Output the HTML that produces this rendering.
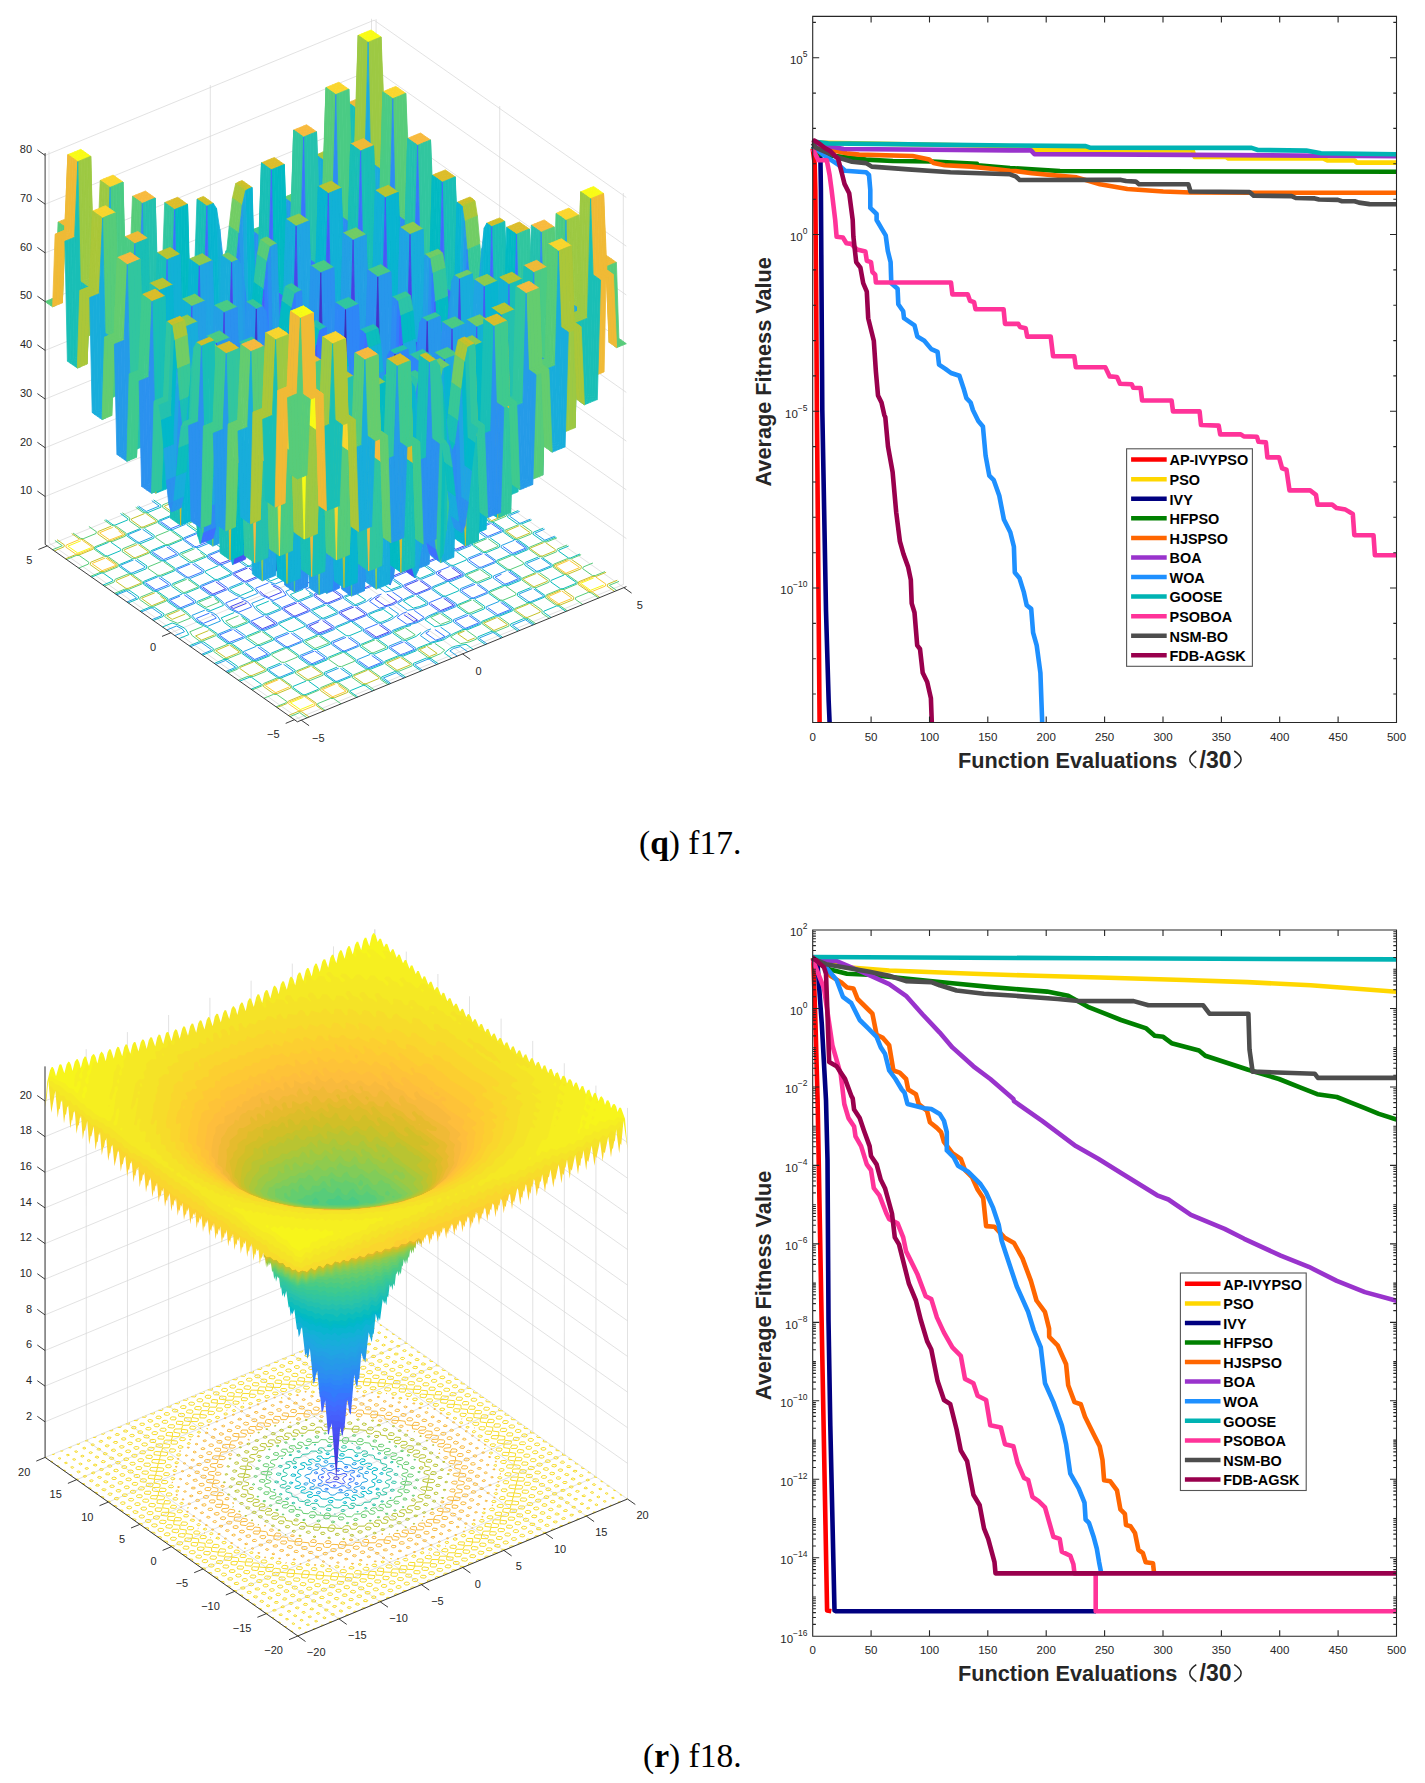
<!DOCTYPE html><html><head><meta charset="utf-8"><style>body{margin:0;background:#fff;width:1425px;height:1783px;overflow:hidden}svg{position:absolute;left:0;top:0}text{font-family:"Liberation Sans",sans-serif;fill:#262626;font-size:11px}.g{fill:none;stroke:#d6d6d6;stroke-width:.7}.ax{fill:none;stroke:#262626;stroke-width:.9}.sf path{stroke-width:8;stroke-linejoin:round}.tk{font-size:11.5px}.sp{font-size:8.5px}.al{font-size:21.7px;font-weight:bold}.lg{font-size:14.45px;font-weight:bold;fill:#000}.cap{font-family:"Liberation Serif",serif;font-size:33.5px;fill:#000}.c0{fill:#3e26a8;stroke:#3e26a8}.c1{fill:#402ab4;stroke:#402ab4}.c2{fill:#422ec0;stroke:#422ec0}.c3{fill:#4332cb;stroke:#4332cb}.c4{fill:#4537d5;stroke:#4537d5}.c5{fill:#463cde;stroke:#463cde}.c6{fill:#4741e5;stroke:#4741e5}.c7{fill:#4747eb;stroke:#4747eb}.c8{fill:#484df0;stroke:#484df0}.c9{fill:#4852f4;stroke:#4852f4}.c10{fill:#4758f8;stroke:#4758f8}.c11{fill:#465efb;stroke:#465efb}.c12{fill:#4563fd;stroke:#4563fd}.c13{fill:#4269fe;stroke:#4269fe}.c14{fill:#3e6fff;stroke:#3e6fff}.c15{fill:#3875fe;stroke:#3875fe}.c16{fill:#327cfc;stroke:#327cfc}.c17{fill:#2f81fa;stroke:#2f81fa}.c18{fill:#2e87f7;stroke:#2e87f7}.c19{fill:#2d8cf3;stroke:#2d8cf3}.c20{fill:#2b91ef;stroke:#2b91ef}.c21{fill:#2797eb;stroke:#2797eb}.c22{fill:#259be8;stroke:#259be8}.c23{fill:#23a0e5;stroke:#23a0e5}.c24{fill:#20a5e3;stroke:#20a5e3}.c25{fill:#1ca9df;stroke:#1ca9df}.c26{fill:#18addb;stroke:#18addb}.c27{fill:#12b1d6;stroke:#12b1d6}.c28{fill:#08b5d0;stroke:#08b5d0}.c29{fill:#01b8ca;stroke:#01b8ca}.c30{fill:#02bac3;stroke:#02bac3}.c31{fill:#0bbdbd;stroke:#0bbdbd}.c32{fill:#19bfb6;stroke:#19bfb6}.c33{fill:#24c1ae;stroke:#24c1ae}.c34{fill:#2cc4a7;stroke:#2cc4a7}.c35{fill:#31c69f;stroke:#31c69f}.c36{fill:#37c897;stroke:#37c897}.c37{fill:#3fca8e;stroke:#3fca8e}.c38{fill:#4acb84;stroke:#4acb84}.c39{fill:#57cc7a;stroke:#57cc7a}.c40{fill:#64cd6f;stroke:#64cd6f}.c41{fill:#72cd64;stroke:#72cd64}.c42{fill:#81cc59;stroke:#81cc59}.c43{fill:#8fcb4e;stroke:#8fcb4e}.c44{fill:#9dc943;stroke:#9dc943}.c45{fill:#abc739;stroke:#abc739}.c46{fill:#b9c431;stroke:#b9c431}.c47{fill:#c5c22a;stroke:#c5c22a}.c48{fill:#d1bf27;stroke:#d1bf27}.c49{fill:#dcbd29;stroke:#dcbd29}.c50{fill:#e6bb2d;stroke:#e6bb2d}.c51{fill:#f0ba36;stroke:#f0ba36}.c52{fill:#f8ba3d;stroke:#f8ba3d}.c53{fill:#febe3c;stroke:#febe3c}.c54{fill:#fec338;stroke:#fec338}.c55{fill:#fec934;stroke:#fec934}.c56{fill:#fccf30;stroke:#fccf30}.c57{fill:#fad62d;stroke:#fad62d}.c58{fill:#f7dc2a;stroke:#f7dc2a}.c59{fill:#f5e327;stroke:#f5e327}.c60{fill:#f5e924;stroke:#f5e924}.c61{fill:#f6ef20;stroke:#f6ef20}.c62{fill:#f7f51b;stroke:#f7f51b}.c63{fill:#f9fb15;stroke:#f9fb15}</style></head><body><svg width="1425" height="1783" viewBox="0 0 1425 1783"><path class="g" d="M49.1 542.9L49.0 151.4M210.4 476.6L210.3 85.1M371.6 410.3L371.5 18.8M45.2 496.5L374.2 361.3M45.2 447.8L374.2 312.5M45.2 399.1L374.2 263.8M45.2 350.4L374.2 215.1M45.2 301.6L374.1 166.4M45.2 252.9L374.1 117.6M45.2 204.2L374.1 68.9M45.1 155.4L374.1 20.2M623.4 584.5L623.3 193.0M499.8 497.6L499.7 106.0M376.2 410.6L376.1 19.1M626.4 538.6L374.2 361.3M626.4 489.9L374.2 312.5M626.4 441.2L374.2 263.8M626.3 392.4L374.2 215.1M626.3 343.7L374.1 166.4M626.3 295.0L374.1 117.6M626.3 246.2L374.1 68.9M626.3 197.5L374.1 20.2M301.3 720.2L49.1 542.9M462.5 653.9L210.4 476.6M623.8 587.6L371.6 410.3M294.4 719.7L623.4 584.5M170.8 632.8L499.8 497.6M47.2 545.9L376.2 410.6"/><g transform="scale(.1)" fill="none" stroke-width="10"><path stroke="#4747eb" d="M3792 6248l99 70l-129 53l-99-70M4076 6132l99 69l-37 15l-99-69M4437 5983l99 70l-129 53l-99-70M3226 6206l99 69l-66 30l-69 26l-99-70l97-43M3553 6071l99 69l-2 8l-129 53l-14-1l-99-69l1-8l129-53M3869 5941l99 70l-59 31l-59 17l-99-69l44-27M4198 5806l99 70l-2 7l-129 53l-14-1l-99-69l1-9l129-53M4516 5675l98 73l-135 53l-99-70l33-17M2653 6166l99 69l-129 53l-99-69M2984 6029l99 70l-3 8l-129 53l-13-1l-99-70l1-7l129-53M3311 5895l99 70l-4 12l-129 53l-21-2l-99-69l2-13l129-53M3637 5761l99 70l-40 26l-31 14l-79 21l-99-69l57-37M3955 5630l99 70l-3 11l-129 53l-23-1l-99-69l4-13l129-53M4273 5500l99 69l-2 7l-129 53l-15 0l-98-70l2-8l129-53M4588 5370l99 70l-129 53l-99-70M3056 5724l59 31l38 44l-129 53l-67-32l-22-18l-26-31l129-53M3362 5599l51 6l31 15l11 23l-13 35l-28 17l-43 5l-47-3l-40-11l-18-20l4-36l22-21l37-10M3701 5459l58 32l39 42l-129 53l-68-31l-23-18l-24-32l129-53M2728 5859l60 31l29 32l-129 53l-48-24l-42-39M4018 5329l58 31l31 31l-129 53l-50-23l-23-18l-17-22M2457 6026l7 7l-129 53l-29-20l129-53M4391 5230l8 7l-129 53l-28-20l129-53M2158 5818l99 70l-129 53l-99-70M2490 5682l99 69l-3 8l-129 54l-14-2l-98-70l1-7l129-53M2817 5547l99 70l-4 13l-129 53l-22-3l-99-69l3-12l129-53M3143 5413l99 70l-40 27l-30 14l-81 21l-98-70l58-36M3461 5283l98 69l-1 12l-129 53l-24-1l-99-70l4-12l129-53M3778 5152l99 70l-1 7l-129 53l-15-1l-99-69l3-8l129-53M4093 5022l99 70l-129 53l-99-70M2237 5510l99 70l-65 30l-70 25l-99-69M2564 5375l99 70l-1 8l-129 53l-15-1l-99-70l3-7l129-53M2880 5246l99 69l-27 19l-31 14l-60 16l-99-70l46-26M3209 5111l99 69l-1 8l-129 53l-15-1l-99-70l3-7l129-53M3527 4980l98 69l0 4l-129 53l-105-70M2309 5205l99 70l-129 53l-99-70M2592 5089l99 69l-36 15l-99-69M2954 4940l99 69l-129 53l-99-69"/><path stroke="#3875fe" d="M3717 6555l99 69l-129 53l-99-69M4045 6420l98 70l-1 4l-97 40l-40 13l-99-70l0-5l129-53M4349 6295l99 69l-48 24l-43 14l-99-70l34-20M4689 6155l99 70l-1 4l-129 53l-9 0l-98-70l0-5l129-53M5007 6024l99 70l-129 53l-99-70M3151 6512l99 69l-131 57l-104-70l0-4l129-53M3482 6376l99 69l-5 11l-129 53l-17-1l-99-70l0-11l129-53M3809 6241l99 70l-6 14l-129 53l-26-1l-99-69l1-17l129-53M4142 6104l99 70l-49 32l-31 14l-91 24l-99-69l35-28l29-16l34-12M4453 5977l98 69l-4 14l-129 53l-28-1l-98-69l2-17l129-53M4770 5846l99 70l-3 9l-129 53l-20 0l-99-69l3-13l129-53M5085 5717l99 69l-97 43l-38 13l-99-70l65-30M2578 6472l98 70l-129 53l-98-70M2913 6334l99 70l-5 11l-129 53l-18-2l-99-69l1-11l129-53M3244 6198l99 70l-8 18l-129 53l-31-2l-99-70l1-18l129-53M3570 6064l99 70l-8 22l-129 53l-40-3l-99-69l3-24l129-53M3924 5919l99 69l-72 48l-31 14l-126 32l-99-69l58-44l29-16l33-12M4213 5800l99 69l-6 21l-129 53l-42-1l-99-69l5-25l129-53M4530 5669l99 70l-4 16l-129 53l-35 0l-99-70l5-20l129-53M4845 5540l99 69l-2 10l-129 53l-21 0l-99-70l4-12l129-53M5158 5411l99 70l-129 53l-99-70M2336 6296l99 69l-2 5l-137 53l-99-70l0-4l129-53M2671 6158l99 70l-7 15l-129 53l-25-2l-99-70l1-14l129-53M3002 6022l99 70l-9 23l-129 53l-40-3l-98-70l2-22l129-53M3328 5888l99 70l-9 27l-129 53l-49-4l-99-69l5-28l129-53M3703 5734l99 69l-94 62l-31 14l-153 39l-99-70l107-71l33-12M3970 5624l99 70l-6 26l-129 53l-51-3l-99-69l7-29l129-53M4287 5494l99 69l-4 21l-129 54l-44-2l-99-69l7-25l129-53M4602 5364l99 70l-3 14l-129 53l-30-1l-99-69l6-17l129-53M4914 5236l99 69l0 4l-129 53l-10 0l-99-69l3-5l129-53M3004 5691l101 41l27 16l68 84l-129 53l-129-59l-23-18l-61-73l129-53M3301 5569l154 11l23-2l39 12l-29 121l-13 27l-30-8l-29 2l-151-11l-27-6l-33 3l1-28l31-120l42-6M3649 5426l67 27l58 31l71 83l-129 53l-132-58l-40-38l-41-54l129-53M2710 5839l69 27l27 16l20 20l35 50l-129 53l-107-48l-23-19l-46-56l129-53M3999 5309l65 28l27 17l21 19l39 49l-129 53l-82-31l-30-16l-22-18l-42-58l129-53M2415 5988l60 30l20 20l21 31l-129 53l-76-36l-23-18l-32-38l129-53M4348 5193l57 32l46 49l-129 53l-52-19l-29-16l-23-18l-27-39l129-53M2113 6140l27 16l23 25l-129 53l-36-20l-34-30l129-53M4692 5079l26 17l25 24l-129 53l-38-18l-32-32l129-53M1842 5948l99 70l-2 5l-129 53l-8-1l-99-70l0-4l97-40M2177 5810l99 70l-6 17l-129 53l-27-4l-99-69l3-14l129-53M2507 5675l99 69l-7 24l-129 54l-41-5l-99-70l4-21l129-53M2833 5540l99 70l-7 29l-129 53l-50-5l-99-70l6-26l129-53M3209 5386l99 70l-93 63l-30 14l-155 37l-99-70l108-69l71-22M3476 5276l99 70l-5 27l-129 53l-53-3l-99-70l9-27l129-53M3793 5146l99 70l-3 22l-129 53l-46-3l-99-69l9-23l129-53M4107 5017l99 69l-1 15l-129 53l-31-1l-99-70l7-16l129-53M4420 4888l99 70l0 4l-129 53l-10 0l-99-70l2-5l129-53M1589 5777l98 69l-129 53l-98-69M1924 5639l99 69l-4 12l-129 53l-19-2l-99-70l2-9l129-53M2255 5503l99 69l-5 21l-129 53l-34-5l-99-69l4-17l129-53M2581 5369l99 69l-5 25l-129 53l-43-5l-99-70l6-21l129-53M2935 5223l99 70l-43 33l-56 32l-130 29l-99-70l90-57M3224 5104l99 70l-3 24l-129 53l-45-4l-99-70l8-22l129-53M3541 4974l99 70l-1 18l-129 53l-38-3l-99-69l8-18l129-53M3856 4845l99 69l0 11l-129 53l-23-2l-99-69l5-11l129-53M4169 4716l99 69l-129 53l-99-69M1668 5469l98 69l0 4l-129 53l-105-71M1999 5333l99 69l-3 12l-129 53l-20-3l-99-69l3-9l129-54M2326 5198l98 70l-2 17l-129 53l-29-4l-99-70l4-13l129-53M2659 5061l99 70l-46 34l-31 15l-94 21l-99-69l67-41l34-13M2969 4934l99 69l-1 16l-129 54l-31-4l-99-69l6-15l129-53M3287 4803l98 70l0 11l-129 53l-22-2l-99-70l5-10l129-53M3602 4674l99 72l-129 53l-7 0l-99-70M1739 5164l99 69l-129 53l-99-69M2067 5029l99 70l-1 5l-129 53l-9-1l-99-70l98-44M2371 4904l99 69l-46 26l-45 12l-99-69l36-20M2711 4764l99 70l0 5l-129 53l-10-1l-98-70l66-31M3029 4633l99 70l-129 53l-99-70"/><path stroke="#23a0e5" d="M3908 6834l-74-54l129-53l77 53M4226 6704l-74-53l-1-7l129-53l14 2l74 52M4573 6561l-74-52l38-25l67-18l74 52M4870 6439l-74-52l0-8l129-53l13 2l74 52M5198 6304l-74-52l129-55l77 53M3404 6683l99 70l-4 7l-129 53l-13 0l-98-70l-1-8l129-53M3735 6547l99 70l-8 14l-129 53l-25-1l-98-69l-1-17l129-53M4061 6413l99 70l-8 18l-129 53l-33-1l-99-70l0-22l129-53M4406 6271l99 70l-94 55l-109 29l-99-70l45-38l28-16l34-12M4704 6149l99 69l-6 18l-129 53l-35-1l-99-69l2-23l129-53M5022 6018l99 70l-5 13l-129 53l-28 0l-99-69l3-18l129-53M5337 5889l98 69l-1 7l-129 53l-15 0l-99-69l2-10l129-53M2835 6642l99 70l-5 7l-129 53l-12-1l-99-69l0-8l129-53M3170 6504l99 70l-10 18l-129 53l-29-2l-99-70l-1-19l129-53M3500 6368l99 70l-12 25l-129 53l-43-2l-99-70l0-27l129-53M2984 4927l99 70l-1 28l99 70l48 3l129-54l12-27l129-53l57 4l98 70l-1 28l99 69l48 4l129-53l12-27l129-53l51 5l99 69l-2 29l50 35l125 58l26 17l73 80l72 53l52 7l99 69l-5 28l-129 53l-52-1l-129 53l-6 26l99 70l52 6l98 70l-7 30l-129 53l-53-1l-129 53l-7 26l99 70l51 7l99 69l-9 27l-129 54l-53-2l-94 42l-52 36l-59 30l-149 39l-98 39l-12 28l-129 53l-51-3l-99-69l1-28l-98-70l-49-3l-129 53l-12 28l-129 53l-56-4l-99-70l1-28l-99-70l-48-4l-129 53l-12 28l-129 53l-51-5l-99-70l2-28l-76-52l-125-58l-42-38l-33-42l-70-54l-52-6l-98-70l4-27l129-53l52 1l129-54l6-26l-99-69l-51-7l-99-69l7-31l129-53l53 1l129-53l7-26l-99-69l-51-7l-99-69l10-28l129-53l52 1l96-40l109-68l147-40l100-37l12-28l129-53M4785 5840l98 70l-6 23l-129 53l-48-1l-99-69l5-30l130-53M5099 5711l99 69l-4 16l-129 53l-35 1l-99-70l5-21l129-53M5412 5582l98 70l-1 6l-129 53l-15 1l-99-70l3-9l129-53M3857 6078l-76 18l-98 39l-10 24l99 70l51 5l95-41l69-52l-99-70M4134 5949l-93 42l-64 44l99 69l98-19l101-36l4-28l-99-70M2157 6644l100-40l99 69l-98 42M2597 6464l99 70l-8 16l-129 53l-25-3l-99-69l0-15l129-53M2932 6327l99 69l-13 26l-129 53l-43-3l-99-70l1-26l129-53M4859 5534l99 70l-5 23l-129 53l-51 0l-99-70l9-29l129-53M5171 5406l99 69l-2 14l-129 53l-31 0l-99-69l6-18l129-53M5548 5362l-100 40l-99-69l98-42M3243 6042l-129 53l-8 22l98 70l46 3l129-53l2-23l-99-69M3614 5908l-77 17l-98 39l-6 19l99 69l38 4l95-41l51-39M3891 5778l-94 42l-43 31l99 69l67-13l101-37l4-21l-99-69M4211 5644l-129 53l-5 21l99 70l41 4l129-53l6-24l-99-70M1906 6467l97-40l13 0l99 70l-4 7l-96 40M2356 6288l99 69l-11 22l-129 53l-32-4l-99-70l1-18l129-53M4928 5230l99 70l-3 18l-129 53l-40 0l-99-70l9-22l129-53M5304 5191l-97 40l-13 0l-99-70l4-7l97-40M2646 5981l-129 53l41 61l71 53l53 2l129-53l2-25l-49-35l-58-31M2986 5861l-129 53l32 44l72 54l38 2l129-53l3-19l-76-52M3290 5751l-102 36l28 37l72 53l31 2l95-41l44-31l-49-35l-32-14l-35-6M3640 5602l-65 27l-21 20l-5 38l18 20l49 35l90-22l64-26l4-17l-49-35M3954 5463l-129 53l34 43l72 53l35 4l129-53l6-20l-76-52M4258 5318l-129 53l48 58l72 53l45 5l129-53l10-28l-77-51M2062 6105l71 26l27 17l20 19l25 43l-129 53l-91-43l-23-18l-42-48l129-53M4641 5045l64 29l26 17l54 59l-129 53l-100-40l-22-19l-34-51l129-53M1668 6300l97-40l55 28l25 29l-97 39M5038 5004l-97 39l-45-20l-23-18l-12-18l97-40M2422 5824l-129 53l-10 27l80 50l86 32l129-53l-41-50l-70-54M4035 5161l-129 53l-3 24l49 35l109 50l129-53l-34-53l-69-54M2750 5695l-129 53l-6 20l24 18l55 32l58 22l129-53l-26-35l-70-54M3082 5569l-38 9l-98 39l-4 17l49 34l76 34l64-26l27-17l14-37l-11-23l-49-35M3397 5431l-64 27l-63 41l50 34l40 12l50 3l44-5l64-26l-40-49l-50-34M3717 5297l-129 53l-3 19l50 35l85 39l129-53l-24-37l-20-19l-50-35M1412 6120l97-40l13 0l99 69l-4 7l-96 40M1862 5940l98 70l-9 22l-129 53l-34-5l-99-69l3-18l129-53M4433 4883l99 69l0 19l-129 53l-43-1l-99-70l11-21l129-53M4810 4844l-97 39l-13 0l-99-69l4-7l97-40M2499 5518l-129 53l-6 25l99 69l42 2l129-53l5-21l-99-70M2873 5386l-79 16l-99 39l-4 20l99 70l35 1l96-40l54-37M3147 5255l-65 27l-69 47l98 70l66-15l100-37l6-19l-99-70M3466 5121l-129 53l-2 22l99 70l39 3l129-53l9-23l-99-69M1168 5948l97-39l53 34l48 37l-96 40M1608 5769l99 69l-6 18l-129 53l-27-4l-99-70l2-13l129-53M1943 5631l99 70l-9 29l-129 53l-47-7l-99-69l5-23l129-53M3870 4839l99 69l-1 26l-129 53l-55-3l-99-69l13-27l129-53M4182 4710l99 70l0 15l-129 53l-33-1l-99-70l9-16l129-53M4559 4667l-100 40l-98-71l97-40M2620 5208l-80 16l-99 38l-4 28l99 70l46 1l64-26l58-31l47-33l-99-69M2893 5076l-93 43l-59 46l98 70l95-22l99-37l10-25l-99-69M1351 5599l99 69l-3 9l-129 54l-13-3l-99-69l1-7l129-53M1686 5461l99 70l-5 21l-129 53l-34-5l-99-70l4-16l129-53M2016 5325l99 70l-5 29l-129 53l-49-7l-99-69l6-23l129-53M3301 4797l99 70l0 27l-129 53l-55-5l-99-69l12-25l129-53M3616 4668l98 69l1 19l-129 53l-40-3l-99-69l10-18l129-53M3928 4539l99 70l0 8l-129 53l-17-1l-99-70l5-8l129-53M1426 5293l99 69l-2 9l-129 53l-14-2l-99-70l1-6l129-53M1757 5157l99 69l-3 18l-129 53l-30-5l-98-69l4-13l129-53M2083 5022l99 70l-2 23l-129 53l-39-6l-99-70l6-17l129-53M2428 4880l99 70l-57 45l-30 15l-116 24l-99-70l80-49M2726 4758l99 69l0 22l-129 54l-41-5l-99-70l8-18l129-53M3044 4627l99 70l0 17l-129 53l-33-4l-99-69l8-15l129-53M3359 4498l98 69l1 9l-129 53l-17-2l-99-69l5-8l129-53M1518 5007l74 54l-129 53l-77-53M1846 4872l74 52l0 7l-129 54l-13-3l-74-52M2156 4744l74 53l-20 15l-31 14l-53 14l-75-53M2490 4607l74 52l1 7l-129 53l-13-2l-75-52M2808 4476l74 52l-64 29l-68 26l-74-52"/><path stroke="#0bbdbd" d="M3579 6970l-75-52l-1-11l129-53l21 3l74 52M3894 6840l-75-52l-2-19l129-53l38 5l74 52M4211 6710l-74-52l-2-25l129-53l46 6l74 52M4518 6584l-74-53l49-42l28-16l34-12l105-18l74 52M4854 6446l-75-53l1-25l129-53l44 7l74 52M5180 6311l-74-52l2-20l129-53l33 6l74 52M5511 6175l-74-52l1-11l129-53l18 3l74 52M3088 6813l99 70l-8 12l-129 53l-19-1l-99-70l-1-13l129-53M3423 6676l98 69l-12 23l-129 53l-36-3l-99-69l-2-25l129-53M3058 4621l99 70l1 27l99 70l47 2l129-53l14-26l129-53l53 4l99 70l1 27l99 69l46 4l129-53l14-26l129-53l49 5l99 69l1 28l99 69l53 6l98 70l0 28l77 50l122 60l22 19l52 61l73 53l50 7l99 69l-4 29l99 70l49 7l99 70l-4 26l-129 54l-51 0l-129 53l-5 25l99 70l49 7l99 70l-7 29l-129 53l-51 0l-129 53l-7 25l99 70l48 7l99 70l-9 26l-129 53l-50 0l-129 53l-11 29l-129 53l-52-1l-94 42l-80 52l-31 14l-148 39l-98 39l-13 27l-129 53l-54-2l-129 53l-14 27l-129 53l-49-3l-99-69l-1-27l-99-70l-47-3l-129 53l-13 26l-129 53l-54-3l-99-70l-1-27l-99-70l-46-4l-129 53l-14 26l-129 53l-49-4l-99-70l-1-27l-98-70l-53-5l-99-70l1-28l-76-51l-96-44l-52-34l-73-80l-50-34l-50-7l-99-70l4-29l-99-69l-49-8l-99-69l4-27l129-53l51 0l129-53l5-25l-99-70l-49-8l-99-69l7-29l129-53l51-1l129-53l7-24l-99-70l-48-8l-99-69l9-26l129-53l51-1l129-53l10-28l129-53l52 0l65-26l140-81l182-52l65-26l12-27l129-53l54 1l129-53l14-26l129-53M5350 5883l99 70l-5 19l-129 53l-44 1l-98-70l5-27l129-53M5663 5755l99 69l-3 10l-129 53l-24 1l-99-69l4-15l129-54M3739 6391l-129 53l-10 21l99 70l48 5l129-53l0-25l-99-70M4109 6255l-76 19l-98 39l-8 17l99 70l40 5l95-41l50-40M4386 6127l-64 26l-73 45l99 70l105-22l65-27l2-22l-99-69M4707 5993l-129 53l-7 20l99 69l44 7l129-53l4-26l-99-70M2397 6812l97-39l21 0l99 70l-6 10l-97 39M2855 6634l98 69l-13 24l-129 53l-36-3l-99-70l-2-23l129-53M5425 5577l99 70l-4 19l-129 53l-46 1l-99-70l8-27l129-53M5800 5540l-96 40l-19 0l-99-69l4-11l97-40M3171 6350l-129 53l-9 20l98 69l42 3l129-53l0-20l-99-69M3498 6221l-129 53l-6 13l99 69l28 3l129-53l0-14l-99-70M3829 6095l-71 21l-64 27l-4 10l99 69l20 2l65-26l58-35l-99-69M4145 5957l-64 27l-47 27l99 70l63-16l65-27l1-11l-99-69M4466 5823l-129 53l-4 12l99 70l25 3l129-53l3-15l-99-69M4784 5687l-129 53l-5 18l99 69l36 5l129-53l6-22l-99-69M2143 6634l97-40l38 1l99 70l-11 18l-97 40M5559 5370l-97 40l-35 1l-99-70l8-20l97-40M2598 6307l-129 53l-12 24l99 69l49 2l129-53l0-22l-99-69M2928 6179l-129 53l-6 14l99 69l27 2l129-53l1-13l-99-70M3255 6050l-129 53l-3 7l99 70l14 1l129-53l1-8l-99-69M3549 5933l-98 39l-1 4l98 69l8 1l64-26l38-20l-99-69M3902 5786l-90 41l99 69l97-36l0-4l-74-52M4223 5652l-130 53l-1 7l99 69l13 2l129-53l2-8l-99-69M4540 5516l-129 53l-2 12l99 70l24 3l129-53l4-15l-99-69M4856 5379l-129 53l-3 20l99 70l39 5l129-53l9-26l-98-69M1893 6458l97-40l47 1l99 69l-13 24l-97 40M5316 5199l-97 40l-46 1l-99-70l12-25l97-40M2341 6126l-129 53l29 46l72 53l41 1l129-53l1-18l-76-52M2688 6011l-129 53l17 23l72 53l21 1l129-53l1-10l-76-51M3031 5893l-129 53l27 24l49 34l8 1l129-53l1-4l-25-18M3311 5802l-65 26l59 42l77-32l-49-34M3698 5643l-63 28l3 7l50 35l70-28M3999 5495l-129 53l77 58l7 1l129-53l1-4M4301 5348l-129 53l19 22l72 53l18 2l129-53l4-11l-49-35M4599 5198l-129 53l36 43l72 53l33 4l129-53l9-22l-49-35l-28-16M1625 6270l97-40l58 19l62 30l19 20l27 47l-97 40M5081 5034l-97 39l-79-26l-30-15l-23-19l-34-56l97-40M2105 5960l-129 53l-9 21l80 50l60 22l129-53l-28-35l-70-54M4362 5032l-129 53l-1 18l78 51l55 23l129-53l-22-37l-69-54M2435 5833l-129 53l-4 11l50 34l53 25l129-54l-32-32l-49-35M4047 5170l-129 53l-1 10l50 34l51 25l129-53l-30-34l-49-34M2762 5704l-129 53l-1 4l76 48l129-53l-68-52M3023 5599l-65 28l54 37l71-33l-47-36M3410 5440l-69 29l51 35l72-26M3730 5306l-129 53l-1 4l76 48l129-53l-67-52M1400 6112l97-40l46-1l99 70l-12 24l-97 40M4823 4853l-97 39l-47 0l-99-70l13-23l97-40M1854 5784l-129 53l-9 25l99 70l45 0l129-53l3-20l-98-70M2184 5657l-129 53l-4 14l99 70l26 0l129-53l2-12l-99-69M2512 5528l-129 53l-2 7l99 70l14 0l129-53l1-6l-99-70M2807 5412l-98 38l-1 4l99 70l71-26l38-19l-99-70M3160 5265l-90 40l99 70l96-36l2-4l-99-70M3480 5130l-129 53l-1 7l99 70l12 1l129-53l3-7l-99-70M3797 4994l-129 53l-1 13l99 69l22 2l129-53l6-13l-99-70M4111 4855l-129 53l0 22l99 70l37 4l129-53l12-24l-99-70M1157 5941l97-40l35-1l99 69l-8 20l-97 40M4573 4677l-97 39l-38-1l-99-69l11-18l97-40M1931 5478l-129 53l-6 23l99 69l37 0l129-53l5-17l-99-70M2259 5350l-129 53l-3 15l99 69l25 1l129-53l3-12l-99-70M2593 5225l-39 9l-99 38l-1 11l99 70l18 0l64-26l61-33l-99-70M2907 5087l-64 26l-45 29l99 69l61-17l64-26l4-10l-99-69M3227 4952l-129 53l-1 14l99 69l22 2l129-53l6-13l-99-70M3543 4815l-129 53l0 20l99 70l32 2l129-53l10-19l-99-70M916 5771l96-40l19-1l99 70l-4 11l-96 40M1371 5591l99 69l-8 28l-129 53l-42-7l-99-70l4-19l129-53M3941 4534l99 69l2 24l-129 53l-51-3l-99-70l13-23l129-53M4319 4498l-97 40l-21-1l-99-69l7-10l96-40M2002 5169l-129 53l-4 26l99 70l41 0l129-53l7-20l-99-70M2378 5038l-81 15l-99 39l-1 22l98 69l35 1l95-41l55-36M2650 4906l-64 26l-29 17l-39 32l99 70l100-26l64-27l8-18l-99-69M2969 4771l-129 53l0 25l99 69l38 2l129-53l10-21l-99-70M1110 5423l99 69l-4 15l-129 53l-23-4l-99-70l3-10l129-53M1445 5285l98 69l-5 28l-129 53l-43-7l-99-70l5-19l129-53M3372 4492l99 70l2 24l-129 53l-50-4l-99-70l12-22l129-53M3685 4364l99 69l1 13l-129 53l-28-2l-99-69l8-13l129-53M1205 5135l74 53l-1 11l-129 53l-18-3l-74-53M1536 4999l74 53l-1 20l-129 53l-34-6l-74-52M1863 4865l74 52l-1 26l-129 53l-44-7l-74-52M2212 4722l74 52l-60 49l-31 15l-36 10l-89 14l-74-52M2505 4601l75 52l1 25l-129 53l-46-7l-74-52M2823 4470l74 53l2 19l-129 53l-38-5l-74-52M3137 4341l75 52l1 10l-129 53l-21-2l-74-52"/><path stroke="#57cc7a" d="M2900 7166l97-40l74 53M3252 7104l-74-52l-2-15l129-53l32 2l74 53M3565 6975l-74-52l-4-26l-99-69l-54-4l-129 53l-16 25l-129 53l-42-3l-99-69l-3-26l-99-70l-54-5l-129 54l-16 24l-97 40M3879 6846l-74-52l-3-26l-99-70l-40-2l-129 53l-14 25l98 69l54 6l74 52M5492 6183l-74-52l4-29l-99-70l-48 1l-129 53l-7 22l99 69l47 9l74 52M5811 5547l-97 40l-48 2l-129 53l-6 29l99 70l46 8l99 70l-6 22l-129 54l-48 1l-129 53l-9 29l99 70l46 8l74 53M5827 6045l-74-52l3-17l129-53l26 5l75 52M6167 5905l-74-52l97-39M3989 6566l-129 53l-9 18l99 70l42 5l129-53l-1-22l-99-69M4320 6439l-37 10l-98 39l-7 15l99 70l34 4l95-41l41-34l-99-69M4636 6303l-64 26l-66 39l99 69l93-19l65-26l0-20l-98-69M4957 6169l-129 53l-6 16l98 70l40 6l129-53l1-23l-98-70M2639 6983l97-40l33 2l98 69l-9 15l-97 39M6050 5716l-96 39l-28 2l-99-70l5-17l97-40M3094 6656l-129 53l-13 23l99 69l51 4l129-53l-2-24l-99-70M3423 6528l-129 53l-7 13l99 69l29 3l129-53l-1-14l-99-70M3750 6398l-129 53l-3 7l99 69l14 2l129-53l0-8l-98-69M4044 6281l-100 43l99 69l8 1l64-26l37-20l-99-69M4397 6134l-90 40l99 70l96-36l1-4l-99-69M4717 6000l-129 53l-2 6l99 70l14 2l129-53l1-8l-99-70M5036 5865l-129 53l-4 11l99 70l26 4l129-53l3-16l-99-70M5352 5728l-129 53l-5 19l99 69l42 8l129-54l7-27l-99-69M2383 6802l96-39l54 2l129-53l-1-26l-99-70l-40-3l-129 53l-16 25l-97 40M2853 6486l-129 53l-7 14l98 69l29 2l129-53l0-13l-99-70M3182 6358l-131 57l99 70l137-53l0-4l-98-69M4795 5695l-129 53l-1 4l99 69l7 1l129-53l1-4l-99-70M5111 5558l-129 53l-3 11l99 70l24 4l129-53l5-16l-99-69M5570 5378l-97 40l-49 1l-129 53l-3 22l98 70l46 7l129-53l10-29l97-39M2278 6441l-129 53l-12 21l99 70l43 1l129-53l0-19l-99-69M2610 6315l-129 53l-4 8l99 69l15 1l129-53l0-7l-99-70M4868 5387l-129 53l-1 6l98 70l13 2l129-53l3-8l-99-70M5181 5248l-129 53l-2 17l99 70l33 5l129-53l10-23l-99-70M2027 6265l-129 53l24 38l71 53l36 1l129-53l0-15l-76-52M2386 6158l-129 53l26 24l50 35l40-13l97-40l0-4l-49-35M4644 5230l-129 53l77 58l7 1l129-53l1-5l-24-17M4930 5071l-129 53l31 36l72 53l27 3l129-53l9-18l-49-35l-28-16M1785 6094l-129 53l-9 19l50 35l80 32l129-53l-23-28l-71-54M4687 4901l-129 53l0 15l49 35l73 35l129-53l-18-30l-19-20l-49-35M2117 5969l-129 53l-1 4l49 35l27 13l129-53l-43-34M4375 5041l-129 56l75 49l129-53l-67-52M1534 5918l-129 53l-10 23l99 69l41 0l129-53l2-17l-98-70M1867 5793l-129 53l-3 8l99 70l15 0l129-53l1-7l-99-69M4125 4865l-129 53l0 7l99 69l11 1l129-53l4-7l-99-70M4437 4725l-129 53l0 18l99 70l31 3l129-53l12-21l-99-69M1146 5933l97-40l49-1l129-53l3-22l-98-70l-46-7l-129 53l-10 28l-97 40M1614 5615l-129 53l-5 16l99 69l26 0l130-53l2-12l-99-69M1945 5488l-129 53l-1 5l99 69l136-53l-48-38M3558 4825l-129 53l0 4l99 70l135-53l2-4l-99-69M3872 4687l-129 53l0 13l99 70l21 1l129-53l8-13l-99-70M4334 4508l-97 40l-54-2l-129 53l1 26l99 69l41 4l129-53l15-25l97-40M905 5763l97-39l48-2l129-53l6-29l-99-70l-46-9l-99-69l6-23l129-53l48-1l130-53l8-29l-99-70l-46-9l-74-52M1357 5434l-129 53l-7 28l99 69l44-1l129-53l5-19l-99-70M1688 5308l-129 53l-2 16l98 69l25 0l129-53l4-11l-99-70M2017 5180l-129 53l-1 8l99 69l13 0l129-53l2-6l-99-69M2312 5064l-98 38l-1 5l99 69l72-26l37-19l-98-69M2665 4917l-89 40l99 70l96-36l1-4l-99-69M2985 4782l-129 53l0 7l99 70l11 1l129-53l3-7l-99-70M3301 4645l-129 53l1 14l99 70l21 1l129-53l7-13l-99-70M3614 4506l-129 53l2 24l99 69l36 3l129-53l13-23l-99-69M3151 4335l75 52l3 26l99 70l54 3l129-53l16-25l129-53l42 3l99 70l3 26l99 70l54 4l129-53l16-24l97-40M666 5595l96-40l29-1l98 69l-5 18l-97 40M4077 4328l-97 40l-32-2l-99-70l10-14l96-40M1224 5128l74 52l-4 29l99 69l48 0l129-53l7-22l-99-70l-47-8l-74-52M1756 4996l-129 53l-1 24l99 69l34 0l129-53l7-17l-99-69M2092 4873l-40 8l-99 38l0 19l99 70l28 0l64-26l78-44l-99-70M2405 4733l-65 27l-59 43l99 70l87-24l64-27l7-14l-99-70M2724 4599l-129 53l1 22l99 69l32 1l129-53l9-18l-99-69M2837 4464l74 53l3 26l99 70l40 2l129-53l15-25l-99-70l-54-5l-74-52M549 5405l74 52l-97 40M889 5265l75 52l-4 18l-129 53l-26-5l-74-52M3464 4207l74 52l2 15l-129 53l-32-3l-74-52M3816 4145l-97 39l-74-52"/><path stroke="#c5c22a" d="M2884 7155l97-40l37 3l74 52M3239 7109l-74-52l-4-26l-99-69l-49-4l-129 53l-16 25l-97 39M6061 5723l-97 40l-48 2l-129 53l-6 26l99 69l45 9l74 53M6146 5914l-74-52l5-20l96-40M3344 6832l-129 53l-12 19l99 69l45 4l129-53l-3-21l-99-70M3673 6703l-129 53l-6 10l99 70l23 2l129-53l-1-11l-99-70M3999 6574l-130 56l98 70l9 1l129-53l0-5l-99-69M4259 6469l-64 27l99 70l77-32l-99-70M4646 6310l-68 29l99 69l70-28M4967 6176l-130 56l99 70l7 1l129-53l1-5l-99-69M5285 6040l-129 53l-2 9l98 69l20 4l129-53l2-13l-99-69M5602 5903l-129 53l-5 16l99 70l38 7l129-53l4-24l-99-70M2774 6790l-129 53l-13 20l99 70l45 2l129-53l-2-20l-99-70M3105 6663l-129 53l-4 7l99 70l15 1l129-53l0-7l-99-70M5362 5735l-129 53l-1 6l99 70l13 2l129-53l2-9l-99-69M5676 5596l-129 53l-3 17l99 69l36 7l129-53l7-25l-99-69M2533 6620l-129 53l-7 11l99 70l23 1l129-53l-1-11l-98-69M5435 5427l-129 53l-1 9l99 69l18 3l129-53l4-12l-99-70M2290 6450l-132 57l99 69l9 1l97-40l32-17l-99-70M5192 5256l-129 56l99 70l7 1l129-53l1-5l-98-69M2085 6306l-129 53l60 42l129-53M4988 5112l-129 53l58 42l131-53M1797 6103l-129 54l54 37l129-53M4700 4910l-129 54l54 37l129-53M1548 5928l-130 53l-1 4l98 70l9 0l129-53l0-4l-49-35M4450 4734l-129 53l0 4l105 70l129-53l3-4l-99-70M1294 5750l-129 53l-4 12l99 69l21 0l129-53l1-9l-99-69M4197 4556l-129 53l1 10l99 70l15 1l129-53l7-10l-99-70M1037 5569l-129 53l-7 24l99 70l40-2l129-53l3-16l-99-70M1372 5445l-129 53l-2 8l99 70l14 0l129-53l1-6l-99-70M3630 4517l-129 53l0 7l99 70l11 0l129-53l4-7l-99-69M3940 4375l-129 53l2 21l99 69l30 3l129-53l13-21l-99-69M655 5588l97-40l48-2l129-53l6-26l-99-70l-45-9l-74-52M1111 5262l-129 53l-4 24l99 70l37-2l129-53l5-16l-99-69M1444 5136l-129 53l-2 12l99 70l19-1l129-53l3-8l-99-70M1773 5008l-129 53l-1 4l99 70l136-53l-23-21M2034 4904l-65 27l99 70l78-32l-99-70M2421 4745l-69 29l99 69l70-28M2740 4610l-129 53l0 4l99 70l138-56l-99-70M3056 4473l-129 53l1 11l99 70l16 0l129-53l6-9l-99-70M3369 4333l-129 53l3 22l99 69l30 2l129-53l12-19l-99-70M3477 4201l74 52l5 26l98 70l49 3l129-53l16-24l97-40M570 5397l74 52l-5 20l-96 40M3832 4156l-96 40l-38-3l-74-52"/><path stroke="#fec934" d="M3024 6966l-129 53l-12 16l99 70l39 3l129-53l-3-18l-99-70M3354 6839l-131 57l99 69l9 1l129-53l-75-57M5612 5910l-130 57l106 71l129-53l1-5l-99-70M5926 5772l-129 53l-3 13l99 70l31 6l129-53l5-21l-99-69M2784 6797l-129 53l-2 5l99 69l9 1l129-54M5687 5604l-130 56l99 70l7 1l129-53l2-5l-99-69M1053 5580l-129 53l-2 5l99 69l137-53l1-4l-99-69M3955 4386l-129 53l1 4l99 70l135-53l2-4l-99-69M792 5396l-129 54l-5 21l99 69l33-1l129-53l3-14l-99-69M1128 5273l-129 53l-1 5l99 69l136-53l-48-38M3385 4345l-129 53l1 4l99 70l135-53l2-4l-99-69M3695 4203l-129 53l3 18l99 69l24 2l129-53l12-17l-99-69"/><path stroke="#f9fb15" d="M3034 6973l-130 54l99 69l131-54M5937 5779l-130 54l99 70l131-53M808 5408l-129 54l99 69l131-53M3711 4214l-129 54l99 70l130-53"/></g><g class="sf" transform="scale(.1)"><path class="c51" d="M3548 1000l32-13l25 17l-32 13zM3516 1013l32-13l25 17l-33 14zM3540 1031l33-14l24 18l-32 13zM3483 1027l33-14l24 18l-32 13z"/><path class="c63" d="M3679 313l32-13l25 17l-32 14z"/><path class="c51" d="M3508 1044l32-13l25 17l-32 13z"/><path class="c32" d="M3451 2221l32-1194l25 17l-32 1195z"/><path class="c63" d="M3704 331l32-14l24 18l-32 13zM3647 326l32-13l25 18l-33 13z"/><path class="c51" d="M3533 1061l32-13l25 17l-33 14z"/><path class="c32" d="M3476 2239l32-1195l25 17l-32 1195z"/><path class="c63" d="M3728 348l32-13l25 17l-32 13zM3671 344l33-13l24 17l-32 13zM3614 340l33-14l24 18l-32 13z"/><path class="c32" d="M3501 2256l32-1195l24 18l-32 1195z"/><path class="c44" d="M3810 369l32 730l25 1199l-32-729z"/><path class="c63" d="M3753 365l32-13l25 17l-32 14zM3696 361l32-13l25 17l-32 14zM3639 357l32-13l25 17l-32 13zM3582 353l32-13l25 17l-32 13z"/><path class="c44" d="M3525 2274l32-1195l25-726l-32 1195zM3778 383l32-14l25 1200l-32 13z"/><path class="c63" d="M3721 379l32-14l25 18l-33 13zM3664 374l32-13l25 18l-33 13zM3607 370l32-13l25 17l-33 14z"/><path class="c44" d="M3550 1548l32-1195l25 17l-32 1195zM3745 396l33-13l25 1199l-33 13z"/><path class="c63" d="M3688 392l33-13l24 17l-32 13zM3631 388l33-14l24 18l-32 13z"/><path class="c44" d="M3575 1565l32-1195l24 18l-32 1195zM3770 1595l33-13l24 17l-32 13zM3713 409l32-13l25 1199l-32 13z"/><path class="c63" d="M3656 405l32-13l25 17l-32 13z"/><path class="c44" d="M3599 1583l32-1195l25 17l-32 1195zM3795 1612l32-13l25 18l-32 13zM3738 1608l32-13l25 17l-32 14zM3681 422l32-13l25 1199l-32 14zM3624 1600l32-1195l25 17l-32 1195z"/><path class="c45" d="M3225 1522l33-13l24 18l-32 13z"/><path class="c44" d="M3763 1626l32-14l25 18l-32 13zM3706 1622l32-14l25 18l-32 13z"/><path class="c25" d="M3649 1617l32-1195l25 1200l-32 1195z"/><path class="c45" d="M3193 1536l32-14l25 18l-32 13z"/><path class="c44" d="M3788 1643l32-13l25 17l-33 13zM3731 1639l32-13l25 17l-33 13z"/><path class="c45" d="M3218 1553l32-13l25 17l-32 13zM3161 1549l32-13l25 17l-32 13z"/><path class="c57" d="M3926 877l32-13l25 17l-32 13z"/><path class="c44" d="M3755 1656l33-13l24 17l-32 14z"/><path class="c25" d="M3699 2834l32-1195l24 17l-32 1195z"/><path class="c57" d="M3356 836l33-14l24 18l-32 13z"/><path class="c45" d="M3186 1566l32-13l25 17l-33 14z"/><path class="c26" d="M3129 2695l32-1146l25 17l-32 1147z"/><path class="c57" d="M3951 894l32-13l25 17l-32 14zM3894 890l32-13l25 17l-32 14z"/><path class="c44" d="M3780 1674l32-14l25 18l-32 13z"/><path class="c25" d="M3723 2851l32-1195l25 18l-32 1195z"/><path class="c57" d="M3381 853l32-13l25 17l-32 13zM3324 849l32-13l25 17l-32 13z"/><path class="c45" d="M3210 1584l33-14l24 18l-32 13z"/><path class="c26" d="M3154 2713l32-1147l24 18l-32 1146z"/><path class="c57" d="M3976 912l32-14l25 18l-33 13zM3919 908l32-14l25 18l-33 13zM3862 903l32-13l25 18l-33 13z"/><path class="c25" d="M3748 2869l32-1195l25 17l-32 1195z"/><path class="c57" d="M3406 870l32-13l25 18l-32 13zM3349 866l32-13l25 17l-32 14zM3292 862l32-13l25 17l-32 14z"/><path class="c26" d="M3178 2730l32-1146l25 17l-32 1146z"/><path class="c39" d="M4057 933l33 730l25 1150l-33-730z"/><path class="c57" d="M4000 929l33-13l24 17l-32 13zM3943 925l33-13l24 17l-32 13zM3886 921l33-13l24 17l-32 13zM3829 917l33-14l24 18l-32 13z"/><path class="c38" d="M3773 2886l32-1195l24-774l-32 1195zM3488 892l32 778l25 1200l-33-779z"/><path class="c57" d="M3431 888l32-13l25 17l-33 13zM3374 884l32-14l25 18l-33 13zM3317 880l32-14l25 18l-33 13zM3260 875l32-13l25 18l-33 13z"/><path class="c39" d="M3203 2747l32-1146l25-726l-32 1147zM4025 946l32-13l25 1150l-32 14z"/><path class="c57" d="M3968 942l32-13l25 17l-32 14zM3911 938l32-13l25 17l-32 14zM3854 934l32-13l25 17l-32 13z"/><path class="c38" d="M3797 2112l32-1195l25 17l-32 1195zM3455 905l33-13l24 1199l-32 13z"/><path class="c57" d="M3398 901l33-13l24 17l-32 13zM3341 897l33-13l24 17l-32 13zM3284 893l33-13l24 17l-32 13z"/><path class="c39" d="M3228 2022l32-1147l24 18l-32 1146zM3993 960l32-14l25 1151l-32 13z"/><path class="c57" d="M3936 956l32-14l25 18l-32 13zM3879 951l32-13l25 18l-32 13z"/><path class="c38" d="M3822 2129l32-1195l25 17l-32 1195zM3423 918l32-13l25 1199l-32 14z"/><path class="c57" d="M3366 914l32-13l25 17l-32 14zM3309 910l32-13l25 17l-32 14z"/><path class="c39" d="M3252 2039l32-1146l25 17l-32 1146zM4018 2110l32-13l25 17l-33 13zM3961 973l32-13l25 1150l-33 13z"/><path class="c57" d="M3904 969l32-13l25 17l-33 13z"/><path class="c38" d="M3847 2146l32-1195l25 18l-32 1195zM3448 2118l32-14l25 18l-32 13zM3391 932l32-14l25 1200l-32 13z"/><path class="c57" d="M3334 928l32-14l25 18l-33 13z"/><path class="c39" d="M3277 2056l32-1146l25 18l-32 1146zM4042 2127l33-13l24 18l-32 13zM3985 2123l33-13l24 17l-32 14zM3928 986l33-13l24 1150l-32 14z"/><path class="c38" d="M3872 2164l32-1195l24 17l-32 1195zM3473 2135l32-13l25 17l-33 13zM3416 2131l32-13l25 17l-33 13zM3358 945l33-13l25 1199l-33 13z"/><path class="c39" d="M3302 2074l32-1146l24 17l-32 1146z"/><path class="c40" d="M2903 1947l32-13l25 18l-32 13z"/><path class="c39" d="M4010 2141l32-14l25 18l-32 13zM3953 2137l32-14l25 18l-32 13z"/><path class="c19" d="M3896 2181l32-1195l25 1151l-32 1195z"/><path class="c38" d="M3440 2148l33-13l24 17l-32 14zM3383 2144l33-13l24 17l-32 13z"/><path class="c19" d="M3326 2091l32-1146l25 1199l-32 1146z"/><path class="c40" d="M2871 1961l32-14l25 18l-33 13z"/><path class="c39" d="M4035 2158l32-13l25 17l-32 13zM3978 2154l32-13l25 17l-32 13z"/><path class="c38" d="M3465 2166l32-14l25 18l-32 13zM3408 2161l32-13l25 18l-32 13z"/><path class="c40" d="M2895 1978l33-13l24 17l-32 13zM2838 1974l33-13l24 17l-32 13z"/><path class="c52" d="M4173 1343l33-13l24 17l-32 13z"/><path class="c39" d="M4003 2171l32-13l25 17l-33 14z"/><path class="c19" d="M3946 3349l32-1195l25 17l-32 1195z"/><path class="c51" d="M3604 1399l32-13l25 17l-33 14z"/><path class="c38" d="M3433 2179l32-13l25 17l-32 13z"/><path class="c19" d="M3376 3308l32-1147l25 18l-32 1146z"/><path class="c52" d="M3034 1261l32-14l25 18l-32 13z"/><path class="c40" d="M2863 1991l32-13l25 17l-32 14z"/><path class="c22" d="M2806 3071l32-1097l25 17l-32 1098z"/><path class="c52" d="M4198 1360l32-13l25 18l-32 13zM4141 1356l32-13l25 17l-32 14z"/><path class="c39" d="M4027 2189l33-14l24 18l-32 13z"/><path class="c19" d="M3971 3366l32-1195l24 18l-32 1195z"/><path class="c51" d="M3628 1417l33-14l24 18l-32 13zM3571 1413l33-14l24 18l-32 13z"/><path class="c38" d="M3458 2196l32-13l25 17l-33 14z"/><path class="c19" d="M3401 3325l32-1146l25 17l-32 1146z"/><path class="c52" d="M3059 1278l32-13l25 17l-33 13zM3002 1274l32-13l25 17l-33 13z"/><path class="c40" d="M2888 2009l32-14l25 18l-32 13z"/><path class="c22" d="M2831 3089l32-1098l25 18l-32 1097z"/><path class="c52" d="M4223 1378l32-13l25 17l-32 13zM4166 1374l32-14l25 18l-32 13zM4109 1370l32-14l25 18l-32 13z"/><path class="c19" d="M3995 3384l32-1195l25 17l-32 1195z"/><path class="c51" d="M3653 1434l32-13l25 17l-32 13zM3596 1430l32-13l25 17l-32 13zM3539 1426l32-13l25 17l-32 13z"/><path class="c19" d="M3426 3342l32-1146l24 18l-32 1146z"/><path class="c52" d="M3083 1295l33-13l24 17l-32 14zM3026 1291l33-13l24 17l-32 14zM2969 1287l33-13l24 17l-32 14z"/><path class="c22" d="M2856 3106l32-1097l25 17l-32 1098z"/><path class="c35" d="M4305 1399l32 730l25 1102l-32-730z"/><path class="c52" d="M4248 1395l32-13l25 17l-33 14zM4191 1391l32-13l25 17l-33 14zM4134 1387l32-13l25 17l-33 13zM4077 1383l32-13l25 17l-33 13z"/><path class="c33" d="M4020 3401l32-1195l25-823l-32 1195z"/><path class="c32" d="M3735 1456l32 778l25 1151l-32-779z"/><path class="c51" d="M3678 1451l32-13l25 18l-32 13zM3621 1447l32-13l25 17l-32 14zM3564 1443l32-13l25 17l-32 14zM3507 1439l32-13l25 17l-32 13z"/><path class="c32" d="M3450 3360l32-1146l25-775l-32 1146z"/><path class="c33" d="M3165 1317l32 827l25 1199l-32-827z"/><path class="c52" d="M3108 1313l32-14l25 18l-32 13zM3051 1309l32-14l25 18l-32 13zM2994 1305l32-14l25 18l-32 13zM2937 1300l32-13l25 18l-32 13z"/><path class="c35" d="M2881 3124l32-1098l24-726l-32 1098zM4272 1413l33-14l25 1102l-33 13z"/><path class="c52" d="M4215 1409l33-14l24 18l-32 13zM4158 1404l33-13l24 18l-32 13zM4101 1400l33-13l24 17l-32 14z"/><path class="c33" d="M4045 2578l32-1195l24 17l-32 1195z"/><path class="c32" d="M3703 1469l32-13l25 1150l-32 13z"/><path class="c51" d="M3646 1465l32-14l25 18l-33 13zM3589 1461l32-14l25 18l-33 13zM3532 1456l32-13l25 18l-33 13z"/><path class="c32" d="M3475 2585l32-1146l25 17l-32 1147z"/><path class="c33" d="M3133 1330l32-13l25 1199l-32 13z"/><path class="c52" d="M3076 1326l32-13l25 17l-32 13zM3019 1322l32-13l25 17l-32 13zM2962 1318l32-13l25 17l-32 13z"/><path class="c35" d="M2905 2398l32-1098l25 18l-32 1097zM4240 1426l32-13l25 1101l-32 14z"/><path class="c52" d="M4183 1422l32-13l25 17l-32 13zM4126 1418l32-14l25 18l-32 13z"/><path class="c33" d="M4069 2595l32-1195l25 18l-32 1195z"/><path class="c32" d="M3670 1482l33-13l25 1150l-33 13z"/><path class="c51" d="M3613 1478l33-13l24 17l-32 13zM3556 1474l33-13l24 17l-32 13z"/><path class="c32" d="M3500 2603l32-1147l24 18l-32 1146z"/><path class="c33" d="M3101 1343l32-13l25 1199l-33 13z"/><path class="c52" d="M3044 1339l32-13l25 17l-33 14zM2987 1335l32-13l25 17l-33 14z"/><path class="c35" d="M2930 2415l32-1097l25 17l-32 1098zM4265 2528l32-14l25 18l-32 13zM4208 1439l32-13l25 1102l-32 13z"/><path class="c52" d="M4151 1435l32-13l25 17l-32 13z"/><path class="c33" d="M4094 2613l32-1195l25 17l-32 1195z"/><path class="c32" d="M3695 2632l33-13l24 18l-32 13zM3638 1495l32-13l25 1150l-32 14z"/><path class="c51" d="M3581 1491l32-13l25 17l-32 14z"/><path class="c32" d="M3524 2620l32-1146l25 17l-32 1146z"/><path class="c33" d="M3125 2542l33-13l24 18l-32 13zM3068 1357l33-14l24 1199l-32 14z"/><path class="c52" d="M3011 1353l33-14l24 18l-32 13z"/><path class="c35" d="M2955 2433l32-1098l24 18l-32 1097zM4233 2541l32-13l25 17l-33 13zM4176 1452l32-13l25 1102l-32 13z"/><path class="c33" d="M4119 2630l32-1195l25 17l-32 1195z"/><path class="c32" d="M3720 2650l32-13l25 17l-32 13zM3663 2646l32-14l25 18l-32 13zM3606 1509l32-14l25 1151l-32 13zM3549 2637l32-1146l25 18l-32 1146z"/><path class="c33" d="M3150 2560l32-13l25 17l-32 13zM3093 2556l32-14l25 18l-32 13zM3036 1370l32-13l25 1199l-32 13z"/><path class="c35" d="M2979 2450l32-1097l25 17l-32 1097z"/><path class="c37" d="M2580 2275l33-13l24 17l-32 13z"/><path class="c35" d="M4201 2554l32-13l24 17l-32 13z"/><path class="c15" d="M4144 2647l32-1195l25 1102l-33 1195z"/><path class="c32" d="M3688 2663l32-13l25 17l-33 14zM3631 2659l32-13l25 17l-33 13z"/><path class="c14" d="M3574 2655l32-1146l25 1150l-32 1146z"/><path class="c33" d="M3118 2573l32-13l25 17l-32 14zM3061 2569l32-13l25 17l-32 13z"/><path class="c15" d="M3004 2467l32-1097l25 1199l-32 1098z"/><path class="c37" d="M2548 2288l32-13l25 17l-32 14z"/><path class="c35" d="M4225 2571l32-13l25 18l-32 13z"/><path class="c32" d="M3712 2681l33-14l24 18l-32 13zM3655 2676l33-13l24 18l-32 13z"/><path class="c33" d="M3143 2591l32-14l25 18l-33 13zM3086 2586l32-13l25 18l-33 13z"/><path class="c37" d="M2573 2306l32-14l25 18l-32 13zM2516 2302l32-14l25 18l-32 13z"/><path class="c49" d="M4421 1712l32-13l25 17l-33 13z"/><path class="c15" d="M4193 3766l32-1195l25 18l-32 1195z"/><path class="c46" d="M3851 1866l32-14l25 18l-32 13z"/><path class="c32" d="M3680 2694l32-13l25 17l-32 13z"/><path class="c14" d="M3623 3823l32-1147l25 18l-32 1146z"/><path class="c46" d="M3281 1824l32-13l25 17l-32 14z"/><path class="c33" d="M3110 2604l33-13l24 17l-32 13z"/><path class="c49" d="M2711 1588l33-13l24 17l-32 14z"/><path class="c37" d="M2541 2319l32-13l25 17l-33 13z"/><path class="c49" d="M4445 1729l33-13l24 17l-32 14zM4388 1725l33-13l24 17l-32 14z"/><path class="c46" d="M3876 1883l32-13l25 17l-33 13zM3819 1879l32-13l25 17l-33 13z"/><path class="c14" d="M3648 3840l32-1146l25 17l-32 1146z"/><path class="c46" d="M3306 1842l32-14l25 18l-32 13zM3249 1838l32-14l25 18l-32 13z"/><path class="c33" d="M3135 2621l32-13l25 17l-32 14z"/><path class="c15" d="M3078 3701l32-1097l25 17l-32 1098z"/><path class="c49" d="M2736 1606l32-14l25 18l-32 13zM2679 1601l32-13l25 18l-32 13z"/><path class="c37" d="M2565 2336l33-13l24 17l-32 14z"/><path class="c20" d="M2509 3368l32-1049l24 17l-32 1049z"/><path class="c49" d="M4470 1747l32-14l25 18l-32 13zM4413 1743l32-14l25 18l-32 13zM4356 1738l32-13l25 18l-32 13z"/><path class="c46" d="M3900 1900l33-13l24 17l-32 14zM3843 1896l33-13l24 17l-32 14zM3786 1892l33-13l24 17l-32 13zM3331 1859l32-13l25 17l-33 13zM3274 1855l32-13l25 17l-33 13zM3217 1851l32-13l25 17l-33 13z"/><path class="c15" d="M3103 3719l32-1098l25 18l-32 1097z"/><path class="c49" d="M2761 1623l32-13l25 17l-32 13zM2704 1619l32-13l25 17l-32 13zM2647 1615l32-14l25 18l-32 13z"/><path class="c20" d="M2533 3385l32-1049l25 18l-32 1048z"/><path class="c32" d="M4552 1768l32 730l25 1053l-32-730z"/><path class="c49" d="M4495 1764l32-13l25 17l-32 13zM4438 1760l32-13l25 17l-32 13zM4381 1756l32-13l25 17l-32 13zM4324 1752l32-14l25 18l-32 13z"/><path class="c30" d="M4267 3819l32-1195l25-872l-32 1195z"/><path class="c28" d="M3982 1922l33 778l24 1102l-32-779z"/><path class="c46" d="M3925 1918l32-14l25 18l-32 13zM3868 1914l32-14l25 18l-32 13zM3811 1909l32-13l25 18l-32 13zM3754 1905l32-13l25 17l-32 14z"/><path class="c27" d="M3698 3875l32-1146l24-824l-32 1147zM3412 1881l33 827l25 1150l-33-827z"/><path class="c46" d="M3355 1876l33-13l24 18l-32 13zM3298 1872l33-13l24 17l-32 14zM3241 1868l33-13l24 17l-32 14zM3184 1864l33-13l24 17l-32 13z"/><path class="c28" d="M3128 3736l32-1097l24-775l-32 1098z"/><path class="c30" d="M2843 1644l32 876l25 1200l-32-876z"/><path class="c49" d="M2786 1640l32-13l25 17l-33 14zM2729 1636l32-13l25 17l-33 14zM2672 1632l32-13l25 17l-33 13zM2615 1628l32-13l25 17l-33 13z"/><path class="c32" d="M2558 3402l32-1048l25-726l-32 1049zM4520 1781l32-13l25 1053l-32 13z"/><path class="c49" d="M4463 1777l32-13l25 17l-33 14zM4406 1773l32-13l25 17l-33 14zM4349 1769l32-13l25 17l-33 13z"/><path class="c30" d="M4292 2947l32-1195l25 17l-32 1195z"/><path class="c28" d="M3950 1935l32-13l25 1101l-32 14z"/><path class="c46" d="M3893 1931l32-13l25 17l-32 13zM3836 1927l32-13l25 17l-32 13zM3779 1923l32-14l25 18l-32 13z"/><path class="c27" d="M3722 3052l32-1147l25 18l-32 1146zM3380 1894l32-13l25 1150l-32 13z"/><path class="c46" d="M3323 1890l32-14l25 18l-32 13zM3266 1886l32-14l25 18l-32 13zM3209 1881l32-13l25 18l-32 13z"/><path class="c28" d="M3152 2962l32-1098l25 17l-32 1098z"/><path class="c30" d="M2810 1658l33-14l25 1200l-33 13z"/><path class="c49" d="M2753 1654l33-14l24 18l-32 13zM2696 1649l33-13l24 18l-32 13zM2639 1645l33-13l24 17l-32 14z"/><path class="c32" d="M2583 2677l32-1049l24 17l-32 1049zM4487 1795l33-14l25 1053l-33 14z"/><path class="c49" d="M4430 1791l33-14l24 18l-32 13zM4373 1786l33-13l24 18l-32 13z"/><path class="c30" d="M4317 2964l32-1195l24 17l-32 1195z"/><path class="c28" d="M3918 1948l32-13l25 1102l-32 13z"/><path class="c46" d="M3861 1944l32-13l25 17l-33 14zM3804 1940l32-13l25 17l-33 13z"/><path class="c27" d="M3747 3069l32-1146l25 17l-32 1146zM3348 1907l32-13l25 1150l-32 13z"/><path class="c46" d="M3291 1903l32-13l25 17l-32 13zM3234 1899l32-13l25 17l-32 13z"/><path class="c28" d="M3177 2979l32-1098l25 18l-32 1097z"/><path class="c30" d="M2778 1671l32-13l25 1199l-32 13z"/><path class="c49" d="M2721 1667l32-13l25 17l-32 13zM2664 1663l32-14l25 18l-32 13z"/><path class="c32" d="M2607 2694l32-1049l25 18l-32 1048zM4455 1808l32-13l25 1053l-32 13z"/><path class="c49" d="M4398 1804l32-13l25 17l-32 13z"/><path class="c30" d="M4341 2981l32-1195l25 18l-32 1195z"/><path class="c28" d="M3885 1962l33-14l25 1102l-33 13z"/><path class="c46" d="M3828 1957l33-13l24 18l-32 13z"/><path class="c27" d="M3772 3086l32-1146l24 17l-32 1147zM3316 1920l32-13l25 1150l-32 14z"/><path class="c46" d="M3259 1916l32-13l25 17l-33 14z"/><path class="c28" d="M3202 2996l32-1097l25 17l-32 1098z"/><path class="c30" d="M2803 2870l32-13l25 17l-32 13zM2746 1684l32-13l25 1199l-32 13z"/><path class="c49" d="M2689 1680l32-13l25 17l-32 13z"/><path class="c32" d="M2632 2711l32-1048l25 17l-32 1049zM2518 2703l32-13l25 17l-32 14zM4480 2861l32-13l25 17l-32 13zM4423 1821l32-13l25 1053l-32 13z"/><path class="c30" d="M4366 2999l32-1195l25 17l-32 1195z"/><path class="c28" d="M3853 1975l32-13l25 1101l-32 13z"/><path class="c27" d="M3796 3104l32-1147l25 18l-32 1146zM3341 3071l32-14l25 18l-33 13zM3283 1934l33-14l25 1151l-33 13z"/><path class="c28" d="M3227 3014l32-1098l24 18l-32 1097z"/><path class="c30" d="M2828 2887l32-13l25 18l-33 13zM2771 2883l32-13l25 17l-33 14zM2714 1697l32-13l25 1199l-32 14z"/><path class="c32" d="M2657 2729l32-1049l25 17l-32 1049z"/><path class="c35" d="M2258 2510l32-18l25 17l-32 18z"/><path class="c32" d="M4505 2878l32-13l25 17l-33 14zM4448 2874l32-13l25 17l-32 13z"/><path class="c13" d="M4391 3016l32-1195l25 1053l-32 1195z"/><path class="c10" d="M3821 3121l32-1146l25 1101l-32 1147zM3251 3031l32-1097l25 1150l-32 1097z"/><path class="c30" d="M2795 2901l33-14l24 18l-32 13zM2739 2897l32-14l24 18l-32 13z"/><path class="c13" d="M2682 2746l32-1049l25 1200l-33 1048z"/><path class="c33" d="M2226 2656l32-146l25 17l-33 146z"/><path class="c32" d="M4473 2891l32-13l24 18l-32 13z"/><path class="c30" d="M2820 2918l32-13l25 17l-32 13zM2763 2914l32-13l25 17l-32 13z"/><path class="c48" d="M4668 1983l32-13l25 17l-32 14z"/><path class="c32" d="M4497 2909l32-13l25 17l-32 13z"/><path class="c13" d="M4440 4086l33-1195l24 18l-32 1195z"/><path class="c43" d="M4098 2234l33-13l24 17l-32 14z"/><path class="c41" d="M3529 2291l32-14l24 18l-32 13z"/><path class="c43" d="M2959 2152l32-13l25 17l-33 13z"/><path class="c30" d="M2788 2931l32-13l25 17l-32 14z"/><path class="c48" d="M2389 1818l32-13l25 17l-32 14z"/><path class="c47" d="M4693 2001l32-14l25 22l-33 14z"/><path class="c48" d="M4636 1996l32-13l25 18l-33 13z"/><path class="c13" d="M4465 4104l32-1195l25 17l-32 1195z"/><path class="c43" d="M4123 2252l32-14l25 18l-32 13zM4066 2248l32-14l25 18l-32 13z"/><path class="c41" d="M3553 2308l32-13l25 17l-32 13zM3496 2304l33-13l24 17l-32 13z"/><path class="c43" d="M2983 2169l33-13l24 17l-32 14zM2926 2165l33-13l24 17l-32 13z"/><path class="c30" d="M2813 2949l32-14l25 18l-33 13z"/><path class="c13" d="M2756 3980l32-1049l25 18l-32 1048z"/><path class="c48" d="M2414 1836l32-14l25 18l-33 13z"/><path class="c47" d="M2357 1836l32-18l25 18l-33 18z"/><path class="c45" d="M4717 2023l33-14l24 150l-32 14z"/><path class="c47" d="M4660 2014l33-13l24 22l-32 13z"/><path class="c48" d="M4603 2010l33-14l24 18l-32 13z"/><path class="c43" d="M4148 2269l32-13l25 17l-33 13zM4091 2265l32-13l25 17l-33 13zM4034 2261l32-13l25 17l-33 13z"/><path class="c41" d="M3578 2325l32-13l25 17l-32 14zM3521 2321l32-13l25 17l-32 14zM3464 2317l32-13l25 17l-32 13z"/><path class="c43" d="M3008 2187l32-14l25 18l-32 13zM2951 2182l32-13l25 18l-32 13zM2894 2178l32-13l25 17l-32 14z"/><path class="c13" d="M2781 3997l32-1048l24 17l-32 1049z"/><path class="c48" d="M2438 1853l33-13l24 17l-32 13z"/><path class="c47" d="M2381 1854l33-18l24 17l-32 18z"/><path class="c45" d="M2324 1982l33-146l24 18l-32 145z"/><path class="c41" d="M4742 2173l32-14l25 285l-32 13z"/><path class="c45" d="M4685 2036l32-13l25 150l-32 13z"/><path class="c47" d="M4628 2027l32-13l25 22l-32 13z"/><path class="c48" d="M4571 2023l32-13l25 17l-32 13z"/><path class="c28" d="M4539 3218l32-1195l-24 921l-32 1195z"/><path class="c26" d="M4229 2291l33 778l25 1053l-33-779z"/><path class="c43" d="M4172 2286l33-13l24 18l-32 13zM4115 2282l33-13l24 17l-32 14zM4058 2278l33-13l24 17l-32 14zM4002 2274l32-13l24 17l-32 13z"/><path class="c24" d="M3945 4292l32-1146l25-872l-33 1146z"/><path class="c23" d="M3660 2347l32 827l25 1102l-32-828z"/><path class="c41" d="M3603 2343l32-14l25 18l-33 13zM3546 2339l32-14l25 18l-33 13zM3489 2334l32-13l25 18l-33 13zM3432 2330l32-13l25 17l-33 14z"/><path class="c23" d="M3375 4251l32-1097l25-824l-32 1098z"/><path class="c24" d="M3090 2208l32 876l25 1151l-32-877z"/><path class="c43" d="M3033 2204l32-13l25 17l-32 13zM2976 2200l32-13l25 17l-32 13zM2919 2196l32-14l25 18l-32 13zM2862 2192l32-14l25 18l-32 13z"/><path class="c26" d="M2805 4015l32-1049l25-774l-32 1048z"/><path class="c28" d="M2520 1874l32 925l25 1199l-32-924z"/><path class="c48" d="M2463 1870l32-13l25 17l-32 14z"/><path class="c47" d="M2406 1871l32-18l25 17l-32 18z"/><path class="c45" d="M2349 1999l32-145l25 17l-32 146z"/><path class="c41" d="M2292 2262l32-280l25 17l-32 281z"/><path class="c36" d="M4767 2457l32-13l25 318l-32 13z"/><path class="c41" d="M4710 2186l32-13l25 284l-32 13z"/><path class="c45" d="M4653 2049l32-13l25 150l-32 13z"/><path class="c47" d="M4596 2040l32-13l25 22l-32 14z"/><path class="c28" d="M4539 3218l32-1195l25 17l-32 1195z"/><path class="c26" d="M4197 2304l32-13l25 1052l-32 14z"/><path class="c43" d="M4140 2300l32-14l25 18l-32 13zM4083 2296l32-14l25 18l-32 13zM4026 2291l32-13l25 18l-32 13z"/><path class="c24" d="M3969 3420l33-1146l24 17l-32 1147z"/><path class="c23" d="M3627 2360l33-13l25 1101l-33 14z"/><path class="c41" d="M3570 2356l33-13l24 17l-32 13zM3513 2352l33-13l24 17l-32 13zM3456 2348l33-14l24 18l-32 13z"/><path class="c23" d="M3400 3428l32-1098l24 18l-32 1097z"/><path class="c24" d="M3058 2221l32-13l25 1150l-32 14z"/><path class="c43" d="M3001 2217l32-13l25 17l-33 14zM2944 2213l32-13l25 17l-33 14zM2887 2209l32-13l25 17l-33 13z"/><path class="c26" d="M2830 3240l32-1048l25 17l-32 1049z"/><path class="c28" d="M2488 1888l32-14l25 1200l-32 13z"/><path class="c47" d="M2431 1888l32-18l25 18l-32 18z"/><path class="c45" d="M2374 2017l32-146l25 17l-32 146z"/><path class="c41" d="M2317 2280l32-281l25 18l-32 280z"/><path class="c36" d="M2260 2577l32-315l25 18l-32 314zM4735 2470l32-13l25 318l-33 14z"/><path class="c41" d="M4678 2199l32-13l25 284l-33 14z"/><path class="c45" d="M4621 2063l32-14l25 150l-33 13z"/><path class="c28" d="M4564 3235l32-1195l25 23l-32 1195z"/><path class="c26" d="M4165 2317l32-13l25 1053l-32 13z"/><path class="c43" d="M4108 2313l32-13l25 17l-32 13zM4051 2309l32-13l25 17l-32 13z"/><path class="c24" d="M3994 3438l32-1147l25 18l-32 1146z"/><path class="c23" d="M3595 2373l32-13l25 1102l-32 13z"/><path class="c41" d="M3538 2369l32-13l25 17l-32 14zM3481 2365l32-13l25 17l-32 13z"/><path class="c23" d="M3424 3445l32-1097l25 17l-32 1098z"/><path class="c24" d="M3025 2235l33-14l25 1151l-33 13z"/><path class="c43" d="M2968 2231l33-14l24 18l-32 13zM2911 2226l33-13l24 18l-32 13z"/><path class="c26" d="M2855 3258l32-1049l24 17l-32 1049z"/><path class="c28" d="M2456 1906l32-18l25 1199l-32 18z"/><path class="c45" d="M2399 2034l32-146l25 18l-33 145z"/><path class="c41" d="M2342 2297l32-280l25 17l-33 280z"/><path class="c36" d="M2285 2594l32-314l25 17l-33 314zM4702 2484l33-14l24 319l-32 13z"/><path class="c41" d="M4645 2212l33-13l24 285l-32 13z"/><path class="c26" d="M4589 3258l32-1195l24 149l-32 1195zM4133 2330l32-13l25 1053l-32 13z"/><path class="c43" d="M4076 2326l32-13l25 17l-33 14z"/><path class="c24" d="M4019 3455l32-1146l25 17l-32 1146z"/><path class="c23" d="M3563 2387l32-14l25 1102l-32 13z"/><path class="c41" d="M3506 2382l32-13l25 18l-32 13z"/><path class="c23" d="M3449 3463l32-1098l25 17l-32 1098z"/><path class="c24" d="M2993 2248l32-13l25 1150l-32 13z"/><path class="c43" d="M2936 2244l32-13l25 17l-32 13z"/><path class="c26" d="M2879 3275l32-1049l25 18l-32 1049zM2423 2051l33-145l25 1199l-33 146z"/><path class="c41" d="M2366 2314l33-280l24 17l-32 281z"/><path class="c36" d="M2309 2611l33-314l24 17l-32 315z"/><path class="c32" d="M4727 2802l32-13l25 238l-32 13z"/><path class="c36" d="M4670 2497l32-13l25 318l-32 13z"/><path class="c22" d="M4613 3407l32-1195l25 285l-32 1195z"/><path class="c26" d="M4158 3383l32-13l25 17l-33 14zM4100 2344l33-14l25 1053l-33 14z"/><path class="c24" d="M4044 3472l32-1146l24 18l-32 1146z"/><path class="c23" d="M3531 2400l32-13l25 1101l-32 13zM3474 3480l32-1098l25 18l-32 1097z"/><path class="c24" d="M2961 2261l32-13l25 1150l-32 14z"/><path class="c26" d="M2904 3293l32-1049l25 17l-32 1049z"/><path class="c22" d="M2391 2332l32-281l25 1200l-32 280z"/><path class="c36" d="M2334 2629l32-315l25 18l-32 314z"/><path class="c32" d="M4695 2815l32-13l25 238l-32 13z"/><path class="c17" d="M4638 3692l32-1195l25 318l-32 1195z"/><path class="c26" d="M4125 3397l33-14l24 18l-32 13z"/><path class="c7" d="M4068 3490l32-1146l25 1053l-32 1146z"/><path class="c6" d="M3499 3497l32-1097l25 1101l-32 1098z"/><path class="c7" d="M2929 3310l32-1049l25 1151l-32 1048z"/><path class="c17" d="M2359 2646l32-314l25 1199l-32 314z"/><path class="c26" d="M4150 3414l32-13l25 17l-32 13z"/><path class="c41" d="M4346 2506l32-14l25 18l-33 13z"/><path class="c7" d="M4118 4560l32-1146l25 17l-32 1147z"/><path class="c38" d="M3776 2659l32-13l25 17l-32 14zM3206 2618l32-13l25 17l-32 13z"/><path class="c41" d="M2636 2382l32-13l25 17l-32 13zM4370 2523l33-13l24 22l-32 13zM4313 2519l33-13l24 17l-32 13z"/><path class="c38" d="M3801 2677l32-14l25 18l-33 13zM3744 2673l32-14l25 18l-33 13zM3231 2635l32-13l25 18l-33 13zM3174 2631l32-13l25 17l-32 14z"/><path class="c41" d="M2661 2399l32-13l25 17l-32 14zM2604 2400l32-18l25 17l-32 18z"/><path class="c48" d="M4965 2192l32-13l25 17l-33 13z"/><path class="c39" d="M4395 2545l32-13l25 150l-32 13z"/><path class="c41" d="M4338 2536l32-13l25 22l-32 13zM4281 2532l32-13l25 17l-32 14z"/><path class="c38" d="M3825 2694l33-13l24 17l-32 13zM3768 2690l33-13l24 17l-32 13zM3711 2686l33-13l24 17l-32 13zM3255 2653l33-13l24 17l-32 13zM3199 2649l32-14l24 18l-32 13zM3142 2645l32-14l25 18l-33 13z"/><path class="c41" d="M2686 2417l32-14l25 18l-33 13zM2629 2417l32-18l25 18l-33 18z"/><path class="c39" d="M2572 2546l32-146l25 17l-33 146z"/><path class="c48" d="M2002 1977l32-13l25 17l-32 14z"/><path class="c32" d="M5046 2213l33 730l25 956l-33-730z"/><path class="c48" d="M4989 2209l33-13l24 17l-32 14zM4932 2205l33-13l24 17l-32 13z"/><path class="c24" d="M4762 3963l32-1195l25-284l-32 1195z"/><path class="c35" d="M4420 2695l32-13l25 284l-32 14z"/><path class="c39" d="M4363 2558l32-13l25 150l-33 13z"/><path class="c41" d="M4306 2550l32-14l25 22l-33 14zM4249 2545l32-13l25 18l-32 13z"/><path class="c21" d="M3907 2716l32 827l25 1053l-32-828z"/><path class="c38" d="M3850 2711l32-13l25 18l-32 13zM3793 2707l32-13l25 17l-32 14zM3736 2703l32-13l25 17l-32 14zM3679 2699l32-13l25 17l-32 13z"/><path class="c20" d="M3647 3797l32-1098l-25 872l-32 1098zM3337 2674l33 876l25 1102l-33-876z"/><path class="c38" d="M3280 2670l32-13l25 17l-32 14zM3223 2666l32-13l25 17l-32 13zM3166 2662l33-13l24 17l-32 13zM3109 2658l33-13l24 17l-32 13z"/><path class="c21" d="M3077 3707l32-1049l-24 823l-32 1049z"/><path class="c23" d="M2767 2438l33 925l25 1150l-33-924z"/><path class="c41" d="M2710 2434l33-13l24 17l-32 13zM2653 2435l33-18l24 17l-32 18z"/><path class="c39" d="M2596 2563l33-146l24 18l-32 145z"/><path class="c35" d="M2540 2826l32-280l24 17l-32 280z"/><path class="c24" d="M2198 2294l32 288l25 1199l-32-288z"/><path class="c48" d="M2027 1995l32-14l25 18l-33 13zM1970 1991l32-14l25 18l-33 13z"/><path class="c32" d="M5014 2227l32-14l25 956l-32 13z"/><path class="c48" d="M4957 2222l32-13l25 18l-32 13zM4900 2218l32-13l25 17l-32 14z"/><path class="c27" d="M4787 3679l32-1195l24-206l-32 1195z"/><path class="c30" d="M4445 2980l32-14l25 319l-33 13z"/><path class="c35" d="M4387 2708l33-13l25 285l-33 13z"/><path class="c39" d="M4330 2572l33-14l24 150l-32 14z"/><path class="c41" d="M4274 2563l32-13l24 22l-32 13z"/><path class="c23" d="M4217 3692l32-1147l25 18l-33 1146z"/><path class="c21" d="M3875 2729l32-13l25 1052l-32 14z"/><path class="c38" d="M3818 2725l32-14l25 18l-33 13zM3761 2721l32-14l25 18l-33 13zM3704 2716l32-13l25 18l-33 13z"/><path class="c20" d="M3647 3797l32-1098l25 17l-32 1098zM3305 2688l32-14l25 1102l-32 13z"/><path class="c38" d="M3248 2683l32-13l25 18l-32 13zM3191 2679l32-13l25 17l-32 14zM3134 2675l32-13l25 17l-32 14z"/><path class="c21" d="M3077 3707l32-1049l25 17l-32 1049z"/><path class="c23" d="M2735 2451l32-13l25 1151l-32 13z"/><path class="c41" d="M2678 2452l32-18l25 17l-32 18z"/><path class="c39" d="M2621 2580l32-145l25 17l-32 146z"/><path class="c35" d="M2564 2843l32-280l25 17l-32 281z"/><path class="c30" d="M2507 3140l33-314l24 17l-32 315z"/><path class="c27" d="M2165 2084l33 210l25 1199l-33-210z"/><path class="c48" d="M2051 2012l33-13l24 17l-32 13zM1994 2008l33-13l24 17l-32 13z"/><path class="c32" d="M1938 2942l32-951l24 17l-32 951zM4982 2240l32-13l25 955l-32 13z"/><path class="c48" d="M4925 2236l32-14l25 18l-32 13zM4868 2232l32-14l25 18l-32 13z"/><path class="c28" d="M4811 3473l32-1195l25-46l-32 1195z"/><path class="c30" d="M4412 2993l33-13l24 318l-32 13z"/><path class="c35" d="M4355 2722l32-14l25 285l-32 13z"/><path class="c39" d="M4298 2585l32-13l25 150l-32 13z"/><path class="c23" d="M4241 3709l33-1146l24 22l-32 1146z"/><path class="c21" d="M3842 2742l33-13l25 1053l-33 13z"/><path class="c38" d="M3785 2738l33-13l24 17l-32 13zM3728 2734l33-13l24 17l-32 13z"/><path class="c20" d="M3672 3814l32-1098l24 18l-32 1097zM3273 2701l32-13l25 1101l-32 13z"/><path class="c38" d="M3216 2697l32-14l25 18l-33 13zM3159 2693l32-14l25 18l-33 13z"/><path class="c21" d="M3102 3724l32-1049l25 18l-32 1048z"/><path class="c23" d="M2703 2469l32-18l25 1151l-32 18z"/><path class="c39" d="M2646 2598l32-146l25 17l-32 146z"/><path class="c35" d="M2589 2861l32-281l25 18l-32 280z"/><path class="c30" d="M2532 3158l32-315l25 18l-32 314z"/><path class="c28" d="M2133 2034l32 50l25 1199l-32-50z"/><path class="c48" d="M2076 2029l32-13l25 18l-32 13zM2019 2025l32-13l25 17l-32 14z"/><path class="c32" d="M1962 2959l32-951l25 17l-32 952zM4950 2253l32-13l25 955l-32 14z"/><path class="c48" d="M4893 2249l32-13l25 17l-33 13z"/><path class="c28" d="M4836 3427l32-1195l25 17l-32 1195z"/><path class="c30" d="M4380 3006l32-13l25 318l-32 13z"/><path class="c35" d="M4323 2735l32-13l25 284l-32 13z"/><path class="c20" d="M4266 3731l32-1146l25 150l-32 1146z"/><path class="c21" d="M3810 2755l32-13l25 1053l-32 13z"/><path class="c38" d="M3753 2751l32-13l25 17l-32 14z"/><path class="c20" d="M3696 3831l32-1097l25 17l-32 1098zM3240 2714l33-13l25 1101l-33 14z"/><path class="c38" d="M3183 2710l33-13l24 17l-32 13z"/><path class="c21" d="M3127 3741l32-1048l24 17l-32 1049z"/><path class="c20" d="M2671 2615l32-146l25 1151l-32 146z"/><path class="c35" d="M2614 2878l32-280l25 17l-33 281z"/><path class="c30" d="M2557 3175l32-314l25 17l-32 314z"/><path class="c28" d="M2101 2047l32-13l25 1199l-32 13z"/><path class="c48" d="M2044 2043l32-14l25 18l-32 13z"/><path class="c32" d="M1987 2977l32-952l25 18l-32 951zM4917 2266l33-13l25 956l-33 13z"/><path class="c28" d="M4861 3444l32-1195l24 17l-32 1195z"/><path class="c26" d="M4405 3324l32-13l25 238l-32 14z"/><path class="c30" d="M4348 3019l32-13l25 318l-32 14z"/><path class="c16" d="M4291 3881l32-1146l25 284l-32 1147z"/><path class="c21" d="M3778 2769l32-14l25 1053l-32 14z"/><path class="c20" d="M3721 3849l32-1098l25 18l-32 1097zM3208 2727l32-13l25 1102l-32 13z"/><path class="c21" d="M3151 3759l32-1049l25 17l-32 1049z"/><path class="c16" d="M2638 2896l33-281l25 1151l-33 280z"/><path class="c30" d="M2582 3192l32-314l24 18l-32 314z"/><path class="c28" d="M2069 2060l32-13l25 1199l-33 13z"/><path class="c32" d="M2012 2994l32-951l25 17l-33 951z"/><path class="c13" d="M4885 3461l32-1195l25 956l-32 1195z"/><path class="c11" d="M4316 4166l32-1147l25 319l-32 1146z"/><path class="c3" d="M3746 3866l32-1097l25 1053l-32 1097zM3176 3776l32-1049l25 1102l-32 1049z"/><path class="c11" d="M2606 3210l32-314l25 1150l-32 314z"/><path class="c13" d="M2036 3011l33-951l24 1199l-32 952z"/><path class="c49" d="M5162 2233l33-13l24 18l-32 13z"/><path class="c36" d="M4023 2931l32-14l25 18l-32 13z"/><path class="c35" d="M3453 2987l33-13l24 17l-32 13z"/><path class="c36" d="M2884 2848l32-13l25 17l-33 14z"/><path class="c49" d="M1744 1986l32-13l25 17l-32 13zM5187 2251l32-13l25 17l-32 13zM5130 2247l32-14l25 18l-32 13z"/><path class="c36" d="M4048 2948l32-13l25 22l-32 13zM3991 2944l32-13l25 17l-32 13z"/><path class="c35" d="M3478 3004l32-13l25 17l-32 14zM3421 3000l32-13l25 17l-32 13z"/><path class="c36" d="M2908 2866l33-14l24 18l-32 13zM2851 2866l33-18l24 18l-32 18z"/><path class="c49" d="M1769 2003l32-13l25 17l-33 14zM1712 1999l32-13l25 17l-33 14zM5212 2268l32-13l25 17l-32 14zM5155 2264l32-13l25 17l-32 13zM5098 2260l32-13l25 17l-32 13z"/><path class="c41" d="M4642 2714l32-13l25 17l-32 14z"/><path class="c34" d="M4073 2970l32-13l25 150l-33 13z"/><path class="c36" d="M4016 2961l32-13l25 22l-33 13zM3959 2957l32-13l25 17l-33 14z"/><path class="c35" d="M3503 3022l32-14l25 18l-33 13zM3446 3017l32-13l25 18l-32 13zM3389 3013l32-13l25 17l-32 14z"/><path class="c36" d="M2933 2883l32-13l25 17l-32 13zM2876 2884l32-18l25 17l-32 18z"/><path class="c34" d="M2819 3012l32-146l25 18l-32 145z"/><path class="c41" d="M2249 2541l32-13l25 17l-32 13z"/><path class="c49" d="M1793 2021l33-14l24 18l-32 13zM1736 2017l33-14l24 18l-32 13zM1679 2012l33-13l24 18l-32 13z"/><path class="c35" d="M5294 2290l32 730l25 906l-32-730z"/><path class="c49" d="M5237 2286l32-14l25 18l-33 13zM5180 2281l32-13l25 18l-33 13zM5123 2277l32-13l25 17l-33 14zM5066 2273l32-13l25 17l-33 14z"/><path class="c26" d="M4724 2736l32 778l25 956l-32-779z"/><path class="c41" d="M4667 2732l32-14l25 18l-32 13zM4610 2728l32-14l25 18l-32 13z"/><path class="c18" d="M4439 4437l32-1147l25-284l-32 1147z"/><path class="c30" d="M4097 3120l33-13l24 284l-32 14z"/><path class="c34" d="M4040 2983l33-13l24 150l-32 13z"/><path class="c36" d="M3983 2975l33-14l24 22l-32 14zM3926 2970l33-13l24 18l-32 13z"/><path class="c18" d="M3584 3043l33 876l25 1053l-33-876z"/><path class="c35" d="M3527 3039l33-13l24 17l-32 13zM3471 3035l32-13l24 17l-32 13zM3414 3031l32-14l25 18l-33 13zM3357 3027l32-14l25 18l-33 13z"/><path class="c19" d="M3015 2904l32 925l25 1102l-32-925z"/><path class="c36" d="M2958 2900l32-13l25 17l-33 14zM2901 2901l32-18l25 17l-33 18z"/><path class="c34" d="M2844 3029l32-145l25 17l-32 146z"/><path class="c30" d="M2787 3292l32-280l25 17l-32 281z"/><path class="c18" d="M2445 2858l32 288l25 1150l-32-288z"/><path class="c41" d="M2274 2558l32-13l25 18l-32 13zM2217 2554l32-13l25 17l-32 14z"/><path class="c30" d="M1875 2042l32 1022l25 1200l-32-1023z"/><path class="c49" d="M1818 2038l32-13l25 17l-32 14zM1761 2034l32-13l25 17l-32 13zM1704 2030l32-13l25 17l-32 13zM1647 2026l32-14l25 18l-32 13z"/><path class="c35" d="M5261 2303l33-13l25 906l-33 14z"/><path class="c49" d="M5204 2299l33-13l24 17l-32 13zM5147 2295l33-14l24 18l-32 13zM5090 2291l33-14l24 18l-32 13z"/><path class="c30" d="M5034 3468l32-1195l24 18l-32 1195z"/><path class="c26" d="M4692 2749l32-13l25 955l-32 13z"/><path class="c41" d="M4635 2745l32-13l25 17l-33 13zM4578 2741l32-13l25 17l-33 13z"/><path class="c22" d="M4464 4153l32-1147l25-205l-32 1146z"/><path class="c25" d="M4122 3405l32-14l25 319l-32 13z"/><path class="c30" d="M4065 3133l32-13l25 285l-32 13z"/><path class="c34" d="M4008 2997l32-14l25 150l-32 14z"/><path class="c36" d="M3951 2988l32-13l25 22l-32 13z"/><path class="c19" d="M3894 4068l32-1098l25 18l-32 1097z"/><path class="c18" d="M3552 3056l32-13l25 1053l-32 13z"/><path class="c35" d="M3495 3052l32-13l25 17l-32 14zM3438 3048l33-13l24 17l-32 14zM3381 3044l33-13l24 17l-32 13z"/><path class="c18" d="M3325 4075l32-1048l24 17l-32 1049z"/><path class="c19" d="M2982 2918l33-14l25 1102l-33 13z"/><path class="c36" d="M2925 2918l33-18l24 18l-32 18z"/><path class="c34" d="M2869 3047l32-146l24 17l-32 146z"/><path class="c30" d="M2812 3310l32-281l25 18l-33 280z"/><path class="c22" d="M2413 2648l32 210l25 1150l-32-210z"/><path class="c41" d="M2299 2576l32-13l25 17l-33 13zM2242 2572l32-14l25 18l-33 13z"/><path class="c26" d="M2185 3506l32-952l25 18l-32 951z"/><path class="c30" d="M1843 2056l32-14l25 1199l-32 14z"/><path class="c49" d="M1786 2051l32-13l25 18l-32 13zM1729 2047l32-13l25 17l-32 14zM1672 2043l32-13l25 17l-32 14z"/><path class="c35" d="M1615 2928l32-902l25 17l-32 903zM5229 2316l32-13l25 907l-32 13z"/><path class="c49" d="M5172 2312l32-13l25 17l-32 13zM5115 2308l32-13l25 17l-32 13z"/><path class="c30" d="M5058 3486l32-1195l25 17l-32 1195z"/><path class="c26" d="M4659 2762l33-13l25 955l-33 14z"/><path class="c41" d="M4602 2758l33-13l24 17l-32 14zM4545 2754l33-13l24 17l-32 13z"/><path class="c23" d="M4489 3947l32-1146l24-47l-32 1146z"/><path class="c25" d="M4090 3418l32-13l25 318l-32 13z"/><path class="c30" d="M4033 3147l32-14l25 285l-32 13z"/><path class="c34" d="M3976 3010l32-13l25 150l-32 13z"/><path class="c19" d="M3919 4085l32-1097l25 22l-32 1097z"/><path class="c18" d="M3520 3070l32-14l25 1053l-32 14z"/><path class="c35" d="M3463 3066l32-14l25 18l-32 13zM3406 3061l32-13l25 18l-32 13z"/><path class="c18" d="M3349 4093l32-1049l25 17l-32 1049z"/><path class="c19" d="M2950 2936l32-18l25 1101l-32 18z"/><path class="c34" d="M2893 3064l32-146l25 18l-32 145z"/><path class="c30" d="M2836 3327l33-280l24 17l-32 280z"/><path class="c23" d="M2380 2597l33 51l25 1150l-33-50z"/><path class="c41" d="M2323 2593l33-13l24 17l-32 14zM2266 2589l33-13l24 17l-32 13z"/><path class="c26" d="M2210 3523l32-951l24 17l-32 951z"/><path class="c30" d="M1811 2069l32-13l25 1199l-33 13z"/><path class="c49" d="M1754 2065l32-14l25 18l-33 13zM1697 2061l32-14l25 18l-33 13z"/><path class="c35" d="M1640 2946l32-903l25 18l-33 902zM5197 2329l32-13l25 907l-32 13z"/><path class="c49" d="M5140 2325l32-13l25 17l-32 14z"/><path class="c30" d="M5083 3503l32-1195l25 17l-32 1195z"/><path class="c26" d="M4627 2776l32-14l25 956l-32 13z"/><path class="c41" d="M4570 2771l32-13l25 18l-32 13z"/><path class="c23" d="M4513 3900l32-1146l25 17l-32 1147z"/><path class="c25" d="M4058 3431l32-13l25 318l-33 13z"/><path class="c30" d="M4001 3160l32-13l25 284l-33 13z"/><path class="c16" d="M3944 4107l32-1097l25 150l-33 1097z"/><path class="c18" d="M3488 3083l32-13l25 1053l-32 13z"/><path class="c35" d="M3431 3079l32-13l25 17l-33 13z"/><path class="c18" d="M3374 4110l32-1049l25 18l-32 1049z"/><path class="c16" d="M2918 3081l32-145l25 1101l-32 146z"/><path class="c30" d="M2861 3344l32-280l25 17l-32 281z"/><path class="c23" d="M2348 2611l32-14l25 1151l-32 13z"/><path class="c41" d="M2291 2606l32-13l25 18l-32 13z"/><path class="c26" d="M2234 3540l32-951l25 17l-32 952z"/><path class="c30" d="M1778 2082l33-13l24 1199l-32 13z"/><path class="c49" d="M1721 2078l33-13l24 17l-32 13z"/><path class="c35" d="M1664 2963l33-902l24 17l-32 902zM5165 2343l32-14l25 907l-33 13z"/><path class="c30" d="M5108 3520l32-1195l25 18l-32 1195z"/><path class="c26" d="M4595 2789l32-13l25 955l-32 13z"/><path class="c23" d="M4538 3918l32-1147l25 18l-32 1146z"/><path class="c25" d="M4025 3444l33-13l24 318l-32 14z"/><path class="c12" d="M3968 4257l33-1097l24 284l-32 1098z"/><path class="c18" d="M3455 3096l33-13l25 1053l-33 13zM3399 4128l32-1049l24 17l-32 1049z"/><path class="c12" d="M2886 3362l32-281l25 1102l-32 280z"/><path class="c23" d="M2316 2624l32-13l25 1150l-32 13z"/><path class="c26" d="M2259 3558l32-952l25 18l-32 951z"/><path class="c30" d="M1746 2095l32-13l25 1199l-32 13z"/><path class="c35" d="M1689 2980l32-902l25 17l-32 903z"/><path class="c15" d="M5133 3538l32-1195l24 906l-32 1195z"/><path class="c7" d="M4563 3935l32-1146l25 955l-32 1146zM3993 4542l32-1098l25 319l-32 1097z"/><path class="c1" d="M3423 4145l32-1049l25 1053l-32 1049z"/><path class="c7" d="M2284 3575l32-951l25 1150l-32 952z"/><path class="c15" d="M1714 2998l32-903l25 1199l-32 903z"/><path class="c52" d="M5410 2212l32-13l25 17l-33 14z"/><path class="c43" d="M4840 2756l32-13l25 17l-32 13z"/><path class="c33" d="M3701 3258l32-13l25 17l-33 14zM3131 3217l32-13l25 17l-32 13z"/><path class="c43" d="M1991 2550l32-14l25 18l-32 13z"/><path class="c52" d="M1421 1924l33-14l24 18l-32 13zM5434 2230l33-14l24 18l-32 13zM5377 2226l33-14l24 18l-32 13z"/><path class="c43" d="M4865 2773l32-13l25 17l-33 14zM4808 2769l32-13l25 17l-33 14z"/><path class="c33" d="M3725 3276l33-14l24 22l-32 14zM3668 3271l33-13l24 18l-32 13zM3156 3234l32-13l25 17l-33 14zM3099 3235l32-18l25 17l-33 18z"/><path class="c43" d="M2016 2567l32-13l25 17l-32 13zM1959 2563l32-13l25 17l-32 13z"/><path class="c52" d="M1446 1941l32-13l25 17l-32 13zM1389 1937l32-13l25 17l-32 13zM5459 2247l32-13l25 17l-32 14zM5402 2243l32-13l25 17l-32 13zM5345 2239l32-13l25 17l-32 13z"/><path class="c43" d="M4889 2791l33-14l24 18l-32 13zM4832 2787l33-14l24 18l-32 13zM4776 2782l32-13l24 18l-32 13z"/><path class="c36" d="M4320 3139l32-13l25 17l-33 14z"/><path class="c31" d="M3750 3298l32-14l25 150l-32 14z"/><path class="c33" d="M3693 3289l32-13l25 22l-32 13zM3636 3285l32-14l25 18l-32 13zM3180 3252l33-14l24 18l-32 13zM3123 3252l33-18l24 18l-32 18z"/><path class="c36" d="M2497 3007l32-13l24 17l-32 14z"/><path class="c43" d="M2041 2584l32-13l25 18l-33 13zM1984 2580l32-13l25 17l-33 14zM1927 2576l32-13l25 17l-33 14z"/><path class="c52" d="M1471 1958l32-13l25 18l-33 13zM1414 1954l32-13l25 17l-33 14zM1357 1950l32-13l25 17l-32 14z"/><path class="c39" d="M5541 2269l32 730l25 858l-32-730z"/><path class="c52" d="M5484 2265l32-14l25 18l-32 13zM5427 2260l32-13l25 18l-32 13zM5370 2256l32-13l25 17l-32 14zM5313 2252l32-13l25 17l-32 14z"/><path class="c28" d="M4971 2812l33 779l24 906l-32-778z"/><path class="c43" d="M4914 2808l32-13l25 17l-32 13zM4857 2804l32-13l25 17l-32 13zM4800 2800l32-13l25 17l-32 13zM4743 2796l33-14l24 18l-32 13z"/><path class="c21" d="M4401 3161l33 827l25 956l-33-828z"/><path class="c36" d="M4344 3157l33-14l24 18l-32 13zM4288 3153l32-14l24 18l-32 13z"/><path class="c14" d="M4117 4813l32-1098l25-284l-32 1098z"/><path class="c27" d="M3775 3448l32-14l25 285l-32 13z"/><path class="c31" d="M3718 3311l32-13l25 150l-32 13z"/><path class="c33" d="M3661 3302l32-13l25 22l-32 13zM3604 3298l32-13l25 17l-32 13z"/><path class="c16" d="M3262 3273l32 925l25 1053l-32-925z"/><path class="c33" d="M3205 3269l32-13l25 17l-32 13zM3148 3270l32-18l25 17l-32 18z"/><path class="c31" d="M3091 3398l32-146l25 18l-32 145z"/><path class="c36" d="M2521 3025l32-14l25 18l-32 13zM2464 3021l33-14l24 18l-32 13z"/><path class="c24" d="M2122 2606l33 1022l25 1151l-33-1023z"/><path class="c43" d="M2065 2602l33-13l24 17l-32 13zM2008 2598l33-14l24 18l-32 13zM1951 2594l33-14l24 18l-32 13zM1894 2589l33-13l24 18l-32 13z"/><path class="c33" d="M1552 1980l33 1071l25 1199l-33-1071z"/><path class="c52" d="M1495 1976l33-13l24 17l-32 13zM1438 1972l33-14l24 18l-32 13zM1382 1968l32-14l24 18l-32 13zM1325 1963l32-13l25 18l-33 13z"/><path class="c39" d="M5509 2282l32-13l25 858l-33 13z"/><path class="c52" d="M5452 2278l32-13l25 17l-33 13zM5395 2274l32-14l25 18l-33 13zM5338 2270l32-14l25 18l-33 13z"/><path class="c33" d="M5281 3447l32-1195l25 18l-32 1195z"/><path class="c28" d="M4939 2825l32-13l25 907l-32 13z"/><path class="c43" d="M4882 2821l32-13l25 17l-32 14zM4825 2817l32-13l25 17l-32 14zM4768 2813l32-13l25 17l-32 13z"/><path class="c24" d="M4711 3942l32-1146l25 17l-32 1146z"/><path class="c21" d="M4369 3174l32-13l25 955l-32 13z"/><path class="c36" d="M4312 3170l32-13l25 17l-32 13zM4255 3166l33-13l24 17l-32 13z"/><path class="c18" d="M4142 4529l32-1098l24-205l-32 1097z"/><path class="c22" d="M3800 3732l32-13l25 318l-33 13z"/><path class="c27" d="M3743 3461l32-13l25 284l-33 13z"/><path class="c31" d="M3686 3324l32-13l25 150l-33 13z"/><path class="c33" d="M3629 3315l32-13l25 22l-33 14z"/><path class="c16" d="M3572 4347l32-1049l25 17l-32 1049zM3230 3286l32-13l25 1053l-32 13z"/><path class="c33" d="M3173 3287l32-18l25 17l-33 19z"/><path class="c31" d="M3116 3415l32-145l25 17l-32 146z"/><path class="c18" d="M2660 3114l32 210l25 1102l-32-210z"/><path class="c36" d="M2546 3042l32-13l25 17l-32 13zM2489 3038l32-13l25 17l-32 13z"/><path class="c21" d="M2432 3972l32-951l25 17l-32 951z"/><path class="c24" d="M2090 2619l32-13l25 1150l-32 14z"/><path class="c43" d="M2033 2615l32-13l25 17l-32 13zM1976 2611l32-13l25 17l-32 13zM1919 2607l32-13l25 17l-32 13z"/><path class="c28" d="M1862 3492l32-903l25 18l-32 902z"/><path class="c33" d="M1520 1993l32-13l25 1199l-32 13z"/><path class="c52" d="M1463 1989l32-13l25 17l-32 13zM1406 1985l32-13l25 17l-32 13zM1349 1981l33-13l24 17l-32 13z"/><path class="c39" d="M1292 2817l33-854l24 18l-32 854z"/><path class="c45" d="M5786 2784l32-13l-24 1115l-32 14z"/><path class="c39" d="M5476 2295l33-13l24 858l-32 13z"/><path class="c52" d="M5419 2291l33-13l24 17l-32 13zM5362 2287l33-13l24 17l-32 13z"/><path class="c33" d="M5306 3465l32-1195l24 17l-32 1195z"/><path class="c28" d="M4907 2839l32-14l25 907l-32 13z"/><path class="c43" d="M4850 2835l32-14l25 18l-33 13zM4793 2830l32-13l25 18l-33 13z"/><path class="c24" d="M4736 3959l32-1146l25 17l-32 1147z"/><path class="c21" d="M4337 3187l32-13l25 955l-32 14z"/><path class="c36" d="M4280 3183l32-13l25 17l-32 14zM4223 3179l32-13l25 17l-32 13z"/><path class="c19" d="M4166 4323l32-1097l25-47l-32 1098z"/><path class="c22" d="M3767 3745l33-13l24 318l-32 14z"/><path class="c27" d="M3710 3474l33-13l24 284l-32 14z"/><path class="c31" d="M3653 3338l33-14l24 150l-32 13z"/><path class="c16" d="M3597 4364l32-1049l24 23l-32 1048zM3197 3305l33-19l25 1053l-33 18z"/><path class="c31" d="M3141 3433l32-146l24 18l-32 145z"/><path class="c19" d="M2628 3064l32 50l25 1102l-32-51z"/><path class="c36" d="M2571 3059l32-13l25 18l-33 13zM2514 3055l32-13l25 17l-33 14z"/><path class="c21" d="M2457 3989l32-951l25 17l-32 952z"/><path class="c24" d="M2058 2632l32-13l25 1151l-32 13z"/><path class="c43" d="M2001 2628l32-13l25 17l-32 14zM1944 2624l32-13l25 17l-32 14z"/><path class="c28" d="M1887 3509l32-902l25 17l-32 903z"/><path class="c33" d="M1488 2006l32-13l25 1199l-32 14z"/><path class="c52" d="M1431 2002l32-13l25 17l-32 14zM1374 1998l32-13l25 17l-32 14z"/><path class="c39" d="M1317 2835l32-854l25 17l-32 854zM5444 2308l32-13l25 858l-32 13z"/><path class="c52" d="M5387 2304l32-13l25 17l-32 14z"/><path class="c33" d="M5330 3482l32-1195l25 17l-32 1195z"/><path class="c28" d="M4874 2852l33-13l25 906l-33 14z"/><path class="c43" d="M4817 2848l33-13l24 17l-32 13z"/><path class="c24" d="M4761 3977l32-1147l24 18l-32 1146z"/><path class="c21" d="M4305 3201l32-14l25 956l-32 13z"/><path class="c36" d="M4248 3196l32-13l25 18l-33 13z"/><path class="c19" d="M4191 4277l32-1098l25 17l-32 1098z"/><path class="c27" d="M3678 3487l32-13l25 285l-32 13z"/><path class="c14" d="M3621 4386l32-1048l25 149l-32 1049zM3165 3450l32-145l25 1052l-32 146z"/><path class="c27" d="M3108 3713l33-280l24 17l-32 281z"/><path class="c19" d="M2595 3077l33-13l25 1101l-33 13z"/><path class="c36" d="M2538 3073l33-14l24 18l-32 13z"/><path class="c21" d="M2482 4007l32-952l24 18l-32 951z"/><path class="c24" d="M2026 2646l32-14l25 1151l-32 13z"/><path class="c43" d="M1969 2642l32-14l25 18l-33 13z"/><path class="c28" d="M1912 3527l32-903l25 18l-32 902z"/><path class="c33" d="M1456 2020l32-14l25 1200l-32 13z"/><path class="c52" d="M1399 2016l32-14l25 18l-33 13z"/><path class="c39" d="M1342 2852l32-854l25 18l-32 853zM5412 2322l32-14l25 858l-32 14z"/><path class="c33" d="M5355 3499l32-1195l25 18l-32 1195z"/><path class="c28" d="M4842 2865l32-13l25 907l-32 13z"/><path class="c24" d="M4785 3994l32-1146l25 17l-32 1146z"/><path class="c21" d="M4272 3214l33-13l25 955l-33 13z"/><path class="c19" d="M4216 4294l32-1098l24 18l-32 1097z"/><path class="c10" d="M3133 3731l32-281l25 1053l-32 280z"/><path class="c19" d="M2563 3090l32-13l25 1101l-32 14z"/><path class="c21" d="M2506 4024l32-951l25 17l-32 951z"/><path class="c24" d="M1993 2659l33-13l25 1150l-33 13z"/><path class="c28" d="M1937 3544l32-902l24 17l-32 903z"/><path class="c33" d="M1423 2033l33-13l25 1199l-33 13z"/><path class="c39" d="M1367 2869l32-853l24 17l-32 854z"/><path class="c19" d="M5380 3517l32-1195l25 858l-32 1195z"/><path class="c10" d="M4810 4011l32-1146l25 907l-32 1146z"/><path class="c3" d="M4240 4311l32-1097l25 955l-32 1098zM2531 4041l32-951l25 1102l-32 951z"/><path class="c10" d="M1961 3562l32-903l25 1150l-32 903z"/><path class="c19" d="M1391 2887l32-854l25 1199l-32 854z"/><path class="c57" d="M5657 2094l32-13l25 17l-32 13z"/><path class="c46" d="M5087 2735l32-13l25 17l-32 13z"/><path class="c38" d="M4518 3181l32-13l25 17l-33 13zM2238 3016l33-13l24 17l-32 13z"/><path class="c46" d="M1669 2487l32-13l25 17l-33 14z"/><path class="c57" d="M1099 1764l32-13l25 17l-33 13zM5682 2111l32-13l25 17l-33 14zM5625 2107l32-13l25 17l-33 13z"/><path class="c46" d="M5112 2752l32-13l25 17l-32 14zM5055 2748l32-13l25 17l-32 13z"/><path class="c38" d="M4542 3198l33-13l24 17l-32 14zM4485 3194l33-13l24 17l-32 14zM2263 3033l32-13l25 17l-32 14zM2206 3029l32-13l25 17l-32 14z"/><path class="c46" d="M1693 2505l33-14l24 18l-32 13zM1636 2501l33-14l24 18l-32 13z"/><path class="c57" d="M1123 1781l33-13l24 17l-32 14zM1066 1777l33-13l24 17l-32 14zM5706 2129l33-14l24 18l-32 13zM5649 2124l33-13l24 18l-32 13zM5592 2120l33-13l24 17l-32 14z"/><path class="c46" d="M5137 2770l32-14l25 18l-33 13zM5080 2765l32-13l25 18l-33 13zM5023 2761l32-13l25 17l-33 14z"/><path class="c38" d="M4567 3216l32-14l25 18l-32 13zM4510 3212l32-14l25 18l-32 13zM4453 3207l32-13l25 18l-32 13z"/><path class="c33" d="M3997 3467l33-13l24 17l-32 13z"/><path class="c29" d="M3428 3528l32-13l25 149l-33 14z"/><path class="c38" d="M2288 3051l32-14l25 18l-32 13zM2231 3047l32-14l25 18l-32 13zM2174 3042l32-13l25 18l-32 13z"/><path class="c46" d="M1718 2522l32-13l25 17l-32 14zM1661 2518l32-13l25 17l-32 13zM1604 2514l32-13l25 17l-32 13z"/><path class="c57" d="M1148 1799l32-14l25 18l-32 13zM1091 1795l32-14l25 18l-32 13zM1034 1790l32-13l25 18l-32 13z"/><path class="c44" d="M5788 2150l32 730l25 809l-32-730z"/><path class="c57" d="M5731 2146l32-13l25 17l-32 13zM5674 2142l32-13l25 17l-32 13zM5617 2138l32-14l25 18l-32 13zM5560 2134l32-14l25 18l-32 13z"/><path class="c46" d="M5161 2787l33-13l24 17l-32 13zM5104 2783l33-13l24 17l-32 13zM5047 2779l33-14l24 18l-32 13zM4990 2775l33-14l24 18l-32 13z"/><path class="c23" d="M4649 3237l32 827l25 907l-32-827z"/><path class="c38" d="M4592 3233l32-13l25 17l-33 13zM4535 3229l32-13l25 17l-33 13zM4478 3225l32-13l25 17l-33 13zM4421 3221l32-14l25 18l-32 13z"/><path class="c18" d="M4079 3488l32 876l25 956l-32-876z"/><path class="c33" d="M4022 3484l32-13l25 17l-32 14zM3965 3480l32-13l25 17l-32 13z"/><path class="c25" d="M3452 3678l33-14l24 285l-32 13z"/><path class="c20" d="M2370 3072l32 1022l25 1102l-32-1022z"/><path class="c38" d="M2313 3068l32-13l25 17l-33 13zM2256 3064l32-13l25 17l-33 13zM2199 3060l32-13l25 17l-33 13zM2142 3056l32-14l25 18l-33 13z"/><path class="c27" d="M1800 2544l32 1071l25 1150l-32-1071z"/><path class="c46" d="M1743 2540l32-14l25 18l-32 13zM1686 2535l32-13l25 18l-32 13zM1629 2531l32-13l25 17l-32 14zM1572 2527l32-13l25 17l-32 14z"/><path class="c38" d="M1230 1820l32 1120l25 1199l-32-1120z"/><path class="c57" d="M1173 1816l32-13l25 17l-32 13zM1116 1812l32-13l25 17l-32 13zM1059 1808l32-13l25 17l-32 13zM1002 1804l32-14l25 18l-32 13z"/><path class="c44" d="M5756 2163l32-13l25 809l-32 14z"/><path class="c57" d="M5699 2159l32-13l25 17l-32 14zM5642 2155l32-13l25 17l-32 14zM5585 2151l32-13l25 17l-32 13z"/><path class="c38" d="M5528 3329l32-1195l25 17l-32 1195z"/><path class="c32" d="M5186 2804l32-13l25 858l-32 13z"/><path class="c46" d="M5129 2800l32-13l25 17l-32 14zM5072 2796l32-13l25 17l-32 13zM5015 2792l32-13l25 17l-32 13z"/><path class="c27" d="M4958 3921l32-1146l25 17l-32 1146z"/><path class="c23" d="M4616 3250l33-13l25 907l-33 13z"/><path class="c38" d="M4559 3246l33-13l24 17l-32 14zM4502 3242l33-13l24 17l-32 14zM4446 3238l32-13l24 17l-32 13z"/><path class="c20" d="M4389 4318l32-1097l25 17l-33 1098z"/><path class="c18" d="M4047 3502l32-14l25 956l-32 13z"/><path class="c33" d="M3990 3497l32-13l25 18l-33 13zM3933 3493l32-13l25 17l-32 14z"/><path class="c15" d="M3819 4808l32-1049l25-206l-32 1049z"/><path class="c20" d="M2337 3085l33-13l25 1102l-33 13z"/><path class="c38" d="M2280 3081l33-13l24 17l-32 14zM2223 3077l33-13l24 17l-32 14zM2166 3073l33-13l24 17l-32 13z"/><path class="c23" d="M2110 3958l32-902l24 17l-32 903z"/><path class="c27" d="M1768 2557l32-13l25 1150l-33 13z"/><path class="c46" d="M1711 2553l32-13l25 17l-33 13zM1654 2549l32-14l25 18l-33 13zM1597 2545l32-14l25 18l-33 13z"/><path class="c32" d="M1540 3381l32-854l25 18l-32 853z"/><path class="c38" d="M1198 1833l32-13l25 1199l-32 14z"/><path class="c57" d="M1141 1829l32-13l25 17l-33 14zM1084 1825l32-13l25 17l-33 14zM1027 1821l32-13l25 17l-33 13z"/><path class="c44" d="M970 2609l32-805l25 17l-32 805z"/><path class="c51" d="M6033 2568l32-13l-24 1164l-32 13z"/><path class="c44" d="M5724 2177l32-14l25 810l-33 13z"/><path class="c57" d="M5667 2173l32-14l25 18l-33 13zM5610 2168l32-13l25 18l-33 13z"/><path class="c38" d="M5553 3346l32-1195l25 17l-32 1195zM5464 3355l32-13l-25 1115l-32 14z"/><path class="c32" d="M5154 2818l32-14l25 858l-32 14z"/><path class="c46" d="M5097 2813l32-13l25 18l-32 13zM5040 2809l32-13l25 17l-32 14z"/><path class="c27" d="M4983 3938l32-1146l25 17l-32 1147z"/><path class="c23" d="M4584 3264l32-14l25 907l-32 13z"/><path class="c38" d="M4527 3260l32-14l25 18l-32 13zM4470 3255l32-13l25 18l-32 13z"/><path class="c20" d="M4413 4336l33-1098l24 17l-32 1098z"/><path class="c18" d="M4014 3515l33-13l25 955l-33 13z"/><path class="c33" d="M3958 3511l32-14l24 18l-32 13zM3901 3507l32-14l25 18l-33 13z"/><path class="c16" d="M3844 4602l32-1049l25-46l-33 1048z"/><path class="c20" d="M2305 3099l32-14l25 1102l-32 13z"/><path class="c38" d="M2248 3095l32-14l25 18l-32 13zM2191 3090l32-13l25 18l-32 13z"/><path class="c23" d="M2134 3976l32-903l25 17l-32 903z"/><path class="c27" d="M1735 2570l33-13l24 1150l-32 14z"/><path class="c46" d="M1678 2566l33-13l24 17l-32 13zM1621 2562l33-13l24 17l-32 13z"/><path class="c32" d="M1565 3398l32-853l24 17l-32 854z"/><path class="c38" d="M1165 1847l33-14l25 1200l-33 13z"/><path class="c57" d="M1108 1843l33-14l24 18l-32 13zM1051 1838l33-13l24 18l-32 13z"/><path class="c44" d="M995 2626l32-805l24 17l-32 806zM905 2635l33-13l-25 726l-32 13z"/><path class="c51" d="M6033 2568l32-13l25 17l-32 13zM6001 2581l32-13l-24 1164l-33 14z"/><path class="c44" d="M5748 2986l33-13l24 17l-32 13zM5691 2190l33-13l24 809l-32 13z"/><path class="c57" d="M5634 2186l33-13l24 17l-32 13z"/><path class="c38" d="M5578 3363l32-1195l24 18l-32 1195zM5431 3368l33-13l-25 1116l-32 13z"/><path class="c32" d="M5122 2831l32-13l25 858l-32 13z"/><path class="c46" d="M5065 2827l32-14l25 18l-33 13z"/><path class="c27" d="M5008 3956l32-1147l25 18l-32 1146z"/><path class="c23" d="M4552 3277l32-13l25 906l-32 14z"/><path class="c38" d="M4495 3273l32-13l25 17l-32 13z"/><path class="c20" d="M4438 4353l32-1098l25 18l-32 1097z"/><path class="c18" d="M3982 3528l32-13l25 955l-32 14z"/><path class="c33" d="M3925 3524l33-13l24 17l-32 13z"/><path class="c16" d="M3868 4555l33-1048l24 17l-32 1049z"/><path class="c20" d="M2273 3112l32-13l25 1101l-32 14z"/><path class="c38" d="M2216 3108l32-13l25 17l-32 13z"/><path class="c23" d="M2159 3993l32-903l25 18l-32 902z"/><path class="c27" d="M1703 2583l32-13l25 1151l-32 13z"/><path class="c46" d="M1646 2579l32-13l25 17l-32 14z"/><path class="c32" d="M1589 3416l32-854l25 17l-32 854z"/><path class="c38" d="M1133 1860l32-13l25 1199l-32 13z"/><path class="c57" d="M1076 1856l32-13l25 17l-32 13z"/><path class="c44" d="M1019 2644l32-806l25 18l-32 805z"/><path class="c51" d="M6058 2585l32-13l25 17l-32 14z"/><path class="c44" d="M5716 2999l32-13l25 17l-32 14zM5659 2203l32-13l25 809l-32 13z"/><path class="c38" d="M5602 3381l32-1195l25 17l-32 1195z"/><path class="c32" d="M5089 2844l33-13l25 858l-33 13z"/><path class="c27" d="M5033 3973l32-1146l24 17l-32 1146z"/><path class="c23" d="M4520 3290l32-13l25 907l-32 13z"/><path class="c20" d="M4463 4370l32-1097l25 17l-32 1098z"/><path class="c18" d="M3950 3541l32-13l25 956l-32 13z"/><path class="c16" d="M3893 4573l32-1049l25 17l-32 1049z"/><path class="c20" d="M2241 3125l32-13l25 1102l-32 13z"/><path class="c23" d="M2184 4010l32-902l25 17l-32 903z"/><path class="c27" d="M1671 2597l32-14l25 1151l-32 13z"/><path class="c32" d="M1614 3433l32-854l25 18l-32 854z"/><path class="c38" d="M1101 1873l32-13l25 1199l-32 13z"/><path class="c44" d="M1044 2661l32-805l25 17l-32 805z"/><path class="c51" d="M6083 2603l32-14l25 18l-33 13zM6026 2599l32-14l25 18l-33 13z"/><path class="c44" d="M5741 3017l32-14l25 18l-32 13z"/><path class="c25" d="M5627 3398l32-1195l25 809l-32 1195z"/><path class="c14" d="M5057 3990l32-1146l25 858l-32 1146z"/><path class="c6" d="M4488 4388l32-1098l25 907l-32 1097z"/><path class="c1" d="M3918 4590l32-1049l25 956l-32 1049z"/><path class="c6" d="M2209 4028l32-903l25 1102l-33 902z"/><path class="c14" d="M1639 3451l32-854l25 1150l-32 854z"/><path class="c25" d="M1069 2678l32-805l25 1199l-32 805z"/><path class="c51" d="M613 2207l32-13l25 17l-32 13zM6107 2620l33-13l24 17l-32 13zM6050 2616l33-13l24 17l-32 13z"/><path class="c44" d="M5766 3034l32-13l25 17l-33 13zM5709 3030l32-13l25 17l-33 13z"/><path class="c51" d="M638 2224l32-13l25 17l-33 14zM581 2220l32-13l25 17l-33 13z"/><path class="c39" d="M6132 2637l32-13l25 761l-32 13z"/><path class="c51" d="M6075 2633l32-13l25 17l-32 14zM6018 2629l32-13l25 17l-32 14z"/><path class="c63" d="M5904 1878l32-13l25 17l-32 13z"/><path class="c44" d="M5733 3047l33-13l24 17l-32 14z"/><path class="c51" d="M5334 2616l33-13l24 17l-32 14z"/><path class="c41" d="M4765 3160l32-13l25 17l-33 13z"/><path class="c35" d="M4195 3508l32-13l25 18l-32 13zM2486 3385l32-14l25 18l-33 13z"/><path class="c41" d="M1916 2954l32-14l25 18l-32 13z"/><path class="c51" d="M1346 2328l32-14l25 18l-32 13z"/><path class="c63" d="M776 1507l32-14l25 18l-32 13z"/><path class="c51" d="M605 2237l33-13l24 18l-32 13z"/><path class="c39" d="M549 2976l32-756l24 17l-32 757zM6157 3398l32-13l25 17l-32 13zM6100 2651l32-14l25 761l-32 13z"/><path class="c51" d="M6043 2647l32-14l25 18l-32 13z"/><path class="c63" d="M5929 1895l32-13l25 17l-33 14zM5872 1891l32-13l25 17l-33 14z"/><path class="c44" d="M5758 3065l32-14l25 18l-32 13z"/><path class="c25" d="M5701 4242l32-1195l25 18l-32 1195z"/><path class="c51" d="M5359 2634l32-14l25 18l-32 13zM5302 2630l32-14l25 18l-32 13z"/><path class="c41" d="M4789 3177l33-13l24 17l-32 14zM4733 3173l32-13l24 17l-32 13z"/><path class="c35" d="M4220 3526l32-13l25 17l-32 13zM4163 3522l32-14l25 18l-32 13zM2510 3402l33-13l24 17l-32 13zM2454 3398l32-13l24 17l-32 13z"/><path class="c41" d="M1941 2971l32-13l25 17l-33 13zM1884 2967l32-13l25 17l-33 13z"/><path class="c51" d="M1371 2345l32-13l25 17l-33 13zM1314 2341l32-13l25 17l-32 13z"/><path class="c63" d="M801 1524l32-13l25 17l-32 13zM744 1520l32-13l25 17l-32 13z"/><path class="c51" d="M630 2255l32-13l25 17l-32 13z"/><path class="c39" d="M573 2994l32-757l25 18l-32 756zM516 2990l33-14l24 18l-32 13zM6182 3415l32-13l25 18l-33 13zM6125 3411l32-13l25 17l-33 14zM6068 2664l32-13l25 760l-33 14z"/><path class="c63" d="M5953 1913l33-14l24 18l-32 13zM5896 1909l33-14l24 18l-32 13zM5840 1904l32-13l24 18l-32 13z"/><path class="c25" d="M5726 4260l32-1195l25 17l-32 1195z"/><path class="c51" d="M5384 2651l32-13l25 17l-32 13zM5327 2647l32-13l25 17l-32 13zM5270 2643l32-13l25 17l-32 13z"/><path class="c41" d="M4814 3195l32-14l25 18l-32 13zM4757 3190l32-13l25 18l-32 13zM4700 3186l33-13l24 17l-32 14z"/><path class="c35" d="M4245 3543l32-13l24 17l-32 14zM4188 3539l32-13l25 17l-33 13zM4131 3535l32-13l25 17l-33 13zM2535 3419l32-13l25 18l-32 13zM2478 3415l32-13l25 17l-32 14zM2421 3411l33-13l24 17l-32 14z"/><path class="c41" d="M1965 2988l33-13l24 17l-32 14zM1908 2984l33-13l24 17l-32 14zM1851 2980l33-13l24 17l-32 13z"/><path class="c51" d="M1395 2362l33-13l24 17l-32 14zM1339 2358l32-13l24 17l-32 14zM1282 2354l32-13l25 17l-33 13z"/><path class="c63" d="M826 1541l32-13l25 18l-33 13zM769 1537l32-13l25 17l-33 14zM712 1533l32-13l25 17l-33 14z"/><path class="c39" d="M598 3011l32-756l25 17l-32 757zM484 3003l32-13l25 17l-32 13zM6206 3433l33-13l24 17l-32 13zM6149 3429l33-14l24 18l-32 13z"/><path class="c51" d="M6035 1934l33 730l24 761l-32-730z"/><path class="c63" d="M5978 1930l32-13l25 17l-32 13zM5921 1926l32-13l25 17l-32 13zM5864 1922l32-13l25 17l-32 13zM5807 1918l33-14l24 18l-32 13z"/><path class="c44" d="M5775 3113l32-1195l-24 1164l-32 1195z"/><path class="c38" d="M5466 2673l32 778l25 809l-33-778z"/><path class="c51" d="M5409 2668l32-13l25 18l-33 13zM5352 2664l32-13l25 17l-33 14zM5295 2660l32-13l25 17l-33 14zM5238 2656l32-13l25 17l-33 13z"/><path class="c41" d="M4782 3208l32-13l25 17l-32 13zM4725 3204l32-14l25 18l-32 13zM4668 3200l32-14l25 18l-32 13z"/><path class="c35" d="M4269 3561l32-14l25 18l-32 13zM4155 3552l33-13l24 17l-32 14zM4098 3548l33-13l24 17l-32 14zM2560 3437l32-13l25 17l-32 13zM2446 3429l32-14l25 18l-32 13zM2389 3424l32-13l25 18l-32 13z"/><path class="c23" d="M2047 3010l33 1071l24 1101l-32-1071z"/><path class="c41" d="M1990 3006l32-14l25 18l-32 13zM1933 3002l32-14l25 18l-32 13zM1876 2997l32-13l25 18l-32 13zM1819 2993l32-13l25 17l-32 14z"/><path class="c32" d="M1477 2384l33 1120l25 1150l-33-1120z"/><path class="c51" d="M1420 2380l32-14l25 18l-32 13zM1363 2376l32-14l25 18l-32 13zM1306 2371l33-13l24 18l-32 13zM1249 2367l33-13l24 17l-32 14z"/><path class="c44" d="M907 1563l33 1168l25 1199l-33-1168z"/><path class="c63" d="M850 1559l33-13l24 17l-32 13zM793 1555l33-14l24 18l-32 13zM736 1551l33-14l24 18l-32 13zM679 1546l33-13l24 18l-32 13z"/><path class="c51" d="M647 2303l32-757l-24 726l-32 757z"/><path class="c39" d="M509 3020l32-13l25 17l-33 14zM452 3016l32-13l25 17l-33 14zM6174 3446l32-13l25 17l-32 13z"/><path class="c51" d="M6085 2712l32 730l-25-17l-32-730zM6003 1947l32-13l25 761l-32 13z"/><path class="c63" d="M5946 1943l32-13l25 17l-32 14zM5889 1939l32-13l25 17l-32 14zM5832 1935l32-13l25 17l-32 13z"/><path class="c44" d="M5775 3113l32-1195l25 17l-32 1195zM5743 3126l32-13l-24 1164l-32 13z"/><path class="c38" d="M5433 2686l33-13l24 809l-32 13z"/><path class="c51" d="M5376 2682l33-14l24 18l-32 13zM5319 2678l33-14l24 18l-32 13zM5262 2673l33-13l24 18l-32 13z"/><path class="c32" d="M5206 3802l32-1146l24 17l-32 1147zM5173 3816l33-14l-25 1116l-32 13z"/><path class="c41" d="M4807 3225l32-13l25 17l-33 14zM4750 3221l32-13l25 17l-33 13zM4693 3217l32-13l25 17l-33 13z"/><path class="c23" d="M4636 4297l32-1097l25 17l-32 1097z"/><path class="c20" d="M4294 3578l32-13l25 906l-32 14z"/><path class="c35" d="M4180 3570l32-14l25 18l-32 13zM4123 3566l32-14l25 18l-32 13z"/><path class="c18" d="M4066 4597l32-1049l25 18l-32 1048zM2585 3454l32-13l25 1053l-32 13z"/><path class="c35" d="M2414 3442l32-13l25 17l-33 13z"/><path class="c20" d="M2357 4327l32-903l25 18l-32 902z"/><path class="c23" d="M2015 3023l32-13l25 1101l-32 14z"/><path class="c41" d="M1958 3019l32-13l25 17l-32 13zM1901 3015l32-13l25 17l-32 13zM1844 3011l32-14l25 18l-32 13z"/><path class="c27" d="M1787 3847l32-854l25 18l-32 854z"/><path class="c32" d="M1445 2397l32-13l25 1150l-32 13z"/><path class="c51" d="M1388 2393l32-13l25 17l-32 13zM1331 2389l32-13l25 17l-32 13zM1274 2385l32-14l25 18l-32 13z"/><path class="c38" d="M1217 3172l32-805l25 18l-32 805z"/><path class="c44" d="M875 1576l32-13l25 1199l-32 13z"/><path class="c63" d="M818 1572l32-13l25 17l-32 13zM761 1568l32-13l25 17l-32 13zM704 1564l32-13l25 17l-32 13z"/><path class="c51" d="M647 2303l32-757l25 18l-32 756zM615 2316l32-13l-24 726l-33 13z"/><path class="c39" d="M476 3034l33-14l24 18l-32 13zM6142 3459l32-13l25 17l-32 14z"/><path class="c51" d="M6109 2729l33 730l-25-17l-32-730zM6028 2708l32-13l25 17l-32 13zM5971 1961l32-14l25 761l-32 13z"/><path class="c63" d="M5914 1957l32-14l25 18l-33 13zM5857 1952l32-13l25 18l-33 13z"/><path class="c44" d="M5800 3130l32-1195l25 17l-32 1195zM5743 3126l32-13l25 17l-32 13zM5711 3139l32-13l-24 1164l-33 13z"/><path class="c38" d="M5401 2699l32-13l25 809l-32 13z"/><path class="c51" d="M5344 2695l32-13l25 17l-32 13zM5287 2691l32-13l25 17l-32 13z"/><path class="c32" d="M5230 3820l32-1147l25 18l-32 1146zM5141 3829l32-13l-24 1115l-32 13z"/><path class="c27" d="M4831 3243l33-14l25 858l-33 14z"/><path class="c41" d="M4774 3238l33-13l24 18l-32 13zM4717 3234l33-13l24 17l-32 14z"/><path class="c23" d="M4661 4314l32-1097l24 17l-32 1098zM4571 4324l33-14l-25 1067l-32 13z"/><path class="c35" d="M4148 3583l32-13l25 17l-33 13z"/><path class="c18" d="M4091 4614l32-1048l25 17l-32 1049z"/><path class="c23" d="M1983 3036l32-13l25 1102l-32 13z"/><path class="c41" d="M1926 3032l32-13l25 17l-33 14zM1869 3028l32-13l25 17l-33 14z"/><path class="c27" d="M1812 3865l32-854l25 17l-32 854z"/><path class="c32" d="M1413 2410l32-13l25 1150l-32 14z"/><path class="c51" d="M1356 2406l32-13l25 17l-33 14zM1299 2402l32-13l25 17l-33 14z"/><path class="c38" d="M1242 3190l32-805l25 17l-32 805zM1153 3199l32-13l-25 774l-32 13z"/><path class="c44" d="M843 1589l32-13l25 1199l-32 14z"/><path class="c63" d="M786 1585l32-13l25 17l-32 14zM729 1581l32-13l25 17l-32 14z"/><path class="c51" d="M672 2320l32-756l25 17l-32 757zM615 2316l32-13l25 17l-32 13zM583 2329l32-13l-25 726l-32 13z"/><path class="c39" d="M501 3051l32-13l25 17l-32 13z"/><path class="c51" d="M6134 2747l33 730l-25-18l-33-730zM6053 2725l32-13l24 17l-32 14zM5996 2721l32-13l25 17l-33 14zM5938 1974l33-13l25 760l-33 13z"/><path class="c63" d="M5881 1970l33-13l24 17l-32 13z"/><path class="c44" d="M5825 3147l32-1195l24 18l-32 1195zM5768 3143l32-13l25 17l-33 14zM5711 3139l32-13l25 17l-33 14zM5678 3152l33-13l-25 1164l-32 14z"/><path class="c38" d="M5426 3508l32-13l25 17l-32 14zM5369 2712l32-13l25 809l-32 14z"/><path class="c51" d="M5312 2708l32-13l25 17l-32 14z"/><path class="c32" d="M5255 3837l32-1146l25 17l-32 1146zM5109 3842l32-13l-24 1115l-33 14z"/><path class="c27" d="M4799 3256l32-13l25 858l-32 13z"/><path class="c41" d="M4742 3252l32-14l25 18l-32 13z"/><path class="c23" d="M4685 4332l32-1098l25 18l-32 1097zM4539 4337l32-13l-24 1066l-32 14z"/><path class="c35" d="M4172 3600l33-13l24 17l-32 14z"/><path class="c18" d="M4116 4632l32-1049l24 17l-32 1049z"/><path class="c23" d="M1950 3050l33-14l25 1102l-33 13z"/><path class="c41" d="M1893 3046l33-14l24 18l-32 13z"/><path class="c27" d="M1837 3882l32-854l24 18l-32 853z"/><path class="c32" d="M1380 2424l33-14l25 1151l-33 13z"/><path class="c51" d="M1323 2420l33-14l24 18l-32 13z"/><path class="c38" d="M1267 3207l32-805l24 18l-32 805zM1120 3212l33-13l-25 774l-32 14z"/><path class="c44" d="M868 2789l32-14l25 18l-33 13zM811 1603l32-14l25 1200l-33 13z"/><path class="c63" d="M754 1599l32-14l25 18l-33 13z"/><path class="c51" d="M697 2338l32-757l25 18l-33 756zM640 2333l32-13l25 18l-33 13zM583 2329l32-13l25 17l-33 14zM551 2343l32-14l-25 726l-32 13zM6077 2743l32-14l25 18l-32 13zM6020 2739l33-14l24 18l-32 13zM5963 2734l33-13l24 18l-32 13zM5906 1987l32-13l25 760l-32 14z"/><path class="c44" d="M5849 3165l32-1195l25 17l-32 1195zM5792 3161l33-14l24 18l-32 13zM5735 3157l33-14l24 18l-32 13z"/><path class="c38" d="M5394 3522l32-14l25 18l-33 13zM5337 2726l32-14l25 810l-33 13z"/><path class="c32" d="M5280 3854l32-1146l25 18l-32 1146z"/><path class="c27" d="M4767 3269l32-13l25 858l-32 13z"/><path class="c23" d="M4710 4349l32-1097l25 17l-32 1098z"/><path class="c18" d="M4140 4649l32-1049l25 18l-32 1049z"/><path class="c23" d="M1918 3063l32-13l25 1101l-32 14z"/><path class="c27" d="M1861 3899l32-853l25 17l-32 854z"/><path class="c32" d="M1348 2437l32-13l25 1150l-32 13z"/><path class="c38" d="M1291 3225l32-805l25 17l-32 805z"/><path class="c44" d="M835 2802l33-13l24 17l-32 13zM778 1616l33-13l24 1199l-32 13z"/><path class="c51" d="M721 2355l33-756l24 17l-32 756zM664 2351l33-13l24 17l-32 13zM607 2347l33-14l24 18l-32 13zM551 2343l32-14l24 18l-32 13zM6045 2756l32-13l25 17l-32 13zM5988 2752l32-13l25 17l-32 13zM5931 2748l32-14l25 18l-32 13z"/><path class="c32" d="M5874 3182l32-1195l25 761l-32 1195z"/><path class="c44" d="M5817 3178l32-13l25 17l-32 13zM5760 3174l32-13l25 17l-32 13zM5703 3170l32-13l25 17l-32 13z"/><path class="c38" d="M5418 3539l33-13l24 17l-32 13z"/><path class="c19" d="M5305 3872l32-1146l24 809l-32 1146z"/><path class="c10" d="M4735 4367l32-1098l25 858l-32 1098zM1886 3917l32-854l25 1102l-32 853z"/><path class="c19" d="M1316 3242l32-805l25 1150l-32 805z"/><path class="c44" d="M860 2819l32-13l25 17l-32 14zM803 2815l32-13l25 17l-32 13z"/><path class="c32" d="M746 2372l32-756l25 1199l-32 756z"/><path class="c51" d="M689 2368l32-13l25 17l-32 14zM632 2364l32-13l25 17l-32 14zM575 2360l32-13l25 17l-32 13zM6013 2769l32-13l25 17l-33 14zM5956 2765l32-13l25 17l-33 13z"/><path class="c32" d="M5899 3943l32-1195l25 17l-32 1195zM5842 3195l32-13l25 761l-32 13z"/><path class="c44" d="M5785 3191l32-13l25 17l-32 14zM5728 3187l32-13l25 17l-32 14z"/><path class="c38" d="M5443 3556l32-13l25 18l-32 13zM5386 3552l32-13l25 17l-32 14z"/><path class="c44" d="M828 2832l32-13l25 18l-32 13z"/><path class="c32" d="M771 3571l32-756l25 17l-32 757zM714 2386l32-14l25 1199l-32 14z"/><path class="c51" d="M657 2382l32-14l25 18l-32 13zM600 2377l32-13l25 18l-32 13zM5980 2782l33-13l24 18l-32 13z"/><path class="c32" d="M5924 3960l32-1195l24 17l-32 1195zM5867 3956l32-13l25 17l-33 13zM5810 3209l32-14l25 761l-32 13z"/><path class="c44" d="M5753 3205l32-14l25 18l-33 13z"/><path class="c57" d="M5582 2400l32-13l25 17l-33 14z"/><path class="c38" d="M5411 3570l32-14l25 18l-32 13z"/><path class="c46" d="M5012 3041l32-13l25 17l-32 14z"/><path class="c38" d="M4442 3487l33-13l24 17l-32 14zM2163 3322l32-13l25 17l-32 14z"/><path class="c46" d="M1593 2794l33-13l24 17l-32 13z"/><path class="c57" d="M1023 2070l33-13l24 17l-32 14z"/><path class="c44" d="M853 2850l32-13l25 17l-33 13z"/><path class="c32" d="M796 3589l32-757l25 18l-32 756zM739 3585l32-14l25 18l-32 13zM682 2399l32-13l25 1199l-32 13z"/><path class="c51" d="M625 2395l32-13l25 17l-33 13z"/><path class="c32" d="M5948 3977l32-1195l25 18l-32 1195zM5891 3973l33-13l24 17l-32 14zM5835 3969l32-13l24 17l-32 14zM5777 3222l33-13l25 760l-33 13z"/><path class="c44" d="M5720 3218l33-13l24 17l-32 13z"/><path class="c57" d="M5606 2418l33-14l24 18l-32 13zM5549 2414l33-14l24 18l-32 13z"/><path class="c38" d="M5436 3587l32-13l25 17l-33 13z"/><path class="c19" d="M5379 4716l32-1146l25 17l-32 1146z"/><path class="c46" d="M5037 3059l32-14l25 18l-33 13zM4980 3055l32-14l25 18l-33 13z"/><path class="c38" d="M4467 3505l32-14l25 18l-32 13zM4410 3501l32-14l25 18l-32 13z"/><path class="c33" d="M3840 3757l33-19l24 18l-32 18z"/><path class="c38" d="M2188 3340l32-14l25 18l-32 13zM2131 3336l32-14l25 18l-32 13z"/><path class="c46" d="M1618 2811l32-13l25 17l-32 14zM1561 2807l32-13l25 17l-32 13z"/><path class="c57" d="M1048 2088l32-14l25 18l-32 13zM991 2084l32-14l25 18l-32 13z"/><path class="c44" d="M877 2867l33-13l24 17l-32 14z"/><path class="c32" d="M821 3606l32-756l24 17l-32 757zM764 3602l32-13l25 17l-33 13zM707 3598l32-13l25 17l-33 13zM649 2412l33-13l25 1199l-33 13zM5916 3991l32-14l25 18l-32 13zM5859 3987l32-14l25 18l-32 13zM5802 3982l33-13l24 18l-32 13zM5745 3235l32-13l25 760l-32 14z"/><path class="c57" d="M5631 2435l32-13l25 17l-32 13zM5574 2431l32-13l25 17l-32 13zM5517 2427l32-13l25 17l-32 13z"/><path class="c19" d="M5404 4733l32-1146l24 17l-32 1147z"/><path class="c46" d="M5061 3076l33-13l24 17l-32 13zM5004 3072l33-13l24 17l-32 13zM4947 3068l33-13l24 17l-32 13z"/><path class="c38" d="M4492 3522l32-13l25 17l-33 13zM4435 3518l32-13l25 17l-33 13zM4378 3514l32-13l25 17l-33 13z"/><path class="c31" d="M3808 3902l32-145l25 17l-32 146z"/><path class="c38" d="M2213 3357l32-13l25 17l-33 14zM2156 3353l32-13l25 17l-33 13zM2099 3349l32-13l25 17l-33 13z"/><path class="c46" d="M1643 2829l32-14l25 18l-32 13zM1586 2824l32-13l25 18l-32 13zM1529 2820l32-13l25 17l-32 14z"/><path class="c57" d="M1073 2105l32-13l25 17l-32 14zM1016 2101l32-13l25 17l-32 13zM959 2097l32-13l25 17l-32 13z"/><path class="c32" d="M845 3624l32-757l25 18l-32 756zM731 3615l33-13l24 17l-32 14zM674 3611l33-13l24 17l-32 14zM5884 4004l32-13l25 17l-32 13zM5827 4000l32-13l25 17l-32 13z"/><path class="c45" d="M5713 2457l32 778l25 761l-32-779z"/><path class="c57" d="M5656 2452l32-13l25 18l-33 13zM5599 2448l32-13l25 17l-32 14zM5542 2444l32-13l25 17l-32 14zM5485 2440l32-13l25 17l-32 13z"/><path class="c39" d="M5453 3586l32-1146l-25 1164l-32 1147z"/><path class="c33" d="M5143 3098l33 827l24 809l-32-827z"/><path class="c46" d="M5086 3093l32-13l25 18l-32 13zM5029 3089l32-13l25 17l-32 14zM4972 3085l32-13l25 17l-32 14zM4915 3081l32-13l25 17l-32 13z"/><path class="c28" d="M4883 4179l32-1098l-24 1116l-32 1097z"/><path class="c38" d="M4516 3539l33-13l24 18l-32 13zM4459 3535l33-13l24 17l-32 14zM4402 3531l33-13l24 17l-32 14zM4346 3527l32-13l24 17l-32 14z"/><path class="c21" d="M4313 4576l33-1049l-25 1067l-32 1049z"/><path class="c31" d="M3833 3920l32-146l25 17l-32 146z"/><path class="c38" d="M2237 3375l33-14l24 18l-32 13zM2180 3370l33-13l24 18l-32 13zM2123 3366l33-13l24 17l-32 14zM2066 3362l33-13l24 17l-32 14z"/><path class="c28" d="M1725 2850l32 1120l25 1101l-33-1119z"/><path class="c46" d="M1668 2846l32-13l25 17l-33 13zM1611 2842l32-13l25 17l-33 13zM1554 2838l32-14l25 18l-33 13zM1497 2834l32-14l25 18l-33 13z"/><path class="c39" d="M1155 2127l32 1168l25 1150l-32-1168z"/><path class="c57" d="M1098 2123l32-14l25 18l-33 13zM1041 2118l32-13l25 18l-33 13zM984 2114l32-13l25 17l-33 14zM927 2110l32-13l25 17l-33 14z"/><path class="c45" d="M895 2867l32-757l-25 775l-32 756z"/><path class="c32" d="M756 3633l32-14l25 18l-32 13zM699 3629l32-14l25 18l-32 13zM5852 4017l32-13l25 17l-33 14zM5795 4013l32-13l25 17l-33 13z"/><path class="c45" d="M5762 3234l33 779l-25-17l-32-779zM5680 2470l33-13l25 760l-33 13z"/><path class="c57" d="M5624 2466l32-14l24 18l-32 13zM5567 2462l32-14l25 18l-33 13zM5510 2457l32-13l25 18l-33 13z"/><path class="c39" d="M5453 3586l32-1146l25 17l-32 1147zM5421 3600l32-14l-25 1165l-32 13z"/><path class="c33" d="M5111 3111l32-13l25 809l-32 13z"/><path class="c46" d="M5054 3107l32-14l25 18l-32 13zM4997 3103l32-14l25 18l-32 13zM4940 3098l32-13l25 18l-32 13z"/><path class="c28" d="M4883 4179l32-1098l25 17l-32 1098zM4851 4192l32-13l-24 1115l-33 13z"/><path class="c24" d="M4541 3557l32-13l25 858l-32 13z"/><path class="c38" d="M4484 3553l32-14l25 18l-32 13zM4427 3549l32-14l25 18l-32 13zM4370 3545l32-14l25 18l-32 13z"/><path class="c21" d="M4313 4576l33-1049l24 18l-32 1048zM4281 4589l32-13l-24 1067l-32 13zM2262 3392l32-13l25 1053l-32 13z"/><path class="c38" d="M2205 3388l32-13l25 17l-32 13zM2148 3384l32-14l25 18l-32 13zM2091 3380l32-14l25 18l-32 13z"/><path class="c24" d="M2034 4216l32-854l25 18l-32 853z"/><path class="c28" d="M1692 2863l33-13l24 1102l-32 13z"/><path class="c46" d="M1635 2859l33-13l24 17l-32 14zM1578 2855l33-13l24 17l-32 13zM1521 2851l33-13l24 17l-32 13z"/><path class="c33" d="M1465 3639l32-805l24 17l-32 805z"/><path class="c39" d="M1122 2140l33-13l25 1150l-33 13z"/><path class="c57" d="M1065 2136l33-13l24 17l-32 13zM1008 2132l33-14l24 18l-32 13zM951 2128l33-14l24 18l-32 13z"/><path class="c45" d="M895 2867l32-757l24 18l-32 756zM862 2880l33-13l-25 774l-32 13z"/><path class="c32" d="M724 3646l32-13l25 17l-32 13zM5819 4030l33-13l24 18l-32 13z"/><path class="c45" d="M5787 3252l32 778l-24-17l-33-779zM5705 3230l33-13l24 17l-32 14zM5648 2483l32-13l25 760l-32 14z"/><path class="c57" d="M5591 2479l33-13l24 17l-32 13zM5534 2475l33-13l24 17l-32 13z"/><path class="c39" d="M5478 3604l32-1147l24 18l-32 1146zM5421 3600l32-14l25 18l-33 13zM5388 3613l33-13l-25 1164l-32 13z"/><path class="c33" d="M5079 3124l32-13l25 809l-33 13z"/><path class="c46" d="M5022 3120l32-13l25 17l-33 13zM4965 3116l32-13l25 17l-33 13z"/><path class="c28" d="M4908 4196l32-1098l25 18l-32 1097zM4819 4205l32-13l-25 1115l-32 14z"/><path class="c24" d="M4509 3570l32-13l25 858l-32 13z"/><path class="c38" d="M4452 3566l32-13l25 17l-32 13zM4395 3562l32-13l25 17l-32 13z"/><path class="c21" d="M4338 4593l32-1048l25 17l-32 1049zM4249 4602l32-13l-24 1067l-33 13z"/><path class="c17" d="M3679 4801l32-70l-24 1018l-32 70z"/><path class="c21" d="M2230 3405l32-13l25 1053l-32 13z"/><path class="c38" d="M2173 3401l32-13l25 17l-32 13zM2116 3397l32-13l25 17l-32 13z"/><path class="c28" d="M1660 2877l32-14l25 1102l-32 13z"/><path class="c46" d="M1603 2872l32-13l25 18l-32 13zM1546 2868l32-13l25 17l-32 14z"/><path class="c33" d="M1489 3656l32-805l25 17l-32 805zM1400 3665l32-13l-24 823l-33 13z"/><path class="c39" d="M1090 2153l32-13l25 1150l-32 14z"/><path class="c57" d="M1033 2149l32-13l25 17l-32 13zM976 2145l32-13l25 17l-32 13z"/><path class="c45" d="M919 2884l32-756l25 17l-32 756zM862 2880l33-13l24 17l-32 13zM830 2893l32-13l-24 774l-32 14z"/><path class="c32" d="M749 3663l32-13l25 18l-33 13z"/><path class="c45" d="M5812 3269l32 779l-25-18l-32-778zM5730 3248l32-14l25 18l-32 13zM5673 3244l32-14l25 18l-32 13zM5616 2496l32-13l25 761l-32 13z"/><path class="c57" d="M5559 2492l32-13l25 17l-32 14z"/><path class="c39" d="M5502 3621l32-1146l25 17l-32 1146zM5445 3617l33-13l24 17l-32 13zM5388 3613l33-13l24 17l-32 13zM5356 3626l32-13l-24 1164l-32 13z"/><path class="c33" d="M5103 3933l33-13l24 17l-32 14zM5046 3137l33-13l24 809l-32 14z"/><path class="c46" d="M4989 3133l33-13l24 17l-32 14z"/><path class="c28" d="M4933 4213l32-1097l24 17l-32 1098zM4786 4218l33-13l-25 1116l-32 13z"/><path class="c24" d="M4477 3583l32-13l25 858l-32 13z"/><path class="c38" d="M4420 3579l32-13l25 17l-33 14z"/><path class="c21" d="M4363 4611l32-1049l25 17l-32 1049zM4217 4616l32-14l-25 1067l-32 14z"/><path class="c19" d="M3647 4685l32 116l-24 1018l-33-116z"/><path class="c21" d="M2198 3418l32-13l25 1053l-32 13z"/><path class="c38" d="M2141 3414l32-13l25 17l-33 14z"/><path class="c28" d="M1628 2890l32-13l25 1101l-32 14z"/><path class="c46" d="M1571 2886l32-14l25 18l-33 13z"/><path class="c33" d="M1514 3673l32-805l25 18l-32 805zM1368 3679l32-14l-25 823l-32 14z"/><path class="c39" d="M1115 3304l32-14l25 18l-32 13zM1058 2166l32-13l25 1151l-32 13z"/><path class="c57" d="M1001 2162l32-13l25 17l-32 14z"/><path class="c45" d="M944 2901l32-756l25 17l-32 757zM887 2897l32-13l25 17l-32 14zM830 2893l32-13l25 17l-32 13zM798 2906l32-13l-24 775l-33 13zM5755 3265l32-13l25 17l-32 14zM5698 3261l32-13l25 17l-32 13zM5641 3257l32-13l25 17l-32 13zM5584 2510l32-14l25 761l-32 13z"/><path class="c39" d="M5527 3638l32-1146l25 18l-32 1146zM5470 3634l32-13l25 17l-32 14zM5413 3630l32-13l25 17l-32 14z"/><path class="c33" d="M5071 3947l32-14l25 18l-32 13zM5014 3151l32-14l25 810l-32 13z"/><path class="c28" d="M4957 4231l32-1098l25 18l-32 1097z"/><path class="c24" d="M4444 3597l33-14l25 858l-33 14z"/><path class="c21" d="M4388 4628l32-1049l24 18l-32 1048zM4184 4629l33-13l-25 1067l-32 13zM2165 3432l33-14l25 1053l-33 14z"/><path class="c24" d="M2109 4268l32-854l24 18l-32 854z"/><path class="c28" d="M1595 2903l33-13l25 1102l-33 13z"/><path class="c33" d="M1539 3691l32-805l24 17l-32 805z"/><path class="c39" d="M1083 3317l32-13l25 17l-32 13zM1026 2180l32-14l25 1151l-32 13z"/><path class="c45" d="M969 2919l32-757l25 18l-33 756zM912 2915l32-14l25 18l-32 13zM855 2910l32-13l25 18l-32 13zM798 2906l32-13l25 17l-32 14zM5723 3278l32-13l25 18l-33 13zM5666 3274l32-13l25 17l-33 14zM5609 3270l32-13l25 17l-33 14z"/><path class="c26" d="M5552 3656l32-1146l25 760l-32 1146z"/><path class="c39" d="M5495 3652l32-14l25 18l-33 13zM5438 3648l32-14l25 18l-33 13zM5381 3643l32-13l25 18l-33 13z"/><path class="c33" d="M5096 3964l32-13l25 17l-32 13z"/><path class="c15" d="M4982 4248l32-1097l25 809l-32 1097z"/><path class="c7" d="M4412 4645l32-1048l25 858l-32 1048zM2133 4286l32-854l25 1053l-32 853z"/><path class="c15" d="M1563 3708l32-805l25 1102l-32 805z"/><path class="c39" d="M1108 3334l32-13l24 17l-32 14zM1051 3330l32-13l25 17l-33 13z"/><path class="c26" d="M993 2936l33-756l25 1150l-33 756z"/><path class="c45" d="M937 2932l32-13l24 17l-32 13zM880 2928l32-13l25 17l-33 13zM823 2924l32-14l25 18l-33 13zM5690 3292l33-14l24 18l-32 13zM5633 3288l33-14l24 18l-32 13z"/><path class="c26" d="M5577 4416l32-1146l24 18l-32 1146zM5519 3669l33-13l25 760l-33 14z"/><path class="c39" d="M5462 3665l33-13l24 17l-32 13zM5405 3661l33-13l24 17l-32 13z"/><path class="c33" d="M5064 3977l32-13l25 17l-33 14z"/><path class="c39" d="M1075 3347l33-13l24 18l-32 13z"/><path class="c26" d="M1018 4086l33-756l24 17l-32 757zM961 2949l32-13l25 1150l-32 14z"/><path class="c45" d="M904 2945l33-13l24 17l-32 14zM847 2941l33-13l24 17l-32 13zM5658 3305l32-13l25 17l-32 13z"/><path class="c26" d="M5601 4434l32-1146l25 17l-32 1146zM5544 4430l33-14l24 18l-32 13zM5487 3682l32-13l25 761l-32 13z"/><path class="c39" d="M5430 3678l32-13l25 17l-32 14z"/><path class="c52" d="M5259 2825l32-13l25 17l-32 14z"/><path class="c43" d="M4689 3369l33-13l24 17l-32 13z"/><path class="c36" d="M4120 3717l32-13l25 18l-32 13z"/><path class="c43" d="M1841 3163l32-14l25 18l-33 13z"/><path class="c52" d="M1271 2537l32-14l25 18l-33 13z"/><path class="c26" d="M1043 4104l32-757l25 18l-32 756zM986 4100l32-14l25 18l-32 13zM929 2963l32-14l25 1151l-32 13z"/><path class="c45" d="M872 2958l32-13l25 18l-32 13z"/><path class="c26" d="M5626 4451l32-1146l25 17l-32 1147zM5569 4447l32-13l25 17l-32 13zM5512 4443l32-13l25 17l-32 13zM5455 3696l32-14l25 761l-32 13z"/><path class="c52" d="M5284 2843l32-14l25 18l-32 13zM5227 2839l32-14l25 18l-32 13z"/><path class="c43" d="M4714 3386l32-13l25 17l-32 14zM4657 3382l32-13l25 17l-32 13z"/><path class="c36" d="M4145 3735l32-13l24 17l-32 13zM4088 3735l32-18l25 18l-33 18zM2378 3607l32-13l25 17l-32 13z"/><path class="c43" d="M1865 3180l33-13l24 17l-32 13zM1808 3176l33-13l24 17l-32 13z"/><path class="c52" d="M1295 2554l33-13l24 17l-32 13zM1239 2550l32-13l24 17l-32 13z"/><path class="c26" d="M1011 4117l32-13l25 17l-32 13zM954 4113l32-13l25 17l-32 13zM897 2976l32-13l25 1150l-32 13zM5594 4464l32-13l25 18l-33 13zM5537 4460l32-13l25 17l-32 14zM5480 4456l32-13l25 17l-32 14z"/><path class="c52" d="M5309 2860l32-13l25 17l-33 13zM5252 2856l32-13l25 17l-33 13zM5195 2852l32-13l25 17l-33 13z"/><path class="c43" d="M4739 3404l32-14l25 18l-32 13zM4682 3399l32-13l25 18l-32 13z"/><path class="c36" d="M4169 3752l32-13l25 17l-32 14zM4112 3753l33-18l24 17l-32 18z"/><path class="c34" d="M4055 3881l33-146l24 18l-32 146z"/><path class="c5" d="M2770 5605l32-14l-25 112l-32 13z"/><path class="c36" d="M2346 3620l32-13l25 17l-32 14z"/><path class="c43" d="M1890 3197l32-13l25 17l-32 14zM1833 3193l32-13l25 17l-32 14z"/><path class="c52" d="M1320 2571l32-13l25 17l-32 14zM1263 2567l32-13l25 17l-32 14zM1206 2563l33-13l24 17l-32 13z"/><path class="c26" d="M979 4130l32-13l25 17l-33 14zM922 4126l32-13l25 17l-33 14zM5562 4478l32-14l24 18l-32 13zM5505 4474l32-14l25 18l-33 13z"/><path class="c40" d="M5390 2882l33 827l25 760l-33-827z"/><path class="c52" d="M5333 2877l33-13l24 18l-32 13zM5276 2873l33-13l24 17l-32 14zM5219 2869l33-13l24 17l-32 14zM5162 2865l33-13l24 17l-32 13z"/><path class="c35" d="M5130 3963l32-1098l-24 1164l-32 1098z"/><path class="c30" d="M4821 3425l32 876l25 809l-33-876z"/><path class="c43" d="M4764 3421l32-13l25 17l-33 13zM4707 3417l32-13l25 17l-33 13z"/><path class="c26" d="M4561 4457l32-1048l-25 1115l-32 1049z"/><path class="c36" d="M4137 3770l32-18l25 18l-32 18z"/><path class="c34" d="M4080 3899l32-146l25 17l-32 146z"/><path class="c5" d="M2738 5618l32-13l-25 111l-32 13z"/><path class="c36" d="M2371 3638l32-14l25 23l-33 13z"/><path class="c26" d="M1972 3219l32 1120l25 1052l-32-1119z"/><path class="c43" d="M1915 3215l32-14l25 18l-32 13zM1858 3211l32-14l25 18l-32 13zM1801 3206l32-13l25 18l-32 13z"/><path class="c35" d="M1402 2593l32 1168l25 1102l-32-1169z"/><path class="c52" d="M1345 2589l32-14l25 18l-32 13zM1288 2585l32-14l25 18l-32 13zM1231 2580l32-13l25 18l-32 13zM1174 2576l32-13l25 17l-32 14z"/><path class="c40" d="M1142 3333l32-757l-25 824l-32 756z"/><path class="c26" d="M1003 4148l33-14l24 18l-32 13zM946 4144l33-14l24 18l-32 13zM5529 4491l33-13l24 17l-32 13z"/><path class="c40" d="M5440 3659l32 828l-24-18l-33-827zM5358 2895l32-13l25 760l-32 13z"/><path class="c52" d="M5301 2891l32-14l25 18l-32 13zM5244 2887l32-14l25 18l-32 13zM5187 2882l32-13l25 18l-32 13z"/><path class="c35" d="M5130 3963l32-1098l25 17l-32 1098zM5098 3976l32-13l-24 1164l-32 13z"/><path class="c30" d="M4788 3438l33-13l24 809l-32 14z"/><path class="c43" d="M4731 3434l33-13l24 17l-32 14z"/><path class="c26" d="M4528 4471l33-14l-25 1116l-32 13z"/><path class="c23" d="M4301 4649l32 925l-25-18l-32-924z"/><path class="c36" d="M4162 3788l32-18l25 17l-33 18z"/><path class="c34" d="M4105 3916l32-146l25 18l-33 145z"/><path class="c21" d="M3959 4710l32-234l-25 1067l-32 234z"/><path class="c18" d="M3389 4875l32-13l-24 1018l-33 14z"/><path class="c9" d="M2762 5370l33-13l-25 248l-32 13z"/><path class="c26" d="M1940 3232l32-13l25 1053l-33 13z"/><path class="c43" d="M1883 3228l32-13l25 17l-33 13zM1826 3224l32-13l25 17l-33 13z"/><path class="c30" d="M1680 4021l32-14l-25 872l-32 14z"/><path class="c35" d="M1370 2606l32-13l25 1101l-32 14z"/><path class="c52" d="M1313 2602l32-13l25 17l-33 13zM1256 2598l32-13l25 17l-33 13zM1199 2594l32-14l25 18l-33 13z"/><path class="c40" d="M1142 3333l32-757l25 18l-32 756zM1110 3346l32-13l-25 823l-32 13z"/><path class="c26" d="M971 4161l32-13l25 17l-32 13zM5497 4504l32-13l25 17l-32 14z"/><path class="c40" d="M5465 3677l32 827l-25-17l-32-828zM5383 3655l32-13l25 17l-32 14zM5326 2908l32-13l25 760l-32 14z"/><path class="c52" d="M5269 2904l32-13l25 17l-32 13zM5212 2900l32-13l25 17l-32 13z"/><path class="c35" d="M5155 3980l32-1098l25 18l-32 1097zM5098 3976l32-13l25 17l-32 13zM5066 3989l32-13l-24 1164l-33 13z"/><path class="c30" d="M4756 3452l32-14l25 810l-32 13z"/><path class="c43" d="M4699 3447l32-13l25 18l-32 13z"/><path class="c26" d="M4496 4484l32-13l-24 1115l-32 13z"/><path class="c23" d="M4325 4666l33 925l-25-17l-32-925z"/><path class="c34" d="M4129 3933l33-145l24 17l-32 146z"/><path class="c20" d="M3926 4780l33-70l-25 1067l-32 70z"/><path class="c5" d="M3870 5731l32 116l-25-18l-32-115z"/><path class="c18" d="M3357 4889l32-14l-25 1019l-32 13z"/><path class="c26" d="M2046 4307l33 1119l-25-17l-33-1120zM1907 3245l33-13l24 1053l-32 13z"/><path class="c43" d="M1850 3241l33-13l24 17l-32 14z"/><path class="c30" d="M1647 4034l33-13l-25 872l-32 13z"/><path class="c35" d="M1337 2619l33-13l25 1102l-33 13z"/><path class="c52" d="M1280 2615l33-13l24 17l-32 14zM1223 2611l33-13l24 17l-32 14z"/><path class="c40" d="M1167 3350l32-756l24 17l-32 757zM1110 3346l32-13l25 17l-33 13zM1077 3359l33-13l-25 823l-32 13z"/><path class="c26" d="M996 4178l32-13l25 17l-32 14z"/><path class="c40" d="M5489 3694l33 828l-25-18l-32-827zM5408 3673l32-14l25 18l-33 13zM5351 3669l32-14l25 18l-33 13zM5294 2921l32-13l25 761l-33 13z"/><path class="c52" d="M5237 2917l32-13l25 17l-33 14z"/><path class="c35" d="M5180 3997l32-1097l25 17l-33 1098zM5123 3993l32-13l25 17l-32 14zM5034 4002l32-13l-25 1164l-32 14z"/><path class="c30" d="M4920 4287l32 876l-25-18l-32-876zM4724 3465l32-13l25 809l-32 13z"/><path class="c26" d="M4464 4497l32-13l-24 1115l-33 14z"/><path class="c23" d="M4350 4684l32 925l-24-18l-33-925z"/><path class="c20" d="M4154 3951l32-146l25 858l-32 146z"/><path class="c22" d="M3894 4664l32 116l-24 1067l-32-116z"/><path class="c18" d="M3324 4902l33-13l-25 1018l-32 13z"/><path class="c23" d="M2185 4527l32-13l-24 921l-33 13z"/><path class="c26" d="M2071 4324l32 1120l-24-18l-33-1119zM1875 3259l32-14l25 1053l-32 14z"/><path class="c43" d="M1818 3255l32-14l25 18l-32 13z"/><path class="c30" d="M1615 4047l32-13l-24 872l-33 13z"/><path class="c35" d="M1305 2633l32-14l25 1102l-32 13z"/><path class="c52" d="M1248 2629l32-14l25 18l-32 13z"/><path class="c40" d="M1191 3368l32-757l25 18l-32 756zM1134 3363l33-13l24 18l-32 13zM1077 3359l33-13l24 17l-32 14zM1045 3373l32-14l-24 823l-32 14zM5432 3690l33-13l24 17l-32 14zM5375 3686l33-13l24 17l-32 13zM5318 3682l33-13l24 17l-32 13zM5261 2935l33-14l24 761l-32 13z"/><path class="c35" d="M5204 4015l33-1098l24 18l-32 1097zM5148 4011l32-14l24 18l-32 13zM5001 4016l33-14l-25 1165l-32 13z"/><path class="c30" d="M4944 4304l33 876l-25-17l-32-876z"/><path class="c26" d="M4432 4510l32-13l-25 1116l-32 13z"/><path class="c23" d="M4375 4701l32 925l-25-17l-32-925z"/><path class="c18" d="M3292 4915l32-13l-24 1018l-32 13zM3235 4911l33 1022l-25-17l-32-1022z"/><path class="c23" d="M2153 4540l32-13l-25 921l-32 13z"/><path class="c26" d="M2096 4341l32 1120l-25-17l-32-1120zM1843 3272l32-13l25 1053l-32 13z"/><path class="c30" d="M1583 4061l32-14l-25 872l-32 13z"/><path class="c35" d="M1526 3764l32 1168l-24-17l-33-1168zM1273 2646l32-13l25 1101l-32 14z"/><path class="c40" d="M1216 3385l32-756l25 17l-32 756zM1159 3381l32-13l25 17l-32 13zM1102 3377l32-14l25 18l-32 13zM1045 3373l32-14l25 18l-32 13zM5400 3703l32-13l25 18l-32 13zM5343 3699l32-13l25 17l-32 14zM5286 3695l32-13l25 17l-32 14z"/><path class="c22" d="M5229 4032l32-1097l25 760l-32 1098z"/><path class="c35" d="M5172 4028l32-13l25 17l-32 13z"/><path class="c49" d="M4969 3140l32 876l-24 1164l-33-876z"/><path class="c41" d="M4399 3586l33 924l-25 1116l-32-925z"/><path class="c35" d="M3260 3893l32 1022l-24 1018l-33-1022z"/><path class="c41" d="M2120 3421l33 1119l-25 921l-32-1120z"/><path class="c49" d="M1550 2892l33 1169l-25 871l-32-1168z"/><path class="c22" d="M1241 3402l32-756l25 1102l-32 756z"/><path class="c40" d="M1184 3398l32-13l25 17l-32 14zM1127 3394l32-13l25 17l-32 13zM1070 3390l32-13l25 17l-32 13zM5368 3717l32-14l25 18l-32 13zM5311 3713l32-14l25 18l-32 13z"/><path class="c22" d="M5254 4793l32-1098l25 18l-32 1097zM5197 4045l32-13l25 761l-32 13z"/><path class="c35" d="M5140 4041l32-13l25 17l-32 14z"/><path class="c22" d="M1266 4504l32-756l25 17l-33 756zM1209 3416l32-14l25 1102l-33 13z"/><path class="c40" d="M1152 3411l32-13l25 18l-33 13zM1095 3407l32-13l25 17l-33 14zM5336 3730l32-13l25 17l-33 13z"/><path class="c22" d="M5279 4810l32-1097l25 17l-32 1097zM5222 4806l32-13l25 17l-32 13zM5165 4059l32-14l25 761l-32 13z"/><path class="c49" d="M4937 3153l32-13l25 17l-33 13z"/><path class="c41" d="M4367 3599l32-13l25 17l-32 13z"/><path class="c49" d="M1518 2905l32-13l25 17l-32 14z"/><path class="c22" d="M1233 4517l33-13l24 17l-32 14zM1176 3429l33-13l24 1101l-32 13z"/><path class="c40" d="M1119 3425l33-14l24 18l-32 13z"/><path class="c22" d="M5304 4827l32-1097l24 17l-32 1098zM5247 4823l32-13l25 17l-33 14zM5190 4819l32-13l25 17l-33 14z"/><path class="c49" d="M4961 3170l33-13l24 17l-32 14zM4904 3166l33-13l24 17l-32 13z"/><path class="c41" d="M4392 3616l32-13l25 17l-33 14zM4335 3617l32-18l25 17l-33 18zM2113 3451l32-13l25 22l-33 13z"/><path class="c49" d="M1543 2923l32-14l25 18l-33 13zM1486 2919l32-14l25 18l-32 13z"/><path class="c22" d="M1258 4535l32-14l25 18l-32 13zM1201 4530l32-13l25 18l-32 13zM1144 3442l32-13l25 1101l-32 14zM5271 4841l33-14l24 18l-32 13zM5214 4837l33-14l24 18l-32 13zM5157 4832l33-13l24 18l-32 13z"/><path class="c49" d="M5068 3209l32 876l-25-17l-32-876zM4986 3188l32-14l25 18l-32 13zM4929 3183l32-13l25 18l-32 13zM4872 3179l32-13l25 17l-32 14z"/><path class="c41" d="M4416 3634l33-14l24 18l-32 13zM4359 3634l33-18l24 18l-32 18z"/><path class="c9" d="M4043 5609l32 116l-25-18l-32-115zM2447 5494l33-14l-25 112l-32 13z"/><path class="c39" d="M2137 3473l33-13l24 150l-32 13z"/><path class="c49" d="M1567 2940l33-13l24 17l-32 14zM1511 2936l32-13l24 17l-32 13zM1454 2932l32-13l25 17l-33 13z"/><path class="c22" d="M1226 4548l32-13l25 17l-32 13zM1169 4544l32-14l25 18l-32 13zM5239 4854l32-13l25 17l-32 13zM5182 4850l32-13l25 17l-32 13z"/><path class="c37" d="M5068 3209l32 876l25 761l-32-876z"/><path class="c49" d="M5011 3205l32-13l25 17l-32 13zM4954 3201l32-13l25 17l-32 13zM4897 3197l32-14l25 18l-32 13zM4840 3193l32-14l25 18l-32 13z"/><path class="c32" d="M4808 4241l32-1048l-25 1164l-32 1049z"/><path class="c28" d="M4498 3655l33 925l24 809l-32-925z"/><path class="c41" d="M4441 3651l32-13l25 17l-32 13zM4384 3652l32-18l25 17l-32 18z"/><path class="c30" d="M4238 4357l32-314l-24 1116l-32 314z"/><path class="c9" d="M4067 5627l33 115l-25-17l-32-116z"/><path class="c21" d="M3668 4841l33-951l-25 1067l-32 951z"/><path class="c20" d="M3099 4849l32-903l-25 1018l-32 903z"/><path class="c9" d="M2415 5507l32-13l-24 111l-33 13z"/><path class="c39" d="M2105 3487l32-14l25 150l-32 14z"/><path class="c32" d="M1649 2962l33 1168l25 1053l-33-1168z"/><path class="c49" d="M1592 2958l32-14l25 18l-32 13zM1535 2953l32-13l25 18l-32 13zM1478 2949l33-13l24 17l-32 14zM1421 2945l33-13l24 17l-32 14z"/><path class="c37" d="M1389 3702l32-757l-24 872l-32 756z"/><path class="c22" d="M1251 4565l32-13l25 17l-33 14zM1194 4561l32-13l25 17l-33 13zM5207 4867l32-13l25 17l-32 14z"/><path class="c37" d="M5117 3987l33 876l-25-17l-32-876zM5036 3222l32-13l25 761l-33 13z"/><path class="c49" d="M4979 3218l32-13l25 17l-33 14zM4922 3214l32-13l25 17l-33 14zM4865 3210l32-13l25 17l-33 13z"/><path class="c32" d="M4808 4241l32-1048l25 17l-32 1049zM4776 4255l32-14l-25 1165l-32 13z"/><path class="c28" d="M4548 4482l32 925l-25-18l-32-925zM4466 3668l32-13l25 809l-32 14z"/><path class="c41" d="M4409 3669l32-18l25 17l-32 18z"/><path class="c39" d="M4352 3797l32-145l25 17l-32 146z"/><path class="c26" d="M4206 4591l32-234l-24 1116l-33 234z"/><path class="c9" d="M4092 5644l32 116l-24-18l-33-115z"/><path class="c21" d="M3636 4854l32-13l-24 1067l-32 13z"/><path class="c20" d="M3408 4887l33 1022l-25-18l-32-1022zM3066 4862l33-13l-25 1018l-32 13z"/><path class="c21" d="M2839 4797l32 1071l-25-18l-32-1071z"/><path class="c13" d="M2440 5259l32-14l-25 249l-32 13z"/><path class="c9" d="M2383 5520l32-13l-25 111l-32 14z"/><path class="c35" d="M2130 3637l32-14l25 285l-32 13z"/><path class="c28" d="M1927 4292l32-13l-24 920l-33 14z"/><path class="c32" d="M1699 4032l32 1168l-24-17l-33-1168zM1617 2975l32-13l25 1053l-32 13z"/><path class="c49" d="M1560 2971l32-13l25 17l-32 13zM1503 2967l32-14l25 18l-32 13zM1446 2963l32-14l25 18l-32 13z"/><path class="c37" d="M1389 3702l32-757l25 18l-32 756zM1357 3715l32-13l-24 871l-33 14z"/><path class="c22" d="M1218 4578l33-13l24 18l-32 13zM5175 4880l32-13l25 18l-33 13z"/><path class="c37" d="M5142 4004l33 876l-25-17l-33-876zM5060 3983l33-13l24 17l-32 13zM5003 3236l33-14l24 761l-32 13z"/><path class="c49" d="M4946 3232l33-14l24 18l-32 13zM4889 3227l33-13l24 18l-32 13z"/><path class="c32" d="M4833 4259l32-1049l24 17l-32 1049zM4743 4268l33-13l-25 1164l-32 13z"/><path class="c28" d="M4572 4499l33 925l-25-17l-32-925zM4434 3686l32-18l25 810l-33 18z"/><path class="c39" d="M4377 3815l32-146l25 17l-33 146z"/><path class="c25" d="M4174 4661l32-70l-25 1116l-32 70z"/><path class="c9" d="M4117 5661l32 116l-25-17l-32-116z"/><path class="c21" d="M3604 4868l32-14l-24 1067l-33 14z"/><path class="c20" d="M3433 4904l32 1022l-24-17l-33-1022zM3034 4875l32-13l-24 1018l-32 13z"/><path class="c21" d="M2863 4814l33 1071l-25-17l-32-1071z"/><path class="c9" d="M2351 5533l32-13l-25 112l-32 13z"/><path class="c25" d="M2293 4525l33 1120l-25-74l-32-1120z"/><path class="c28" d="M1895 4305l32-13l-25 921l-32 13z"/><path class="c32" d="M1724 4049l32 1169l-25-18l-32-1168zM1585 2988l32-13l25 1053l-32 13z"/><path class="c49" d="M1528 2984l32-13l25 17l-33 13zM1471 2980l32-13l25 17l-33 13z"/><path class="c37" d="M1414 3719l32-756l25 17l-32 756zM1357 3715l32-13l25 17l-32 13zM1325 3728l32-13l-25 872l-32 13z"/><path class="c22" d="M1243 4596l32-13l25 17l-32 13z"/><path class="c37" d="M5167 4022l32 876l-24-18l-33-876zM5085 4000l32-13l25 17l-32 14zM5028 3996l32-13l25 17l-32 14zM4971 3249l32-13l25 760l-32 13z"/><path class="c49" d="M4914 3245l32-13l25 17l-32 13z"/><path class="c32" d="M4857 4276l32-1049l25 18l-32 1049zM4800 4272l33-13l24 17l-32 13zM4711 4281l32-13l-24 1164l-32 13z"/><path class="c28" d="M4597 4517l33 924l-25-17l-33-925z"/><path class="c26" d="M4401 3832l33-146l24 810l-32 145z"/><path class="c27" d="M4141 4546l33 115l-25 1116l-32-116z"/><path class="c21" d="M3572 4881l32-13l-25 1067l-32 13z"/><path class="c20" d="M3458 4921l32 1023l-25-18l-32-1022zM3002 4888l32-13l-24 1018l-33 14z"/><path class="c21" d="M2888 4831l32 1071l-24-17l-33-1071z"/><path class="c27" d="M2318 4414l33 1119l-25 112l-33-1120z"/><path class="c28" d="M1862 4319l33-14l-25 921l-32 13z"/><path class="c32" d="M1748 4067l33 1168l-25-17l-32-1169zM1552 3001l33-13l25 1053l-33 13z"/><path class="c49" d="M1495 2997l33-13l24 17l-32 14z"/><path class="c37" d="M1439 3736l32-756l24 17l-32 757zM1382 3732l32-13l25 17l-33 14zM1325 3728l32-13l25 17l-33 13zM1292 3741l33-13l-25 872l-32 13zM5110 4018l32-14l25 18l-32 13zM5053 4014l32-14l25 18l-32 13zM4996 4009l32-13l25 18l-32 13zM4939 3262l32-13l25 760l-32 14z"/><path class="c32" d="M4882 4294l32-1049l25 17l-32 1049zM4825 4289l32-13l25 18l-32 13zM4679 4294l32-13l-24 1164l-33 14z"/><path class="c28" d="M4622 4534l32 925l-24-18l-33-924z"/><path class="c21" d="M3539 4894l33-13l-25 1067l-32 13z"/><path class="c20" d="M3482 4939l33 1022l-25-17l-32-1023zM2970 4902l32-14l-25 1019l-32 13z"/><path class="c21" d="M2913 4849l32 1071l-25-18l-32-1071z"/><path class="c28" d="M1830 4332l32-13l-24 920l-32 14z"/><path class="c32" d="M1773 4084l33 1169l-25-18l-33-1168zM1520 3015l32-14l25 1053l-32 14z"/><path class="c37" d="M1463 3754l32-757l25 18l-32 756zM1406 3750l33-14l24 18l-32 13zM1349 3745l33-13l24 18l-32 13zM1292 3741l33-13l24 17l-32 14zM5078 4031l32-13l25 17l-33 13zM5021 4027l32-13l25 17l-33 13zM4964 4023l32-14l25 18l-33 13z"/><path class="c20" d="M4907 4311l32-1049l25 761l-32 1048z"/><path class="c32" d="M4850 4307l32-13l25 17l-33 13z"/><path class="c48" d="M4646 3370l33 924l-25 1165l-32-925z"/><path class="c38" d="M3507 3872l32 1022l-24 1067l-33-1022zM2937 3831l33 1071l-25 1018l-32-1071z"/><path class="c48" d="M1798 3163l32 1169l-24 921l-33-1169z"/><path class="c20" d="M1488 3771l32-756l25 1053l-32 756z"/><path class="c37" d="M1431 3767l32-13l25 17l-32 13zM1374 3763l32-13l25 17l-32 13zM1317 3759l32-14l25 18l-32 13zM5045 4044l33-13l24 17l-32 14zM4988 4040l33-13l24 17l-32 13z"/><path class="c20" d="M4932 5071l32-1048l24 17l-32 1049zM4874 4324l33-13l25 760l-33 14z"/><path class="c32" d="M4818 4320l32-13l24 17l-32 13z"/><path class="c20" d="M1513 4824l32-756l25 17l-32 756zM1456 3784l32-13l25 1053l-32 13z"/><path class="c37" d="M1399 3780l32-13l25 17l-32 14zM1342 3776l32-13l25 17l-32 13zM5013 4057l32-13l25 18l-32 13z"/><path class="c20" d="M4956 5089l32-1049l25 17l-32 1049zM4899 5085l33-14l24 18l-32 13zM4842 4337l32-13l25 761l-32 13z"/><path class="c48" d="M4614 3383l32-13l25 17l-32 13zM1765 3177l33-14l24 18l-32 13z"/><path class="c20" d="M1481 4837l32-13l25 17l-33 14zM1424 3798l32-14l25 1053l-32 14z"/><path class="c37" d="M1367 3793l32-13l25 18l-33 13z"/><path class="c20" d="M4981 5106l32-1049l25 18l-32 1049zM4924 5102l32-13l25 17l-32 13zM4867 5098l32-13l25 17l-32 13z"/><path class="c48" d="M4639 3400l32-13l25 17l-32 14z"/><path class="c47" d="M4582 3401l32-18l25 17l-32 18zM1790 3194l32-13l25 22l-32 13z"/><path class="c48" d="M1733 3190l32-13l25 17l-32 13z"/><path class="c20" d="M1505 4855l33-14l24 18l-32 13zM1449 4851l32-14l24 18l-32 13zM1391 3811l33-13l25 1053l-33 13zM4949 5119l32-13l25 18l-32 13zM4892 5115l32-13l25 17l-32 14zM4835 5111l32-13l25 17l-32 14z"/><path class="c48" d="M4745 3439l33 925l-25-17l-32-925zM4664 3418l32-14l25 18l-33 13z"/><path class="c47" d="M4607 3418l32-18l25 18l-33 18z"/><path class="c45" d="M4550 3547l32-146l25 17l-33 146z"/><path class="c14" d="M4290 5442l32 116l-25-18l-32-115z"/><path class="c41" d="M2385 3643l32-14l25 18l-33 13z"/><path class="c14" d="M2125 5285l32-13l-25 111l-32 14z"/><path class="c45" d="M1815 3216l32-13l25 150l-32 13z"/><path class="c47" d="M1758 3207l32-13l25 22l-32 14z"/><path class="c48" d="M1701 3203l32-13l25 17l-32 14z"/><path class="c20" d="M1473 4868l32-13l25 17l-32 13zM1416 4864l33-13l24 17l-32 13zM4917 5133l32-14l25 18l-33 13zM4860 5129l32-14l25 18l-33 13z"/><path class="c35" d="M4745 3439l33 925l25 760l-33-924z"/><path class="c48" d="M4688 3435l33-13l24 17l-32 13z"/><path class="c47" d="M4631 3436l33-18l24 17l-32 18z"/><path class="c45" d="M4574 3564l33-146l24 18l-32 145z"/><path class="c41" d="M4517 3827l33-280l24 17l-32 280z"/><path class="c36" d="M4485 4141l32-314l-24 1164l-32 315z"/><path class="c14" d="M4315 5459l32 116l-25-17l-32-116z"/><path class="c19" d="M4258 5190l32 252l-25-17l-32-253z"/><path class="c26" d="M3916 4723l32-952l-25 1116l-32 951z"/><path class="c23" d="M3346 4828l32-903l-25 1067l-32 902z"/><path class="c24" d="M2776 4738l32-854l-24 1018l-32 854z"/><path class="c41" d="M2352 3656l33-13l24 17l-32 13z"/><path class="c19" d="M2149 5037l33-13l-25 248l-32 13z"/><path class="c14" d="M2093 5298l32-13l-25 112l-32 13z"/><path class="c41" d="M1840 3366l32-13l25 284l-33 14z"/><path class="c45" d="M1783 3230l32-14l25 150l-33 13z"/><path class="c47" d="M1726 3221l32-14l25 23l-33 13z"/><path class="c48" d="M1669 3216l32-13l25 18l-33 13z"/><path class="c35" d="M1636 3973l33-757l-25 921l-32 757z"/><path class="c20" d="M1498 4885l32-13l25 17l-32 14zM1441 4881l32-13l25 17l-32 14zM4884 5146l33-13l24 17l-32 13z"/><path class="c35" d="M4795 4217l32 925l-24-18l-33-924zM4713 3452l32-13l25 761l-32 13z"/><path class="c47" d="M4656 3453l32-18l25 17l-32 19z"/><path class="c45" d="M4599 3581l32-145l25 17l-32 146z"/><path class="c41" d="M4542 3844l32-280l25 17l-32 281z"/><path class="c36" d="M4485 4141l32-314l25 17l-32 315z"/><path class="c32" d="M4453 4375l32-234l-24 1165l-32 234z"/><path class="c14" d="M4339 5477l33 115l-25-17l-32-116z"/><path class="c19" d="M4282 5207l33 252l-25-17l-32-252z"/><path class="c27" d="M4143 3865l33 210l25 809l-33-210z"/><path class="c26" d="M3883 4736l33-13l-25 1115l-32 13z"/><path class="c24" d="M3655 4817l33 1022l-25-17l-32-1023z"/><path class="c23" d="M3314 4841l32-13l-25 1066l-32 14zM3086 4824l32 1071l-25-17l-32-1071z"/><path class="c24" d="M2744 4751l32-13l-24 1018l-33 13z"/><path class="c26" d="M2516 4637l32 1120l-24-18l-33-1120z"/><path class="c19" d="M2117 5050l32-13l-24 248l-32 13z"/><path class="c14" d="M2060 5312l33-14l-25 112l-32 13z"/><path class="c32" d="M1946 4194l33 1168l-25-238l-33-1168z"/><path class="c36" d="M1864 3651l33-14l24 319l-32 13z"/><path class="c41" d="M1807 3379l33-13l24 285l-32 13z"/><path class="c45" d="M1750 3243l33-13l24 149l-32 14z"/><path class="c47" d="M1693 3234l33-13l24 22l-32 13z"/><path class="c35" d="M1636 3973l33-757l24 18l-32 756zM1604 3986l32-13l-24 921l-32 13z"/><path class="c20" d="M1466 4899l32-14l25 18l-33 13zM4852 5159l32-13l25 17l-32 14z"/><path class="c35" d="M4820 4234l32 925l-25-17l-32-925zM4738 4213l32-13l25 17l-32 13zM4681 3471l32-19l25 761l-32 18z"/><path class="c45" d="M4624 3599l32-146l25 18l-32 145z"/><path class="c41" d="M4567 3862l32-281l25 18l-32 280z"/><path class="c36" d="M4510 4159l32-315l25 18l-32 314z"/><path class="c32" d="M4453 4375l32-234l25 18l-32 234z"/><path class="c31" d="M4421 4445l32-70l-24 1165l-33 70z"/><path class="c14" d="M4364 5494l32 116l-24-18l-33-115z"/><path class="c19" d="M4307 5224l32 253l-24-18l-33-252z"/><path class="c28" d="M4111 3814l32 51l25 809l-32-50z"/><path class="c26" d="M3851 4749l32-13l-24 1115l-32 14z"/><path class="c24" d="M3680 4834l33 1022l-25-17l-33-1022z"/><path class="c23" d="M3281 4854l33-13l-25 1067l-32 13zM3110 4842l33 1071l-25-18l-32-1071z"/><path class="c24" d="M2712 4764l32-13l-25 1018l-32 13z"/><path class="c26" d="M2541 4654l32 1120l-25-17l-32-1120z"/><path class="c24" d="M2142 4766l32-13l-25 284l-32 13z"/><path class="c19" d="M2085 5064l32-14l-24 248l-33 14z"/><path class="c14" d="M2028 5325l32-13l-24 111l-33 13z"/><path class="c31" d="M1971 4268l32 1168l-24-74l-33-1168z"/><path class="c36" d="M1832 3664l32-13l25 318l-32 13z"/><path class="c41" d="M1775 3393l32-14l25 285l-32 13z"/><path class="c45" d="M1718 3256l32-13l25 150l-32 13z"/><path class="c35" d="M1661 3990l32-756l25 22l-32 756zM1604 3986l32-13l25 17l-32 13zM1572 3999l32-13l-24 921l-33 13z"/><path class="c20" d="M1490 4916l33-13l24 17l-32 13z"/><path class="c35" d="M4844 4252l33 925l-25-18l-32-925zM4763 4230l32-13l25 17l-33 14zM4706 4231l32-18l25 17l-33 18z"/><path class="c33" d="M4649 3616l32-145l25 760l-33 146z"/><path class="c41" d="M4592 3879l32-280l25 17l-33 281z"/><path class="c36" d="M4535 4176l32-314l25 17l-33 314z"/><path class="c32" d="M4478 4393l32-234l25 17l-32 234z"/><path class="c34" d="M4389 4330l32 115l-25 1165l-32-116z"/><path class="c19" d="M4332 5242l32 252l-25-17l-32-253z"/><path class="c28" d="M4079 3828l32-14l25 810l-32 13z"/><path class="c26" d="M3819 4762l32-13l-24 1116l-33 13z"/><path class="c24" d="M3705 4852l32 1022l-24-18l-33-1022z"/><path class="c23" d="M3249 4867l32-13l-24 1067l-32 13zM3135 4859l33 1071l-25-17l-33-1071z"/><path class="c24" d="M2679 4777l33-13l-25 1018l-32 13z"/><path class="c26" d="M2565 4672l33 1119l-25-17l-32-1120z"/><path class="c24" d="M2110 4779l32-13l-25 284l-32 14z"/><path class="c19" d="M2053 5077l32-13l-25 248l-32 13z"/><path class="c34" d="M1996 4157l32 1168l-25 111l-32-1168z"/><path class="c32" d="M1857 3982l32-13l25 238l-32 13z"/><path class="c36" d="M1800 3677l32-13l25 318l-32 14z"/><path class="c41" d="M1743 3406l32-13l25 284l-32 13z"/><path class="c33" d="M1686 4012l32-756l25 150l-32 756z"/><path class="c35" d="M1629 4003l32-13l25 22l-32 14zM1572 3999l32-13l25 17l-32 14zM1540 4013l32-14l-25 921l-32 13zM4787 4248l33-14l24 18l-32 13zM4730 4248l33-18l24 18l-32 18z"/><path class="c33" d="M4673 4377l33-146l24 17l-32 146z"/><path class="c29" d="M4616 3897l33-281l24 761l-32 280z"/><path class="c36" d="M4559 4193l33-314l24 18l-32 314z"/><path class="c32" d="M4503 4410l32-234l24 17l-32 235z"/><path class="c31" d="M4446 4463l32-70l25 17l-33 70z"/><path class="c34" d="M4413 4347l33 116l-25-18l-32-115z"/><path class="c38" d="M4356 4077l33 253l-25 1164l-32-252z"/><path class="c26" d="M3787 4776l32-14l-25 1116l-32 13z"/><path class="c24" d="M3730 4869l32 1022l-25-17l-32-1022z"/><path class="c23" d="M3217 4881l32-14l-24 1067l-33 13zM3160 4876l32 1071l-24-17l-33-1071z"/><path class="c24" d="M2647 4791l32-14l-24 1018l-32 14z"/><path class="c26" d="M2590 4689l33 1120l-25-18l-33-1119z"/><path class="c27" d="M2134 4574l33-14l-25 206l-32 13z"/><path class="c38" d="M2020 3908l33 1169l-25 248l-32-1168z"/><path class="c32" d="M1825 3996l32-14l25 238l-33 14z"/><path class="c36" d="M1768 3690l32-13l25 319l-33 13z"/><path class="c29" d="M1711 4162l32-756l25 284l-33 757z"/><path class="c33" d="M1654 4026l32-14l25 150l-33 13z"/><path class="c35" d="M1597 4017l32-14l25 23l-33 13zM1540 4013l32-14l25 18l-33 13zM4755 4266l32-18l25 17l-32 18z"/><path class="c33" d="M4698 4394l32-146l25 18l-32 145z"/><path class="c29" d="M4641 4657l32-280l25 17l-32 280z"/><path class="c24" d="M4584 4211l32-314l25 760l-32 314z"/><path class="c32" d="M4527 4428l32-235l25 18l-32 234z"/><path class="c31" d="M4470 4480l33-70l24 18l-32 70z"/><path class="c43" d="M3754 3753l33 1023l-25 1115l-32-1022z"/><path class="c41" d="M3184 3810l33 1071l-25 1066l-32-1071z"/><path class="c43" d="M2615 3671l32 1120l-24 1018l-33-1120z"/><path class="c32" d="M1792 4009l33-13l24 238l-32 13z"/><path class="c24" d="M1735 4447l33-757l24 319l-32 756z"/><path class="c29" d="M1678 4175l33-13l24 285l-32 13z"/><path class="c33" d="M1621 4039l33-13l24 149l-32 14z"/><path class="c35" d="M1564 4030l33-13l24 22l-32 13z"/><path class="c33" d="M4723 4411l32-145l25 17l-32 146z"/><path class="c29" d="M4666 4674l32-280l25 17l-32 281z"/><path class="c24" d="M4609 4971l32-314l25 17l-32 315z"/><path class="c20" d="M4552 4445l32-234l25 760l-32 234z"/><path class="c31" d="M4495 4498l32-70l25 17l-32 70z"/><path class="c20" d="M1760 4765l32-756l25 238l-32 756z"/><path class="c24" d="M1703 4460l32-13l25 318l-32 13z"/><path class="c29" d="M1646 4189l32-14l25 285l-32 13z"/><path class="c33" d="M1589 4052l32-13l25 150l-32 13z"/><path class="c29" d="M4691 4692l32-281l25 18l-33 280z"/><path class="c24" d="M4634 4989l32-315l25 18l-33 314z"/><path class="c20" d="M4577 5205l32-234l25 18l-32 234z"/><path class="c19" d="M4520 4515l32-70l25 760l-32 70zM1785 5003l32-756l25 74l-32 756z"/><path class="c20" d="M1728 4778l32-13l25 238l-32 14z"/><path class="c24" d="M1671 4473l32-13l25 318l-32 14z"/><path class="c29" d="M1614 4202l32-13l25 284l-32 14z"/><path class="c24" d="M4658 5006l33-314l24 17l-32 315z"/><path class="c20" d="M4602 5223l32-234l24 17l-32 234z"/><path class="c19" d="M4545 5275l32-70l25 18l-33 70z"/><path class="c21" d="M4487 4399l33 116l25 760l-33-115z"/><path class="c43" d="M3747 3784l32-13l25 17l-33 13z"/><path class="c20" d="M1696 4792l32-14l25 239l-33 13z"/><path class="c24" d="M1639 4487l32-14l25 319l-33 13z"/><path class="c20" d="M4626 5240l32-234l25 18l-32 234z"/><path class="c19" d="M4569 5293l33-70l24 17l-32 70z"/><path class="c21" d="M4537 5177l32 116l-24-18l-33-115z"/><path class="c26" d="M4455 4147l32 252l25 761l-32-253z"/><path class="c48" d="M4227 3542l32-13l25 17l-32 13z"/><path class="c43" d="M3771 3801l33-13l24 18l-32 13z"/><path class="c48" d="M2062 3385l32-13l25 17l-32 14z"/><path class="c26" d="M1834 4966l33-756l24-249l-32 757z"/><path class="c21" d="M1802 4979l32-13l-24 111l-33 14z"/><path class="c19" d="M1720 5030l33-13l24 74l-32 13z"/><path class="c20" d="M1663 4805l33-13l24 238l-32 13z"/><path class="c19" d="M4594 5310l32-70l25 18l-32 70z"/><path class="c21" d="M4562 5195l32 115l-25-17l-32-116z"/><path class="c26" d="M4505 4925l32 252l-25-17l-32-253z"/><path class="c31" d="M4423 3859l32 288l25 760l-32-288z"/><path class="c48" d="M4252 3559l32-13l25 18l-32 13zM4195 3555l32-13l25 17l-32 14z"/><path class="c32" d="M4163 4507l32-952l-25 1165l-32 951z"/><path class="c30" d="M3853 3823l33 1022l24 809l-32-1022z"/><path class="c43" d="M3796 3819l32-13l25 17l-32 13zM3739 3815l32-14l25 18l-32 13z"/><path class="c28" d="M3593 4709l32-903l-24 1116l-32 903z"/><path class="c27" d="M3023 4717l32-854l-24 1067l-32 853z"/><path class="c30" d="M2454 4529l32-805l-25 1018l-32 805z"/><path class="c48" d="M2087 3403l32-14l25 18l-33 13zM2030 3399l32-14l25 18l-33 13z"/><path class="c31" d="M1859 4718l32-757l25-284l-32 757z"/><path class="c26" d="M1827 4731l32-13l-25 248l-32 13z"/><path class="c21" d="M1770 4992l32-13l-25 112l-32 13z"/><path class="c19" d="M1688 5043l32-13l25 74l-32 13z"/><path class="c21" d="M4586 5212l33 116l-25-18l-32-115z"/><path class="c26" d="M4529 4942l33 253l-25-18l-32-252z"/><path class="c31" d="M4472 4637l33 288l-25-18l-32-288z"/><path class="c34" d="M4391 3649l32 210l25 760l-33-210z"/><path class="c48" d="M4277 3577l32-13l25 17l-33 13zM4220 3573l32-14l25 18l-33 13z"/><path class="c32" d="M4163 4507l32-952l25 18l-32 951zM4131 4520l32-13l-25 1164l-32 13z"/><path class="c30" d="M3903 4650l32 1022l-25-18l-32-1022zM3821 3836l32-13l25 809l-32 13z"/><path class="c43" d="M3764 3832l32-13l25 17l-32 13z"/><path class="c28" d="M3561 4722l32-13l-24 1116l-33 13z"/><path class="c27" d="M3333 4755l32 1070l-24-17l-33-1071zM2991 4730l32-13l-24 1066l-32 14z"/><path class="c28" d="M2763 4665l33 1119l-25-17l-33-1120z"/><path class="c30" d="M2421 4542l33-13l-25 1018l-32 13z"/><path class="c32" d="M2193 4380l33 1168l-25-17l-32-1169zM2111 3420l33-13l25 955l-33 14z"/><path class="c48" d="M2054 3416l33-13l24 17l-32 13zM1998 3412l32-13l24 17l-32 13z"/><path class="c34" d="M1884 4434l32-757l25-205l-33 756z"/><path class="c31" d="M1852 4447l32-13l-25 284l-32 13z"/><path class="c26" d="M1795 4744l32-13l-25 248l-32 13z"/><path class="c21" d="M1738 5006l32-14l-25 112l-32 13z"/><path class="c26" d="M4554 4960l32 252l-24-17l-33-253z"/><path class="c31" d="M4497 4654l32 288l-24-17l-33-288z"/><path class="c34" d="M4440 4427l32 210l-24-18l-33-210z"/><path class="c35" d="M4358 3598l33 51l24 760l-32-50z"/><path class="c48" d="M4301 3594l33-13l24 17l-32 14zM4244 3590l33-13l24 17l-32 13z"/><path class="c32" d="M4188 4524l32-951l24 17l-32 951zM4098 4533l33-13l-25 1164l-32 13z"/><path class="c30" d="M3927 4667l33 1022l-25-17l-32-1022zM3789 3849l32-13l25 809l-33 14z"/><path class="c28" d="M3529 4736l32-14l-25 1116l-32 13z"/><path class="c27" d="M3358 4772l32 1071l-25-18l-32-1070zM2959 4743l32-13l-24 1067l-33 13z"/><path class="c28" d="M2788 4682l32 1120l-24-18l-33-1119z"/><path class="c30" d="M2389 4556l32-14l-24 1018l-32 14z"/><path class="c32" d="M2218 4397l33 1168l-25-17l-33-1168zM2079 3433l32-13l25 956l-32 13z"/><path class="c48" d="M2022 3429l32-13l25 17l-32 14zM1965 3425l33-13l24 17l-32 13z"/><path class="c35" d="M1908 4228l33-756l24-47l-32 756z"/><path class="c34" d="M1876 4241l32-13l-24 206l-32 13z"/><path class="c31" d="M1819 4460l33-13l-25 284l-32 13z"/><path class="c26" d="M1762 4758l33-14l-25 248l-32 14z"/><path class="c31" d="M4522 4671l32 289l-25-18l-32-288z"/><path class="c34" d="M4465 4444l32 210l-25-17l-32-210z"/><path class="c35" d="M4326 3612l32-14l25 761l-32 13z"/><path class="c48" d="M4269 3607l32-13l25 18l-32 13z"/><path class="c32" d="M4212 4541l32-951l25 17l-32 952zM4155 4537l33-13l24 17l-32 14zM4066 4546l32-13l-24 1164l-32 14z"/><path class="c30" d="M3952 4684l33 1023l-25-18l-33-1022zM3756 3863l33-14l24 810l-32 13z"/><path class="c28" d="M3496 4749l33-13l-25 1115l-32 13z"/><path class="c27" d="M3382 4789l33 1071l-25-17l-32-1071zM2927 4756l32-13l-25 1067l-32 13z"/><path class="c28" d="M2813 4699l32 1120l-25-17l-32-1120z"/><path class="c30" d="M2357 4569l32-13l-24 1018l-33 13z"/><path class="c32" d="M2243 4414l32 1169l-24-18l-33-1168zM2047 3447l32-14l25 956l-32 13z"/><path class="c48" d="M1990 3442l32-13l25 18l-32 13z"/><path class="c35" d="M1933 4181l32-756l25 17l-32 757z"/><path class="c34" d="M1844 4254l32-13l-24 206l-33 13z"/><path class="c31" d="M1787 4474l32-14l-24 284l-33 14z"/><path class="c34" d="M4490 4462l32 209l-25-17l-32-210z"/><path class="c35" d="M4433 4394l32 50l-25-17l-32-51zM4351 4372l32-13l25 17l-32 13zM4294 3625l32-13l25 760l-32 13z"/><path class="c32" d="M4237 4559l32-952l25 18l-32 951zM4180 4555l32-14l25 18l-32 13zM4034 4560l32-14l-24 1165l-33 13z"/><path class="c30" d="M3977 4702l32 1022l-24-17l-33-1023z"/><path class="c28" d="M3464 4762l32-13l-24 1115l-32 14z"/><path class="c27" d="M3407 4807l33 1071l-25-18l-33-1071zM2894 4770l33-14l-25 1067l-32 13z"/><path class="c28" d="M2837 4717l33 1119l-25-17l-32-1120z"/><path class="c30" d="M2325 4582l32-13l-25 1018l-32 13z"/><path class="c32" d="M2268 4432l32 1168l-25-17l-32-1169zM2015 3460l32-13l25 955l-32 13z"/><path class="c35" d="M1958 4199l32-757l25 18l-32 756zM1901 4195l32-14l25 18l-32 13zM1869 4208l32-13l-25 46l-32 13z"/><path class="c34" d="M1812 4268l32-14l-25 206l-32 14z"/><path class="c35" d="M4457 4411l33 51l-25-18l-32-50zM4376 4389l32-13l25 18l-33 13zM4319 4385l32-13l25 17l-33 14z"/><path class="c20" d="M4262 4576l32-951l25 760l-32 952z"/><path class="c32" d="M4205 4572l32-13l25 17l-33 13z"/><path class="c49" d="M4001 3537l33 1023l-25 1164l-32-1022z"/><path class="c46" d="M3432 3691l32 1071l-24 1116l-33-1071zM2862 3650l32 1120l-24 1066l-33-1119z"/><path class="c49" d="M2292 3414l33 1168l-25 1018l-32-1168z"/><path class="c20" d="M1983 4216l32-756l25 955l-32 757z"/><path class="c35" d="M1926 4212l32-13l25 17l-33 14zM1869 4208l32-13l25 17l-33 13zM1836 4221l33-13l-25 46l-32 14zM4400 4407l33-13l24 17l-32 13zM4343 4403l33-14l24 18l-32 13z"/><path class="c20" d="M4287 5337l32-952l24 18l-32 951zM4229 4589l33-13l25 761l-33 13z"/><path class="c32" d="M4172 4585l33-13l24 17l-32 14z"/><path class="c20" d="M2008 5172l32-757l24 18l-32 756zM1950 4230l33-14l25 956l-33 13z"/><path class="c35" d="M1893 4225l33-13l24 18l-32 13zM1836 4221l33-13l24 17l-32 14zM4368 4420l32-13l25 17l-32 14z"/><path class="c20" d="M4311 5354l32-951l25 17l-32 951zM4254 5350l33-13l24 17l-32 13zM4197 4603l32-14l25 761l-32 13z"/><path class="c49" d="M4051 3572l32 1022l-24-17l-33-1022zM3969 3551l32-14l25 18l-32 13zM2260 3427l32-13l25 17l-32 13z"/><path class="c20" d="M1975 5185l33-13l24 17l-32 13zM1918 4243l32-13l25 955l-32 13z"/><path class="c35" d="M1861 4239l32-14l25 18l-32 13z"/><path class="c20" d="M4336 5371l32-951l25 18l-32 951zM4279 5367l32-13l25 17l-32 14zM4222 5363l32-13l25 17l-32 14z"/><path class="c49" d="M4076 3590l32 1022l-25-18l-32-1022zM3994 3568l32-13l25 17l-32 13zM3937 3564l32-13l25 17l-32 13z"/><path class="c46" d="M3424 3722l32-14l25 18l-32 13z"/><path class="c49" d="M2366 3466l33 1168l-25-17l-33-1169zM2285 3444l32-13l24 17l-32 14zM2228 3440l32-13l25 17l-33 14z"/><path class="c20" d="M2000 5202l32-13l25 17l-32 14zM1943 5198l32-13l25 17l-32 14zM1886 4256l32-13l25 955l-32 13zM4304 5385l32-14l25 18l-33 13zM4247 5381l32-14l25 18l-32 13zM4190 5376l32-13l25 18l-32 13z"/><path class="c49" d="M4100 3607l33 1022l-25-17l-32-1022zM4019 3585l32-13l25 18l-33 13zM3962 3581l32-13l25 17l-33 14zM3905 3577l32-13l25 17l-33 14z"/><path class="c46" d="M3449 3739l32-13l25 17l-32 13z"/><path class="c49" d="M2309 3462l32-14l25 18l-32 13zM2252 3458l33-14l24 18l-32 13zM2195 3453l33-13l24 18l-32 13z"/><path class="c20" d="M1968 5216l32-14l25 18l-33 13zM1911 5211l32-13l25 18l-33 13zM4272 5398l32-13l24 17l-32 13zM4215 5394l32-13l25 17l-33 13z"/><path class="c37" d="M4125 4367l33 1023l-25-761l-33-1022z"/><path class="c49" d="M4043 3603l33-13l24 17l-32 13zM3986 3599l33-14l24 18l-32 13zM3929 3595l33-14l24 18l-32 13zM3872 3590l33-13l24 18l-32 13z"/><path class="c35" d="M3840 4493l32-903l-24 1165l-32 902z"/><path class="c33" d="M3555 4570l33 1071l-25-809l-32-1071z"/><path class="c46" d="M3474 3756l32-13l25 18l-33 13z"/><path class="c32" d="M3271 4598l32-854l-25 1116l-32 854zM2986 4577l32 1120l-25-858l-32-1120z"/><path class="c33" d="M2701 4508l32-805l-25 1067l-32 805z"/><path class="c35" d="M2391 3483l32 1169l25 906l-32-1168z"/><path class="c49" d="M2334 3479l32-13l25 17l-32 13zM2277 3475l32-13l25 17l-32 13zM2220 3471l32-13l25 17l-32 13zM2163 3467l32-14l25 18l-32 13z"/><path class="c37" d="M2131 4223l32-756l-24 1018l-33 756z"/><path class="c20" d="M1992 5233l33-13l24 17l-32 13zM1935 5229l33-13l24 17l-32 13zM4239 5411l33-13l24 17l-32 14z"/><path class="c37" d="M4150 4385l32 1022l-24-17l-33-1023zM4068 3620l32-13l25 760l-32 14z"/><path class="c49" d="M4011 3616l32-13l25 17l-32 13zM3954 3612l32-13l25 17l-32 13zM3897 3608l32-13l25 17l-32 13z"/><path class="c35" d="M3840 4493l32-903l25 18l-32 902zM3808 4506l32-13l-24 1164l-32 14z"/><path class="c33" d="M3580 4587l33 1071l-25-17l-33-1071zM3498 3774l33-13l24 809l-32 13z"/><path class="c46" d="M3441 3770l33-14l24 18l-32 13z"/><path class="c32" d="M3238 4611l33-13l-25 1116l-32 13zM3010 4595l33 1119l-25-17l-32-1120z"/><path class="c33" d="M2668 4521l33-13l-25 1067l-32 13z"/><path class="c35" d="M2441 4407l32 1169l-25-18l-32-1168zM2359 3496l32-13l25 907l-32 13z"/><path class="c49" d="M2302 3492l32-13l25 17l-33 14zM2245 3488l32-13l25 17l-33 14zM2188 3484l32-13l25 17l-33 13z"/><path class="c37" d="M2131 4223l32-756l25 17l-32 756zM2099 4236l32-13l-25 1018l-32 13z"/><path class="c20" d="M1960 5246l32-13l25 17l-32 14zM4207 5424l32-13l25 18l-32 13z"/><path class="c37" d="M4175 4402l32 1022l-25-17l-32-1022zM4093 4381l32-14l25 18l-32 13zM4036 3633l32-13l25 761l-32 13z"/><path class="c49" d="M3979 3629l32-13l25 17l-33 14zM3922 3625l32-13l25 17l-32 14z"/><path class="c35" d="M3865 4510l32-902l25 17l-32 903zM3776 4520l32-14l-24 1165l-33 13z"/><path class="c33" d="M3605 4605l32 1071l-24-18l-33-1071zM3466 3787l32-13l25 809l-32 13z"/><path class="c32" d="M3206 4624l32-13l-24 1116l-32 13zM3035 4612l33 1120l-25-18l-33-1119z"/><path class="c33" d="M2636 4535l32-14l-24 1067l-32 13z"/><path class="c35" d="M2465 4425l33 1168l-25-17l-32-1169zM2326 3510l33-14l25 907l-33 13z"/><path class="c49" d="M2269 3506l33-14l24 18l-32 13zM2212 3501l33-13l24 18l-32 13z"/><path class="c37" d="M2156 4240l32-756l24 17l-32 757zM2099 4236l32-13l25 17l-33 14zM2066 4250l33-14l-25 1018l-32 14z"/><path class="c20" d="M1985 5264l32-14l25 18l-32 13z"/><path class="c37" d="M4199 4420l33 1022l-25-18l-32-1022zM4118 4398l32-13l25 17l-33 13zM4061 4394l32-13l25 17l-33 13zM4003 3647l33-14l25 761l-33 13z"/><path class="c49" d="M3947 3643l32-14l24 18l-32 13z"/><path class="c35" d="M3890 4528l32-903l25 18l-33 902zM3743 4533l33-13l-25 1164l-32 13z"/><path class="c33" d="M3630 4622l32 1071l-25-17l-32-1071z"/><path class="c32" d="M3174 4638l32-14l-24 1116l-33 13zM3060 4630l32 1119l-24-17l-33-1120z"/><path class="c33" d="M2604 4548l32-13l-24 1066l-33 14z"/><path class="c35" d="M2490 4442l32 1169l-24-18l-33-1168zM2294 3523l32-13l25 906l-32 14z"/><path class="c49" d="M2237 3519l32-13l25 17l-32 13z"/><path class="c37" d="M2180 4258l32-757l25 18l-32 756zM2123 4254l33-14l24 18l-32 13zM2066 4250l33-14l24 18l-32 13zM2034 4263l32-13l-24 1018l-32 13zM4142 4415l33-13l24 18l-32 13zM4085 4411l33-13l24 17l-32 14zM4028 4407l33-13l24 17l-32 14zM3971 3660l32-13l25 760l-32 14z"/><path class="c35" d="M3914 4545l33-902l24 17l-32 903zM3857 4541l33-13l24 17l-32 13zM3711 4546l32-13l-24 1164l-32 13z"/><path class="c33" d="M3654 4639l33 1071l-25-17l-32-1071z"/><path class="c32" d="M3142 4651l32-13l-25 1115l-32 14zM3085 4647l32 1120l-25-18l-32-1119z"/><path class="c33" d="M2572 4561l32-13l-25 1067l-32 13z"/><path class="c35" d="M2515 4459l32 1169l-25-17l-32-1169zM2262 3536l32-13l25 907l-32 13z"/><path class="c37" d="M2205 4275l32-756l25 17l-32 757zM2148 4271l32-13l25 17l-32 14zM2091 4267l32-13l25 17l-32 13zM2034 4263l32-13l25 17l-32 13zM4110 4429l32-14l25 18l-32 13zM4053 4425l32-14l25 18l-32 13zM3996 4421l32-14l25 18l-32 13z"/><path class="c22" d="M3939 4563l32-903l25 761l-32 902z"/><path class="c35" d="M3882 4558l32-13l25 18l-32 13z"/><path class="c52" d="M3679 3475l32 1071l-24 1164l-33-1071z"/><path class="c51" d="M3109 3531l33 1120l-25 1116l-32-1120z"/><path class="c52" d="M2539 3393l33 1168l-25 1067l-32-1169z"/><path class="c22" d="M2230 4293l32-757l25 907l-32 756z"/><path class="c37" d="M2173 4289l32-14l25 18l-32 13zM2116 4284l32-13l25 18l-32 13zM2059 4280l32-13l25 17l-32 14zM4078 4442l32-13l25 17l-32 13zM4021 4438l32-13l25 17l-32 13z"/><path class="c22" d="M3964 5323l32-902l25 17l-32 902zM3907 4576l32-13l25 760l-32 13z"/><path class="c35" d="M3850 4572l32-14l25 18l-32 13z"/><path class="c22" d="M2255 5199l32-756l25 17l-33 757zM2198 4306l32-13l25 906l-33 14z"/><path class="c37" d="M2141 4302l32-13l25 17l-33 13zM2084 4298l32-14l25 18l-33 13zM4046 4455l32-13l25 17l-33 14z"/><path class="c22" d="M3989 5340l32-902l25 17l-33 903zM3932 5336l32-13l25 17l-33 14zM3875 4589l32-13l25 760l-32 14z"/><path class="c52" d="M3728 3510l33 1071l-25-18l-32-1071zM3647 3488l32-13l25 17l-33 14zM2507 3406l32-13l25 17l-32 13z"/><path class="c22" d="M2222 5213l33-14l24 18l-32 13zM2165 4319l33-13l24 907l-32 13z"/><path class="c37" d="M2108 4315l33-13l24 17l-32 13z"/><path class="c22" d="M4013 5358l33-903l24 18l-32 902zM3956 5354l33-14l24 18l-32 13zM3900 5350l32-14l24 18l-32 13z"/><path class="c52" d="M3753 3527l32 1071l-24-17l-33-1071zM3671 3506l33-14l24 18l-32 13zM3614 3502l33-14l24 18l-32 13z"/><path class="c51" d="M3102 3562l32-13l24 17l-32 13z"/><path class="c52" d="M2613 3445l33 1168l-25-17l-32-1169zM2532 3423l32-13l25 17l-33 14zM2475 3419l32-13l25 17l-33 14z"/><path class="c22" d="M2247 5230l32-13l25 17l-32 13zM2190 5226l32-13l25 17l-32 13zM2133 4332l32-13l25 907l-32 13zM3981 5371l32-13l25 17l-32 14zM3924 5367l32-13l25 17l-32 13zM3867 5363l33-13l24 17l-32 13z"/><path class="c52" d="M3778 3545l32 1071l-25-18l-32-1071zM3696 3523l32-13l25 17l-32 14zM3639 3519l32-13l25 17l-32 13zM3582 3515l32-13l25 17l-32 13z"/><path class="c51" d="M3126 3579l32-13l25 17l-32 14z"/><path class="c52" d="M2556 3441l33-14l24 18l-32 13zM2499 3437l33-14l24 18l-32 13zM2442 3432l33-13l24 18l-32 13z"/><path class="c22" d="M2215 5243l32-13l25 17l-32 14zM2158 5239l32-13l25 17l-32 14zM3949 5384l32-13l25 18l-32 13zM3892 5380l32-13l25 17l-32 14z"/><path class="c40" d="M3803 4305l32 1071l-25-760l-32-1071z"/><path class="c52" d="M3721 3541l32-14l25 18l-33 13zM3664 3536l32-13l25 18l-33 13zM3607 3532l32-13l25 17l-33 14zM3550 3528l32-13l25 17l-33 14z"/><path class="c39" d="M3518 4382l32-854l-25 1164l-32 854z"/><path class="c38" d="M3233 4410l32 1120l-25-809l-32-1120z"/><path class="c51" d="M3151 3597l32-14l25 18l-32 13z"/><path class="c38" d="M2948 4389l32-805l-24 1116l-33 805z"/><path class="c39" d="M2663 4320l33 1169l-25-858l-33-1169z"/><path class="c52" d="M2581 3458l32-13l25 17l-32 13zM2524 3454l32-13l25 17l-32 13zM2467 3450l32-13l25 17l-32 13zM2410 3446l32-14l25 18l-32 13z"/><path class="c40" d="M2378 4202l32-756l-24 1067l-32 756z"/><path class="c22" d="M2240 5261l32-14l25 18l-33 13zM2183 5257l32-14l25 18l-33 13zM3917 5398l32-14l25 18l-33 13z"/><path class="c40" d="M3827 4323l33 1071l-25-18l-32-1071zM3745 3558l33-13l25 760l-33 13z"/><path class="c52" d="M3688 3554l33-13l24 17l-32 13zM3631 3550l33-14l24 18l-32 13zM3574 3546l33-14l24 18l-32 13z"/><path class="c39" d="M3518 4382l32-854l24 18l-32 853zM3485 4395l33-13l-25 1164l-32 14z"/><path class="c38" d="M3258 4427l32 1120l-25-17l-32-1120zM3176 3614l32-13l25 809l-32 13z"/><path class="c51" d="M3119 3610l32-13l25 17l-33 13z"/><path class="c38" d="M2916 4403l32-14l-25 1116l-32 13z"/><path class="c39" d="M2688 4338l32 1168l-24-17l-33-1169zM2606 3475l32-13l25 858l-32 13z"/><path class="c52" d="M2549 3471l32-13l25 17l-32 14zM2492 3467l32-13l25 17l-32 14zM2435 3463l32-13l25 17l-32 13z"/><path class="c40" d="M2378 4202l32-756l25 17l-32 756zM2346 4215l32-13l-24 1067l-33 13z"/><path class="c22" d="M2207 5274l33-13l24 17l-32 13zM3884 5411l33-13l24 17l-32 13z"/><path class="c40" d="M3852 4340l32 1071l-24-17l-33-1071zM3770 4318l33-13l24 18l-32 13zM3713 3571l32-13l25 760l-32 14z"/><path class="c52" d="M3656 3567l32-13l25 17l-32 13zM3599 3563l32-13l25 17l-32 13z"/><path class="c39" d="M3542 4399l32-853l25 17l-32 854zM3453 4409l32-14l-24 1165l-32 13z"/><path class="c38" d="M3282 4445l33 1120l-25-18l-32-1120zM3143 3627l33-13l25 809l-33 14zM2883 4416l33-13l-25 1115l-32 14z"/><path class="c39" d="M2712 4355l33 1168l-25-17l-32-1168zM2574 3489l32-14l25 858l-32 14z"/><path class="c52" d="M2517 3485l32-14l25 18l-33 13zM2460 3480l32-13l25 18l-33 13z"/><path class="c40" d="M2403 4219l32-756l25 17l-32 757zM2346 4215l32-13l25 17l-32 14zM2314 4229l32-14l-25 1067l-32 13z"/><path class="c22" d="M2232 5291l32-13l25 17l-32 14z"/><path class="c40" d="M3877 4357l32 1071l-25-17l-32-1071zM3795 4336l32-13l25 17l-32 13zM3738 4332l32-14l25 18l-32 13zM3681 3584l32-13l25 761l-32 13z"/><path class="c52" d="M3624 3580l32-13l25 17l-32 14z"/><path class="c39" d="M3567 4417l32-854l25 17l-32 854zM3421 4422l32-13l-24 1164l-33 13z"/><path class="c38" d="M3307 4462l32 1120l-24-17l-33-1120zM2851 4429l32-13l-24 1116l-32 13z"/><path class="c39" d="M2737 4372l33 1169l-25-18l-33-1168zM2541 3502l33-13l25 858l-33 13z"/><path class="c52" d="M2484 3498l33-13l24 17l-32 13z"/><path class="c40" d="M2428 4237l32-757l24 18l-32 756zM2371 4233l32-14l25 18l-33 13zM2314 4229l32-14l25 18l-33 13zM2281 4242l33-13l-25 1066l-32 14zM3820 4353l32-13l25 17l-33 14zM3763 4349l32-13l25 17l-33 13zM3706 4345l32-13l25 17l-32 13zM3649 3598l32-14l25 761l-32 13z"/><path class="c39" d="M3592 4434l32-854l25 18l-32 854zM3535 4430l32-13l25 17l-32 13zM3389 4435l32-13l-25 1164l-32 13z"/><path class="c38" d="M3332 4480l32 1119l-25-17l-32-1120zM2819 4443l32-14l-24 1116l-33 13z"/><path class="c39" d="M2762 4390l32 1168l-24-17l-33-1169zM2509 3515l32-13l25 858l-32 13z"/><path class="c40" d="M2452 4254l32-756l25 17l-32 757zM2395 4250l33-13l24 17l-32 13zM2338 4246l33-13l24 17l-32 13zM2281 4242l33-13l24 17l-32 13zM3787 4366l33-13l24 18l-32 13zM3731 4362l32-13l24 17l-32 14zM3674 4358l32-13l25 17l-33 14z"/><path class="c26" d="M3617 4452l32-854l25 760l-33 854z"/><path class="c39" d="M3560 4447l32-13l25 18l-33 13z"/><path class="c57" d="M3356 3315l33 1120l-25 1164l-32-1119zM2786 3274l33 1169l-25 1115l-32-1168z"/><path class="c26" d="M2477 4272l32-757l25 858l-32 757z"/><path class="c40" d="M2420 4267l32-13l25 18l-32 13zM2363 4263l32-13l25 17l-32 14zM2306 4259l32-13l25 17l-32 14zM3755 4380l32-14l25 18l-32 13zM3698 4376l33-14l24 18l-32 13z"/><path class="c26" d="M3641 5212l33-854l24 18l-32 853zM3584 4465l33-13l24 760l-32 13z"/><path class="c39" d="M3527 4461l33-14l24 18l-32 13z"/><path class="c26" d="M2502 5130l32-757l25 18l-32 756zM2445 4285l32-13l25 858l-32 13z"/><path class="c40" d="M2388 4281l32-14l25 18l-32 13zM2331 4277l32-14l25 18l-32 13zM3723 4393l32-13l25 17l-32 13z"/><path class="c26" d="M3666 5229l32-853l25 17l-32 854zM3609 5225l32-13l25 17l-32 14zM3552 4478l32-13l25 760l-32 14z"/><path class="c57" d="M3406 3350l32 1120l-25-18l-32-1119zM3324 3329l32-14l25 18l-32 13zM2754 3287l32-13l25 17l-32 14z"/><path class="c26" d="M2470 5143l32-13l25 17l-33 13zM2413 4298l32-13l25 858l-33 13z"/><path class="c40" d="M2356 4294l32-13l25 17l-33 13z"/><path class="c26" d="M3691 5247l32-854l25 17l-32 854zM3634 5243l32-14l25 18l-32 13zM3577 5239l32-14l25 18l-32 13z"/><path class="c57" d="M3430 3367l33 1120l-25-17l-32-1120zM3349 3346l32-13l25 17l-33 13zM3292 3342l32-13l25 17l-33 13zM2861 3326l32 1169l-25-18l-32-1168zM2779 3305l32-14l25 18l-32 13zM2722 3301l32-14l25 18l-32 13z"/><path class="c26" d="M2494 5160l33-13l24 17l-32 14zM2437 5156l33-13l24 17l-32 13zM2380 4311l33-13l24 858l-32 13zM3659 5260l32-13l25 17l-33 13zM3602 5256l32-13l25 17l-33 13zM3545 5252l32-13l25 17l-33 13z"/><path class="c57" d="M3455 3385l33 1120l-25-18l-33-1120zM3373 3363l33-13l24 17l-32 14zM3316 3359l33-13l24 17l-32 14zM3259 3355l33-13l24 17l-32 13zM2804 3322l32-13l25 17l-33 13zM2747 3318l32-13l25 17l-33 13zM2690 3314l32-13l25 17l-33 13z"/><path class="c26" d="M2462 5173l32-13l25 18l-32 13zM2405 5169l32-13l25 17l-32 14zM3626 5273l33-13l24 17l-32 14zM3569 5269l33-13l24 17l-32 14z"/><path class="c45" d="M3480 4145l32 1120l-24-760l-33-1120z"/><path class="c57" d="M3398 3381l32-14l25 18l-32 13zM3341 3377l32-14l25 18l-32 13zM3284 3372l32-13l25 18l-32 13zM3227 3368l32-13l25 17l-32 14z"/><path class="c44" d="M3195 4173l32-805l-24 1165l-32 805zM2910 4153l33 1168l-25-809l-33-1168z"/><path class="c57" d="M2828 3339l33-13l24 18l-32 13zM2771 3335l33-13l24 17l-32 14zM2714 3331l33-13l24 17l-32 14zM2657 3327l33-13l24 17l-32 14z"/><path class="c45" d="M2625 4084l32-757l-24 1116l-32 756z"/><path class="c26" d="M2487 5191l32-13l25 17l-32 13zM2430 5187l32-14l25 18l-32 13zM3594 5287l32-14l25 18l-32 13z"/><path class="c45" d="M3505 4163l32 1119l-25-17l-32-1120zM3423 3398l32-13l25 760l-32 14z"/><path class="c57" d="M3366 3394l32-13l25 17l-32 13zM3309 3390l32-13l25 17l-32 13zM3252 3386l32-14l25 18l-32 13z"/><path class="c44" d="M3195 4173l32-805l25 18l-32 805zM3163 4187l32-14l-24 1165l-33 13zM2935 4170l32 1169l-24-18l-33-1168zM2853 3357l32-13l25 809l-32 13z"/><path class="c57" d="M2796 3353l32-14l25 18l-32 13zM2739 3349l32-14l25 18l-32 13zM2682 3345l32-14l25 18l-32 13z"/><path class="c45" d="M2625 4084l32-757l25 18l-32 756zM2593 4097l32-13l-24 1115l-32 13z"/><path class="c26" d="M2455 5204l32-13l25 17l-33 14zM3562 5300l32-13l25 17l-32 13z"/><path class="c45" d="M3529 4180l33 1120l-25-18l-32-1119zM3448 4159l32-14l25 18l-33 13zM3391 3411l32-13l25 761l-33 13z"/><path class="c57" d="M3334 3407l32-13l25 17l-33 14zM3277 3403l32-13l25 17l-33 14z"/><path class="c44" d="M3220 4191l32-805l25 17l-32 805zM3131 4200l32-13l-25 1164l-32 13zM2960 4188l32 1168l-25-17l-32-1169zM2821 3370l32-13l25 809l-32 13z"/><path class="c57" d="M2764 3366l32-13l25 17l-32 13zM2707 3362l32-13l25 17l-32 13z"/><path class="c45" d="M2650 4101l32-756l25 17l-32 756zM2593 4097l32-13l25 17l-32 13zM2561 4110l32-13l-24 1115l-33 14z"/><path class="c26" d="M2479 5222l33-14l24 18l-32 13z"/><path class="c45" d="M3554 4198l33 1119l-25-17l-33-1120zM3472 4176l33-13l24 17l-32 13zM3415 4172l33-13l24 17l-32 13zM3358 3425l33-14l24 761l-32 13z"/><path class="c57" d="M3301 3421l33-14l24 18l-32 13z"/><path class="c44" d="M3245 4208l32-805l24 18l-32 805zM3098 4213l33-13l-25 1164l-32 14zM2984 4205l33 1168l-25-17l-32-1168zM2789 3383l32-13l25 809l-33 14z"/><path class="c57" d="M2732 3379l32-13l25 17l-33 14z"/><path class="c45" d="M2675 4118l32-756l25 17l-33 757zM2618 4114l32-13l25 17l-32 14zM2561 4110l32-13l25 17l-32 13zM2529 4123l32-13l-25 1116l-32 13zM3497 4193l32-13l25 18l-32 13zM3440 4189l32-13l25 17l-32 14zM3383 4185l32-13l25 17l-32 14zM3326 3438l32-13l25 760l-32 13z"/><path class="c44" d="M3269 4226l32-805l25 17l-32 805zM3212 4222l33-14l24 18l-32 13zM3066 4227l32-14l-24 1165l-32 13zM3009 4222l33 1169l-25-18l-33-1168zM2756 3397l33-14l24 810l-32 13z"/><path class="c45" d="M2699 4136l33-757l24 18l-32 756zM2643 4132l32-14l24 18l-32 13zM2586 4127l32-13l25 18l-33 13zM2529 4123l32-13l25 17l-33 14zM3465 4207l32-14l25 18l-32 13zM3408 4203l32-14l25 18l-32 13zM3351 4198l32-13l25 18l-32 13z"/><path class="c32" d="M3294 4243l32-805l25 760l-32 806z"/><path class="c44" d="M3237 4239l32-13l25 17l-32 13z"/><path class="c63" d="M3034 3058l32 1169l-24 1164l-33-1169z"/><path class="c32" d="M2724 4153l32-756l25 809l-32 756z"/><path class="c45" d="M2667 4149l32-13l25 17l-32 13zM2610 4145l33-13l24 17l-32 13zM2553 4141l33-14l24 18l-32 13zM3433 4220l32-13l25 17l-33 13zM3376 4216l32-13l25 17l-33 13z"/><path class="c32" d="M3319 5004l32-806l25 18l-32 805zM3262 4256l32-13l25 761l-32 13z"/><path class="c44" d="M3205 4252l32-13l25 17l-33 14z"/><path class="c32" d="M2749 4962l32-756l25 17l-32 757zM2692 4166l32-13l25 809l-32 14z"/><path class="c45" d="M2635 4162l32-13l25 17l-32 14zM2578 4158l32-13l25 17l-32 13zM3400 4233l33-13l24 17l-32 14z"/><path class="c32" d="M3344 5021l32-805l24 17l-32 805zM3287 5017l32-13l25 17l-33 13zM3229 4270l33-14l25 761l-33 13z"/><path class="c63" d="M3083 3093l33 1168l-25-17l-33-1169zM3001 3071l33-13l24 17l-32 14z"/><path class="c32" d="M2717 4976l32-14l25 18l-32 13zM2660 4180l32-14l25 810l-32 13z"/><path class="c45" d="M2603 4175l32-13l25 18l-33 13z"/><path class="c32" d="M3368 5038l32-805l25 18l-32 805zM3311 5034l33-13l24 17l-32 14zM3254 5030l33-13l24 17l-32 13z"/><path class="c63" d="M3108 3110l32 1169l-24-18l-33-1168zM3026 3089l32-14l25 18l-32 13zM2969 3085l32-14l25 18l-32 13z"/><path class="c32" d="M2742 4993l32-13l25 17l-33 13zM2685 4989l32-13l25 17l-33 13zM2627 4193l33-13l25 809l-33 13zM3336 5052l32-14l25 18l-32 13zM3279 5047l32-13l25 18l-32 13zM3222 5043l32-13l25 17l-32 14z"/><path class="c63" d="M3133 3128l32 1168l-25-17l-32-1169zM3051 3106l32-13l25 17l-32 14zM2994 3102l32-13l25 17l-32 13zM2937 3098l32-13l25 17l-32 13z"/><path class="c32" d="M2709 5006l33-13l24 17l-32 14zM2652 5002l33-13l24 17l-32 13zM3304 5065l32-13l25 17l-32 13zM3247 5061l32-14l25 18l-32 13z"/><path class="c51" d="M3157 3888l33 1169l-25-761l-32-1168z"/><path class="c63" d="M3076 3124l32-14l25 18l-33 13zM3019 3119l32-13l25 18l-33 13zM2962 3115l32-13l25 17l-33 14zM2905 3111l32-13l25 17l-33 14z"/><path class="c51" d="M2872 3868l33-757l-25 1164l-32 757z"/><path class="c32" d="M2734 5024l32-14l25 18l-32 13zM2677 5019l32-13l25 18l-32 13zM3272 5078l32-13l25 17l-33 13zM3215 5074l32-13l25 17l-33 13z"/><path class="c51" d="M3182 3906l33 1168l-25-17l-33-1169zM3100 3141l33-13l24 760l-32 13z"/><path class="c63" d="M3043 3137l33-13l24 17l-32 13zM2986 3133l33-14l24 18l-32 13zM2929 3129l33-14l24 18l-32 13z"/><path class="c51" d="M2872 3868l33-757l24 18l-32 756zM2840 3881l32-13l-24 1164l-32 13z"/><path class="c32" d="M2702 5037l32-13l25 17l-32 13zM3239 5091l33-13l24 17l-32 14z"/><path class="c51" d="M3207 3923l32 1168l-24-17l-33-1168zM3125 3901l32-13l25 18l-32 13zM3068 3154l32-13l25 760l-32 14z"/><path class="c63" d="M3011 3150l32-13l25 17l-32 13zM2954 3146l32-13l25 17l-32 13z"/><path class="c51" d="M2897 3885l32-756l25 17l-32 756zM2840 3881l32-13l25 17l-32 13zM2808 3894l32-13l-24 1164l-33 13z"/><path class="c32" d="M2727 5054l32-13l24 17l-32 14z"/><path class="c51" d="M3232 3940l32 1169l-25-18l-32-1168zM3150 3919l32-13l25 17l-32 13zM3093 3915l32-14l25 18l-32 13zM3036 3167l32-13l25 761l-32 13z"/><path class="c63" d="M2979 3163l32-13l25 17l-32 14z"/><path class="c51" d="M2922 3902l32-756l25 17l-32 757zM2865 3898l32-13l25 17l-32 14zM2808 3894l32-13l25 17l-32 13zM2776 3907l32-13l-25 1164l-32 14zM3175 3936l32-13l25 17l-33 14zM3118 3932l32-13l25 17l-33 13zM3061 3928l32-13l25 17l-33 13zM3004 3181l32-14l25 761l-33 13zM2947 3920l32-757l25 18l-33 756zM2890 3916l32-14l25 18l-33 13zM2833 3911l32-13l25 18l-33 13zM2776 3907l32-13l25 17l-33 14zM3142 3949l33-13l24 18l-32 13zM3085 3945l33-13l24 17l-32 14zM3028 3941l33-13l24 17l-32 14z"/><path class="c39" d="M2971 3937l33-756l24 760l-32 757z"/><path class="c51" d="M2914 3933l33-13l24 17l-32 13zM2857 3929l33-13l24 17l-32 13zM2800 3925l33-14l24 18l-32 13zM3110 3963l32-14l25 18l-32 13zM3053 3959l32-14l25 18l-32 13z"/><path class="c39" d="M2996 4698l32-757l25 18l-32 756zM2939 3950l32-13l25 761l-32 13z"/><path class="c51" d="M2882 3946l32-13l25 17l-32 14zM2825 3942l32-13l25 17l-32 13zM3078 3976l32-13l25 17l-32 13z"/><path class="c39" d="M3021 4715l32-756l25 17l-32 756zM2964 4711l32-13l25 17l-32 13zM2907 3964l32-14l25 761l-32 13z"/><path class="c51" d="M2850 3959l32-13l25 18l-32 13z"/><path class="c39" d="M3046 4732l32-756l25 17l-33 757zM2989 4728l32-13l25 17l-33 14zM2932 4724l32-13l25 17l-33 13zM2875 3977l32-13l25 760l-32 13zM3013 4746l33-14l24 18l-32 13zM2956 4741l33-13l24 18l-32 13zM2900 4737l32-13l24 17l-32 14zM2981 4759l32-13l25 17l-32 13zM2924 4755l32-14l25 18l-32 13zM2949 4772l32-13l25 17l-32 14z"/></g><path class="ax" d="M45.2 544.5L45.1 153.0M297.4 721.8L45.2 544.5M297.4 721.8L626.4 586.6M45.2 496.5L37.4 491.1M45.2 447.8L37.4 442.3M45.2 399.1L37.4 393.6M45.2 350.4L37.4 344.9M45.2 301.6L37.4 296.2M45.2 252.9L37.4 247.4M45.2 204.2L37.4 198.7M45.1 155.4L37.4 150.0M294.4 719.7L285.7 723.4M170.8 632.8L162.0 636.4M47.2 545.9L38.4 549.5M301.3 720.2L309.1 725.7M462.5 653.9L470.3 659.4M623.8 587.6L631.6 593.1"/><text x="32.2" y="494.2" text-anchor="end">10</text><text x="32.2" y="445.5" text-anchor="end">20</text><text x="32.2" y="396.8" text-anchor="end">30</text><text x="32.2" y="348.1" text-anchor="end">40</text><text x="32.2" y="299.3" text-anchor="end">50</text><text x="32.2" y="250.6" text-anchor="end">60</text><text x="32.2" y="201.9" text-anchor="end">70</text><text x="32.1" y="153.1" text-anchor="end">80</text><text x="32.4" y="564.3" text-anchor="end">5</text><text x="156.0" y="651.2" text-anchor="end">0</text><text x="279.6" y="738.1" text-anchor="end">−5</text><text x="318.3" y="741.5" text-anchor="middle">−5</text><text x="478.5" y="675.2" text-anchor="middle">0</text><text x="639.8" y="608.9" text-anchor="middle">5</text><path class="g" d="M45.1 1457.4L45.0 1066.4M86.3 1440.3L86.2 1049.2M127.5 1423.2L127.4 1032.1M168.7 1406.0L168.6 1015.0M210.0 1388.9L209.9 997.8M251.2 1371.8L251.1 980.7M292.4 1354.6L292.3 963.6M333.6 1337.5L333.5 946.4M374.8 1320.4L374.8 929.3M45.0 1421.8L374.8 1284.7M45.0 1386.1L374.8 1249.1M45.0 1350.5L374.8 1213.5M45.0 1314.9L374.8 1177.8M45.0 1279.2L374.8 1142.2M45.0 1243.6L374.8 1106.5M45.0 1207.9L374.8 1070.9M45.0 1172.3L374.8 1035.3M45.0 1136.7L374.8 999.6M45.0 1101.0L374.8 964.0M627.5 1499.0L627.5 1107.9M596.0 1476.7L595.9 1085.6M564.4 1454.3L564.3 1063.3M532.8 1432.0L532.7 1040.9M501.2 1409.7L501.1 1018.6M469.6 1387.4L469.5 996.3M438.0 1365.0L437.9 974.0M406.4 1342.7L406.3 951.6M374.8 1320.4L374.8 929.3M627.5 1463.3L374.8 1284.7M627.5 1427.7L374.8 1249.1M627.5 1392.1L374.8 1213.5M627.5 1356.4L374.8 1177.8M627.5 1320.8L374.8 1142.2M627.5 1285.1L374.8 1106.5M627.5 1249.5L374.8 1070.9M627.5 1213.9L374.8 1035.3M627.5 1178.2L374.8 999.6M627.5 1142.6L374.8 964.0M297.8 1636.0L45.1 1457.4M339.0 1618.9L86.3 1440.3M380.2 1601.8L127.5 1423.2M421.4 1584.6L168.7 1406.0M462.7 1567.5L210.0 1388.9M503.9 1550.4L251.2 1371.8M545.1 1533.2L292.4 1354.6M586.3 1516.1L333.6 1337.5M627.5 1499.0L374.8 1320.4M297.8 1636.0L627.5 1499.0M266.2 1613.7L596.0 1476.7M234.6 1591.4L564.4 1454.3M203.0 1569.0L532.8 1432.0M171.4 1546.7L501.2 1409.7M139.8 1524.4L469.6 1387.4M108.2 1502.1L438.0 1365.0M76.6 1479.7L406.4 1342.7M45.1 1457.4L374.8 1320.4"/><g transform="scale(.1)" fill="none" stroke-width="10"><path stroke="#463cde" d="M3391 14778l-4 12l-16 7l-23-2l-12-9l3-12l16-7l23 2z"/><path stroke="#465efb" d="M3275 14740l11-12l23-3l54 22l36-1l41-12l23 6l5 13l-4 8l-25 10l-13 19l25 34l-11 12l-23 3l-54-22l-36 1l-28 11l-32-4l-8-7l3-15l32-15l6-14zM3358 14855l-9 10l-17-6l9-9zM3516 14789l-11 10l-17-5l10-9zM3238 14770l-10 9l-18-4l11-10zM3395 14705l-10 9l-17-5l9-10z"/><path stroke="#2f81fa" d="M3389 14902l2-7l10-3l22 7l-1 8l-13 5l-13-2zM3219 14689l16-7l22 2l21 20l30 2l48-22l50 2l18 7l20 20l39 6l29-17l31 5l1 18l-29 7l-12 10l4 15l36 21l-3 27l-12 10l-37 11l-12 14l1 7l30 16l-3 12l-16 7l-22-2l-21-20l-30-2l-48 22l-50-2l-18-7l-20-20l-39-6l-29 17l-31-5l-1-18l29-7l12-10l-4-15l-36-21l3-27l12-10l37-11l12-14l-1-7l-30-16zM3549 14830l21-4l14 10l-14 9l-14-1zM3282 14887l-4 11l-22 3l-9-7l10-11zM3602 14757l-2 7l-16 4l-18-7l13-11l14 0zM3160 14803l-13 11l-14 0l-9-7l2-7l16-4zM3479 14670l-10 11l-25-4l4-11l22-3zM3142 14728l14-9l14 1l7 14l-21 4zM3304 14657l20-5l13 10l-2 7l-14 3l-18-7z"/><path stroke="#23a0e5" d="M3447 14943l14-9l21 4l6 12l-21 9l-18-7zM3048 14763l8-13l49-11l19-34l56-15l8-12l-2-7l-33-14l8-17l33-1l17 22l28 2l25-6l25-20l64-1l25-19l20-5l24 4l21 26l61 10l14 23l22 10l28 1l26-18l32 5l0 18l-39 9l-5 15l12 13l37 14l2 34l35 14l10 11l-8 13l-49 11l-19 34l-56 15l-8 12l2 7l33 14l-8 17l-33 1l-17-22l-24-3l-29 7l-25 20l-64 1l-25 19l-20 5l-24-4l-21-26l-61-10l-14-23l-21-10l-29-1l-26 18l-32-5l0-18l39-9l5-15l-12-13l-37-14l-2-34l-35-14zM3609 14873l7-5l27 3l8 11l-16 9l-25-6zM3162 14929l11-13l31 3l-1 9l-13 9l-14 1zM3644 14729l16-15l18 1l11 9l-13 11l-28-1zM3082 14835l-16 15l-18-1l-11-9l13-11l28 1zM3565 14638l-17 11l-26-4l1-9l13-9l24 2zM3075 14682l22-9l12 2l9 10l-8 11l-27-3zM3238 14614l21-9l18 7l2 9l-14 9l-21-4z"/><path stroke="#01b8ca" d="M2957 14795l8-18l36-10l9-13l-4-8l-30-15l4-25l14-9l41-8l12-17l-3-13l-37-13l1-13l32-8l19 7l8 18l42-3l9-10l-2-8l-31-15l4-17l35-7l19 7l12 16l33 1l15-10l2-11l-30-9l-7-12l11-12l34 1l14 22l18 5l37-2l33-23l57 3l20 20l13 4l25-2l28-16l43 2l19 8l15 22l31 7l24-2l24-20l24 1l13 8l-3 15l-41 8l-5 6l3 12l29 10l39-18l31 2l13 9l0 11l-12 10l-30 6l-6 7l6 12l38 8l16-16l21-4l27 12l-5 13l-42 7l-9 12l4 18l35 14l9 10l-8 25l-36 10l-9 13l4 8l30 15l-4 25l-14 9l-41 8l-12 17l3 13l37 13l-1 13l-32 8l-19-7l-8-18l-40 2l-11 11l2 8l31 15l-4 17l-35 7l-19-7l-12-16l-33-1l-15 10l-2 11l30 9l7 12l-11 12l-34-1l-14-22l-18-5l-37 2l-33 23l-57-3l-20-20l-13-4l-25 2l-28 16l-43-2l-19-8l-8-18l-28-10l-34 1l-24 20l-33-4l-5-12l4-8l41-8l5-6l-3-12l-29-10l-39 18l-39-6l-5-5l5-17l37-10l6-7l-6-12l-16-7l-22-1l-25 19l-35-5l-4-6l5-13l42-7l10-18l-11-17l-36-13zM3432 15025l4-6l24-1l7 11l-19 7l-10-2zM3759 14894l7-12l20 1l8 10l-14 8zM3330 15008l-5 15l-19 6l-17-4l-7-13l13-10zM3818 14813l-6 9l-25 4l-18-7l4-16l21-4l15 3zM3179 15003l-10 12l-12 1l-13-8l12-11zM3833 14735l-13 9l-24-7l11-11l15 0zM2930 14827l-11 11l-15 0l-11-9l13-9zM3582 14556l-12 11l-23-6l10-12l12-1zM2957 14745l-4 16l-36 1l-9-11l15-12zM3444 14552l-13 10l-35-6l5-15l19-6l17 4zM2932 14670l15-7l20 7l-7 12l-20-1zM3259 14534l19-6l10 2l6 9l-4 6l-24 1z"/><path stroke="#2cc4a7" d="M3672 15084l-17 6l-11-8l4-6l16-1zM3724 15046l16-7l15 6l1 6l-16 6l-11-2zM3836 15011l-9 11l-19-6l5-8zM3570 15114l14 2l-12 5zM3899 14978l13 1l-12 5zM2800 14866l2-9l13-9l42-7l5-14l-3-13l-37-13l-10-10l8-23l40-8l13-15l-6-12l-35-14l3-23l15-9l41-7l10-12l-4-19l-38-12l2-16l38-8l20 6l5 19l36-2l4-14l-32-16l7-22l16-7l48-3l23-30l59-5l25-28l52 0l19 21l34-2l8-9l-3-6l-38-12l7-20l18-6l28 4l12 23l20 6l37-1l24-20l19-5l42 4l15 22l19 6l31-3l26-19l42 2l16 8l7 18l26 9l37-1l23-21l27 0l16 9l-2 20l-43 6l-6 6l10 13l26 3l28-18l42 4l13 9l6 26l55 12l8 32l53 14l4 13l-5 15l-38 10l-5 8l9 11l27 3l23-21l30 2l17 11l-2 10l-13 9l-42 7l-5 14l3 13l37 13l10 10l-8 23l-40 8l-13 15l6 12l35 14l-3 23l-15 9l-41 7l-12 19l6 12l38 12l-1 16l-39 8l-20-6l-5-19l-36 2l-4 14l32 15l-3 16l-10 12l-58 5l-23 30l-59 4l-18 25l-17 6l-42-2l-19-21l-34 2l-8 9l3 6l38 12l-7 20l-18 6l-28-4l-12-23l-20-6l-37 1l-24 20l-19 5l-42-4l-15-22l-19-6l-31 3l-26 19l-42-2l-16-8l-7-18l-26-9l-37 1l-23 21l-27 0l-16-9l2-20l43-6l6-6l-10-13l-26-3l-28 18l-42-4l-13-9l-6-26l-55-12l-8-32l-53-14l-4-13l5-15l38-10l5-8l-9-11l-27-3l-23 21l-30-2zM3412 15103l4-6l26-1l9 11l-23 10l-11-3zM3903 14898l20-7l18 5l2 7l-6 7l-17 2l-12-2zM3353 15141l-7-1zM4011 14867l-6 3zM3310 15088l-4 15l-7 4l-35-7l-1-9l14-9zM3965 14823l-16 12l-33-6l0-8l11-10l28 2zM3208 15130l-8 0zM4030 14788l-7 3zM3122 15084l15-10l15 1l10 10l-11 10l-14 1zM3940 14748l3-9l20-5l18 11l-14 10zM3004 15074l-5 6l-10-7zM3988 14664l0 5l-14-1l5-6zM2948 15032l-15 7l-13-5l2-8l10-3l14 3zM3932 14619l-12 11l-14-3l-2-6l16-7zM2888 14987l-10 8l-13 0l-10-9l20-8zM3871 14577l-13 9l-16-2l-3-7l9-8l13 0zM2822 14943l-16 7l-10-3l-2-7l15-6zM3806 14530l-2 8l-10 3l-14-3l-2-6l15-7zM2752 14896l-5 6l-9-2l0-5zM3737 14491l-15-1l5-6zM2786 14816l-3 9l-20 5l-18-11l14-10zM3604 14476l-4 11l-26 2l-10-9l11-11l14-1zM2761 14741l16-12l33 6l0 8l-11 10l-28-2zM3415 14470l12-13l20-1l15 8l1 9l-5 6l-22 3l-20-6zM2703 14773l-7 3zM3526 14434l-8 0zM2823 14659l-8 14l-22-2l-10-10l16-9zM3314 14455l-4 12l-34-3l1-11l21-6zM2721 14694l-6 3zM3380 14424l-7-1zM2970 14513l16-6l11 2l5 9l-23 5zM2827 14586l-13-1l12-5zM2890 14553l9-11l19 6l-5 8zM3054 14480l17-6l11 8l-4 6l-16 1zM3156 14450l-14-2l12-5z"/><path stroke="#64cd6f" d="M3797 15169l-7 10l-19-7l17-7zM3881 15139l-17 7l-11-9l19-6zM3962 15103l-4 7l-12 1l-10-7l17-7zM3696 15211l0-8l16 1l-4 7zM4024 15067l16 1l-2 6l-13 0zM3617 15147l28 0l19 6l2 7l-11 13l-25 2l-16-8zM2609 14734l3-11l15-8l49-2l12-38l45-5l13-9l2-13l-43-18l0-14l10-14l55-8l20-32l46-4l16-8l7-20l-45-16l-2-10l10-12l44 0l9 25l7 4l33 0l16-7l6-14l-5-7l-39-12l0-12l11-12l45 1l11 24l37 4l17-6l8-17l-46-17l4-18l17-7l31 4l17 28l30 2l25-7l20-23l62-2l28-27l53 2l13 23l31 7l19-5l22-22l70 3l17-25l32-5l20 9l-1 22l5 5l70 6l7 21l19 11l33-2l24-20l52 5l14 30l60 10l7 26l14 8l37 4l30-25l32 1l13 9l-5 18l-53 9l0 18l14 9l38 1l22-22l43 6l5 12l-6 12l-51 10l-1 16l12 10l31 4l10-3l20-22l43 6l3 17l-14 8l-44 7l-2 20l11 9l43 11l4 34l49 15l3 15l-7 13l-42 8l-11 9l0 11l48 19l-6 37l46 10l11 9l-3 11l-15 8l-49 2l-12 38l-45 5l-13 9l-2 13l43 18l0 14l-10 14l-55 8l-20 32l-46 4l-19 11l-4 17l45 16l2 10l-10 12l-43 0l-10-25l-7-4l-33 0l-16 7l-6 14l5 7l39 12l-1 15l-10 9l-45-1l-18-28l-37 1l-15 11l-3 11l39 12l8 11l-5 12l-17 7l-31-4l-17-28l-30-2l-25 7l-20 23l-62 2l-28 27l-53-2l-13-23l-31-7l-19 5l-22 22l-70-3l-17 25l-32 5l-20-9l1-22l-5-5l-70-6l-7-21l-19-11l-33 2l-24 20l-52-5l-14-30l-60-10l-7-26l-14-8l-37-4l-30 25l-32-1l-13-9l5-18l53-9l0-18l-14-9l-38-1l-22 22l-43-6l-5-12l6-12l51-10l1-16l-12-10l-31-4l-10 3l-20 22l-43-6l-3-17l14-8l44-7l2-20l-11-9l-43-11l-4-34l-49-15l-3-15l7-13l42-8l11-9l0-11l-48-19l6-38l-46-9zM3940 15023l7-13l37 3l9 11l-9 12l-22 3l-15-3zM3487 15227l-5 10l-16-1l-4-6l15-7zM3537 15192l18-8l21 6l2 6l-9 9l-27-1zM4030 14987l7-6l23 0l10 10l-6 9l-30-1zM4145 14953l-7 10l-18-6l6-6zM3385 15177l4-7l41 1l10 11l-12 16l-27 1l-15-8zM4039 14908l9-12l37 4l10 11l-8 13l-22 3l-20-3zM3347 15221l-19 8l-11-3l-4-8l14-8l19 5zM4169 14879l-15 9l-20-8l8-10l12-1zM3202 15211l-20 8l-14-11l14-8l18 4zM4188 14801l-14 8l-21-8l9-10l11-1zM3240 15152l64 5l-7-21l-18-6l-22 3zM4005 14827l6 12l35 9l11-28l-3-6l-28 2zM3095 15163l5-12l52 2l-4 16l-22 10l-25-5zM4075 14763l7-19l8-4l33 3l11 10l-2 8l-15 8l-24 1zM3051 15195l-5 11l-17-2l-2-6l13-6zM4203 14719l-10 9l-16-8l15-6zM2957 15152l14-9l25 4l2 7l-11 10l-26-2zM4106 14678l10-12l12-1l19 11l-5 9l-10 2l-23-2zM2942 15099l-6 20l-33 3l-14-8l0-10l14-9zM4089 14629l-6 14l-36 3l-13-8l15-19l28 1zM2823 15141l17 2l-5 6l-11-1zM4139 14599l3-6l13 2l-1 6zM2781 15102l-12 5l-13-9l13-5l10 2zM4096 14550l-2 8l-10 2l-11-2l-2-6l13-6zM2719 15057l-15 6l-12-9l15-6l10 2zM4034 14507l-3 7l-12 2l-10-2l-2-8l15-5zM2630 15008l23-2l2 7l-13 5l-11-3zM3945 14462l12-5l13 9l-13 5zM2638 14927l14-9l38 2l2 6l-7 15l-19 5l-25-6zM3837 14450l0 10l-14 9l-39-4l6-20l33-3zM2587 14963l-3 8l-13-2l1-6zM3903 14423l-17-2l5-6l11 1zM2621 14885l-11 13l-12 1l-19-11l5-9l10-2l23 2zM3769 14408l-14 13l-25-4l1-13l19-5zM2594 14803l23-9l34 7l-7 19l-8 4l-40-7zM3574 14403l8-12l18-6l25 5l6 11l-5 12l-22 3l-30-5zM2523 14845l10-9l16 8l-15 6zM3674 14363l20-4l5 7l-14 6l-10-3zM2669 14744l3 6l38-4l11-9l-1-7l-13-9l-27-5zM3422 14407l7 21l18 6l22-3l17-19zM2573 14763l-9 10l-11 1l-15-11l15-8zM3558 14353l-4 9l-28-2l-2-7l19-8zM2633 14645l20-8l24 2l10 6l0 11l-9 12l-30-2l-15-6zM3287 14377l11-11l27-1l15 8l1 14l-13 9l-32-3l-9-5zM2592 14684l-8 10l-25-3l-2-7l15-8zM3413 14343l-4 9l-10 2l-18-5l-2-6l19-8zM2733 14540l9-12l22-3l15 3l7 13l-7 13l-37-3zM3060 14404l19-15l28 3l6 10l-4 15l-40-2zM2696 14570l-7 13l-10 1l-13-1l-10-10l6-9l10-2zM3189 14365l-5 13l-10 2l-16-2l-10-10l20-11zM2581 14610l3-8l11-2l11 7l-6 6zM3238 14333l19-6l7 7l-16 7zM2701 14490l-1 8l-14-2l2-6zM2764 14461l4-7l12-1l10 7l-17 7zM2845 14425l17-7l11 9l-18 6zM2929 14395l7-10l19 7l-16 7zM3030 14353l0 8l-16-1l4-7z"/><path stroke="#b9c431" d="M3897 15340l-8 3zM3969 15310l0-7l13 2zM4051 15276l0-8l14 2l-3 6zM4134 15242l0-8l13 2l-3 6zM4226 15203l-7 3zM3676 15364l-7 7l-16-4l3-7l10-2zM3763 15333l-18 6l-10-2l-4-8l5-6l16-1zM3810 15298l6-11l30 3l2 7l-18 9zM3892 15257l16-7l18 4l6 8l-8 9l-18 2l-15-8zM3973 15223l6-6l25 0l11 10l-8 10l-19 2l-14-6zM4055 15196l7-12l10-2l22 5l2 6l-17 11zM4139 15161l7-11l29 4l2 6l-17 9zM4257 15127l-18 7l-15-8l18-10l13 4zM4335 15089l-6 8l-18-6l5-6zM3587 15398l-8 3zM4410 15056l-7 3zM2379 14758l3-12l15-8l51-1l9-40l-55-12l-3-11l9-12l53-1l-2 36l46-3l14-9l-7-18l-43-10l13-35l46-4l18-16l0-12l-48-16l-1-14l10-13l58-5l18-33l48-4l15-7l8-24l-51-14l-1-12l10-12l47 0l12 31l47-2l11-11l1-12l-48-15l4-22l16-7l42 3l6 5l2 20l7 4l39-1l12-20l-41-11l-8-11l10-19l26-5l30 4l15 29l39-1l12-20l-48-16l6-22l17-7l39 3l15 29l43 0l13-10l3-14l-51-14l5-21l16-6l35 4l12 30l44 2l18-6l18-24l64-1l24-29l27-2l25 4l9 25l17 7l35-1l27-27l66 3l4 19l10 10l34 2l13-7l13-19l-65-9l0-7l16-20l24-2l24 10l2 27l73 5l22-30l43 3l6 12l-3 17l-67-1l2 19l10 11l42-1l19-23l65 6l14 30l33 6l20-5l21-22l28 0l27 10l4 27l62 9l6 26l14 8l44 4l26-27l44 5l5 12l-6 13l-56 7l-3 16l7 9l41 7l29-26l40 2l12 9l0 16l-13 9l-46 5l-3 10l6 12l36 6l29-26l42 3l13 9l-5 23l-54 9l2 20l37 7l9-3l12-19l20-5l29 4l13 9l-7 22l-53 8l-5 11l5 12l45 9l18-24l20-5l26 4l12 9l-7 18l-56 7l-5 15l4 14l52 14l2 35l45 9l12 10l-8 22l-45 5l-13 9l1 19l41 11l11 10l-7 30l-55 7l-3 19l49 13l9-30l7-5l43 5l11 10l-3 12l-15 8l-51 1l-9 40l55 12l3 11l-9 12l-53 1l2-36l-46 3l-12 7l-3 10l8 9l43 11l-5 22l-8 13l-55 7l-10 19l8 11l41 11l1 14l-10 13l-58 5l-18 33l-48 4l-15 7l-8 24l51 14l1 12l-10 12l-47 0l-12-31l-47 2l-11 11l-1 12l48 15l-4 22l-16 7l-42-3l-6-5l-2-20l-7-4l-39 1l-12 20l41 11l8 11l-10 19l-26 5l-30-4l-15-29l-39 1l-12 20l48 16l-6 22l-17 7l-39-3l-15-30l-43 1l-11 8l-5 16l51 14l-5 21l-16 6l-35-4l-12-30l-44-2l-18 6l-18 24l-64 1l-24 29l-27 2l-25-4l-9-25l-17-7l-35 1l-27 27l-66-3l-8-25l-14-7l-26 0l-26 27l65 9l-9 23l-27 6l-28-10l-2-27l-73-5l-22 30l-43-3l-6-12l3-17l67 1l-2-19l-10-11l-42 1l-19 23l-65-6l-14-30l-33-6l-20 4l-21 23l-28 0l-27-10l-4-27l-62-9l-6-26l-14-9l-44-3l-26 27l-44-5l-5-12l6-13l56-7l3-16l-7-9l-41-7l-29 26l-40-2l-12-9l0-16l13-9l46-5l3-10l-6-12l-36-6l-29 26l-42-3l-13-9l5-23l54-9l-2-20l-37-7l-9 3l-12 19l-20 5l-29-4l-12-9l6-22l53-8l5-11l-5-12l-45-9l-18 24l-20 5l-26-4l-12-9l7-18l56-7l5-15l-4-14l-52-14l-2-35l-45-9l-12-10l8-22l45-5l13-9l-1-19l-41-11l-11-10l7-30l55-7l5-6l-2-13l-49-13l-15 35l-44-5zM3579 15314l22-7l21 5l2 7l-11 12l-19 0l-15-8zM3657 15277l5-6l28-1l19 6l2 6l-11 16l-28 1l-15-8zM4148 15078l8-13l38 3l10 12l-9 12l-23 3l-18-4zM4282 15045l-7 11l-10 2l-29-8l2-10l17-7l17 2zM3426 15387l10-5l12 6l-4 6l-14 0zM3537 15355l-18 9l-18-9l6-9l10-2l18 5zM4360 15013l-16 9l-20-8l7-10l12-2zM4414 14976l22 0l-3 7l-12 1zM3433 15294l30-1l20 6l2 7l-12 16l-30 1l-14-8zM4248 14967l10-15l37 3l11 9l-3 11l-15 7l-34-3zM3305 15380l-18 5l-10-7l15-8zM3353 15340l6-6l26-1l10 10l-9 10l-29-1zM4341 14928l16-6l14 1l11 10l-17 12l-21-3zM4456 14895l1 7l-12 5l-15-8l6-6zM3528 15241l5 9l36 2l3-7l-3-10l-16-4zM4113 14998l5 9l28 5l9-13l-17-11l-12 0zM3207 15329l5-6l29-1l10 10l-10 12l-20 1l-11-5zM4357 14856l3-8l18-6l19 4l5 7l-7 11l-33-1zM3160 15369l-19 6l-9-8l17-7zM4477 14820l-15 8l-10-2l-3-7l19-6zM2990 15355l9-4l13 6l-5 6l-16-1zM3062 15325l2-8l14-6l16 1l11 10l-10 11l-11 1zM4378 14778l9-13l31 4l3 6l-7 10l-32-1zM4471 14742l5-6l17 2l-5 9zM2993 15276l15-14l32 2l10 9l-6 14l-18 6l-28-5zM4305 14738l13-22l34 2l11 10l-2 10l-15 8l-37-2zM2955 15313l-8 8l-14 1l-13-11l5-6l19-2zM4437 14697l-15 10l-21-9l8-9l12-2zM2859 15346l-8 3zM4507 14661l-8 4l1-5zM2853 15263l19-8l15 1l12 10l-11 13l-31-3zM4332 14653l10-12l33 4l3 6l-6 11l-10 3l-26-4zM2804 15303l-20 5l-3-8l13-4zM4427 14616l23 0l-8 8l-13-1zM2938 15207l36 3l9-8l-8-11l-19-2l-15 7zM4191 14679l8 11l19 2l14-8l2-9l-17-7l-17 2zM2840 15212l-1 15l-11 9l-26 1l-17-9l1-12l15-8zM4319 14605l-7 15l-9 3l-38-3l-3-6l6-16l8-4l31 1zM2745 15258l-19 9l-13-10l20-8zM4392 14575l-20 7l-13-8l8-8l13-1zM2685 15212l-9 10l-11 1l-18-9l15-11l17 2zM4331 14529l-15 10l-20-3l-3-6l9-10l11-1zM2587 15246l-8 3zM4399 14493l-8 4zM2583 15170l5-10l10-3l23 4l3 6l-8 11l-13 2zM4228 14486l9-11l12-2l20 10l-5 10l-10 3l-23-4zM2528 15200l-4 7l-10-1l0-6zM4338 14448l0 5l-13 0l3-7zM2519 15125l12-12l18 0l13 9l-3 8l-18 5zM4164 14441l3-7l18-5l22 9l-6 11l-34-1zM2465 15155l-3 8l-12-2l0-6zM4276 14403l0 6l-15 0l3-8zM2457 15081l5-10l10-3l23 4l3 6l-9 11l-12 2zM4102 14397l8-11l13-2l20 10l-5 10l-10 3l-23-4zM2401 15111l-3 7l-10-2l0-5zM4212 14358l0 6l-14 0l4-7zM2433 15034l-9 10l-11 1l-18-10l15-10l20 3zM4079 14350l-15 11l-17-2l-6-7l9-10l11-1zM2335 15067l-8 4zM4147 14315l-8 3zM2408 14952l15-11l38 3l3 6l-6 16l-19 5l-28-6zM3941 14336l-1 12l-15 8l-39-4l1-15l11-9l26-1zM2367 14990l-8 8l-13 1l-12-10l20-7zM4013 14306l-15 9l-15-3l-2-6l19-9zM2492 14888l17 8l17-2l9-9l-8-11l-28 1zM3743 14362l8 11l19 2l15-7l3-11l-36-3zM2349 14907l28-8l13 4l4 8l-10 12l-33-4zM3828 14296l16-12l30 9l-1 8l-15 8l-19-1zM2276 14948l3-7l11-2l9 7l-5 6zM3922 14261l20-5l3 8l-13 4zM2364 14829l6-8l20-4l27 3l4 6l-6 17l-12 5l-37-6zM3733 14281l-1 12l-14 9l-41-5l1-14l12-10l29-1zM2325 14866l-8 9l-12 2l-16-10l15-10zM3806 14250l-5 9l-28-2l-2-6l19-9zM2228 14899l-8 4zM3875 14215l-8 3zM2348 14785l-9 14l-22-1l-12-9l7-10l10-2zM3664 14239l-2 8l-14 6l-16-1l-11-10l10-11l11-1zM2233 14826l5-9l17 5l-5 6zM3714 14207l5-6l16 1l1 7l-9 4zM2324 14710l16-12l29 8l-3 10l-18 6l-13-2zM3475 14232l10-12l20-1l14 9l-5 13l-28 1zM2249 14744l15-8l10 2l3 7l-19 6zM3566 14195l19-6l9 8l-17 7zM2571 14565l9 10l28-3l5-10l-33-10zM3154 14319l4 10l15 4l25-10l-5-9l-36-2zM2420 14597l3-8l15-7l34 3l6 12l-3 10l-18 6l-26-4zM3241 14258l5-12l18-6l28 4l6 11l-5 15l-41-1zM2385 14636l-16 6l-14-1l-11-10l17-12l21 3zM3373 14218l-6 12l-25 1l-11-10l2-6l18-6l18 3zM2269 14662l14-5l13 9l-18 6zM3421 14184l18-5l10 7l-15 8zM2524 14478l17-9l31 4l6 13l-8 13l-27-1l-18-6zM3016 14277l10-11l38 2l6 12l-6 13l-13 2l-34-7zM2444 14519l6-10l11-3l29 8l-2 10l-17 7l-17-2zM3102 14245l11-12l19 0l15 8l0 9l-22 7l-21-5zM2290 14588l3-7l19 4l-10 7zM2402 14550l-7 10l-12 2l-17-11l16-9zM3225 14208l-6 10l-10 2l-18-5l-2-6l18-9zM3278 14176l4-6l14 0l4 7l-15 4zM2587 14403l-7 11l-29-4l-2-6l17-9zM2671 14368l-7 12l-10 2l-22-5l-2-6l17-11zM2753 14333l-6 14l-25 0l-11-10l8-10l11-2zM2835 14299l-6 13l-29-2l-6-8l18-11zM2916 14266l-6 11l-30-3l-2-7l18-9zM2391 14475l6-8l18 6l-5 6zM2502 14438l-18 10l-13-4l-2-7l18-7zM2995 14233l-5 8l-16 1l-11-11l18-6zM3050 14200l7-7l16 4l-3 7l-10 2zM2323 14505l-7 3zM3147 14163l-8 3zM2592 14322l0 8l-13-2l3-6zM2675 14288l0 8l-14-2l3-6zM2757 14254l0 7l-13-2zM2507 14358l-7 3zM2837 14221l-8 3z"/><path stroke="#f8ba3d" d="M4294 15530l-5 2zM4377 15495l-6 3zM4459 15461l-5 2zM4054 15551l19 1l-3 7l-14 0zM4134 15518l16-4l7 5l-8 7l-13-2zM4240 15485l-9 7l-16-6l13-7zM4323 15451l-10 7l-16-6l14-8zM4405 15416l-9 8l-16-6l13-8zM4464 15381l16-4l6 5l-3 6l-13 1zM4549 15346l18-1l-2 9l-16-1zM3903 15621l-9 4l0-5zM3974 15592l0-8l15 2l-3 6zM4634 15310l14 2l-2 6l-13 0zM4727 15279l-9 3zM3743 15610l20 1l-5 7l-14-2zM3849 15579l-18 6l-10-8l16-7zM3933 15546l-18 6l-14-8l6-7l15-2zM4017 15510l-17 9l-18-9l17-10zM4101 15475l-8 8l-25-1l-4-10l17-7l17 4zM4145 15442l7-10l11-2l21 11l-18 10zM4227 15408l7-10l29 2l3 6l-7 9l-11 2zM4310 15374l7-10l29 2l2 6l-17 11zM4430 15338l-17 10l-20-9l7-9l11-2zM4511 15306l-20 7l-11-3l-3-9l23-6zM4592 15271l-18 7l-13-10l20-7zM4671 15231l-3 11l-20-1l-3-6l6-6zM4731 15203l4-7l17 3l-5 8zM3677 15644l-2 6l-11-1l1-6zM4830 15165l-1 5l-11 0l1-7zM3833 15494l32-6l11 10l-8 11l-32-2zM3958 15457l0 14l-15 6l-16 0l-14-9l7-15zM4044 15428l-9 14l-37-2l-5-9l2-8l16-7l22 2zM4127 15393l-3 10l-16 7l-19-1l-14-8l2-13l16-7l23 3zM4157 15367l2-13l16-7l24 2l11 10l-3 10l-17 7l-19-1zM4292 15325l-3 10l-17 7l-28-4l-5-11l2-7l17-7l23 2zM4371 15285l0 15l-7 5l-27 1l-14-8l8-17zM4407 15256l8-8l15-2l22 5l-1 15l-15 6l-25-4zM4492 15220l32-6l11 10l-8 11l-32-2zM3515 15633l20 1l-4 7l-13 0zM3622 15603l-15 7l-15-9l18-7zM3707 15568l-21 9l-10-3l-4-9l17-7zM3752 15535l6-11l29 2l5 7l-19 11zM4576 15193l4-9l14-4l19 4l2 6l-17 12zM4695 15157l-6 7l-25-1l-3-9l17-7l15 4zM4775 15123l-16 7l-10-2l-3-7l18-6zM4834 15085l19 1l-2 7l-13 0zM3447 15669l-9 4l0-5zM4931 15052l-10 4l1-5zM2066 14809l8-13l61-3l6-35l-55-12l-3-14l9-15l49-3l15-8l3-26l-54-13l-2-16l9-13l59-4l11-35l-57-12l2-21l16-8l51 1l-5 30l4 6l42 1l15-8l4-11l-10-11l-48-8l13-36l59-5l12-22l-10-11l-45-9l3-23l16-8l53 1l16-35l49-2l16-8l11-29l-60-10l-1-14l10-12l50 1l2 35l61-2l11-14l1-14l-54-13l0-17l10-11l54 1l8 32l50 0l10-11l1-14l-53-14l0-14l11-15l59 0l2 28l6 5l45-1l11-10l0-13l-55-13l8-26l17-7l48 3l3 27l6 5l44 0l10-8l2-16l-55-12l8-26l17-7l45 4l10 31l47 1l12-11l2-15l-55-13l0-14l12-14l52 2l9 31l53 1l20-31l-61-10l0-15l13-12l45 3l6 12l-2 22l65 0l23-30l67 0l19-32l24-2l29 5l5 26l16 8l43-1l24-29l67 2l1 21l7 11l42 2l13-10l4-16l-64-9l11-26l16-7l41 5l6 33l53 4l16-4l19-27l40 0l18 9l4 26l60 4l23-29l44 1l14 8l3 27l64 6l22-31l40 1l14 9l-2 27l-66 0l-1 23l14 8l40-3l16-26l66 7l8 32l42 6l19-5l17-25l31 0l26 10l-1 29l65 9l3 26l14 9l53 6l20-32l47 4l5 14l-7 13l-64 1l4 34l52 6l24-29l52 5l4 15l-7 14l-59 5l-5 15l6 12l46 6l25-29l54 6l4 17l-5 15l-59 4l-6 13l6 12l43 6l23-30l49 4l12 9l-5 27l-59 4l-5 12l5 12l44 7l23-30l48 4l12 9l-7 25l-57 5l-6 14l4 12l48 7l17-25l18-6l32 4l13 9l-7 23l-59 5l-6 14l4 15l58 11l19-34l40 3l12 9l-8 20l-62 2l0 35l55 13l-1 36l48 6l15 10l-8 23l-49 3l-14 8l0 24l55 13l1 14l-6 22l-59 5l-7 13l3 9l49 9l17-34l49 6l11 8l-8 23l-61 3l-6 35l55 12l3 14l-9 15l-59 5l-10 26l11 10l45 9l-1 24l-16 7l-49 2l-11 35l57 12l-2 21l-16 8l-51-1l5-30l-4-6l-42-1l-15 8l-4 11l10 11l48 8l-13 36l-59 5l-12 22l10 11l45 9l-3 23l-16 8l-53-1l-16 35l-49 2l-16 8l-11 28l60 11l1 14l-10 12l-50-1l-2-35l-61 2l-11 14l-1 14l54 13l0 17l-10 11l-54-1l-8-32l-50 0l-10 11l-1 14l53 14l0 14l-11 15l-59 0l-2-28l-6-5l-45 1l-11 10l0 13l55 13l-8 26l-17 7l-48-3l-3-27l-6-5l-44 0l-10 8l-2 15l55 13l-8 26l-17 7l-45-4l-10-31l-47-1l-12 11l-2 15l55 13l0 14l-12 14l-52-2l-9-31l-53-1l-20 31l61 10l0 15l-13 12l-45-3l-6-12l2-22l-65 0l-23 30l-67 0l-19 32l-24 2l-29-5l-5-26l-16-8l-43 1l-24 29l-67-2l-1-21l-7-11l-42-2l-13 10l-4 16l64 9l-11 26l-16 7l-41-5l-6-33l-53-4l-16 4l-19 27l-40 0l-18-9l-4-26l-60-4l-23 29l-44-1l-14-8l-3-27l-64-6l-22 31l-40-1l-14-9l2-27l66 0l1-23l-14-8l-40 3l-16 26l-66-7l-8-32l-42-6l-19 5l-17 25l-31 0l-26-10l1-29l-65-9l-3-26l-14-9l-53-6l-20 32l-47-4l-5-14l7-13l64-1l-4-34l-52-6l-24 29l-52-5l-4-15l7-14l59-5l5-15l-6-12l-46-6l-25 29l-54-6l-4-17l5-15l59-4l6-13l-6-12l-43-6l-23 30l-49-4l-12-9l5-27l59-4l5-12l-5-12l-44-7l-23 30l-47-4l-13-9l7-25l57-5l7-14l-5-12l-48-7l-17 25l-18 6l-32-4l-13-9l7-23l59-5l6-14l-4-15l-58-11l-19 34l-48-6l-4-13l8-13l62-2l3-30l-11-9l-47-9l1-36l-60-10l-3-13l9-16l48-3l14-8l0-24l-55-13l-1-14l6-22l50-2l14-8l2-11l-10-10l-42-5l-16 34l-58-9zM3604 15517l16-7l19 1l11 10l-9 12l-26 1l-12-8zM3682 15493l2-12l16-8l24 3l11 9l-3 11l-17 6l-19-1zM3763 15444l16-7l19 1l23 12l-12 17l-33 1l-14-8zM4419 15180l9-16l40 3l11 9l-4 13l-16 7l-35-4zM4505 15144l9-11l11-2l30 6l3 9l-9 12l-23 2l-16-4zM4591 15113l2-8l17-6l25 5l3 6l-4 9l-12 5l-27-3zM3392 15626l-5 6l-13 0l-7-8l15-5zM3478 15594l-20 6l-13-10l16-8l15 4zM3524 15559l6-11l31 2l3 6l-8 10l-11 2zM4677 15080l1-7l17-6l19 4l3 6l-17 12zM4796 15045l-16 8l-17-9l18-10l13 4zM4875 15008l-10 8l-16-7l6-6zM3304 15657l-3 7l-10-1l0-7zM4952 14973l-2 5l-12 0l2-7zM3378 15542l17-8l23 5l3 6l-9 12l-22 1l-12-6zM3507 15509l-4 11l-17 6l-31-9l1-12l16-7l24 1zM3534 15467l30-7l20 3l10 10l-12 19l-24 2l-25-10zM4522 15055l18-6l38 8l2 13l-18 13l-39-3zM4660 15030l-3 10l-16 7l-20-1l-14-8l3-13l17-7l30 6zM4694 15001l8-13l11-1l14 1l11 10l-7 11l-25 1zM3247 15616l-13 7l-14-9l16-6zM3334 15581l-18 10l-14-4l-4-9l16-7l17 4zM4817 14965l-17 9l-19-8l7-10l11-1zM4895 14930l-13 8l-15-8l16-7zM3159 15647l-3 7l-12-1l1-7zM4971 14894l-1 6l-13 0l2-8zM3625 15410l9 11l52 6l-1-27l-6-5l-39-1zM4375 15090l-3 10l9 11l47 7l4-29l-5-5l-29-2zM3719 15371l6 12l21 3l15-8l-8-14l-24 0zM4299 15130l7 12l28 2l7-10l-7-11l-13-2zM3819 15337l-1 7l12-1zM4232 15165l10 7l5-6zM3231 15531l20-8l22 5l3 7l-9 12l-23 1l-14-8zM3307 15501l2-8l16-7l28 2l11 10l-5 12l-17 7l-30-5zM4624 14952l10-12l35 1l12 10l-3 11l-16 7l-34-4zM4712 14921l9-12l11-2l23 5l3 6l-3 9l-13 5l-26-3zM3102 15606l-18 6l-10-8l16-7zM3189 15570l-18 11l-19-9l6-10l28 2zM4837 14886l-17 10l-17-3l-3-6l7-10l11-1zM4914 14851l-15 8l-12-9l18-6zM3013 15637l-3 6l-11-1l1-6zM4990 14815l-1 6l-12-1l2-6zM3492 15400l19 8l18-7l-2-7l-25-5zM4405 15019l6 8l21 2l9-13l-23-7zM3085 15521l6-6l28-1l12 11l-10 11l-32-2zM3161 15490l7-13l11-2l29 2l11 10l-5 13l-17 7l-31-5zM4642 14874l4-9l18-6l25 3l11 9l-2 12l-16 8l-36-4zM4731 14842l9-12l11-2l27 11l-4 9l-14 6l-25-4zM2955 15595l-18 6l-7-8l15-5zM3043 15560l-8 8l-15 2l-13-12l16-8l17 4zM4855 14807l-16 10l-20-9l19-11l15 4zM4907 14772l13-6l11 3l1 6l-15 4zM2865 15627l-9 4zM5008 14737l-10 4zM3251 15424l9 10l45 1l5-14l-8-11l-25-4l-18 6zM4495 14907l10 10l37 4l10-23l-14-8l-26 1zM2941 15511l16-8l16 1l11 10l-9 12l-31-3zM3017 15479l5-10l12-4l28 2l11 10l-5 13l-17 6l-30-5zM4662 14802l11-20l26 0l20 11l-3 11l-15 7l-25 0zM4754 14756l17-6l22 5l3 6l-7 11l-34-1zM2788 15581l19 2l-6 7l-12-1zM2896 15550l-20 9l-10-3l-3-8l21-7zM4874 14729l-21 8l-13-9l7-8l15-1zM4929 14695l7-7l13 2l-2 9zM3105 15414l0 7l44 6l10-3l4-16l-17-11l-25 0zM4517 14820l-2 8l10 10l35 4l7-5l5-19l-4-5l-29-2zM2926 15467l-4 12l-18 6l-31-10l2-11l15-8l24 2zM4737 14715l-8 14l-32 2l-13-9l3-13l18-6l20 2zM2748 15541l-18 6l-11-8l17-7zM2796 15507l7-11l31 2l1 12l-18 6zM4773 14685l8-11l29 3l3 6l-6 9l-30-1zM4891 14649l-16 8l-13-9l17-7zM2658 15571l-3 6l-10-1l1-5zM4965 14613l-1 5l-11 0l1-7zM2806 15425l7-14l45-1l11 10l-7 16l-18 6l-33-5zM4614 14681l12-24l39 2l12 9l-3 14l-15 7l-31 0zM2731 15455l30-7l13 4l3 8l-10 11l-33-2zM4706 14640l3-8l18-6l16 2l10 9l-2 8l-15 6l-26-3zM2579 15526l20 2l-4 6l-14 0zM2688 15495l-7 8l-11 1l-17-9l16-10zM4830 14607l-21 7l-14-9l19-10l13 4zM4886 14567l17-1l2 8l-14 2zM2906 15355l1 7l25 4l9-3l2-9l-24-7zM4483 14704l24 8l12-13l-26-7zM2718 15412l-5 12l-17 6l-32-10l2-11l15-8l25 1zM4693 14591l-2 10l-16 7l-22 0l-14-9l11-18l31 1zM2539 15486l-14 6l-13-9l15-6zM2588 15451l6-10l31 2l1 12l-18 6zM4730 14562l1-7l18-6l17 4l3 6l-6 10l-10 2zM4846 14525l-4 7l-21-1l-3-7l15-6zM2447 15517l-1 5l-8-1zM4920 14490l-10 4zM2809 15346l-7-12l-38-4l-13 9l-9 20l53 2l9-2zM4489 14619l3 13l44 7l7-4l10-28l-49 0zM2524 15401l15-8l16 1l12 10l-9 12l-31-3zM2598 15371l8-14l41-1l11 9l-6 16l-17 6l-23-2zM4572 14556l12-21l36 1l12 9l-2 13l-15 7l-29 0zM4664 14517l9-12l11-2l21 5l3 6l-14 13l-27-3zM2478 15440l-19 8l-13-9l20-8zM4785 14482l-19 8l-13-9l20-8zM2387 15471l-2 7l-13-1l1-7zM4859 14444l-1 7l-14-1l2-8zM2736 15301l-6-8l-23-3l-15 12l11 9l22 1zM4478 14574l-4-6l-28-1l-11 11l10 9l20 2zM2459 15355l29-7l15 4l3 8l-3 8l-18 6l-23-5zM4598 14474l11-15l25 0l13 9l-7 13l-10 3l-28-4zM2308 15426l18 2l-3 7l-15-1zM2416 15395l-18 10l-13-4l-3-8l22-7zM4723 14438l-22 8l-13-9l19-10l13 4zM4780 14399l17-1l0 8l-17 0zM2656 15253l-13 5l10 3zM4386 14534l15 1l-9-7zM2394 15312l16-10l22 1l13 9l-4 12l-18 6l-25-5zM4585 14423l-1 8l-16 9l-21-1l-13-9l4-12l17-6zM2242 15387l9-8l14 5l-9 7zM2354 15350l-7 9l-11 2l-19-10l16-10l18 3zM4661 14391l-6 9l-10 2l-21-9l8-10l11-1zM4714 14358l9-7l13 4l-8 9zM2383 15267l-5 13l-17 6l-27-5l-3-16l16-8l23 1zM4522 14378l-1 10l-15 8l-24-1l-12-9l4-13l17-6l19 2zM2178 15342l11-8l14 6l-12 7zM2292 15305l-8 10l-11 1l-19-9l6-9l29 1zM4599 14347l-17 11l-17-3l-5-7l8-10l11-1zM4650 14313l11-7l13 5l-11 9zM2110 15374l-5 2zM4747 14278l-4 2zM2320 15222l-11 18l-30 0l-13-9l2-11l15-7l24 1zM4460 14333l-2 11l-15 7l-24-1l-13-9l11-17l30 0zM2115 15293l14-4l11 7l-19 6zM2229 15260l-8 10l-11 2l-20-10l6-9l30 1zM4536 14302l-6 9l-30-1l-3-6l8-10l11-2zM4586 14268l19-6l6 9l-14 4zM2047 15329l-6 2zM4685 14233l-6 2zM2204 15178l17-10l23 1l13 9l-5 13l-17 6l-28-6zM4396 14289l-1 10l-16 8l-23-1l-13-9l5-13l17-6l19 2zM2052 15249l15-5l9 9l-18 4zM2166 15216l-8 10l-11 1l-20-10l17-11l17 3zM4472 14257l-6 9l-29-1l-3-6l8-10l11-1zM4524 14221l11-4l13 5l-3 7l-12 1zM1983 15284l-4 2zM4621 14188l-5 2zM2142 15133l29-9l18 4l3 10l-4 8l-17 6l-26-6zM4281 14252l4-12l18-6l29 10l-1 10l-15 8l-22-1zM1990 15203l14-3l8 6l-9 7l-12-3zM2102 15171l-8 10l-11 1l-18-9l6-9l10-2zM4409 14213l-16 10l-18-3l-3-6l7-9l11-2zM4461 14180l9-7l14 4l-9 8zM2325 15029l9 7l6-6zM4070 14311l13-5l-10-3zM2079 15096l7-13l29-2l13 9l-10 15l-26 0zM4220 14204l3-8l18-6l27 10l-1 9l-16 7l-28-4zM1929 15158l17 0l0 7l-17 1zM2038 15127l-19 10l-13-4l-3-7l22-8zM4344 14169l-15 9l-16-3l-3-6l18-10zM4400 14136l3-7l16 2l-5 9zM2248 14990l4 6l28 1l12-11l-11-9l-20-2zM3990 14263l6 8l23 3l15-12l-11-9l-22-1zM2154 15008l-12 21l-36-1l-12-9l2-13l15-7l29 0zM4127 14188l-1 13l-15 8l-32-1l-11-9l6-16l17-6l23 2zM2019 15044l30-7l13 10l-9 12l-11 2l-21-5zM4159 14160l14-13l24 3l6 6l-2 9l-14 6l-16-1zM1973 15083l-20 8l-12-9l19-8zM4280 14124l-5 7l-15 2l-12-10l19-7zM1882 15114l-2 7l-13-1l1-7zM4354 14087l-1 7l-14-1l2-7zM2173 14957l49 0l14-9l1-10l-11-10l-36-3l-7 4zM3917 14218l7 12l38 4l13-10l9-19l-53-2l-9 2zM1997 15002l-2 7l-18 6l-17-4l-3-6l6-10l10-2zM2034 14965l17-10l22 1l14 9l-4 13l-18 6l-28-5zM4062 14144l-2 11l-15 8l-25-2l-12-9l5-12l17-6zM4138 14113l-6 10l-31-2l-1-12l18-6zM1908 15039l-15 7l-13-7l4-7l10-1zM4214 14079l-15 8l-12-9l14-6zM1816 15070l-10 4zM4288 14043l-9 4l1-5zM2207 14863l17 10l17-5l2-8l-24-8zM3783 14210l24 7l13-9l-1-6l-25-4l-9 3zM2049 14896l3-14l15-7l31 0l14 8l-12 24l-39-2zM3857 14144l16-21l23-1l24 10l-2 15l-15 8l-35-1zM1974 14920l32-7l14 11l-3 8l-19 6l-22-5zM3949 14104l18-13l25 4l3 14l-16 7l-27-4zM1821 14990l14-2l5 9l-17 1zM1931 14959l-19 10l-13-4l-3-8l21-7zM4073 14069l-16 10l-19-10l7-8l11-1zM4127 14036l7-7l14 3l-2 8zM1953 14879l-8 11l-29-3l-3-6l6-9l30 1zM1989 14849l8-14l32-2l13 9l-3 13l-18 6l-20-2zM3800 14097l4-12l18-6l31 10l-1 11l-16 8l-24-2zM3930 14057l-7 11l-31-2l-1-12l18-6zM1864 14916l-17 7l-12-8l16-8zM4007 14025l-17 7l-12-9l18-6zM1774 14946l-2 7l-11-2l1-5zM4081 13987l-1 6l-12 0l3-6zM2154 14746l16 7l34-4l7-13l-16-12l-29-2l-7 5zM3563 14156l17 11l25 0l12-8l4-16l-44-6l-10 3zM2007 14768l3-8l15-7l25 0l14 9l-11 20l-34-2zM3709 14078l-1 13l-16 8l-28-2l-11-10l5-13l17-6l21 1zM1931 14797l30-7l13 10l-2 8l-17 6l-22-5zM3742 14050l9-12l22 0l13 8l-2 8l-15 7l-15-1zM1777 14874l2-9l18 4l-7 7zM1886 14836l-7 8l-15 1l-12-10l21-8zM3863 14014l-16 9l-17-9l18-9zM3919 13981l6-7l14 3l-2 8zM2174 14659l4 13l29 2l16-4l8-13l-10-10l-37-4zM3416 14143l8 11l25 4l18-6l8-13l-9-9l-45-1zM2026 14688l18-15l26 1l14 9l-4 16l-18 6l-25-3zM3564 14067l-1 14l-16 8l-29-2l-11-10l5-13l17-7l22 2zM1948 14725l4-9l14-6l25 4l4 6l-9 14l-26 0zM3595 14039l17-13l29 9l0 8l-16 8l-18-1zM1794 14792l3-6l12-1l10 8l-13 5zM1907 14756l-19 11l-17-10l16-10zM3719 14003l-6 9l-27-2l-3-6l18-10zM3771 13969l18-6l7 8l-15 5zM1728 14823l-10 4zM3870 13933l-9 4zM2285 14548l23 7l13-10l-17-11l-17 6zM3197 14163l2 7l25 5l10-11l-19-8zM2045 14613l3-11l16-7l24 1l14 8l-3 15l-12 6l-30-2zM3363 14060l11-11l16-2l24 5l5 12l-8 12l-25 2l-21-6zM1969 14639l31-7l14 11l-9 12l-12 2l-22-5zM3450 14029l9-12l11-2l26 9l-1 9l-16 8l-26-5zM1812 14710l15-5l12 9l-18 6zM1926 14677l-7 10l-11 1l-19-10l17-10l17 3zM3574 13992l-6 10l-28-2l-3-6l18-11zM3652 13959l-16 8l-12-9l18-6zM1749 14744l-2 6l-11-1l1-6zM3727 13922l-1 6l-13-1l3-6zM2298 14446l-4 29l5 5l29 2l23-8l3-10l-9-11zM3040 14137l1 27l6 5l39 1l15-16l-9-11zM2385 14430l7 11l13 2l22-9l-7-12l-28-2zM2965 14186l1 9l19 7l20-6l3-7l-7-8l-21-3zM2479 14398l15 1l-10-7zM2908 14220l-13 5l11 3zM2207 14490l-3 19l-6 4l-42-2l-11-10l3-13l16-7l39 3zM3193 14080l-6 22l-25 2l-29-7l1-14l10-11l24-2zM1988 14566l7-11l10-2l27 9l-8 14l-25 0zM2066 14534l3-10l16-7l20 1l14 8l-3 13l-17 7l-21-3zM3219 14051l10-11l11-2l31 9l-1 12l-16 7l-24-1zM3305 14019l9-12l22-1l13 9l-6 13l-25 1zM1831 14634l13-8l15 8l-16 7zM1945 14598l-7 10l-11 1l-18-10l17-9zM3428 13982l-6 9l-27-2l-3-6l18-10zM3479 13947l13-6l14 9l-16 6zM1769 14664l-2 8l-12-2l1-6zM3582 13911l-1 7l-14-1l3-7zM2169 14413l8-7l23-2l16 4l5 12l-9 11l-26 1l-15-5zM2251 14375l16-7l35 4l5 12l-9 16l-26 0l-21-7zM2964 14104l-1 16l-16 7l-31-3l-11-10l5-13l17-7l23 2zM2991 14075l10-12l10-1l19 1l14 8l-2 12l-16 8l-32-6zM2049 14484l-1 7l-17 6l-19-4l-3-6l17-12zM2088 14454l4-9l12-5l17 0l14 9l-2 10l-17 6l-25-5zM3076 14043l3-8l14-6l18 1l12 8l-1 9l-16 7l-19-1zM3202 14005l-6 11l-31-2l-3-6l8-10l11-2zM1851 14556l11-8l15 7l-6 6zM1963 14520l-7 8l-15 1l-11-10l16-8zM3281 13972l-5 8l-11 2l-15-4l-2-6l17-8zM3334 13938l5-6l13 0l7 8l-15 5zM1788 14586l-2 7l-12-2l2-5zM3435 13901l0 7l-13-1l3-7zM2516 14202l10-12l29-1l14 8l-2 13l-16 7l-24-2zM2150 14371l-4 9l-14 4l-21-10l7-10l10-2zM2191 14340l8-11l10-2l26 9l-1 9l-17 6l-15-1zM2275 14298l14-6l30 9l-1 10l-17 7l-27-5zM2353 14272l2-8l17-7l31 9l-2 12l-16 7l-21-2zM2434 14237l3-8l17-7l28 4l5 11l-2 7l-17 7l-23-2zM2599 14168l9-12l11-2l32 9l-2 13l-16 7l-31-6zM2682 14134l9-12l37 2l5 9l-2 8l-16 7l-22-2zM2766 14101l2-8l15-6l16 0l14 9l-1 10l-16 7l-19-2zM2850 14066l8-11l11-2l25 9l-1 8l-16 7l-16-1zM2974 14029l-6 11l-29-2l-5-7l19-11zM1873 14478l2-7l18 3l-3 7zM1980 14442l-18 7l-11-9l16-6zM2065 14407l-17 10l-15-4l-2-8l21-7zM3054 13996l-17 10l-18-10l18-9zM3134 13963l-18 7l-11-9l14-7zM3191 13929l4-6l16 2l-2 8zM1805 14508l-1 5l-9-1zM3288 13891l0 5l-9-1zM2416 14190l-7 10l-29-2l-2-6l17-11zM2499 14156l-7 10l-29-2l-3-6l7-9l11-2zM2581 14122l-7 10l-11 2l-21-11l18-10zM1974 14365l5-8l16 4l-4 7zM2054 14326l15-5l12 8l-17 7l-9-3zM2165 14294l-20 9l-11-10l18-7zM2249 14259l-6 9l-17 1l-11-11l20-7zM2333 14225l-7 9l-11 2l-19-10l17-10zM2662 14088l-6 9l-28-2l-2-6l17-10zM2744 14054l-17 10l-18-10l17-9zM2825 14020l-6 7l-15 2l-11-11l18-6zM2877 13985l18-6l10 8l-16 7zM2963 13953l5-7l15 3l-2 8zM1908 14394l-1 6l-11-1l1-5zM3062 13915l-1 6l-12-1l2-6zM2093 14246l-1 8l-14-2l2-6zM2159 14219l3-9l16 3l-3 7zM2240 14182l7-7l15 5l-10 7zM2321 14148l10-8l15 6l-13 8zM2403 14113l10-7l16 6l-14 8zM2486 14079l9-7l16 6l-13 7zM2569 14045l8-7l15 5l-11 7zM2653 14012l3-7l16 1l-2 9zM2752 13972l0 8l-15-2l3-6zM2008 14282l-9 3zM2832 13939l0 5l-9-1zM2272 14101l-5 2zM2355 14066l-5 3zM2437 14032l-5 2z"/><path stroke="#f7dc2a" d="M2970 16355l18 1M3049 16330l3-10l19 1M3131 16296l3-10l20 1M3213 16262l-3-6l6-5l21 1M3295 16228l-3-6l6-6l22 2M3377 16194l-4-5l6-7l24 1M3458 16160l-3-5l6-8l25 2M3540 16126l-3-9l6-5l27 2M3622 16093l-4-6l7-10l28 3M3703 16059l-3-6l6-10l30 2M3785 16025l-4-6l7-11l32 2M3866 15991l-2-13l6-5l33 3M3948 15957l-4-6l8-12l34 2M4030 15923l-3-13l7-6l35 3M4111 15889l-2-13l7-7l36 3M4193 15855l-3-13l8-8l38 3M4275 15821l-3-13l8-8l39 3M4357 15787l-4-9l9-13l39 4M4439 15753l-4-10l9-12l40 3M4521 15719l-4-10l9-12l41 3M4604 15684l-4-12l8-10l41 4M4686 15650l-4-10l9-12l41 3M4769 15616l-4-10l9-12l40 3M4852 15581l-4-12l8-9l40 3M4934 15547l-3-13l8-8l39 3M5017 15513l-4-6l9-15l38 3M5101 15478l-3-13l7-7l37 3M5184 15443l-3-13l7-6l35 3M5267 15409l-4-6l8-13l34 3M5350 15374l-2-12l6-5l33 2M5433 15340l-2-12l6-5l31 2M5517 15305l-4-6l8-10l29 2M5600 15270l-2-10l6-5l27 2M5683 15236l-3-6l7-9l26 3M5767 15201l-4-5l7-8l25 2M5850 15167l-3-8l6-5l23 2M5933 15132l-3-7l6-5l22 2M6016 15098l-3-7l6-5l21 2M6099 15063l3-11l20 2M6182 15029l3-11l19 2M6265 14994l3-10M3553 16043l8-11l10-2l24 10l-8 11l-11 1zM3636 16002l17-7l25 10l-8 12l-32-2zM3716 15975l2-8l16-7l15 1l13 10l-17 14l-25-4zM3799 15932l31-6l15 11l-9 12l-35-2zM3879 15905l8-12l29-1l13 9l-3 10l-17 7l-26-5zM4012 15867l-3 10l-17 7l-19-1l-13-9l3-11l16-7l21 1zM4095 15832l-3 11l-16 7l-21-1l-13-9l2-12l17-7l22 2zM4179 15797l-4 12l-16 7l-22-1l-14-9l3-13l16-7l25 2zM4205 15765l9-12l36 1l12 9l-4 13l-16 6l-33-5zM4287 15731l6-10l13-4l27 2l12 9l-4 14l-17 6l-33-5zM4369 15697l8-13l39 1l12 9l-4 13l-17 7l-32-4zM4451 15662l18-14l29 2l12 9l-4 14l-16 7l-35-5zM4533 15628l9-13l39 1l12 9l-4 14l-17 7l-35-5zM4616 15593l8-12l39 1l12 9l-4 14l-16 7l-35-5zM4698 15560l9-13l38 1l12 9l-4 13l-16 7l-35-4zM4781 15525l9-12l11-2l35 6l3 12l-10 12l-23 2l-21-5zM4864 15492l9-13l36 1l12 9l-3 12l-17 7l-32-4zM5003 15455l-3 12l-17 7l-36-10l3-14l17-6l24 2zM5084 15421l-3 11l-16 7l-21-1l-13-9l2-12l17-7l22 2zM5166 15387l-3 10l-16 7l-20-1l-13-9l3-11l16-7l21 2zM5198 15357l8-13l11-1l18 1l12 9l-2 10l-16 6l-27-4zM5281 15323l8-12l27-1l13 9l-2 9l-17 7l-16-1zM5366 15282l18-7l23 5l3 6l-8 12l-34-2zM5448 15256l2-8l13-6l20 2l8 8l-4 9l-13 4zM5532 15221l7-11l31 2l3 6l-7 10l-11 2zM2906 16310l19 1l-3 10M3011 16282l-17 7l-11-9l16-6zM3094 16248l-17 7l-13-9l18-7zM3177 16213l-18 8l-13-10l19-7zM3261 16179l-7 7l-14 1l-12-11l16-7zM3344 16144l-17 10l-18-10l6-8l26 2zM3428 16109l-7 9l-11 2l-19-9l6-9l11-2zM3511 16075l-7 9l-11 2l-21-9l7-10l29 2zM5654 15184l-7 10l-28-2l-4-6l18-12l18 4zM5736 15150l-17 11l-17-4l-3-6l7-9l27 2zM5817 15119l-22 7l-13-9l7-8l16-2zM5899 15082l-20 9l-10-3l-3-8l20-7zM5980 15049l-18 7l-13-10l17-7zM6062 15015l-17 7l-13-10l18-6zM6143 14980l-16 7l-11-9l16-6zM6220 14951l-18-1l2-11M3976 15789l8-13l39 1l12 9l-4 14l-16 7l-35-5zM4057 15754l8-13l42 1l12 9l-5 15l-16 7l-37-5zM4138 15719l8-13l45 1l11 10l-5 16l-14 6l-41-4zM4222 15676l17-7l44 7l2 13l-10 15l-42 0l-14-9zM4301 15662l8-27l49 3l11 9l-11 23l-43 0zM4382 15628l8-28l51 3l11 10l-12 23l-44 0zM4471 15565l61 8l-3 24l-17 7l-43-5l-4-13zM4554 15532l60 6l3 6l-12 23l-44 1l-14-9zM4630 15517l9-19l48 3l11 9l-4 17l-17 8l-43-5zM4717 15470l16-6l44 7l2 13l-10 14l-42 1l-14-9zM4797 15448l3-11l17-7l33 3l11 10l-4 15l-15 7l-42-4zM4881 15411l9-13l41 2l12 9l-4 15l-17 7l-38-5zM4964 15379l9-14l39 1l12 9l-4 14l-16 7l-36-5zM3407 16033l8-12l10-2l24 10l-5 10l-13 3zM3490 15991l16-7l24 5l3 6l-8 12l-33-2zM3570 15964l2-8l16-7l26 5l1 14l-17 7l-24-4zM3651 15929l2-8l16-7l28 5l4 6l-3 10l-17 6l-26-4zM3784 15890l-3 11l-16 7l-20-1l-13-9l2-12l17-7l21 2zM3868 15855l-3 13l-17 6l-22-1l-13-9l3-13l16-7l24 2zM3894 15824l9-13l10-2l27 2l12 10l-4 13l-17 7l-32-5zM5048 15344l9-12l11-2l25 2l12 9l-3 13l-16 7l-33-4zM5187 15308l-3 11l-17 7l-22-1l-13-9l3-13l16-7l24 2zM5268 15274l-3 10l-16 7l-20-1l-14-9l3-11l17-7l21 2zM5299 15244l9-13l38 3l1 15l-17 7l-27-4zM5383 15210l8-12l27-1l12 9l-2 8l-16 7l-16 0zM5469 15169l16-7l16 2l10 9l-7 12l-34-2zM5550 15142l5-9l14-4l24 10l-8 11l-31-2zM2843 16265l20 1l-3 11M2949 16238l-17 7l-13-10l16-7zM3032 16203l-19 8l-13-9l6-7l13-1zM3115 16168l-20 9l-10-3l-3-8l21-7zM3199 16134l-7 8l-11 1l-18-9l17-10zM3282 16099l-17 11l-17-4l-3-6l6-9l28 2zM3326 16067l7-11l30 2l3 6l-18 12zM5634 15107l18-12l19 4l3 6l-7 10l-30-2zM5755 15071l-6 9l-11 2l-20-9l7-10l27 2zM5837 15037l-17 10l-19-9l18-10zM5918 15004l-6 7l-24-2l-3-8l17-7zM6000 14970l-17 8l-15-9l17-9zM6081 14936l-17 7l-12-10l17-6zM6158 14907l-20-2l-3-6l5-5M1498 14699l11-25l65 0l9-39l-63-9l-2-13l10-18l66 1l-9 39l53 1l16-7l1-24l-61-9l10-39l54 1l17-10l1-22l-61-10l11-37l63-1l10-18l0-15l-60-10l3-27l16-7l55 1l12-37l55 1l15-7l5-26l-61-11l2-20l9-12l65-1l13-36l65-1l13-34l-62-10l0-18l9-13l60 2l-2 36l62 1l9-12l1-18l-61-11l12-33l66 1l-1 36l55 1l10-14l-1-14l-62-9l14-36l66 0l15-36l65 1l16-36l66 1l16-35l67 0l16-34l67 1l17-35l67 2l17-35l68 2l0 35l53 3l10-12l1-17l-64-9l16-35l62 3l2 34l57 3l15-33l-65-8l3-20l9-12l57 3l1 35l65 2l18-34l69 3l17-34l61 3l3 34l48 5l17-7l11-28l71 3l11-29l17-7l49 6l3 34l61 3l19-33l67 4l-2 29l4 6l24 4l38-5l12-29l72 5l1 34l43 6l17-6l11-29l-72-5l10-30l31-6l32 5l0 36l72 5l17-34l57 4l-1 35l-72-5l-3 29l14 9l43 1l18-34l72 6l2 35l55 4l19-33l67 5l2 35l48 6l18-6l14-27l49 1l14 9l-3 30l69 6l-2 30l13 8l48 3l20-33l60 6l0 35l68 7l-2 29l13 9l54 4l11-29l7-4l56 4l4 6l-7 27l-67-1l-5 21l4 12l56 6l19-33l60 6l4 6l-5 30l-66 0l-7 17l4 12l52 5l7-4l11-30l66 8l0 36l65 8l0 35l65 9l-1 36l65 8l-2 36l64 9l-2 36l64 9l-2 37l63 9l-3 37l-65 0l-8 16l3 13l53 6l7-5l10-30l64 9l-4 33l-64 2l-7 13l2 17l60 8l16-35l59 7l2 13l-8 18l-65 0l-4 35l62 10l-5 37l63 10l-5 33l-63 1l-9 26l12 9l53 7l-6 38l53 6l12 9l-9 27l-64 1l-6 14l0 19l61 10l-7 37l-64 1l-9 17l2 13l62 10l-9 39l-64 1l-10 23l12 9l52 6l10-39l55 6l12 9l-11 25l-65 0l-9 39l63 9l2 13l-10 18l-66-1l9-39l-53-1l-16 7l-1 24l61 9l-10 39l-64 1l-11 24l12 10l52 6l-11 37l-53-1l-16 7l-4 28l60 10l-3 27l-16 7l-55-1l-12 37l-55-1l-15 7l-5 26l61 11l-2 20l-9 12l-65 1l-13 36l-65 1l-13 34l62 10l0 18l-9 13l-60-2l2-36l-62-1l-9 12l-1 18l61 11l-12 33l-66-1l1-36l-55-1l-10 14l1 14l63 9l-15 36l-66 0l-15 36l-65-1l-16 36l-66-1l-16 35l-67 0l-16 34l-67-1l-16 35l-68-2l-17 35l-68-2l0-35l-53-3l-10 12l-1 17l64 9l-16 35l-62-3l-2-34l-57-3l-15 33l65 8l-1 15l-11 17l-57-3l-1-35l-65-2l-18 34l-69-3l-17 34l-61-3l-3-34l-48-5l-17 7l-11 28l-71-3l-11 29l-17 7l-49-6l-3-34l-61-3l-19 33l-67-4l2-29l-4-6l-24-4l-38 5l-12 29l-72-5l-1-34l-43-6l-17 6l-11 29l72 5l-10 30l-31 6l-32-5l0-36l-72-5l-17 34l-57-4l1-35l72 5l3-29l-14-9l-43-1l-18 34l-72-6l-2-35l-55-4l-19 33l-66-6l-3-34l-48-6l-18 6l-14 27l-49-1l-14-9l3-30l-69-6l2-30l-13-8l-48-3l-20 33l-60-6l0-35l-68-7l2-29l-13-9l-54-4l-11 29l-7 4l-56-4l-4-6l7-27l67 1l5-21l-4-12l-56-6l-19 33l-60-6l-4-6l5-30l66 0l7-17l-4-12l-52-5l-18 34l-66-8l0-36l-65-8l0-36l-65-8l1-36l-65-8l2-36l-64-9l2-36l-64-9l2-37l-63-9l3-37l65 0l8-14l-3-15l-53-6l-7 5l-10 30l-64-9l4-33l64-2l7-13l-2-17l-60-8l-16 35l-59-7l-1-18l8-13l64 0l4-35l-62-10l5-37l-63-10l5-33l63-1l9-26l-12-9l-53-7l6-38l-53-6l-12-9l9-27l64-1l6-14l0-19l-61-11l7-36l64-1l9-17l-2-13l-62-10l9-39l64-1l10-23l-12-9l-52-6l-10 39l-55-6zM3747 15812l8-13l41 1l12 9l-4 15l-17 7l-36-5zM3830 15769l16-7l44 6l3 6l-12 22l-24 2l-26-5zM3915 15727l51 3l9 3l1 14l-11 16l-39 0l-18-9zM4896 15336l8-20l50 3l11 10l-11 23l-55-3zM4984 15289l17-6l42 6l2 14l-10 13l-41 1l-14-9zM5065 15266l9-15l40 2l12 9l-3 14l-17 7l-38-4zM3261 16022l15-13l25 4l3 6l-5 9l-13 4l-21-4zM3342 15989l2-8l16-7l25 4l3 6l-8 13l-11 2zM3423 15954l8-13l29-1l12 9l-3 9l-16 7l-26-4zM3556 15914l-3 11l-17 7l-32-10l3-11l16-8l21 2zM3640 15879l-3 12l-17 7l-22-1l-13-9l3-13l16-7l24 2zM3666 15847l9-12l10-2l27 2l12 9l-4 14l-17 7l-33-5zM5150 15230l9-12l24-1l21 6l3 11l-9 12l-24 2l-21-5zM5288 15194l-3 12l-16 7l-22-1l-14-9l3-13l17-7l23 2zM5367 15171l-17 7l-29-4l-4-6l3-11l17-7l29 5zM5401 15133l9-15l28 0l12 9l-2 9l-16 7l-27-4zM5485 15098l2-8l17-7l15 1l12 9l-3 9l-14 6l-25-4zM5569 15063l15-13l21 2l7 8l-7 11l-32-2zM2779 16220l21 1l3 6l-6 6M2886 16193l-18 7l-13-10l16-7zM2970 16158l-18 9l-16-9l6-8l11-1zM3053 16123l-7 8l-16 2l-12-12l23-7zM3137 16088l-7 10l-28-2l-3-6l17-11zM3180 16056l7-10l29 1l4 7l-7 10l-11 2zM5653 15029l6-10l12-3l23 10l-18 12zM5775 14992l-17 11l-21-9l7-10l28 2zM5856 14958l-6 8l-26-1l-3-9l23-7zM5938 14925l-7 7l-14 1l-13-9l17-9zM6019 14891l-19 8l-12-11l19-6zM6095 14862l-21-1l-3-6l6-6M4169 15602l0 15l8 4l50 3l6-26l-15-9l-39 1zM4581 15431l1 14l57 8l7-27l-4-6l-51-1zM4252 15568l1 14l36 7l18-1l7-14l-4-16l-24-4l-22 2zM4335 15534l1 13l27 7l26-1l7-13l-4-16l-24-4l-22 3zM4418 15499l1 14l41 7l17-7l2-18l-15-8l-26-1zM4500 15465l1 14l42 7l17-6l2-19l-4-6l-25-4l-24 3zM3519 15836l9-12l10-2l30 2l12 9l-5 15l-16 7l-36-5zM3602 15793l16-7l44 6l2 14l-11 14l-40 0l-14-9zM3684 15749l65 7l-5 26l-17 7l-44-6l-4-12zM5003 15201l62 8l-3 25l-16 7l-47-4zM5083 15183l9-12l25-1l28 6l2 13l-10 14l-52-2zM5167 15153l9-15l40 2l12 9l-4 14l-16 7l-38-5zM3034 16046l6-10l12-3l20 4l3 6l-8 11l-29-2zM3117 16005l16-7l14 1l12 9l-8 12l-32-2zM3198 15970l16-7l17 1l12 10l-9 12l-34-2zM3278 15937l7-7l30-1l12 12l-9 12l-28 1l-13-9zM3411 15903l-3 12l-17 7l-20-2l-13-9l2-11l17-7l22 1zM3441 15864l16-7l26 2l12 9l-3 14l-17 6l-32-5zM5252 15117l9-11l22-2l22 6l3 10l-9 12l-20 3l-23-5zM5389 15082l-3 10l-16 7l-21-1l-13-8l3-13l17-6l21 1zM5420 15052l9-13l10-2l19 2l12 9l-2 9l-17 7l-27-4zM5504 15019l2-8l17-7l15 1l13 9l-2 8l-16 7l-25-4zM5588 14985l2-8l13-6l21 2l8 8l-5 9l-13 4zM5672 14950l6-10l12-3l20 4l3 6l-7 10l-11 2zM2715 16175l23 1l2 7l-6 5M2824 16147l-6 8l-24-2l-3-8l21-7zM2908 16113l-18 10l-18-10l17-10zM2991 16078l-7 9l-11 2l-20-9l7-10l28 2zM5794 14913l-17 11l-21-9l7-10l11-1zM5875 14880l-6 8l-26-2l-3-6l17-10zM5957 14846l-6 7l-15 1l-13-9l18-9zM6032 14818l-22-2l-3-6l6-6M3775 15693l-1 17l62 8l0-34l-41-4zM4851 15241l-2 23l59 8l7-29l-4-5l-44-4zM3858 15668l11 10l33 3l16-7l2-10l-5-12l-34-4l-17 6zM3944 15632l11 10l37 1l8-13l-6-11l-28-4l-17 7zM4688 15321l11 12l35 2l9-13l-5-12l-18-4l-22 3zM4767 15290l8 9l33 5l17-7l3-18l-13-8l-28-1l-16 8zM4030 15596l10 11l21 2l11-2l7-14l-14-10l-29 4zM4116 15561l11 11l15 1l16-7l1-9l-24-7zM4202 15525l8 11l13 2l16-7l-5-12l-12-2zM4286 15490l1 7l17 6l16-7l-5-11l-11-2zM4368 15456l9 11l20 0l6-6l-5-10l-12-2zM4450 15421l8 12l13 2l16-7l-5-12l-16-2zM4530 15389l8 11l16 2l17-7l1-9l-25-8zM4609 15356l10 10l19 3l17-7l2-12l-30-8zM3375 15818l6-6l52 4l2 14l-11 13l-38 0l-13-8zM3452 15801l7-26l51 2l12 10l-13 23l-43 0zM5098 15117l10-27l49 3l11 9l-10 23l-46 1zM5185 15074l10-15l41 1l12 9l-4 15l-14 7l-42-4zM2889 16035l7-10l28 1l5 7l-7 10l-11 2zM2971 15995l17-7l22 4l3 6l-8 12l-22 1l-13-9zM3052 15960l33-6l12 10l-8 12l-34-2zM3131 15935l3-11l16-7l28 5l4 6l-3 10l-17 7zM3266 15893l-3 12l-17 6l-21-1l-13-9l2-12l17-7l23 2zM3293 15861l8-12l10-2l28 2l12 9l-4 13l-17 7l-33-5zM5270 15039l10-13l36 1l12 9l-3 13l-16 7l-31-3zM5409 15003l-3 11l-16 7l-22-1l-13-9l3-13l17-6l22 1zM5439 14973l9-13l11-2l27 5l1 16l-16 7l-28-5zM5525 14933l19-8l14 1l12 9l-8 13l-24 2l-11-4zM5609 14898l30-5l12 9l-8 11l-32-2zM5692 14871l7-11l30 2l3 6l-7 10l-10 2zM2651 16130l24 1l3 8l-6 5M2762 16102l-7 8l-25-1l-3-9l22-7zM2845 16068l-7 9l-27-2l-3-6l17-11l17 4zM5813 14834l-17 11l-17-3l-3-6l17-11zM5894 14803l-22 7l-13-9l18-10l14 4zM5970 14774l-24-2l-3-8l6-5M3543 15728l11 10l53 3l5-27l-28-10l-27 2zM4953 15128l-2 22l58 9l8-29l-4-6l-26-3zM3632 15685l1 13l22 5l28-1l7-13l-5-13l-24-4l-18 2zM4871 15172l2 10l36 8l17-7l3-17l-15-8l-34 2zM3719 15654l10 11l22 2l10-2l7-14l-6-7l-22-3l-16 5zM3844 15617l-17-7l-18 8l9 10l15 1zM4718 15240l16 12l12-1l7-11l-17-8zM4793 15209l10 10l19 2l17-6l3-8l-5-9l-28-3zM3904 15585l12 2zM4648 15276l11 3l-5-6zM3226 15817l3-10l16-7l34 2l12 10l-6 16l-15 7l-40-5zM3310 15762l68 6l-7 28l-17 6l-45-5l-4-5zM5124 15009l62 8l-2 25l-16 7l-52-3zM5203 14996l10-17l43 2l12 9l-4 16l-16 7l-42-4zM2825 15991l14-13l25 4l3 6l-5 9l-13 4l-21-4zM2905 15958l2-9l16-7l15 1l14 10l-9 13l-25 1zM2986 15922l2-8l16-7l20 1l12 10l-3 10l-17 6l-26-4zM3121 15882l-4 12l-17 7l-21-1l-13-9l3-12l16-7l24 1zM3147 15850l8-12l10-2l28 2l12 9l-4 14l-17 7l-33-5zM5289 14959l16-13l31 2l12 9l-3 13l-17 7l-36-4zM5428 14924l-3 11l-16 7l-22-1l-13-9l3-13l17-6l22 1zM5458 14897l3-11l17-7l18 2l13 9l-3 10l-16 7l-19-1zM5543 14861l8-13l11-2l27 10l-2 9l-30 6zM5627 14827l8-12l32 2l3 6l-7 11l-23 2zM2588 16085l25 1l3 6l-7 8M2700 16057l-18 11l-19-9l6-9l11-2zM2744 16025l6-10l29 1l4 7l-7 10l-29-2zM5711 14792l8-11l10-1l22 9l-7 10l-10 2zM5832 14756l-17 10l-17-3l-3-6l7-9l11-2zM5907 14729l-25-1l-3-6l7-8M3400 15717l11 9l45 1l8-15l-8-13l-32-4l-17 6zM4971 15057l2 13l39 7l17-6l4-19l-14-8l-29-1zM3490 15677l2 9l31 5l16-7l1-11l-31-9zM3582 15641l9 11l19-1l4-7l-13-9zM4822 15128l8 9l17 0l7-10l-18-7zM4894 15096l11 10l30 1l7-5l2-13l-15-8l-17 0l-14 6zM3083 15797l16-8l44 6l2 14l-11 14l-40 0l-13-9zM5222 14917l10-17l43 2l12 9l-4 16l-16 7l-42-4zM2679 15981l8-12l10-2l24 10l-7 12l-22 1zM2760 15947l2-8l16-7l15 1l13 9l-3 8l-15 7l-24-4zM2842 15906l7-7l29-1l12 12l-9 12l-27 1l-10-4zM2975 15872l-4 12l-16 7l-21-2l-13-9l2-12l16-7l24 2zM3001 15840l15-14l32 2l12 9l-4 14l-17 7l-34-6zM5308 14881l10-13l37 1l12 9l-3 13l-16 8l-36-5zM5447 14845l-2 11l-17 7l-22-1l-13-9l3-13l17-6l22 2zM5478 14815l3-8l16-6l18 1l13 9l-3 10l-16 7l-18-1zM5564 14775l7-6l26 0l11 9l-8 12l-24 2l-10-4zM5647 14748l1-7l17-7l24 10l-5 10l-13 3zM2524 16040l26 1l4 6l-7 9M2637 16012l-7 10l-11 2l-21-10l7-9l11-2zM5770 14711l-17 11l-22-9l7-10l29 2zM5844 14685l-26-1l-2-10l6-5M3258 15698l1 14l22 5l28-2l7-13l-6-12l-41-3zM4992 14980l11 14l37 2l7-5l4-17l-13-8l-28-1zM3348 15668l10 10l13 1l20-8l-6-12l-27-2zM4918 15015l2 6l21 6l17-6l2-9l-26-8l-10 2zM2935 15796l8-15l11-2l34 2l12 10l-6 17l-16 6l-39-5zM5241 14845l11-23l42 1l12 9l-9 21l-42 1zM2534 15970l7-11l31 2l3 6l-7 11l-11 2zM2615 15937l2-9l15-6l24 4l4 6l-4 9l-12 5zM2695 15903l2-9l17-7l18 1l12 9l-3 9l-16 7l-17-1zM2829 15862l-3 11l-17 7l-20-1l-13-9l2-12l16-7l23 2zM2856 15829l8-11l38-1l12 9l-4 14l-17 7l-33-5zM5328 14802l7-10l13-4l26 2l12 9l-3 13l-16 7l-36-4zM5466 14766l-2 11l-17 7l-21-1l-13-9l3-12l17-7l21 2zM5498 14736l2-7l17-7l26 5l1 14l-16 7l-26-4zM5582 14704l2-8l16-7l24 4l3 6l-3 9l-13 5l-17-1zM5667 14668l7-11l29 2l5 7l-7 10l-31-2zM2460 15994l28 2l2 10l-6 5M5782 14641l-28-2l-2-10l6-5M3111 15695l11 9l30 3l11-3l7-13l-6-11l-29-4l-18 6zM5013 14897l2 14l18 6l26-1l10-13l-4-13l-45-1zM3242 15655l-15-8l-13 1l-9 12l23 8l10-3zM4940 14934l10 11l19 1l9-13l-23-7zM2790 15786l9-15l10-2l33 2l12 10l-6 16l-13 6l-41-5zM2875 15732l68 4l-9 29l-31 6l-30-5l-4-13zM5172 14810l11-37l51 4l12 9l-10 25zM5261 14766l11-23l41 2l12 9l-4 15l-15 7l-31-1zM2471 15919l17-7l22 4l3 6l-4 9l-14 5l-21-5zM2552 15884l33-6l13 10l-9 12l-35-2zM2683 15852l-4 11l-16 6l-19-1l-13-9l2-11l16-7l21 2zM2711 15819l8-11l36-1l13 9l-4 14l-17 6l-32-5zM5348 14723l10-12l34 1l13 9l-3 12l-16 7l-34-4zM5485 14687l-3 11l-16 7l-33-10l3-12l17-6l19 1zM5518 14658l8-13l36 3l1 14l-16 7l-26-4zM5602 14624l15-13l16 0l13 10l-8 11l-32-2zM2396 15949l30 2l2 11l-7 5M5719 14597l-29-2l-2-11l6-5M2966 15677l1 14l22 5l28-2l7-13l-5-12l-41-3zM5089 14816l-14-8l-27-1l-15 8l-2 11l11 10l37 2zM3096 15644l-17-8l-18 6l-2 8l24 7l9-2zM4959 14855l10 11l19 1l9-13l-23-7zM2646 15774l8-12l11-2l29 2l13 9l-5 15l-17 7l-33-5zM2727 15730l30-7l36 5l1 6l-13 25l-53-4zM5194 14723l12-26l42 1l16 10l-9 23l-47 1zM5283 14677l10-12l25-1l21 6l4 13l-9 11l-25 3l-24-5zM2332 15904l32 2l3 6l-8 11M2407 15874l32-6l12 9l-8 13l-26 0l-11-7zM2486 15846l2-7l16-8l20 2l12 9l-3 10l-17 6l-26-4zM2621 15806l-4 13l-16 6l-22-1l-13-9l3-12l16-7l24 1zM5423 14642l-3 12l-16 7l-23-1l-13-9l3-13l17-7l23 2zM5453 14612l9-12l11-2l18 2l12 9l-2 9l-16 7l-28-4zM5538 14580l2-8l16-7l27 9l-2 10l-15 6l-24-4zM5657 14553l-31-2l-2-12l6-5M2817 15675l11 10l35 2l10-2l7-15l-5-12l-34-5l-17 6zM5048 14741l3 13l37 7l18-6l5-19l-14-8l-31-1zM2952 15633l-14-8l-18 1l-10 11l11 10l27-2zM5018 14775l-14-9l-22 3l-6 9l23 12l17-6zM2581 15728l8-13l46 1l12 9l-6 18l-18 6l-39-5zM5216 14643l11-24l43 2l12 9l-9 21l-44 1zM2269 15859l32 2l4 6l-9 12M2343 15829l31-7l15 11l-9 13l-35-3zM2474 15796l-3 12l-17 6l-19-1l-13-9l2-11l16-7l22 1zM2502 15764l8-12l10-2l27 2l13 9l-5 14l-16 7l-33-6zM5303 14607l10-20l36 1l12 9l-3 13l-16 7l-26-1zM5441 14564l-2 10l-16 7l-21-1l-13-9l3-11l17-7l20 2zM5474 14534l8-12l27-1l12 9l-2 9l-16 7l-26-4zM5594 14508l-32-2l-4-5l8-12M2667 15674l63 2l6-24l-13-8l-41-1l-12 15zM5064 14671l12 9l45 3l9-13l3-21l-50-2l-10 2zM2760 15628l12 10l23 1l15-8l0-10l-28-9l-17 6zM4991 14701l11 10l17 2l18-6l4-13l-14-8l-20 0l-14 7zM2437 15719l8-13l11-1l30 1l12 10l-5 15l-16 7l-36-6zM2518 15675l16-8l54 4l-8 29l-18 6l-43-6zM5149 14607l12-35l48 3l12 9l-9 24zM5238 14556l4-9l18-7l27 3l12 9l-3 14l-16 7l-39-4zM2205 15814l34 2l1 14l-6 5M2279 15784l22-8l23 5l3 8l-9 12l-37-2zM2412 15751l-3 13l-17 6l-22-1l-13-9l3-12l16-7l24 1zM5379 14519l-3 11l-16 7l-23-1l-13-9l4-13l16-6l23 1zM5409 14492l3-11l17-6l18 1l12 9l-2 10l-16 7l-19-1zM5532 14464l-34-2l-2-14l7-4M2611 15612l1 14l27 5l23-3l7-12l-5-12l-22-5l-19 2zM5065 14614l-14-9l-28 0l-15 7l-2 12l12 9l35 2zM2706 15580l1 6l18 4l14-9l-11-8zM4938 14652l10 11l13-1l9-9l-15-8zM2372 15676l8-15l11-2l35 2l12 9l-12 23l-50-4zM5177 14501l18-7l40 7l3 13l-9 14l-44 0l-13-9zM2141 15769l36 2l1 15l-7 4M2213 15746l9-13l10-2l21 2l12 9l-3 11l-17 6l-19-1zM2293 15710l8-12l37-1l13 9l-4 14l-17 6l-33-5zM5260 14483l3-14l17-7l25 2l12 9l-3 13l-16 7l-26-1zM5345 14444l3-8l17-6l19 1l13 9l-2 11l-17 7l-29-5zM5469 14420l-35-2l-4-7l9-12M2457 15619l64 2l6-24l-13-8l-41-2l-7 5zM5021 14538l3 15l53 6l9-12l4-22l-51-2l-10 2zM2552 15573l11 9l32-1l5-14l-28-10l-16 6zM4949 14571l3 12l23 6l18-6l3-7l-3-10l-16-4zM2229 15664l8-12l11-2l29 2l12 9l-5 15l-17 6l-34-5zM2310 15620l30-7l37 4l-13 32l-25 1l-28-5zM5106 14476l13-26l45 2l12 9l-9 23l-48 1zM5196 14430l10-11l37 0l12 9l0 7l-9 12l-48-2zM2077 15724l37 2l4 8l-9 12M2203 15697l-3 12l-17 6l-21-2l-13-8l3-12l16-7l23 1zM5335 14395l-3 11l-16 8l-22-2l-13-9l3-12l17-7l21 2zM5407 14376l-37-3l-4-7l9-12M2399 15565l12 10l43-1l8-13l-6-12l-32-6l-16 4zM4961 14501l12 9l37 2l12-23l-13-8l-31-1l-15 8zM2531 15525l-14-9l-22 9l11 10l21-2zM4891 14530l14 10l13-1l9-10l-3-6l-19-2zM2165 15619l8-12l42-1l12 10l-5 16l-14 6l-39-5zM5130 14395l11-22l39 1l13 9l-3 15l-16 7l-31-1zM2014 15679l38 2l2 14l-8 7M2141 15651l-4 13l-17 7l-22-2l-13-9l3-12l16-7l24 1zM5272 14350l-2 12l-16 7l-24-1l-13-9l3-13l17-7l23 2zM5344 14331l-38-2l-2-13l8-7M2341 15511l1 14l23 5l23-3l7-14l-5-8l-22-5l-16 2zM4901 14453l12 11l31 1l12-19l-14-8l-34 2zM2455 15482l-5-4l-7 5zM4853 14484l-12 3zM2101 15574l8-13l10-2l34 2l13 9l-6 18l-18 6l-38-5zM5065 14351l12-23l41 1l12 8l-8 22l-44 1zM1950 15634l39 2l2 14l-8 7M2078 15606l-4 14l-17 7l-23-2l-12-9l2-13l16-7l26 1zM5210 14305l-3 13l-16 7l-25-1l-13-9l4-14l17-7l23 2zM5281 14287l-39-2l-2-14l8-7M2280 15469l2 10l24 5l22-9l-4-13l-22-5zM4842 14401l3 13l33 5l11-11l-3-11l-30-3zM1958 15564l19-13l30 3l9 8l-4 14l-17 6l-33-5zM2037 15529l8-13l10-2l37 2l12 9l-6 19l-18 6l-40-6zM5001 14307l12-24l43 1l12 9l-9 22l-45 1zM5089 14270l4-14l17-7l25 2l12 9l-3 14l-16 7l-30-3zM1887 15589l39 3l3 13l-9 8M5218 14243l-39-3l-4-9l9-12M2124 15467l1 7l49 4l15-8l2-17l-13-8l-40-2zM4851 14326l0 8l13 9l41 2l13-25l-1-7l-48-3l-10 3zM2219 15426l12 11l17 0l14-9l-4-9l-16-5l-20 5zM4781 14363l3 6l24 4l13-5l3-9l-29-9l-11 4zM1894 15527l3-14l16-7l28 2l12 9l-4 14l-17 7l-25-2zM1976 15476l29-7l35 5l2 6l-7 20l-21 6l-38-6zM4937 14263l12-25l44 1l13 9l-9 23l-47 1zM5025 14226l11-20l36 1l12 9l-11 19l-35 0zM1823 15544l41 3l3 10l-9 12M5155 14198l-40-2l-3-10l9-12M2062 15422l13 9l35 1l15-8l1-15l-13-9l-37-1zM4791 14274l2 20l36 7l18-6l6-19l-2-6l-25-4l-29 2zM2196 15380l-16-9l-12 1l-10 11l25 8l9-2zM4720 14318l12 9l16 0l11-11l-12-9l-14 0zM1831 15475l9-12l10-2l29 2l11 8l-4 16l-17 6l-34-5zM1912 15432l16-8l51 4l-6 28l-18 6l-42-6zM4886 14193l41 1l16 9l-9 24l-61-2zM4963 14173l10-11l24-2l20 5l4 13l-8 12l-25 2l-23-5zM1760 15500l41 2l3 10l-9 12M5092 14154l-40-3l-4-10l10-12M2000 15377l12 9l44-1l7-14l-4-12l-35-6l-18 6zM4726 14237l13 16l29 2l15-5l7-18l-13-9l-43 1zM2132 15336l-14-9l-12 1l-10 9l3 6l19 3zM4658 14272l13 10l12-1l10-12l-22-6zM1776 15419l39-1l12 9l-4 15l-17 7l-26-2l-12-9zM1849 15387l16-8l51 4l-6 28l-18 6l-43-6zM4810 14181l3-21l10-12l41 1l16 10l-9 23zM4899 14129l7-10l14-4l26 2l12 9l-8 19l-25 2l-23-4zM1697 15455l41 2l3 11l-10 11M5029 14109l-41-2l-3-11l10-12M1936 15332l13 9l43-1l8-13l-13-16l-29-2l-15 5zM4665 14185l2 19l35 7l18-6l6-18l-2-6l-25-4l-29 2zM2069 15292l-14-10l-20 5l-2 8l22 6zM4594 14227l13 10l13-1l10-9l-12-9l-20 3zM1707 15379l16-7l30 2l11 8l-1 9l-14 12l-32-1l-12-9zM1786 15342l29-7l38 4l-7 27l-17 7l-43-7zM4747 14136l6-28l7-4l44 1l13 9l-9 24zM4836 14093l10-21l36 1l13 9l-3 13l-16 8l-29-2zM1634 15410l40 3l4 10l-10 12M4966 14064l-41-2l-3-10l9-12M1873 15288l12 9l35 1l15-8l2-15l-13-9l-38-1l-7 4zM4601 14140l2 20l22 6l25-1l14-23l-3-6l-45-4zM2006 15246l-12-9l-16 0l-10 11l11 9l14 0zM4530 14182l16 11l12-1l10-11l-25-8zM1642 15341l19-13l27 1l13 9l-5 15l-17 6l-33-5zM1720 15309l9-16l48-1l12 9l-6 21l-18 6l-41-7zM4684 14084l13-25l43 2l13 9l-8 23l-48 0zM4774 14039l10-11l22-2l22 6l4 11l-9 13l-24 2l-23-5zM1571 15366l40 2l3 10l-9 12M4903 14020l-41-3l-3-10l9-12M1808 15244l1 7l48 3l15-8l3-16l-13-9l-41-2zM4537 14094l2 22l37 6l19-6l6-26l-49-4zM1902 15205l29 9l11-4l3-9l-3-6l-24-4l-13 5zM4464 14135l4 10l28 4l11-11l-12-11l-17 0zM1579 15304l3-14l16-7l30 3l9 8l-4 14l-17 7l-25-2zM1658 15261l19-15l35 2l13 9l-6 19l-17 7l-41-6zM4622 14039l13-24l41 1l13 9l-8 23l-47 0zM4710 14002l4-14l17-6l24 2l13 8l-3 14l-16 7l-30-3zM1508 15321l39 3l4 9l-9 12M4839 13975l-39-3l-3-13l9-8M1837 15156l3 11l30 3l14-7l1-8l-8-8l-29-2zM4398 14089l4 13l22 5l18-6l5-10l-3-6l-24-5zM1596 15217l8-13l24-2l30 5l3 6l-6 18l-17 6l-39-6zM4560 13994l12-23l40 1l13 8l-8 23l-44 0zM1445 15277l39 2l2 14l-8 7M1573 15249l-4 14l-17 7l-23-2l-13-9l3-13l16-7l25 1zM4704 13948l-2 13l-16 7l-26-2l-12-8l4-14l17-7l23 2zM4776 13930l-39-2l-2-14l8-7M1770 15118l14 8l25 1l14-8l2-10l-16-10l-27 0zM4386 14043l-10-7l-38 1l-7 14l5 8l27 5l18-6zM1885 15077l-12 3zM4284 14082l-13 0zM1536 15166l29-8l28 5l3 6l-11 22l-27 1l-23-8zM4500 13939l10-12l25-1l22 5l4 14l-8 12l-42 1l-10-4zM1382 15233l38 2l4 5l-9 15M1509 15205l-3 13l-17 7l-23-2l-12-9l2-12l16-7l24 1zM4641 13904l-3 12l-16 7l-24-1l-13-9l4-13l17-7l22 2zM4712 13885l-38-2l-3-9l9-12M1704 15072l3 8l41 4l15-8l2-13l-12-9l-37-2zM4264 14003l6 12l32 6l16-4l9-18l-12-10l-43 1zM1835 15034l-14-10l-13 1l-9 10l3 6l19 2zM4195 14038l14 10l22-9l-11-10l-21 2zM1471 15129l9-12l38-1l13 9l-4 15l-17 7l-27-2l-12-9zM1553 15085l16-7l49 3l2 7l-13 26l-25 1l-29-6zM4362 13915l44 1l13 9l-9 24l-61-2zM4438 13895l10-12l24-1l21 5l4 13l-8 12l-26 2l-23-5zM1319 15188l37 3l4 7l-9 12M1391 15169l3-11l16-8l22 2l13 9l-3 12l-17 7l-21-2zM4577 13859l-3 12l-16 7l-23-2l-12-9l3-12l17-6l21 1zM4649 13840l-37-2l-4-6l9-14M1636 15039l61 0l8-22l-11-9l-45-3zM4200 13949l3 23l39 6l18-6l9-27l-53-4zM1730 14988l3 10l29 4l14-7l2-8l-11-10l-15-2l-19 6zM4126 13989l4 13l21 5l19-6l4-10l-3-6l-17-4l-23 2zM1466 15081l-3 14l-17 7l-25-2l-12-9l3-13l16-7l26 1zM1488 15050l9-14l10-2l34 2l13 8l-5 19l-18 7l-40-7zM4288 13894l12-23l41 1l12 9l-7 22l-46 0zM4433 13848l-3 13l-16 8l-26-2l-13-9l4-14l17-6l24 1zM1257 15144l35 2l4 7l-9 12M1329 15121l2-8l17-7l33 10l-3 12l-17 6l-19-1zM4461 13819l3-8l17-6l19 1l13 9l-3 11l-16 7l-29-5zM4585 13795l-36-2l-1-15l7-4M1661 14950l14 9l28 0l15-7l2-12l-12-9l-35-2zM4057 13948l5 12l30 5l18-6l6-15l-11-9l-31-2l-10 2zM1788 14909l-10-8l-13 1l-9 9l4 6l16 2zM3987 13983l11 8l22-7l-1-6l-18-4zM1505 14972l9-16l63 1l-12 35l-57-6zM4138 13893l8-29l7-4l45 1l13 9l-8 25zM1427 15005l6-10l13-4l29 1l13 9l-4 16l-18 7l-36-6zM4229 13840l10-12l37 0l13 9l0 8l-8 13l-41 0l-10-4zM1194 15100l34 2l2 14l-7 4M1268 15071l21-9l15 1l13 9l-3 11l-21 6l-22-5zM1402 15037l-3 13l-17 6l-23-2l-12-9l3-11l16-7l23 1zM4369 13804l-3 12l-16 7l-24-1l-12-9l3-13l17-6l22 1zM4399 13775l3-8l17-6l17 1l13 9l-2 9l-17 8l-28-5zM4521 13750l-34-2l-1-14l6-5M1593 14915l60 0l9-22l-12-9l-45-3l-9 13zM3990 13912l13 8l41 1l7-4l8-27l-63-3zM1685 14864l4 11l30 3l14-7l2-8l-11-10l-17-2l-12 2zM3916 13933l5 15l22 4l18-6l5-10l-3-6l-19-5zM1423 14957l-4 15l-9 5l-33-1l-12-9l3-13l16-7l26 1zM1444 14927l9-14l44-1l13 9l-11 24l-52-5zM4085 13821l18-6l39 5l3 16l-8 13l-46-1l-12-9zM4224 13793l-2 14l-16 7l-27-2l-13-9l5-14l16-7l24 2zM1132 15056l32 2l4 5l-8 12M1205 15033l2-8l16-7l26 4l1 15l-17 7l-16-1zM1285 14997l8-12l31-1l13 9l-3 11l-17 7l-28-5zM4252 13763l3-7l17-6l19 1l13 9l-2 11l-16 7l-31-5zM4339 13723l17-6l25 4l2 14l-17 7l-26-4zM4457 13705l-32-2l-4-6l9-12M1615 14828l14 8l31 1l15-8l3-13l-12-10l-39-2l-7 5zM3846 13893l5 13l34 5l17-6l7-16l-11-10l-35-2l-10 2zM1708 14787l14 11l22-3l6-9l-23-12l-10 1zM3773 13925l5 11l28 2l11-11l-12-10l-14-1zM1383 14881l19-14l29 2l13 9l-5 16l-14 6l-30-2l-12-9zM1462 14849l9-16l47-1l14 9l-6 21l-17 7l-44-7zM3932 13830l13-25l43 1l13 9l-2 19l-6 5l-60-3zM4020 13786l10-13l11-2l26 2l13 9l-3 15l-16 7l-39-5zM1069 15011l31 2l4 6l-8 11M1144 14981l17-7l23 4l4 6l-8 13l-11 2l-23-5zM1224 14947l7-6l24-2l14 4l4 9l-9 12l-25 1l-12-4zM1358 14913l-3 13l-17 7l-23-2l-12-9l3-12l16-7l23 1zM4160 13749l-3 12l-16 7l-24-1l-12-9l4-13l16-6l22 1zM4190 13720l9-13l11-1l17 1l13 9l-2 9l-16 8l-28-5zM4275 13687l8-13l11-2l26 9l-1 9l-17 7l-24-4zM4394 13660l-31-2l-4-6l8-11M1637 14740l3 13l38 4l15-8l2-11l-11-10l-37-2zM3702 13883l5 11l30 5l18-6l6-14l-13-10l-29-1l-15 6zM1729 14710l23 7l15-9l-10-10l-19-1zM3630 13916l5 9l12 3l21-10l-10-10l-15-1zM1484 14759l16-8l54 3l-11 37l-60-8zM3783 13828l15-34l46 1l13 9l-6 28zM1378 14834l-10 19l-34-1l-13-9l3-12l16-7l25 1zM1402 14802l18-14l31 1l14 9l-5 18l-17 6l-39-6zM3872 13783l6-16l14-6l40 5l4 12l-9 15l-10 2l-33-2zM4015 13738l-2 13l-16 7l-26-1l-13-9l4-14l17-6l23 1zM1007 14967l29 2l2 11l-6 5M1080 14943l5-9l13-4l22 4l4 6l-15 13l-21-2zM1161 14910l2-8l16-7l26 4l3 6l-8 14l-27 0zM1241 14874l9-13l30-1l13 9l-3 12l-17 6l-19-1zM4043 13712l4-11l16-6l19 1l13 9l-2 11l-16 7l-21-2zM4128 13676l9-13l35 3l2 14l-16 7l-26-4zM4213 13642l4-9l14-5l25 10l-7 12l-33-2zM4330 13615l-30-2l-2-11l7-5M1657 14661l4 13l25 4l20-3l8-16l-11-10l-24-3l-18 6zM3556 13872l6 12l29 4l18-6l6-13l-12-10l-40 1zM1748 14631l23 7l15-9l-10-10l-19-1zM3484 13905l15 12l22-9l-9-11l-14-1zM1398 14755l-3 14l-11 6l-32-1l-12-9l3-13l16-7l26 1zM1420 14724l9-13l42-1l14 9l-5 18l-17 7l-40-7zM3726 13773l6-17l16-6l39 5l4 13l-8 15l-11 2l-34-2zM3870 13728l-2 13l-17 8l-27-2l-12-10l4-13l17-7l24 2zM1018 14898l7-10l31 2l3 6l-7 11l-11 1zM1099 14865l3-9l13-5l17 1l12 8l-2 8l-16 7l-24-4zM1181 14824l17-9l27 5l3 8l-9 12l-25 1l-11-4zM1260 14795l2-8l17-7l21 1l13 9l-3 12l-17 7l-29-5zM3897 13702l3-11l17-7l20 1l13 9l-2 12l-16 7l-23-2zM3982 13665l9-12l27-1l13 9l-2 9l-16 7l-28-4zM4066 13632l4-9l12-5l29 9l-2 9l-15 6l-24-4zM4151 13597l7-11l11-2l23 10l-7 11l-31-2zM944 14923l28 2l2 10l-6 5M4266 13570l-28-2l-2-10l6-5M1676 14583l3 12l37 4l15-8l3-11l-11-10l-26-3l-18 6zM3410 13862l6 12l30 4l18-6l5-14l-10-9l-32-2l-10 2zM1767 14545l-1 7l13 8l23-2l6-9l-2-6l-20-6zM3335 13893l6 12l27 2l10-11l-10-10l-13-1zM1418 14676l-10 20l-37-1l-12-9l3-13l16-8l31 3zM1439 14645l9-13l43-1l13 9l-4 19l-17 6l-41-6zM3581 13755l11-14l50 3l4 13l-9 16l-54-4zM3725 13717l-3 14l-12 7l-32-2l-12-9l4-14l17-7l25 2zM1037 14820l7-11l11-2l24 9l-1 7l-17 7zM1118 14786l2-8l15-6l15 0l14 9l-9 14l-26 0zM1198 14751l9-13l28-1l13 9l-3 11l-16 6l-18-1zM1333 14711l-3 13l-17 6l-22-2l-12-9l2-11l17-7l22 1zM3751 13692l4-12l16-7l21 2l13 9l-2 12l-16 7l-24-2zM3836 13654l9-12l27-1l13 9l-2 10l-16 7l-19-1zM3920 13621l18-14l28 9l-2 9l-16 7l-15-1zM4005 13587l7-12l22-1l13 9l-13 13l-17 0zM882 14879l26 1l2 10l-6 5M995 14851l-7 10l-29-2l-3-6l17-11zM4128 13550l-7 9l-11 2l-21-9l7-10l11-2zM4202 13524l-26-1l-4-6l7-9M1693 14512l14 8l29 1l16-8l3-13l-10-10l-42-2zM3263 13851l7 14l32 4l17-6l7-16l-11-9l-45-1zM1782 14468l4 12l11 3l27-3l8-12l-23-12l-18 1zM3186 13884l6 12l23 4l21-13l-2-9l-18-5l-24 2zM1872 14437l18 7l14-8l-8-9l-17 0zM3112 13920l13 9l19-6l-1-7l-17-5zM1542 14522l16-7l52 3l-8 37l-62-8zM3355 13768l17-6l45 5l4 5l-5 30l-68-6zM1437 14597l-10 20l-37-1l-12-9l3-13l17-7l26 1zM1459 14565l9-12l42-1l13 9l-4 19l-17 6l-41-6zM3435 13752l6-16l15-7l40 5l4 13l-8 15l-11 2l-34-2zM3579 13707l-2 14l-16 7l-28-2l-12-9l4-14l17-7l24 2zM1015 14772l-8 11l-10 1l-22-9l7-10l10-2zM1056 14741l7-11l23-2l13 9l-8 12l-32-2zM1139 14699l16-6l15 0l13 9l-2 9l-17 7l-24-5zM1217 14674l3-10l16-7l19 1l13 9l-3 11l-17 7l-18-2zM1298 14637l9-13l32-1l13 9l-3 13l-17 6l-22-1zM3660 13673l-3 12l-16 7l-24-1l-12-9l4-12l17-7l21 1zM3690 13644l3-8l17-6l17 1l13 9l-2 10l-16 7l-20-1zM3774 13611l9-13l25-1l13 9l-2 9l-16 7l-15-1zM3859 13576l5-9l13-4l21 4l3 6l-14 13l-25-4zM3982 13539l-6 10l-29-1l-4-7l7-10l29 2zM819 14835l25 1l3 6l-6 8M931 14807l-7 9l-11 2l-19-10l17-10l17 3zM4063 13505l-6 9l-11 2l-20-9l18-11zM4138 13479l-25-1l-3-6l7-8M1709 14434l15 8l44-1l10-21l-11-10l-50-5zM3114 13850l28 10l27-2l14-22l-11-10l-53-3zM1797 14390l4 13l25 4l20-3l9-17l-10-9l-39-2zM1884 14357l5 9l29 3l15-14l-10-10l-30-1zM2958 13913l6 7l22 3l16-5l5-9l-10-10l-22-2l-10 2zM3036 13875l5 13l31 4l18-7l5-13l-11-9l-41-1zM1973 14324l17 8l18-8l-16-12l-12 1zM2882 13942l16 12l19-8l-1-6l-19-6zM2067 14285l11 3zM2810 13977l12 2zM1562 14444l37-7l25 4l4 6l-5 21l-17 7l-45-8zM3206 13769l5-11l17-6l32 2l14 9l-7 26l-51-2l-9-4zM1456 14518l-10 20l-36-1l-12-9l3-13l16-7l26 1zM1479 14487l9-12l23-3l27 5l3 6l-4 17l-17 7l-39-7zM3291 13734l11-13l10-2l28 2l13 8l-2 17l-16 7l-42-5zM3434 13696l-3 14l-16 7l-28-2l-12-9l4-14l17-6l24 2zM994 14696l7-10l10-2l23 9l-7 11l-11 2zM1075 14662l5-9l25-4l13 9l-1 8l-14 6l-20-2zM1156 14628l8-12l24-2l15 9l-3 9l-16 7l-16-1zM1238 14587l21-9l24 5l4 8l-9 13l-25 1l-13-4zM1317 14561l3-11l16-7l22 1l13 9l-3 13l-16 6l-23-1zM3460 13666l3-7l17-6l21 1l13 9l-2 12l-17 7l-31-5zM3544 13636l3-10l17-7l31 10l-2 10l-17 8l-28-5zM3629 13600l8-12l34 2l3 14l-17 7l-25-4zM3713 13566l8-12l22-1l13 9l-3 9l-12 5l-25-4zM3797 13531l7-10l11-2l22 10l-7 10l-28-1zM756 14790l24 2l3 8l-6 5M867 14763l-18 10l-14-4l-3-8l22-7zM950 14728l-17 11l-20-9l17-11l17 3zM3918 13495l-17 11l-17-4l-3-6l7-9l27 2zM3999 13464l-22 7l-13-9l7-8l25 1zM4075 13434l-24-1l-3-8l6-5M1818 14292l-7 29l4 5l44 4l16-7l2-23zM2890 13846l0 34l41 4l20-13l1-17zM1898 14278l4 12l37 4l16-8l4-12l-8-9l-33-5l-17 7zM1983 14242l5 12l18 4l22-3l10-12l-10-12l-36-2zM2069 14206l5 13l12 3l23-3l8-11l-10-10l-19-3zM2647 13971l14 10l29-4l6-10l-10-10l-21-2l-11 2zM2726 13934l6 11l28 4l17-7l5-10l-11-10l-37-1zM2806 13898l5 14l34 4l17-6l6-15l-11-9l-43-1zM2154 14177l25 9l16-8l1-8l-24-8l-17 7zM2239 14136l5 12l16 2l16-7l-8-12l-13-2zM2323 14103l5 10l12 2l18-7l-9-11l-20 0zM2406 14068l5 11l12 2l17-7l-1-7l-17-6zM2487 14033l5 12l12 2l20-8l0-7l-21-6zM2568 13998l-1 9l17 7l17-2l9-9l-11-11zM1664 14330l16-7l47 4l-4 36l-62-8zM2982 13782l17-7l44 5l4 13l-5 22l-65-7zM1474 14439l-3 14l-17 7l-24-2l-12-9l3-13l16-7l24 2zM1498 14415l4-14l16-7l30 2l11 8l-9 22l-40-2zM1579 14375l10-14l42-1l13 9l-10 24l-52-5zM3062 13758l11-14l11-2l29 2l14 9l-3 18l-16 7l-44-6zM3147 13723l10-12l24-2l22 5l4 14l-9 12l-27 2l-22-5zM3287 13686l-2 14l-16 7l-26-2l-12-9l3-14l17-6l23 1zM1013 14617l7-10l11-2l23 9l-6 10l-12 3l-20-4zM1094 14583l5-9l13-4l26 9l-2 8l-13 6l-21-2zM1175 14550l2-8l16-7l29 9l-2 9l-17 7l-15-1zM1256 14514l2-7l17-7l18 1l13 8l-3 11l-16 7l-27-5zM1337 14479l9-12l31-1l13 8l-3 13l-17 6l-21-1zM3315 13656l10-12l10-2l20 2l13 9l-2 11l-17 7l-31-5zM3399 13623l9-12l28-1l13 9l-2 10l-17 7l-19-1zM3483 13590l3-8l16-6l27 9l-1 9l-16 7l-17-1zM3567 13556l8-12l32 2l3 6l-7 12l-24 1zM3651 13521l8-11l29 2l4 6l-6 10l-12 3l-20-4zM694 14746l22 1l3 7l-6 6M803 14719l-18 9l-16-10l6-7l15-1zM886 14684l-17 10l-15-4l-3-8l22-7zM970 14649l-7 10l-11 1l-20-9l17-11zM3773 13484l-7 10l-28-2l-3-6l7-9l11-2zM3854 13451l-17 10l-19-10l18-10zM3935 13417l-16 9l-17-10l6-7l14-1zM4011 13389l-23-1l-2-7l6-5M2080 14138l4 6l41 3l16-7l5-15l-11-10l-48-4zM2164 14103l4 6l25 4l24-3l10-20l-10-9l-45-2zM2414 13982l2 24l46 2l12-12l-1-14l-43-7zM2493 13966l15 9l29 1l16-7l6-16l-10-10l-50-3zM2247 14069l15 8l36-1l11-21l-10-8l-44-2zM2332 14016l-2 18l12 8l39-1l10-11l-1-13l-42-8zM1765 14219l7-7l55 3l4 6l-9 27l-58-7zM2750 13817l11-16l39 0l18 9l-7 27l-60-6zM1577 14326l-10 20l-36-1l-12-9l3-13l16-7l25 1zM1600 14295l10-12l37-1l14 9l-3 16l-17 7l-38-6zM1681 14261l10-13l41-1l14 9l-4 19l-17 6l-42-6zM2833 13790l12-22l40 0l14 9l-3 18l-16 7l-35-3zM2919 13746l10-11l24-2l22 5l4 14l-8 13l-29 1l-21-5zM3060 13710l-3 14l-16 7l-27-2l-12-9l4-14l17-7l24 2zM1073 14535l-6 10l-12 3l-19-4l-3-6l7-10l10-2zM1115 14498l17-7l16 2l9 8l-8 12l-32-3zM1195 14471l3-9l14-6l25 4l4 6l-2 8l-17 7l-15-1zM1276 14436l2-8l16-7l27 4l4 6l-9 15l-28 0zM1358 14395l23-9l24 4l4 6l-9 16l-17 2l-23-5zM1438 14365l9-12l32-1l14 9l-3 13l-17 7l-32-6zM3141 13676l-3 13l-16 7l-24-2l-12-9l3-12l17-7l22 1zM3170 13647l9-13l11-2l32 10l-2 11l-17 7l-21-1zM3254 13613l9-12l27-1l13 9l-2 9l-17 7l-27-4zM3338 13580l8-13l11-2l27 10l-2 8l-16 7l-25-4zM3422 13545l5-9l13-4l21 4l4 6l-15 13l-25-4zM3546 13508l-7 10l-29-1l-4-7l7-10l11-2zM631 14702l21 1l3 6l-6 6M738 14674l-6 7l-13 1l-12-10l19-7zM822 14640l-17 9l-17-10l7-7l14-1zM906 14605l-18 10l-18-9l17-10zM989 14570l-7 10l-11 1l-20-9l7-9l11-2zM3627 13474l-17 11l-21-9l7-10l28 2zM3708 13440l-6 9l-26-2l-3-6l17-10zM3790 13406l-6 8l-11 1l-17-9l18-9zM3871 13373l-16 8l-15-11l18-6zM3947 13344l-21-1l-3-6l6-6M2033 14036l16-7l43 5l1 26l-17 7l-46-7zM2114 14003l17-8l44 4l-3 33l-60-6zM2197 13967l17-7l44 5l3 13l-6 21l-61-8zM2276 13940l10-12l10-2l34 2l14 8l-8 28l-51-3l-11-10zM2359 13906l10-12l10-2l33 2l13 8l-3 21l-16 7l-46-7zM1678 14213l-3 14l-10 6l-32-1l-12-9l3-13l16-7l25 1zM1702 14189l4-14l16-7l31 3l9 7l-9 21l-39-1zM1784 14147l10-12l24-2l24 5l4 13l-10 15l-24 1l-26-6zM1865 14114l10-14l9-1l31 1l14 9l-3 18l-17 7l-42-7zM1947 14080l10-14l42-1l14 9l-4 20l-16 6l-44-7zM2441 13875l10-15l11-2l31 2l14 9l-3 19l-16 7l-45-7zM2525 13838l10-12l49 3l4 16l-8 13l-32 1l-22-5zM2608 13804l10-11l24-2l23 5l4 14l-8 13l-29 1l-22-5zM2692 13771l9-12l11-2l25 2l13 8l-2 16l-16 6l-38-5zM2832 13734l-3 14l-16 7l-27-2l-12-10l4-13l17-7l23 2zM1092 14457l-18 12l-19-4l-3-6l7-10l30 2zM1133 14425l8-11l31 2l4 6l-5 9l-14 4zM1216 14384l17-7l23 4l1 14l-16 7l-23-5zM1296 14357l8-12l26-2l13 9l-2 9l-17 7l-16-1zM1379 14315l17-7l18 1l13 8l-3 11l-16 7l-28-5zM1458 14287l9-12l30-1l14 9l-3 11l-17 7l-29-5zM1594 14248l-3 13l-16 7l-24-2l-12-10l3-11l17-7l22 1zM2913 13700l-3 13l-16 7l-24-2l-12-9l3-13l17-6l22 1zM2942 13670l9-12l30-1l13 9l-2 12l-16 7l-22-2zM3025 13639l10-15l24-1l16 9l-2 11l-16 7l-28-5zM3111 13596l17-7l25 4l2 15l-17 7l-26-5zM3193 13569l8-12l11-2l25 9l-1 9l-16 7l-24-5zM3278 13528l28-6l13 9l-8 12l-10 2l-21-5zM3400 13497l-7 11l-30-2l-3-6l18-12zM568 14657l20 2l3 6l-5 5M674 14630l-17 7l-12-9l17-7zM758 14595l-17 9l-15-11l17-7zM841 14561l-17 9l-13-4l-3-7l20-7zM925 14526l-18 10l-18-9l17-10zM1008 14491l-7 10l-27-2l-3-6l6-9l11-2zM3481 13464l-6 9l-28-2l-3-6l17-11l17 4zM3563 13430l-17 10l-19-10l7-8l11-1zM3644 13396l-6 7l-15 2l-12-11l20-7zM3726 13362l-6 7l-13 1l-13-10l19-7zM3807 13328l-16 8l-14-10l17-7zM3883 13299l-19-1l-3-6l5-5M1862 14066l-9 19l-36-1l-12-9l3-12l17-7l24 1zM1945 14031l-3 15l-17 7l-26-3l-12-9l3-13l17-7l25 2zM2028 13997l-3 15l-17 7l-27-3l-12-9l4-13l16-7l25 1zM2110 13962l-8 21l-39-1l-12-9l4-14l16-7l26 2zM2193 13928l-9 21l-39-1l-12-9l4-14l17-7l25 2zM2275 13894l-3 15l-15 7l-29-2l-12-10l4-13l16-7l26 1zM2357 13860l-3 15l-16 7l-28-3l-12-9l4-14l17-6l25 1zM2439 13826l-3 14l-16 7l-27-2l-12-9l4-14l17-6l24 1zM2521 13792l-3 14l-9 5l-33-1l-12-9l4-13l16-6l24 1zM1153 14346l7-10l11-2l23 9l-7 11l-31-2zM1236 14306l16-7l26 9l-8 13l-32-3zM1316 14278l3-8l14-6l25 4l2 14l-17 7l-24-5zM1397 14244l9-13l35 2l4 6l-2 9l-17 7l-16-1zM1479 14209l2-8l17-7l30 10l-2 11l-17 6l-18-1zM1560 14174l9-12l30-1l13 9l-3 11l-16 7l-29-5zM1642 14139l9-12l31-1l13 9l-2 12l-17 7l-31-5zM1723 14109l3-12l17-7l36 10l-3 14l-17 6l-24-2zM2603 13758l-3 13l-16 7l-25-2l-12-9l4-12l16-7l22 1zM2631 13728l9-12l31-1l13 9l-2 12l-17 7l-31-5zM2714 13694l9-12l30-1l13 9l-3 11l-16 7l-21-1zM2797 13663l3-10l17-7l30 10l-2 10l-16 7l-19-1zM2883 13619l17-6l25 4l2 15l-17 7l-26-5zM2965 13593l3-8l13-6l29 9l-2 9l-16 7l-15-1zM3048 13559l5-10l13-4l22 4l3 6l-7 12l-11 2zM3132 13524l7-11l30 2l4 6l-8 11l-30-2zM506 14613l18 1l-2 11M610 14585l-16 7l-11-9l16-6zM694 14551l-18 7l-12-9l17-7zM777 14517l-17 8l-14-11l18-6zM860 14484l-20 7l-13-9l6-7l15-2zM944 14447l-7 8l-16 2l-12-12l22-7zM1027 14413l-7 9l-27-2l-3-6l17-11l17 4zM1111 14378l-18 12l-18-4l-3-6l7-10l28 2zM3254 13487l-7 10l-29-2l-3-6l7-9l11-2zM3335 13453l-6 9l-11 2l-20-9l7-9l11-2zM3417 13420l-6 8l-26-2l-3-6l17-10zM3498 13386l-16 9l-17-10l7-7l14-1zM3580 13352l-19 8l-10-3l-2-7l18-7zM3662 13318l-18 7l-12-9l17-7zM3743 13283l-16 7l-12-8l17-7zM3820 13254l-19-1l3-10M1209 14259l3 11l-7 5l-29-2M1293 14224l2 12l-6 5l-31-2M1376 14190l4 5l-8 12l-33-2M1459 14155l4 6l-8 13l-34-3M1542 14121l3 13l-7 6l-35-3M1626 14086l2 13l-7 7l-37-3M1709 14051l4 6l-9 15l-38-3M1792 14017l3 13l-8 8l-39-3M1874 13983l4 12l-8 9l-40-3M1957 13948l4 10l-9 12l-40-3M2040 13914l4 10l-9 12l-41-3M2122 13880l4 12l-8 10l-41-4M2205 13845l4 10l-9 12l-41-3M2287 13811l4 10l-9 12l-40-3M2369 13777l4 9l-9 13l-39-4M2451 13743l3 13l-8 8l-39-3M2533 13709l3 13l-8 7l-38-2M2615 13675l2 13l-7 7l-36-3M2696 13641l3 13l-7 6l-35-3M2778 13607l4 6l-8 12l-34-2M2860 13573l2 13l-6 5l-33-3M2941 13539l4 6l-7 11l-32-2M3023 13505l3 6l-6 10l-30-2M461 14570l-3 10M544 14535l-3 11l-19-2M627 14501l3 5l-6 6l-20-2M710 14466l3 7l-6 5l-21-2M793 14432l3 7l-6 5l-22-2M876 14397l3 8l-6 5l-23-2M959 14363l4 5l-7 8l-25-2M1043 14328l3 6l-7 9l-26-3M1126 14294l2 10l-6 5l-27-2M3104 13471l4 6l-7 9l-28-2M3186 13437l3 10l-6 5l-27-2M3268 13404l3 5l-6 8l-25-2M3349 13370l4 5l-6 7l-24-1M3431 13336l3 6l-6 6l-22-2M3513 13302l3 6l-6 5l-21-1M3595 13268l-3 10l-20-1M3677 13234l-3 10l-19-2M3756 13209l-18-1"/></g><defs><clipPath id="s2"><path transform="scale(.1)" d="M3742 9333l-10 0l-14 24l-25 105l-30-85l-15 0l-15 31l-21 94l-30-84l-15 0l-17 32l-22 95l-30-83l-13-2l-17 32l-21 96l-30-83l-15-2l-17 32l-22 97l-30-84l-13-1l-17 31l-21 99l-29-82l-16-3l-15 26l-24 102l-30-83l-13-2l-17 32l-21 98l-30-83l-15-2l-14 25l-25 105l-28-83l-15-2l-17 30l-21 100l-19-62l-18-25l-8 0l-10 15l-29 115l-28-83l-15-2l-17 30l-21 100l-19-61l-18-25l-8 0l-10 15l-29 113l-26-80l-17-5l-17 30l-21 100l-30-85l-15-2l-15 30l-24 97l-28-83l-15-4l-17 30l-21 100l-30-85l-14-3l-16 28l-24 97l-16-60l-19-27l-8 0l-15 24l-23 103l-30-85l-14-5l-16 30l-24 95l-28-85l-15-3l-17 28l-21 97l-30-87l-14-5l-16 30l-22 95l-30-87l-15-5l-17 29l-21 96l-30-90l-14-3l-16 28l-22 95l-30-90l-15-5l-13 24l-25 100l-27-87l-17-8l-16 30l-22 91l-30-90l-15-3l-10 13l-28 107l-29-90l-15-5l-16 30l-20 90l-32-90l-15-3l-17 31l-21 87l-20-73l-10-19l-14-3l-16 30l-22 90l-30-92l-15-3l-15 28l-22 90l-31-91l-14-4l-16 30l-20 90l-32-91l-15-4l-15 29l-22 90l-30-92l-15-3l-16 30l-20 90l-22-72l-20-25l-18 27l-24 93l-15-60l-13-28l-12-7l-20 25l-23 95l-30-92l-13-3l-17 30l-22 88l-15-58l-15-32l-10-3l-20 27l-23 93l-15-60l-13-28l-12-7l-18 27l-24 91l-28-85l-10-6l-12 6l-33 115l-20-71l-13-22l-10 0l-17 32l-27 113l-23 257l17-89l16-180l30 324l40-220l24 271l13-90l7 7l13-85l5 12l5-25l20 235l13-90l7 6l13-85l5 12l4-23l21 233l14-90l5 12l15-90l5 11l6-23l17 232l15-87l7 7l13-85l5 11l5-30l18 239l15-89l7 7l22-100l20 235l15-87l6 7l24-103l18 238l15-85l7 7l11-82l5 12l7-32l18 233l15-83l7 7l12-80l5 11l6-31l19 231l16-83l4 13l13-83l5 12l5-25l20 220l33-150l5 11l5-23l20 215l12-73l5-4l2 12l16-82l4 14l6-27l19 213l11-73l5-2l2 12l13-75l5-2l2 12l7-32l18 214l12-74l6 12l14-75l6 12l9-30l15 206l13-75l7 15l13-73l7 15l6-32l17 200l13-75l7 19l13-74l7 17l7-38l16 201l14-75l6 22l12-67l7 12l8-40l17 197l11-67l5-5l4 20l11-72l7 20l8-40l17 190l12-66l5-4l3 20l12-68l6 20l9-40l16 183l12-65l5-3l3 22l10-62l5-5l4 20l8-40l17 178l11-66l7 20l12-65l8 21l8-40l17 172l12-65l6 20l12-65l8 25l9-42l16 169l10-64l5-1l4 20l11-65l9 26l11-38l14 162l10-64l5-1l3 21l12-66l8 28l10-43l15 163l10-67l8 24l12-67l8 28l10-43l14 162l11-67l9 23l11-65l9 29l8-50l15 166l12-66l8 23l12-65l6 27l10-49l15 167l12-67l8 22l10-58l5-2l4 22l10-50l15 168l11-67l9 22l10-63l8 23l10-45l15 165l12-67l8 20l10-63l8 22l10-42l15 165l12-67l5-1l3 20l10-67l9 23l8-41l17 168l11-67l7 17l12-67l8 22l8-42l17 174l12-74l6 20l14-68l10 28l8-21l13 150l12-75l7 20l15-62l8 62l8-22l14 112l6-50l10 43l12-47l8 29l10-27l14 100l8-20l12 87l11-32l7 58l15-56l10 20l5-9l15 114l3-14l5 4l10 88l12-38l8 51l20-68l24 168l8-15l12 97l11-38l7 21l18-50l27 207l8-13l10 85l15-39l5-41l12-20l32 283l13-25l7 57l15-34l11-75l37 362l15-32l7-51l16-49l24 259l6 6l14 152l15-23l20-100l28 345l10-9l10-66l7 0l10-39l46 549l39-510l16 75l9 10l10-74l8-5l25-273l7 5l16 112l15 25l34-404l15 94l15 35l10-85l10 5l21-264l22 69l5-10l13 41l34-305l30 100l13-90l7 12l20-207l23 84l8-49l12 32l27-213l16 45l7-29l13 44l10-90l9 10l15-127l10 30l6-25l12 52l8-67l12 27l15-124l5 5l8-33l15 53l9-51l11 33l12-92l7 14l10-75l15 50l8-50l12 43l10-72l8 19l12-90l13 45l10-45l10 41l8-63l12 18l10-78l13 38l10-45l10 42l7-15l8 45l10-77l10 34l10-65l9 28l11-53l9 20l5-25l20 110l10-70l8 26l10-60l5-5l5 27l12-62l6 29l4-24l5 2l16 108l10-76l10 31l10-65l9 27l13-65l7 30l3-23l5 3l17 107l8-77l10 33l12-70l8 29l12-67l6 28l7-23l18 115l10-77l10 30l10-70l9 29l13-70l7 28l6-23l17 120l10-77l10 28l12-71l8 26l12-68l6 25l7-22l18 124l10-79l9 29l11-72l9 23l13-73l7 27l6-15l17 123l10-78l10 26l12-71l8 20l12-74l6 24l2-14l5 7l18 122l10-77l9 23l11-71l9 18l13-75l7 20l5-13l18 136l10-78l5-5l5 27l12-72l6 15l15-78l5 20l5-9l20 140l10-78l9 18l13-78l7 18l15-75l3 15l5-15l20 154l12-89l8 27l33-147l9 17l21 150l10-78l5-5l4 18l13-82l7 17l15-78l6 8l22 157l12-94l8 27l12-80l6 13l15-83l9 17l21 156l12-86l8 13l12-77l8 7l14-78l28 178l12-97l8 27l12-80l5-3l1 11l17-86l28 183l14-92l6 15l34-155l28 189l12-99l10 20l13-81l5 6l15-83l28 193l10-98l10 18l34-160l28 197l12-98l10 16l11-83l7 7l15-85l27 200l11-99l10 17l34-165l28 203l12-98l6 22l37-172l27 205l11-98l10 16l34-166l28 206l12-96l6 18l15-90l5 12l14-125l30 240l11-99l9 20l23-245l40 284l-25-305l-40-110l-17 1l-18 42l-13-53l-15-27l-17 2l-20 40l-10-47l-17-33l-16 3l-17 45l-15-57l-15-26l-8-4l-12 12l-13 38l-30-83l-9-2l-11 12l-14 38l-30-83l-20 10l-13 37l-28-82l-17 3l-18 42l-29-80l-16 3l-19 42l-13-52l-15-26l-17 3l-18 40l-13-52l-15-26l-17 3l-17 42l-30-80l-21 11l-12 34l-30-79l-17 4l-16 40l-30-79l-17 4l-15 40l-32-80l-20 11l-11 32l-32-80l-15 5l-17 37l-31-79l-15 4l-17 36l-30-80l-17 5l-15 35l-31-80l-17 5l-15 34l-32-80l-16 5l-15 31l-32-78l-17 3l-15 30l-31-78l-15 2l-17 30l-32-79l-16 4l-14 30l-33-82l-17 3l-13 29l-33-80l-15 1l-15 29l-19-54l-20-28l-10 3l-15 29l-33-84l-13 2l-17 28l-32-81l-15 0l-16 28l-32-82l-15 0l-17 29l-30-82l-16-2l-15 29l-34-84l-15 0l-16 29l-32-84l-15 0l-17 29l-31-82l-15-2l-15 32l-34-85l-16 0l-14 32l-33-87l-17 0l-13 32l-33-87l-14 0l-18 32l-32-85l-13-2l-18 33l-32-85l-13-1l-19 33l-30-85l-15-2l-18 35l-30-86l-15 0l-18 33l-20-65z"/></clipPath></defs><g clip-path="url(#s2)"><g transform="scale(.1)" opacity=".999"><path fill="#422ec0" fill-rule="evenodd" d="M435 9325l0 5455l10 10l5835 0l10-10l0-5455l-10-10l-5835 0z"/><path fill="#4332cb" fill-rule="evenodd" d="M435 9325l0 5455l10 10l1835 0l5-15l870-80l305 0l770 80l5 15l2045 0l10-10l0-5455l-10-10l-5835 0z"/><path fill="#4537d5" fill-rule="evenodd" d="M435 9325l0 5455l10 10l1835 0l5-15l865-75l210-40l80 0l480 85l310 30l5 15l2045 0l10-10l0-5455l-10-10l-5835 0z"/><path fill="#463cde" fill-rule="evenodd" d="M435 9325l0 5455l10 10l1630 0l5-15l370-80l355-95l290-25l255 0l40-25l515 0l615 120l400 105l5 15l1355 0l10-10l0-5455l-10-10l-5835 0z"/><path fill="#4741e5" fill-rule="evenodd" d="M435 9325l0 5455l10 10l1630 0l5-15l370-80l330-90l440-40l160-45l385 0l755 150l400 105l5 15l1355 0l10-10l0-5455l-10-10l-5835 0z"/><path fill="#4747eb" fill-rule="evenodd" d="M435 9325l0 5455l10 10l1630 0l5-15l695-165l265-85l180-85l145 10l25-20l105 0l295 100l730 140l400 105l5 15l1355 0l10-10l0-5455l-10-10l-5835 0z"/><path fill="#484df0" fill-rule="evenodd" d="M435 9325l0 5455l10 10l1630 0l5-15l370-80l405-110l245-85l125-60l70-55l80 5l25-15l25 5l75 55l250 85l770 150l400 105l5 15l1355 0l10-10l0-5455l-10-10l-5835 0z"/><path fill="#4852f4" fill-rule="evenodd" d="M435 9325l0 5455l10 10l955 0l20-20l750-220l1145-225l30 20l25 0l25-20l45 25l810 270l270 50l400 105l5 15l1355 0l10-10l0-5455l-10-10l-5835 0z"/><path fill="#4758f8" fill-rule="evenodd" d="M435 9325l0 5455l10 10l955 0l20-20l760-220l620-195l350-40l140-25l30-20l25 10l50-10l125 50l415 110l590 245l395 100l5 15l1355 0l10-10l0-5455l-10-10l-5835 0z"/><path fill="#465efb" fill-rule="evenodd" d="M435 9325l0 5455l10 10l955 0l20-20l760-220l585-180l235-85l270-40l45-45l35 15l35-5l45 25l35-40l50 5l85 65l340 170l560 230l420 110l5 15l1355 0l10-10l0-5455l-10-10l-5835 0z"/><path fill="#4563fd" fill-rule="evenodd" d="M435 9325l0 5455l10 10l955 0l20-20l1435-430l165-60l175-90l75 0l45-40l40 5l25-10l30 30l15 0l40-45l25 20l25-10l155 0l1160 145l820 180l585 165l55 45l0-5350l-10-10l-5835 0z"/><path fill="#4269fe" fill-rule="evenodd" d="M435 9325l0 5430l1820-515l485-150l270-30l200 0l35 25l0 25l20 15l40-20l45 15l35-25l40 30l45-55l30 10l80-5l100 20l575 55l560 135l835 180l585 165l55 45l0-5350l-10-10l-5835 0z"/><path fill="#3e6fff" fill-rule="evenodd" d="M435 9325l0 5430l1820-515l505-155l325-30l125-35l25 5l30 40l40-15l25 20l20 0l25-25l50 20l45-55l25 15l35-10l265 0l485 145l1370 305l585 165l55 45l0-5350l-10-10l-5835 0z"/><path fill="#3875fe" fill-rule="evenodd" d="M435 9325l0 5430l1820-515l500-150l120-50l195-30l155-50l120 65l40-30l40 5l105-50l175 35l575 175l1370 305l585 165l55 45l0-5350l-10-10l-5835 0z"/><path fill="#327cfc" fill-rule="evenodd" d="M435 9325l0 5430l2320-665l235-105l180-35l60-45l75 25l20 40l20 10l40-50l110 0l40-35l30 5l40 35l105 55l455 140l650 155l835 180l585 165l55 45l0-5350l-10-10l-5835 0z"/><path fill="#2f81fa" fill-rule="evenodd" d="M435 9325l0 5430l2320-665l130-50l220-125l80-25l40-35l35 15l35-5l55 35l90-25l45 15l50-55l15 15l10 45l30 30l120 65l570 170l1370 305l585 165l55 45l0-5350l-10-10l-5835 0z"/><path fill="#2e87f7" fill-rule="evenodd" d="M435 9325l0 5325l365-275l1620-490l585-70l125-35l35 20l10 45l45-20l30 10l55-10l25 25l80 5l35-25l45 15l25-55l25-15l35 30l30 0l180 65l595 145l1255 450l600 165l55 45l0-5350l-10-10l-5835 0z"/><path fill="#2d8cf3" fill-rule="evenodd" d="M435 9325l0 5325l365-275l1635-490l230-80l335-35l150-40l45 55l40 0l25 15l25-20l25 0l30 30l35-10l30 15l35-35l45 10l45-55l45 15l30-20l85 25l95 10l490 210l510 190l850 300l600 165l55 45l0-5350l-10-10l-5835 0z"/><path fill="#2b91ef" fill-rule="evenodd" d="M435 9325l0 5325l365-275l1635-490l465-165l255-45l45 55l25 0l35 25l50-15l100 20l25-25l50 10l45-55l35 5l45-40l20 0l65 60l105 60l600 250l1235 440l600 165l55 45l0-5350l-10-10l-5835 0z"/><path fill="#2797eb" fill-rule="evenodd" d="M435 9325l0 5325l325-250l70-35l1605-480l475-165l115-60l130-30l65 40l40 40l30-15l40 10l40-15l35 30l40-45l45 5l35-30l40 10l50-55l55-5l80 25l540 75l1330 390l670 585l0-5350l-10-10l-5835 0z"/><path fill="#259be8" fill-rule="evenodd" d="M435 9325l0 5325l790-610l1265-410l580-100l25 40l-10 30l10 10l55-25l40 30l30-10l35 30l30 0l35 30l40-35l35 15l40-20l45 15l30-35l50 15l45-70l355 45l315 105l1345 390l670 585l0-5350l-10-10l-5835 0z"/><path fill="#23a0e5" fill-rule="evenodd" d="M435 9325l0 5325l790-610l1155-370l475-170l200 0l20-10l20 15l15 55l25-20l50 30l35-15l95 50l50-30l35 15l40-5l25 15l50-40l40 20l45-70l35 20l40-10l200 40l400 140l1345 390l670 585l0-5350l-10-10l-5835 0z"/><path fill="#20a5e3" fill-rule="evenodd" d="M435 9325l0 5325l790-610l1155-370l475-170l125-15l100-35l40 50l25 0l30 25l45-15l65 25l25 25l120-35l40 35l40-45l45 15l40-65l45 20l50-50l50 55l215 105l320 105l1345 390l670 585l0-5350l-10-10l-5835 0z"/><path fill="#1ca9df" fill-rule="evenodd" d="M435 9325l0 5325l790-610l1320-425l305-110l150-90l75-10l105 80l25-10l35 15l45-10l40 30l20-15l55 5l25-20l50 25l35-45l35 15l45-50l40 10l50-60l40 25l90 0l115 20l385 100l1180 460l55 35l745 660l0-5350l-10-10l-5835 0z"/><path fill="#18addb" fill-rule="evenodd" d="M435 9325l0 5325l780-605l170-150l910-370l685-210l40 55l50-10l70 40l30 35l35 5l35 25l35-25l20 0l25 20l35-5l25 15l45-40l45 25l40-45l35 10l35-35l50 10l50-65l35 25l215 70l380 95l1180 460l55 35l745 660l0-5350l-10-10l-5835 0z"/><path fill="#12b1d6" fill-rule="evenodd" d="M435 9325l0 5325l780-605l170-150l895-360l335-160l375-100l20 15l15 40l50-5l30 20l40 0l90 65l50-25l30 20l35-10l35 25l40-45l40 15l25-20l45 5l40-30l50 15l35-65l45 10l50-60l20 0l40 35l450 225l1255 490l770 680l0-5350l-10-10l-5835 0z"/><path fill="#08b5d0" fill-rule="evenodd" d="M435 9325l0 5325l780-605l170-150l895-360l345-160l255-140l80 0l40-15l35 45l25 5l35 35l45-5l30 20l30-5l40 35l30-20l45 20l35-25l30 30l15 0l30-25l40 5l25-15l50 15l30-45l20 0l25 20l45-70l45 15l40-50l45 10l55 70l45 35l375 185l1255 490l770 680l0-5350l-10-10l-5835 0z"/><path fill="#01b8ca" fill-rule="evenodd" d="M435 9325l0 5325l780-605l660-580l570-235l410-120l65-5l20 20l-5 65l65-25l40 45l30 5l30 30l30-10l35 30l35-15l30 25l50 5l20 25l15 0l25-35l35 15l35-10l45 10l35-30l45 20l35-45l40 20l45-55l50 10l20-55l20-15l25 10l45-15l85 5l380 180l940 390l405 390l665 580l0-5350l-10-10l-5835 0z"/><path fill="#02bac3" fill-rule="evenodd" d="M435 9325l0 5325l780-605l660-580l570-235l130-30l340-110l25 20l0 25l15 15l35-5l45 30l85 25l35 35l40-20l35 25l35-5l40 35l30-35l120 25l40-45l20 15l25 0l30-30l40 15l35-40l45 10l50-65l45 10l35-35l40 0l60 50l135 70l1165 490l405 390l665 580l0-5350l-10-10l-5835 0z"/><path fill="#0bbdbd" fill-rule="evenodd" d="M435 9325l0 5325l780-605l480-430l190-155l570-230l280-145l170-25l45 45l30 0l35 30l35 5l35 25l35-5l35 35l45-15l25 20l40-10l30 30l40-15l50 10l25-15l45 15l35-40l45 25l35-30l45 5l25-35l50 15l35-50l50 0l50-65l95 105l135 70l1175 495l395 385l665 580l0-5350l-10-10l-5835 0z"/><path fill="#19bfb6" fill-rule="evenodd" d="M435 9325l0 5325l780-605l480-430l190-155l570-230l375-205l90-5l25 30l40 5l25 30l40 0l30 25l35 0l40 30l30-10l40 30l30-25l75 10l40 30l40-45l45 25l30-30l30 20l15 0l30-30l35 20l50-45l35 20l35-65l45 20l65-65l30 15l120-5l95 25l820 335l735 725l665 580l0-5350l-10-10l-5835 0z"/><path fill="#24c1ae" fill-rule="evenodd" d="M435 9325l0 5325l780-605l1020-905l385-180l135-20l55-20l25 0l25 20l10 50l45-20l30 30l40 5l35 30l20-5l40 35l45-5l30 20l30-10l35 30l35-15l30 15l45-15l40 25l35-35l35 20l40-15l45 20l35-30l45 10l30-40l40 15l45-55l35 20l15-5l35-60l50 10l20-55l20-15l55 65l85 60l100 50l755 300l735 725l665 580l0-5350l-10-10l-5835 0z"/><path fill="#2cc4a7" fill-rule="evenodd" d="M435 9325l0 5325l780-605l1020-905l385-180l205-75l25 5l35 40l20 0l110 60l25 0l40 30l30-10l30 20l45-5l30 25l45-5l25 15l40-25l35 25l40-20l35 15l45-15l40 20l25-30l50 0l40-35l35 15l35-40l50 10l40-55l50 5l20-50l35-15l20 25l65 10l870 435l770 760l665 580l0-5350l-10-10l-5835 0z"/><path fill="#31c69f" fill-rule="evenodd" d="M435 9325l0 5325l780-605l1000-890l410-195l120-90l100-20l85 70l80 35l35 0l30 25l35-5l30 25l35-15l30 15l50-5l20 20l20 0l25-20l40 20l35-15l40 25l35-30l40 20l40-30l40 10l40-35l40 10l30-40l45 20l50-60l40 10l45-65l45 10l35-40l35 0l790 450l755 760l750 660l0-5350l-10-10l-5835 0z"/><path fill="#37c897" fill-rule="evenodd" d="M435 9325l0 5325l780-605l1005-890l290-295l110-70l130-20l25 15l15 40l45-10l95 75l70 30l35-5l40 30l40-10l25 20l35-15l30 20l50-10l20 20l50-10l25 15l35-15l50 15l25-25l20 0l30 25l35-30l40 15l40-40l40 15l35-45l50 20l30-50l55 5l30-50l55 0l45-55l85 85l735 410l755 760l750 660l0-5350l-10-10l-5835 0z"/><path fill="#3fca8e" fill-rule="evenodd" d="M435 9325l0 5325l780-605l1005-890l290-295l100-70l100-45l35 0l235 140l50-10l35 25l105 0l25 25l50-20l35 30l35-15l40 25l30-30l45 15l40-20l35 15l35-25l40 25l35-40l40 10l40-40l40 15l45-40l40 10l40-60l45 10l25-45l30-15l45 25l155 150l625 350l755 760l750 660l0-5350l-10-10l-5835 0z"/><path fill="#4acb84" fill-rule="evenodd" d="M435 9325l0 5325l780-605l1005-890l290-295l100-70l130-65l235 140l40-20l20 0l25 20l80 0l25-15l30 25l45-15l25 20l50-15l40 20l25-25l35 30l35-15l45 15l40-35l40 20l40-35l35 15l35-35l50 15l35-35l40 5l40-55l50 5l35-50l55 0l45-65l75 80l50 35l355 190l360 410l665 660l750 660l0-5350l-10-10l-5835 0z"/><path fill="#57cc7a" fill-rule="evenodd" d="M435 9325l0 5325l345-260l610-495l830-740l290-295l85-55l80-85l70-10l30 30l95 40l35 35l40 10l25 25l20 0l25-25l55 20l30-20l30 5l30-15l40 15l30-10l35 25l45-25l25 15l50-10l40 25l35-30l40 15l20-25l20 0l25 20l40-30l45 10l30-35l50 25l30-45l45 10l40-45l45 5l40-45l50-5l15-45l35-20l230 75l95 60l115 130l70 100l335 380l750 740l665 580l0-5350l-10-10l-5835 0zM3155 11975l40 40l-15 25l-45 0l-15-15l0-15zM3255 12025l30-35l55 0l35-35l15 0l35 40l35 10l25-5l40-35l70 50l-10 20l-25 10l-265 5z"/><path fill="#64cd6f" fill-rule="evenodd" d="M435 9325l0 5325l345-260l610-495l830-740l290-295l85-55l85-90l75-20l25 35l40 5l30 35l25 0l30 30l35 5l35 35l40-35l50 25l40-30l30 10l40-20l90 10l35-20l45 10l35-15l40 25l30-25l40 15l30-25l50 20l35-35l35 20l40-35l40 20l40-40l45 15l35-45l40 15l45-50l45 0l35-60l50 5l45-40l15 0l100 100l140 90l185 230l335 380l665 660l750 660l0-5350l-10-10l-5835 0zM3770 11990l-15 30l-40 15l-50-10l-100 30l-80 5l-365-10l-75-10l-75-30l10-15l45-10l40-35l45 5l40-40l40 5l40-40l15 0l35 40l50 15l45-60l30 20l10 30l30 25l25 0l30-45l30-20l50 60l45 10l45-45l35 35l40 10z"/><path fill="#72cd64" fill-rule="evenodd" d="M435 9325l0 5325l780-605l1005-890l290-295l85-55l85-90l35-10l25-25l20 5l25 35l35 0l25 35l35 0l25 35l40 0l35 40l35-40l15 0l30 30l40-40l45 15l35-25l150-5l35-25l35 15l55-15l25 15l40-30l45 15l30-25l35 15l35-25l45 10l35-30l45 15l45-45l45 10l35-45l40 5l45-55l45 5l50-50l120 130l140 90l185 230l335 380l665 660l750 660l0-5350l-10-10l-5835 0zM3920 11965l15-10l15 15l-20 10zM3875 11905l25 30l-15 25l-35-15l5-25zM3605 11795l25 25l0 25l-15 15l-25-5l-10-15zM2840 11935l20-10l20 40l15 5l10-10l0-55l20-20l60 45l0-55l25-35l45 55l25 10l25-10l20-40l65 5l40-50l20 5l25 40l25 15l10-10l-10-60l20-20l35 30l70 20l30-30l45 25l30 0l35 25l30 50l20 0l25-40l35-20l45 55l35 10l35 45l50 15l10 25l-50 35l-225 35l-160 10l-365-20l-150-35l-55-40z"/><path fill="#81cc59" fill-rule="evenodd" d="M435 9325l0 5325l345-260l610-495l830-740l290-295l85-55l100-115l20 0l35-25l30 40l35-5l35 45l30-5l30 40l40-5l30 40l35-40l50 30l40-45l40 20l35-25l50 10l40-30l50 15l35-35l50 15l35-25l45 15l30-25l40 10l30-20l50 10l35-25l40 10l30-30l50 15l40-40l35 10l40-40l45 0l35-35l50-5l40-40l30-5l85 30l35 25l290 380l240 275l485 500l385 375l665 580l0-5350l-10-10l-5835 0zM4025 11950l-20 25l-60 25l-50 0l-40 20l-135 30l-110 5l-55 15l-230 5l-285-20l-205-45l-80-40l-5-70l10-15l45 0l25-30l50 10l35-40l45 10l35-55l55 5l40-40l30 20l30 45l20 0l45-50l60 5l40-45l50 45l45 10l25-40l35-20l30 50l40 20l25-5l40-40l20 5l25 30l30 10l55 65l35-5l15-30l30-20l35 35l45 10l25 45l35 15l30 35z"/><path fill="#8fcb4e" fill-rule="evenodd" d="M435 9325l0 5325l780-605l1005-890l290-295l85-55l80-95l-5-45l15-30l15 35l15 5l40-20l30 40l45 0l25 40l30-5l30 40l35-10l25 35l15 0l35-40l35 40l45-50l35 25l40-30l50 10l40-35l45 20l40-45l50 20l25-25l45 15l40-30l40 15l35-25l40 10l40-30l35 10l40-30l45 10l35-30l35 0l50-30l30 5l55-35l45-5l45-40l75 15l65 55l290 380l240 275l485 500l385 375l665 580l0-5350l-10-10l-5835 0zM4080 11935l-45 45l-90 30l-45 0l-175 45l-305 25l-230-5l-220-25l-265-70l-35-35l20-70l30-5l40-40l35 0l30-25l50-15l30-30l50 0l40-35l45 5l45-35l40 10l45-55l60 55l30 0l35-35l30 0l45 35l-5-35l35-45l30 30l65 20l55-35l40 50l25 0l75 50l60-50l40 45l105 55z"/><path fill="#9dc943" fill-rule="evenodd" d="M435 9325l0 5325l780-605l1005-890l220-230l200-165l35-50l-5-75l15-20l20 5l10 40l40-15l40 40l25-10l35 45l30-5l30 40l35-10l40 35l35-40l35 40l45-50l40 25l45-35l45 15l40-40l35 25l45-50l45 25l35-35l40 20l40-30l25 15l45-25l45 10l40-30l40 5l40-25l40 5l40-25l125-30l40-25l50-10l45-35l85-5l35 75l305 395l360 410l750 740l665 580l0-5350l-10-10l-5835 0zM2600 11910l70-95l30-5l70-50l15-60l35 35l25-5l-5-65l20-25l30 20l15 40l15 5l10-10l-5-45l25-30l55 50l20-10l15-40l80 30l45-50l50 5l45-55l45 60l35 10l60-70l50 60l50 10l45-60l25 20l15 40l30 20l35-5l15-40l20-15l50 60l30 5l30 40l45 10l40 40l35 0l35-45l45 35l30-5l25 35l0 20l-20 20l-25 0l-35-45l-25 0l-10 15l15 25l40 15l90 70l50 55l-15 20l-90 45l-235 55l-230 30l-235 5l-205-10l-215-30l-205-55l-65-30z"/><path fill="#abc739" fill-rule="evenodd" d="M435 9325l0 5325l780-605l1005-890l220-230l200-165l35-50l-15-75l30-35l30 40l40-5l40 40l25-10l30 40l35 0l35 40l25-15l35 40l40-40l35 35l40-45l45 25l40-40l50 15l35-40l40 25l45-50l40 25l40-35l35 20l45-35l40 20l35-30l45 10l35-25l130-20l235-80l50-35l85-10l20 25l20 65l330 425l335 380l750 740l665 580l0-5350l-10-10l-5835 0zM3830 11540l20 15l-15 25l-20-20zM2540 11895l35-50l0-40l70-60l35-15l10-60l45 0l40-35l35 0l50-45l45 5l35-30l45 10l40-60l25 15l30 45l15 0l0-70l15-15l40 45l35 15l25-5l40-50l70 50l10-20l-15-35l25-25l30 35l35-5l30 20l15 0l30-30l35 25l30-5l65 65l20-10l-20-35l0-25l20-15l30 30l30 5l45 60l45 15l50 40l30-15l25-45l25 5l30 45l100 55l35 40l90 70l-30 35l0 20l55 60l-85 65l-235 70l-230 35l-310 15l-295-20l-200-35l-200-60l-65-35z"/><path fill="#b9c431" fill-rule="evenodd" d="M435 9325l0 5325l780-605l1005-890l290-295l100-175l45-35l5-30l30-30l40 40l35-5l30 35l35-5l30 40l35 0l25 35l35-10l35 35l40-35l35 30l40-45l40 30l45-50l40 25l40-45l40 25l45-50l45 25l35-35l30 20l15 0l25-30l50 15l35-30l45 10l40-25l45 0l40-25l45 5l120-50l45 0l125-65l50 5l35-15l15 15l-5 35l20 55l330 425l335 380l750 740l665 580l0-5350l-10-10l-5835 0zM2490 11865l35-85l65-75l10-55l40-5l45-35l35 0l25-25l40-10l35-40l50 5l45-35l55 0l50-40l40 5l50-55l65 65l0-65l20-20l30 35l60 15l45-60l25 10l30 50l40 10l60-50l35 45l60 10l20-35l30-20l50 65l35 10l40 45l25-10l-25-65l20-15l30 30l40 5l100 95l35 15l50 50l200 140l0 20l-25 30l25 45l-5 40l-110 70l-95 35l-225 50l-380 35l-380-20l-265-50l-130-40l-120-60l-20-20z"/><path fill="#c5c22a" fill-rule="evenodd" d="M435 9325l0 5325l780-605l1005-890l290-295l95-160l20-65l55-50l20-5l25 30l45 5l30 35l35-5l30 40l25-5l30 35l35-10l35 35l40-30l40 25l40-45l40 30l45-50l25 25l15 0l35-45l45 25l35-45l50 20l30-30l40 20l45-35l40 15l40-30l50 10l40-30l40 5l45-30l40 10l45-30l40 0l40-25l40 5l30-25l45-5l50-35l45 10l35-25l15 20l-5 50l20 55l305 395l360 410l750 740l665 580l0-5350l-10-10l-5835 0zM4285 11745l-25 65l20 40l-5 25l-60 60l-95 45l-50 10l-30 20l-245 55l-380 35l-380-20l-345-70l-185-80l-45-50l-20-45l0-35l30-70l45-40l0-60l20-20l80-25l20-20l-10-60l15-15l15 10l10 35l20 10l-5-55l20-30l20-5l30 15l45-50l40 15l40-55l50 25l30-55l15 0l35 45l40 5l30-35l70 5l50-45l50 60l20 5l10-10l-10-45l10-25l100 35l40-45l75 55l25 0l35-40l20-5l45 40l30 5l45 65l25 0l35-50l25-5l40 45l40 10l40 45l30 10l20-10l20-40l30 0l25 30l35 10l30 45l35 10l25 30l40 10l40 40l-60 50l40 45z"/><path fill="#d1bf27" fill-rule="evenodd" d="M435 9325l0 5325l780-605l1005-890l290-295l110-190l15-65l-10-45l10-10l15 10l0 45l50-30l30 30l35 0l35 35l30-5l35 40l25-5l35 40l30-15l30 35l35-25l50 20l30-40l20 0l30 25l45-50l40 25l35-45l45 25l40-45l45 20l30-30l45 20l35-35l40 15l45-30l45 15l35-30l50 0l45-35l45 15l40-35l35 10l35-30l45 10l40-35l45 0l35-30l55 10l40-35l15 15l-10 70l20 55l305 395l360 410l750 740l665 580l0-5350l-10-10l-5835 0zM2405 11810l15-130l35-75l80-65l0-50l15-15l30 15l50-50l40-10l35-30l35 5l35-40l50 5l45-40l45 5l40-35l40 5l45-55l30 15l20 45l30 5l15-70l85 35l50-55l25 15l30 45l25 0l40-30l35 0l60 50l50-45l35 5l45 35l45 10l25-40l25-15l135 120l35-15l0-25l20-20l30 0l35 50l225 145l120 100l-30 35l0 25l40 50l5 75l-15 60l-30 40l-70 50l-90 40l-250 70l-380 45l-240 0l-205-15l-350-70l-195-80l-85-70z"/><path fill="#dcbd29" fill-rule="evenodd" d="M435 9325l0 5325l780-605l1005-890l290-295l110-190l5-115l10-15l20 10l0 40l50-20l30 30l35 0l30 35l30-5l30 35l40 5l25 30l40-5l20 30l35-25l50 20l40-45l35 30l45-50l40 25l40-50l50 25l40-45l35 25l40-35l45 20l35-35l35 15l45-30l45 15l40-35l45 10l45-40l40 20l45-40l40 10l35-30l40 15l50-40l35 5l45-35l45 15l35-35l15 0l10 45l-15 45l20 55l305 395l360 410l750 740l665 580l0-5350l-10-10l-5835 0zM2345 11725l35-135l65-65l10-65l75-45l30-5l30-50l30 20l15-5l-5-70l20-20l40 20l35-50l50 20l45-55l25 15l10 30l20 15l10-10l-10-65l20-20l35 25l25 40l30-5l25-40l20-10l50 10l45-40l75 55l-5-75l20-20l35 40l45 15l20-5l40-50l20 15l20 45l40 25l20-5l45-60l50 65l40 5l35-55l25-15l40 50l40 15l40 50l20 0l10-15l-30-40l0-25l25-10l30 40l30 5l45 40l35 10l45 55l70 45l35-5l-5-20l-40-35l5-25l25-15l100 90l35 5l25 35l55 30l5 15l-20 20l-65-10l-5 10l175 135l-25 50l25 60l-20 110l-65 85l-70 45l-270 95l-375 55l-330 5l-210-15l-335-65l-185-70l-85-55l-35-35l-20-60l-30-30z"/><path fill="#e6bb2d" fill-rule="evenodd" d="M435 9325l0 5325l780-605l1005-890l300-310l100-175l5-85l-10-30l20-25l30 40l35-5l40 35l25-5l30 35l40 0l25 35l40 5l25 30l30-10l30 30l35-20l50 15l40-40l40 25l35-45l20 0l25 20l40-45l45 20l35-40l50 15l30-30l50 15l35-35l50 10l35-30l40 20l40-40l50 10l40-40l40 25l35-40l45 10l45-35l35 20l50-40l35 5l45-35l40 20l50-40l20 20l0 30l-20 25l20 80l305 395l360 410l750 740l665 580l0-5350l-10-10l-5835 0zM2295 11610l35-45l5-40l40-35l0-50l65-50l25-5l15-70l40 0l55-45l25 0l40-30l40 0l40-40l45 10l45-45l45 5l40-35l45 0l40-45l20 5l50 50l5-25l-15-40l20-20l20 5l30 40l40 15l65-45l65 50l10-25l-20-50l20-20l45 40l50 15l55-40l40 40l50 20l55-50l35 30l45 15l50 55l15-20l-25-55l30-20l100 100l40 10l50 45l20-5l5-20l-35-45l30-20l35 35l25 0l100 90l30 10l30 40l35 5l180 135l15 25l-35 35l0 15l70 70l-25 50l20 40l0 30l-30 80l-80 110l-85 50l-200 75l-150 35l-385 45l-250 0l-285-25l-260-55l-150-50l-145-80l-40-65l-35-30z"/><path fill="#f0ba36" fill-rule="evenodd" d="M4190 11235l-5 15l10 5l10-10zM435 9325l0 5325l780-605l1005-890l300-310l100-175l5-85l-10-30l20-25l30 40l35-5l40 35l25-5l30 35l40 0l25 35l40 5l25 30l30-10l30 30l35-20l50 15l40-40l40 25l35-45l20 0l25 20l40-45l45 20l35-40l50 15l30-30l50 15l35-35l50 10l30-30l45 15l40-40l45 10l35-35l50 15l45-40l40 10l30-30l55 10l25-30l50 0l45-35l45 15l45-40l30 30l0 35l-30 25l20 80l305 395l360 410l750 740l665 580l0-5350l-10-10l-5835 0zM3665 10960l25 20l-10 25l-30-25zM4475 11455l-25 60l40 50l-20 30l15 70l-25 30l-35 85l-90 110l-135 70l-170 60l-390 70l-145 10l-400-10l-200-25l-195-45l-200-70l-110-60l-80-90l-15-55l-40-45l15-140l-5-65l30-35l0-55l80-65l0-35l20-25l40 0l75-45l-10-50l10-25l50 50l15-10l-10-50l15-15l20 0l50 45l0-70l25-15l55 40l-5-50l30-30l65 55l10-20l-15-45l25-25l20 10l15 45l15 10l30-10l0-55l10-10l70 35l65-35l55 40l-5-55l25-35l20 0l50 65l30 0l40-45l25 5l35 35l30 5l20-25l-30-45l20-15l20 20l0 30l60-5l30 50l20 5l10-15l-30-35l0-20l35-25l120 105l25-5l20-30l45 0l45 45l55 10l15-45l25-15l40 55l110 55l45 50l60 40l30-5l-5-30l-35-35l0-20l25-10l40 45l25 0l40 50l35 10l35 40l40 15l10 15l-10 25l-65-5l-15-15l-15 0l0 10l110 85l70 35z"/><path fill="#f8ba3d" fill-rule="evenodd" d="M435 9325l0 5325l780-605l1005-890l300-310l100-175l5-85l-10-30l20-25l30 40l35-5l40 35l25-5l30 35l40 0l25 35l40 5l25 30l30-10l30 30l35-20l50 15l40-40l40 25l35-45l20 0l25 20l40-45l45 20l35-40l50 15l30-30l50 15l35-35l50 10l30-30l45 15l40-40l45 10l35-35l50 15l45-40l40 10l30-30l55 10l35-35l40 5l45-35l40 15l40-40l20 0l50 75l-60 35l20 60l305 395l360 410l750 740l665 580l0-5350l-10-10l-5835 0zM4550 11445l-15 55l10 40l-10 65l10 25l-85 150l-125 110l-135 70l-170 60l-390 70l-145 10l-400-10l-200-25l-195-45l-200-70l-125-70l-90-75l-10-35l-45-35l-5-55l-50-40l15-180l20-30l0-45l35-40l35-70l60-40l10-40l35 15l15-50l25-25l30-5l25-30l50 5l30-35l45 5l10-30l-15-55l15-15l35 60l40 10l10-10l-15-65l10-15l65 50l30 0l40-45l45 5l30-20l25 0l50 30l-15-45l25-45l20 0l25 50l35 20l25-25l-20-45l10-25l40 40l65 5l40-45l45 65l40 10l45-45l25 0l45 35l35-5l10-15l-30-35l15-25l20 15l5 35l40 0l40 35l40 5l15-15l-30-45l15-20l20 15l5 35l55 10l45 50l20 5l20-5l15-45l30-20l45 45l20 5l55 65l70 45l10-10l-25-35l0-35l20-25l20 0l40 65l85 35l35 45l35 10l35 40l200 125l40 50l-10 70z"/><path fill="#febe3c" fill-rule="evenodd" d="M435 9325l0 5325l780-605l1005-890l300-310l100-175l5-85l-10-30l20-25l30 40l35-5l40 35l25-5l30 35l40 0l25 35l40 5l25 30l30-10l30 30l35-20l50 15l40-40l40 25l35-45l20 0l25 20l40-45l45 20l35-40l50 15l30-30l50 15l35-35l50 10l30-30l45 15l40-40l45 10l35-35l50 15l45-40l40 10l30-30l55 10l35-35l40 5l45-35l40 15l40-40l20 0l50 75l-60 35l20 60l305 395l360 410l750 740l665 580l0-5350l-10-10l-5835 0zM2115 11495l20-130l20-40l0-50l40-35l40-5l10-10l0-60l105-50l25-60l40 20l10-45l20-20l40 0l35-45l35 0l50-40l40 5l45-35l45 10l30-35l30 5l40 35l10-15l-15-55l25-25l55 70l30-20l0-65l80 40l70-30l55 40l15-15l-15-55l25-25l40 50l45 15l60-45l50 60l35-10l35-30l40 5l45 40l30-5l30-30l30 0l60 50l30 5l50-50l40 35l45 15l40 40l25-10l-30-40l5-30l20-10l45 60l95 40l45 55l65 40l25-15l-25-30l-5-30l30-20l35 50l160 90l140 120l5 25l-30 15l-5 15l125 105l5 20l-35 40l45 40l-10 90l-40 140l-105 125l-140 115l-120 60l-250 80l-225 40l-230 20l-250 0l-285-25l-260-55l-200-70l-125-70l-165-145l-5-30l-50-40l-5-70l-35-35zM3395 10755l20 5l-15 5z"/><path fill="#fec338" fill-rule="evenodd" d="M435 9325l0 5325l780-605l1005-890l300-310l100-175l5-85l-10-30l20-25l30 40l35-5l40 35l25-5l30 35l40 0l25 35l40 5l25 30l30-10l30 30l35-20l50 15l40-40l40 25l35-45l20 0l25 20l40-45l45 20l35-40l50 15l30-30l50 15l35-35l50 10l30-30l45 15l40-40l45 10l35-35l50 15l45-40l40 10l30-30l55 10l35-35l40 5l45-35l40 15l40-40l20 0l50 75l-60 35l20 60l305 395l360 410l750 740l665 580l0-5350l-10-10l-5835 0zM4340 10925l35-10l25 35l-10 10l-30-5l-20-15zM4300 10880l15-10l15 20l-15 10zM2075 11250l60-70l5-35l65-35l10-50l30 20l10-5l-10-40l20-25l50-5l20-20l45-15l20-30l55 5l15-70l60 25l15-65l65 30l0-55l15-15l60 35l25-5l-5-70l20 5l30 50l35-5l35-45l60 10l55-40l25 5l40 50l10-15l-20-45l20-25l75 55l20-10l20-45l35-5l70 70l10-15l-20-30l0-25l15-20l15 0l40 45l50 10l40-40l80 45l55-30l25 0l55 40l30 0l40-30l25 0l120 90l15-15l-25-50l30-30l30 30l45 15l45 60l40 15l30 30l15-15l-30-30l0-25l15-20l25 0l95 85l40 15l85 70l50 15l30 35l40 5l25-30l25 0l25 35l-15 15l-30-10l-5 25l65 65l155 100l10 35l-25 40l20 30l45 30l-25 50l15 35l-10 85l-70 150l-90 100l-185 150l-120 60l-250 80l-225 40l-230 20l-250 0l-285-25l-260-55l-200-70l-125-70l-225-200l-10-40l-50-45l0-80l-45-35z"/><path fill="#fec934" fill-rule="evenodd" d="M435 9325l0 5325l780-605l1005-890l300-310l100-175l5-85l-10-30l20-25l30 40l35-5l40 35l25-5l30 35l40 0l25 35l40 5l25 30l30-10l30 30l35-20l50 15l40-40l40 25l35-45l20 0l25 20l40-45l45 20l35-40l50 15l30-30l50 15l35-35l50 10l30-30l45 15l40-40l45 10l35-35l50 15l45-40l40 10l30-30l55 10l35-35l40 5l45-35l40 15l40-40l20 0l50 75l-60 35l20 60l305 395l360 410l750 740l665 580l0-5350l-10-10l-5835 0zM1965 11370l15-45l5-100l20-30l10-60l35-30l50-10l-20-55l15-25l40-10l25-25l35 10l15-15l-10-35l10-35l30-5l40-35l45 5l35-30l35 0l30-40l50 5l25-55l30 20l25 0l35-35l65 0l25-45l55 10l35-50l60 10l45-25l65 35l15-15l-10-50l15-15l55 55l40-5l45-40l20 0l30 40l20 5l10-15l-15-45l20-20l55 50l35 5l35-30l25-5l55 50l35-10l30-30l35 5l45 40l35-5l25-30l30 0l85 55l35-45l20 0l45 35l50 15l40 35l15-15l-25-50l25-20l110 95l40 10l50 35l25-10l-35-50l15-25l20 15l10 40l50 5l65 30l20 35l45 20l30 40l45 20l285 200l25 40l-15 15l-20-5l-15 30l100 70l-5 25l-45 25l45 50l-15 45l-5 105l-25 60l-60 100l-150 145l-110 60l-75 60l-120 60l-170 60l-235 50l-300 30l-250 0l-285-25l-260-55l-200-70l-95-50l-110-80l-45-15l-130-110l-10-30l-45-30l-10-45l-45-30l-5-80l-40-30zM3560 10540l20 20l-10 30l-25-25z"/><path fill="#fccf30" fill-rule="evenodd" d="M435 9325l0 3600l870-1140l50 5l20 25l45 15l20 40l40 10l65 50l35-15l50 30l30 40l35 10l30 45l45 5l35 30l40 55l45 0l50 45l10 35l45 5l10 10l-5 40l90 55l-75 95l-1055 1820l255-190l1050-935l255-265l100-175l5-85l-10-30l20-25l30 40l35-5l40 35l25-5l30 35l40 0l25 35l40 5l25 30l30-10l30 30l35-20l50 15l40-40l40 25l35-45l20 0l25 20l40-45l45 20l35-40l50 15l30-30l50 15l35-35l50 10l30-30l45 15l40-40l45 10l35-35l50 15l35-35l50 5l30-30l55 10l25-30l50 0l45-35l40 15l40-40l35 15l35 60l10-5l0-30l35-35l0-25l70-55l60 20l30-35l55-10l25-40l65 20l35-45l35 5l35-50l50 30l45-55l35 0l25-30l50 20l85-25l55-45l30 5l20-20l45-10l25 20l35 100l480 1020l605 1175l0-5030l-10-10l-5835 0zM5210 12015l25-10l20 20l-20 15zM1225 11760l20-35l30 15l-15 20zM3780 10470l15-5l10 15l-15 10zM1885 11280l20-35l-5-40l25-40l-10-45l30-30l0-55l55-40l30 0l10-20l-20-45l5-15l50-15l25-25l35 5l15-15l0-50l15-10l35 10l15-50l45-5l40-35l35 5l35-35l50 5l35-40l55 0l25-35l50 5l35-45l60 5l40-45l55 10l40-25l45 35l30 5l20-50l25 15l50 5l55-45l20 5l25 35l25 5l10-10l-10-35l10-25l45 40l45 5l30-30l35-5l70 45l15-15l-15-55l10-25l30 35l45 10l45 55l25-15l-20-45l20-25l35 35l40 10l45 50l20 0l10-25l-20-50l15-10l30 30l35 5l60 65l25 0l35-35l25 0l40 35l45 15l25 30l30 5l10-20l-25-45l20-15l185 140l30-5l25-25l40 0l55 25l40 45l35 10l100 90l150 90l75 60l30 45l-25 25l-5 25l105 70l5 30l-40 20l-5 15l50 45l-15 45l10 55l-20 25l5 60l-20 25l0 35l-90 140l-105 105l-105 80l-310 160l-170 60l-235 50l-300 30l-250 0l-350-35l-290-75l-315-145l-85-60l-25-5l-30-40l-40-15l-30-40l-45-25l0-25l-55-40l-10-55l-25-5l-20-25l-5-65l-40-25z"/><path fill="#fad62d" fill-rule="evenodd" d="M1835 11060l-5 20l10 5l10-15zM435 9325l0 2725l460-545l35-60l45 10l15 15l-5 20l45 25l35-25l40 45l80 35l105 90l30 0l30 40l35-5l40 35l35 5l155 140l35 5l85 80l35 5l30 40l95 50l35 40l25-5l45 45l25 5l20 30l40 10l25 35l30 5l30 50l30 0l40 45l20 0l35 60l35-10l15 40l50 30l-10 30l115 70l0 65l-305 565l10 0l305-305l110-190l5-85l-10-30l20-25l30 40l35-5l40 35l25-5l30 35l40 0l25 35l40 5l25 30l30-10l30 30l35-20l50 15l40-40l40 25l35-45l20 0l25 20l40-45l45 20l35-40l50 15l30-30l50 15l35-35l50 10l30-30l45 15l40-40l45 10l35-35l50 15l45-40l40 10l50-35l-5-20l25-30l40 0l45-25l20 10l0 40l20-20l-10-25l60-55l45-5l35-30l25 5l55-35l35 5l50-35l30 0l45-25l30 5l60-45l30 0l40-25l35 0l65-45l70-30l45-5l40-35l40 5l35-35l45 5l50-55l50 5l30-15l40 15l30-35l45 15l25-50l60 5l40-50l65 20l35-35l55 0l30-30l55-10l45-30l15 15l0 45l625 1320l0-3810l-10-10l-5835 0zM5705 11755l25-10l20 20l-20 15zM5865 11670l30-15l20 25l-20 15zM845 11435l20-35l35 15l-10 20zM1760 11190l15-65l30-45l10-65l20-20l30 5l10-10l0-25l-20-30l15-15l35-5l25-30l30 10l10-25l-20-30l5-25l20-15l35 0l30-30l40 0l10-15l-5-55l35-10l25-35l60-5l30-30l40 0l30-35l60 5l25-40l55 5l30-35l50 0l30-40l65 5l40-40l35 5l25 30l10 0l-5-35l15-10l80 30l25-60l75 30l30-50l35-5l50 40l-5-35l20-20l95 50l35-60l40 5l35 45l25 5l10-10l-10-30l10-30l35 35l60 5l25-25l25-5l35 30l60 20l50-35l40 30l75 30l0-35l35-15l115 75l25-10l-5-40l15-10l20 15l45 5l40 60l65 25l15-5l-10-35l15-15l65 20l35 25l20 35l40 10l30 35l40 10l30 30l10-10l-20-30l20-20l60 15l50 50l45 10l35 40l180 130l95 50l65 65l-5 20l-35 0l-10 30l110 75l5 45l-50 20l90 70l-15 25l-30-5l-10 10l40 55l-5 25l-40 25l20 30l-15 85l-45 40l-65 130l-210 185l-200 110l-75 15l-125 65l-170 60l-235 50l-300 30l-250 0l-350-35l-260-65l-135-50l-90-50l-55-5l-80-35l-80-55l-45-15l-20-30l-30-5l-40-45l-25 0l-30-50l-50-30l-10-35l-45-20l-10-45l-45-30l-5-70l-45-20l15-175l-15-5l-25 15l-10-10z"/><path fill="#f7dc2a" fill-rule="evenodd" d="M435 9325l0 1725l30-5l25 30l45 10l25-30l15 15l0 45l15 15l40 5l25 35l30-5l40 45l35-10l140 125l60-5l90 100l30 5l30 35l50 20l40-5l25 45l45 15l30 45l35 5l25 35l40-5l35 50l30-5l15 30l20 15l20-5l40 55l30 0l30 50l30-5l35 50l30 0l30 45l30-5l35 50l30-5l35 45l30-5l30 45l25-5l30 40l40 5l35 60l25 5l30 35l35 5l25 35l35 0l70 60l25 50l25 0l90 65l40 10l35 45l30 15l20 50l40 10l25 40l25-15l25 40l35-5l40 35l25-5l30 35l40 0l25 35l40 5l25 30l30-10l30 30l35-20l50 15l40-40l40 25l35-45l20 0l25 20l40-45l45 20l35-40l50 15l30-30l25 0l15-40l30 0l10 25l20-35l60-20l40-45l50 0l35-30l80-30l40 5l50-55l35 10l55-55l35 20l40-45l50 15l35-45l30 15l15-5l35-65l40 20l45-55l45 25l35-50l50 15l30-50l50 25l40-60l35 25l45-60l45 25l40-60l40 20l35-55l50 20l35-55l45 15l40-50l25 30l15 0l45-65l35 25l40-40l45 15l45-60l40 10l40-50l35 30l50-40l45 15l35-40l35 0l50-50l45 10l40-45l30 15l45-25l35 15l50-50l35 10l15-35l25-20l65 20l20-30l45-5l45-45l60 20l30-40l55-10l25-40l40 35l30-15l15 10l0-2140l-10-10l-5835 0zM480 11025l10-10l15 10l-10 10zM1660 11220l20-110l15-25l0-55l20-25l-5-60l25-30l0-60l50-45l35 10l15-10l-15-55l15-25l60-30l45 0l0-65l10-15l20-5l15 15l0 30l15 10l10-25l-20-25l0-20l20-20l40 5l35-35l45-5l30-35l40 10l35-45l50 10l25-50l55 20l25-50l60 10l25-55l40 20l30 0l40-40l50 0l30-40l45 5l35 40l10-10l-5-25l15-15l65 40l25 0l20-55l75 10l40-35l25 0l30 40l20 5l30-60l75 30l40-30l20 0l40 35l40 10l10-40l20-20l45 10l50 55l25-10l-5-45l10-10l75 25l40 50l15-10l-15-50l15-15l85 35l45 50l25-10l20-40l40 0l55 65l45 5l20-35l25-5l80 40l45 45l30-10l0-25l15-15l30 5l40 40l40 10l45 55l60 25l20-5l0-25l20-20l65 20l30 40l40 15l95 85l35 10l30 35l35 10l30 35l210 130l45 45l-15 30l-20 5l-35-15l-5 20l45 40l100 55l5 15l-15 15l-30 0l-15 35l65 45l-25 75l45 35l-10 15l-35-5l-10 20l-10 115l-60 145l-55 45l-65 100l-35 10l-50 65l-50 25l-50 45l-40 10l-50 40l-170 85l-155 50l-35-5l-185 70l-235 50l-300 30l-250 0l-350-35l-195-45l-190-70l-40 5l-30-20l-40 0l-100-50l-30 0l-100-65l-30 0l-30-35l-40-10l-25-35l-35-5l-40-50l-25 0l-25-40l-35-5l-15-15l-5-40l-35-10l-15-15l-10-45l-50-30l0-60l-10-10l-25 5l-15-15l0-115l-40-10z"/><path fill="#f5e327" fill-rule="evenodd" d="M435 9325l0 1680l35-15l35-45l40 45l30 5l35 40l30 10l30 50l50 25l45-15l25 35l35 10l35 45l20 5l40 60l30-10l40 30l25 0l30 55l40 0l30 50l30-5l30 40l40 10l25 45l35 10l35 50l30-5l35 30l25 0l35 30l40 10l85 80l35 5l35 45l30 5l35 40l35 10l25 35l35 5l30 35l35 10l95 85l25 5l35 40l25 5l40 55l55 50l30 5l25 35l35 0l30 30l35 10l35 50l25-5l30 40l35 0l25 35l30 0l35 55l35 10l30 35l35 5l25 30l35 5l40 65l80 40l30 35l30 0l30 30l40 10l35 35l30 0l40 20l50-35l40 0l35-30l45 5l45-30l35 0l45-30l40-5l45-65l40 20l40-40l45 15l35-45l50 5l30-55l45 30l45-60l35 20l40-50l45 15l45-50l35 20l40-45l45 10l35-35l45 10l35-45l50 0l30-45l45 0l45-45l50 10l25-35l55-5l35-45l40 15l40-45l40 15l35-45l55 5l35-45l45 10l40-50l40 20l45-45l45 5l40-45l40 15l40-40l40 20l35-40l45 15l45-50l45 5l40-50l40 15l45-55l35 25l40-60l50 15l30-45l45 25l45-60l40 30l40-55l45 25l40-70l45 20l40-60l35 25l45-25l40 10l45-55l35 10l40-45l40 10l45-50l40 25l20 40l35 0l0-2090l-10-10l-5835 0zM1505 11230l25-105l5-85l20-35l0-50l20-40l-5-40l20-30l-5-55l60-50l35 5l10-10l0-25l-20-30l10-20l35 0l25-30l50-10l-20-60l15-20l35 0l30-30l45 0l30-30l45 5l15-15l10-50l55 25l15-20l-5-40l15-15l45 50l15-5l-5-75l15-15l25 5l25 50l15 5l10-35l-15-40l20-20l20 0l20 20l20 45l15-5l5-25l-20-45l25-25l20 5l25 45l20 10l15-15l-5-55l15-15l15 0l20 40l25 10l35-50l60 15l25-45l70 5l25-45l40 5l50 35l0-40l35-25l35 50l30 5l15-50l85 10l35-50l20 0l25 20l10 30l25 15l35-60l85 25l40-45l15 0l60 60l25-10l0-35l15-15l55 10l45 60l20-5l0-50l15-15l65 25l40 45l25-15l0-25l25-15l50 15l50 60l20-10l-5-45l20-15l60 20l45 60l35 0l10-35l35-15l50 45l45 15l40 45l25-10l-5-40l15-15l60 15l40 50l25 5l40 50l55 20l10-5l-20-15l-10-45l15-15l35 10l35 40l50 10l35 40l35 15l30 40l35 10l115 90l15-10l-5-30l-60-35l15-35l20 5l40 40l50 10l90 80l30 5l95 105l-15 10l-30-30l-30 5l-35-40l-30-5l-35-35l-25 0l-40-40l-20 10l20 30l120 85l35 10l85 75l35 10l125 85l5 20l-50 10l-15 35l105 75l-15 15l-20-5l-15 15l-5 30l45 20l25 30l-35 50l5 45l-15 25l-20 135l-50 130l-50 40l-30 65l-80 60l-25 50l-20 20l-40 10l-60 70l-50 10l-35 40l-95 50l-35 5l-55 45l-30 0l-55 35l-35 0l-40 25l-120 30l-35 20l-50 0l-35 20l-50 0l-90 30l-130 15l-30 15l-125 5l-95 20l-400 5l-15-10l-195-5l-30-15l-50 5l-155-35l-50 5l-30-20l-175-30l-35-25l-45 0l-25-20l-30 5l-30-25l-40 0l-35-30l-30 5l-30-30l-35-5l-35-30l-40 0l-30-30l-35 0l-25-35l-40-5l-25-35l-35 0l-30-40l-30-5l-40-60l-30 0l-30-55l-25 5l-15-15l-5-40l-55-30l-5-50l-45-15l-5-95l-10-10l-20 15l-15-10l10-135l-20-5l-10 35l-20 15z"/><path fill="#f5e924" fill-rule="evenodd" d="M4405 11975l-30 15l-5 25l10 10l30-5l10-30zM4475 11955l-15 30l25 10l15-25zM4565 11925l-20 20l10 15l20-15zM4635 11895l-10 20l20 10l10-20zM4735 11845l-25 20l10 30l25-25zM1760 11735l10 25l40 15l25 30l35 10l80 75l35 10l35 55l40 15l75 65l95 50l30 30l35 10l35 30l20 0l95 95l30 5l40 60l25 10l30 35l35 5l30 35l25-5l40 50l25-5l25 35l40 5l25 40l30-5l30 40l40 5l35 55l30 0l30 20l55-65l35 30l45-60l40 15l45-45l40 20l40-50l35 15l45-45l40 20l50-50l40 10l40-35l30 5l50-60l40 10l40-45l35 10l50-55l35 15l40-40l45 15l35-40l45 0l35-30l40 5l35-35l50-5l20-30l50 5l40-60l45 0l15-15l0-30l-20-15l-45 30l-35-5l-45 30l-35-10l-30 20l-45-5l-40 25l-45-10l-30 15l-40 0l-40 25l-125 0l-25 15l-40-10l-105 25l-50-15l-100 15l-130-10l-105 15l-30-20l-115 10l-30-20l-45 10l-25-15l-40 5l-30-20l-45 15l-30-20l-40 5l-30-20l-45 5l-25-20l-45 5l-30-20l-40 5l-25-25l-110-5l-35-25l-35 5l-30-35l-40 5l-30-25l-45 10l-30-30l-25 5l-35-40l-30 10l-35-40l-35 5l-30-40l-35 5l-30-40l-40 10l-25-40l-35 0l-35-45zM1395 10910l-20 10l10 30l15-15zM1410 10825l-15 15l15 35l15-15zM1630 10530l-10 10l10 25l10-10zM4585 10220l-5 15l25 15l10-15zM4315 10115l-5 15l30 15l0-25zM4110 10060l-10 15l20 20l10-20zM435 9325l0 1630l50-25l0-50l25-20l30 45l30 0l20 20l10 30l45 5l20 45l35 0l35 50l30-5l40 50l20 0l40 50l35 10l25 35l45 0l25 25l35 10l30 35l35 5l225 190l30 10l85 70l45 10l35 30l25 5l40 45l35 10l25 30l40 10l40 40l20-10l0-20l-55-25l-5-40l-55-25l-15-45l-40-15l-15-50l-35 5l-15-15l0-45l-15-20l-20 10l-20-10l10-90l-15-15l-35 10l-15-25l0-55l15-45l-20-10l-15 15l-5 45l-10 10l-20-10l45-260l-10-10l-15 10l-5 50l-35 60l-15-10l50-250l40-45l35 5l15-15l-10-60l30-30l-5-50l55-50l40 5l10-10l-15-70l45-5l35-35l30 5l20-25l-5-55l30 20l10 25l25 5l10-30l-20-45l15-15l35 5l20 35l20 10l-20-50l15-25l60 5l30-40l45 5l25-35l60 5l20-35l60-5l35-35l45 5l20-30l60-10l25-35l65 5l40-45l45 10l35-45l50 5l35-50l25 5l50 65l20-10l-10-65l15-15l50 45l25-5l20-40l70 10l30 40l15 0l0-20l-30-30l0-20l20-20l35 5l40 60l25 0l10-35l30-15l55 15l40 40l5-15l-30-40l0-20l20-20l30 5l45 60l25-5l25-45l45 5l60 65l20-15l15-40l60 5l55 45l10-20l-35-45l15-30l25 0l35 50l50 15l40 45l10-20l-35-40l0-20l20-20l25 0l50 60l30 5l45 40l10-20l-30-55l20-20l20 0l40 50l45 15l40 55l25-10l-5-45l10-10l75 20l20 35l25 15l25-10l0-25l20-20l35 0l40 50l45 15l35 45l30-10l0-30l15-15l50 5l30 40l45 15l40 45l25 0l45 55l25-5l-5-35l-55-30l5-25l30-10l35 40l50 10l40 45l35 10l95 85l35 10l90 80l40 15l25 30l40 15l25 30l30 10l85 70l40 15l100 80l-5 15l-25 10l-35-30l-35 10l-30-30l-20 10l60 55l45 15l90 80l-35 55l105 75l-65 30l-25-20l-15 5l100 85l-10 15l-35-15l-20 20l5 30l45 35l-20 25l-25-15l-20 10l0 25l40 30l-10 25l-40-10l0 30l30 45l-15 15l-20-15l-15 5l-70 185l-50 25l-60 100l-35 0l-60 80l-30 5l-50 55l-50 10l-45 55l-45 5l-30 35l0 15l20 15l15 0l45-40l40-5l30-30l55 20l25-30l55 0l45-40l40 10l45-50l50 10l35-45l45 5l35-45l45 5l40-45l45 15l35-45l50 15l35-40l50 15l40-40l35 15l40-50l50 5l40-55l45 20l35-55l40 20l45-50l40 25l40-70l45 25l40-60l40 45l15 40l40 5l0-2035l-10-10l-5835 0z"/><path fill="#f6ef20" fill-rule="evenodd" d="M3900 12160l-15 10l10 10zM2330 12080l5 20l90 50l40 60l170 110l30 5l75 45l35 45l85 45l35 40l25 10l35 50l60 15l45-55l45 10l40-50l40 10l35-35l45 5l45-55l40 10l40-35l40 20l35-40l45-5l30-30l45 0l35-25l40 0l40-60l40 0l35-30l45 0l15-15l-10-25l-20 0l-25 20l-25-15l-45 15l-50-10l-40 25l-40-10l-25 15l-35-20l-35 10l-40-10l-35 25l-40-20l-45 10l-35-15l-35 20l-30-25l-55 20l-20-15l-45 10l-30-20l-45 20l-25-20l-45 10l-25-25l-50 10l-30-15l-40 15l-30-25l-50 10l-30-20l-25 15l-35-35l-30 15l-45-20l-35 15l-25-30l-50 15l-30-35l-25 10l-45-20zM2290 12040l-15 15l20 15l10-15zM5305 11565l-20 20l5 15l20-10zM1210 11275l-10 20l15 15l10-25zM1185 11080l-20 15l-15 100l-15 25l0 25l15 15l20-15l25-135zM5550 10820l-20 30l30 15l5-30zM1190 10785l-25 20l15 35l15-15zM4215 9885l-10 15l20 25l15-20zM6280 9315l-400 0l0 20l-705 1150l10 25l65 50l35 5l40 40l25 0l145 140l90 45l35 35l-30 45l0 20l55 45l-10 25l-35-30l-30 25l10 50l-20 25l0 35l40 10l15 30l-30 25l-20-40l-20 10l-65 270l-25 30l-30-5l-65 130l10 35l25-10l20-40l55 15l35-40l65 15l30-25l55-5l35-40l45 15l35-45l50 0l35-45l55-5l30-40l45 15l40-40l45 5l40-45l45 15l35-45l30 5l20 25l5 50l45 20l0-1990zM5540 11265l5-15l15 10zM5575 11155l15 30l-20 20l-15-35zM5600 10990l30 20l0 25l-15 15l-25-15l-10-25zM5625 10840l20-5l15 20l-20 10zM1950 9315l20 25l285 660l75 70l35-15l-35-90l10-15l75 75l20 0l20-20l55 10l20-10l10-45l25 10l40-5l15-45l60 10l35-35l55 0l25-20l50-5l30-35l65 5l10-10l-5-20l30-20l40 5l40 45l10-30l-15-45l15-15l25 5l45 50l20 0l30-45l35 0l25 10l20 40l25 15l20-10l0-25l-50-50l20-20l25 0l35 45l45 10l35 50l30-15l0-15l-50-35l20-25l40 5l50 50l15 0l40-45l35 0l55 55l15 0l35-45l40 0l45 50l35 5l45 50l15-10l0-25l-45-40l20-20l30 0l40 45l40 10l40 50l25-10l0-20l-45-50l40-20l40 50l35 5l55 55l20 0l30-45l40 0l40 45l35 10l115 100l90 40l35 35l35 0l5 30l20 20l35 0l25 50l40 5l30 25l50-20l20 70l80-45l680-885zM1755 9315l335 755l65 65l35 0l10-15l-5-30l-300-720l-10-55zM445 9315l-10 10l0 1520l60-35l25 0l30 30l45 15l80 70l40 10l95 95l30 10l30 40l30 10l45 45l65 40l35 5l30 30l30 0l30-75l25-200l20-40l-5-35l-30 10l0 50l-20 35l0 30l-10 15l-20-10l0-40l30-90l15-140l25-40l0-30l20-10l25 40l-25 60l20 20l15-15l-5-50l25-30l-5-55l25-40l0-40l15-15l50 50l15-75l60 15l10-35l45-15l25-40l45 5l35-40l50-5l35-30l55 0l25-35l60 5l25-30l55-10l10-15l-5-60l40 35l35 5l10-10l-10-75l60 50l25-15l0-30l-335-805l-5-40zM1080 11055l15-5l5 10l-15 5z"/><path fill="#f7f51b" fill-rule="evenodd" d="M3395 12305l-5 10l15 5l5-10zM2705 12285l15 25l30 10l90 75l30 5l45 65l80 45l50-35l50 0l10-40l20-20l40 0l35-35l40 5l40-30l40 0l15-15l-10-35l-40 10l-30-25l-45 30l-30-30l-40 10l-30-20l-45 30l-30-30l-45 10l-35-20l-25 30l-15 0l-25-30l-40 15l-30-30l-45 30l-30-25zM2670 12245l-15 20l25 15l10-15zM855 10860l-25 25l5 35l-15 25l0 25l15 15l15-10l0-30l20-35l0-35zM6290 9575l-670 1155l0 25l15 15l35-5l25 45l35 10l20 25l35 15l70 70l10 25l-15 45l5 40l-20 50l45 40l5 20l-25 30l-25-35l-20 15l-20 115l-20 30l5 30l15 0l5-40l30-35l-10-50l15-15l30 25l-25 50l20 25l30-10l0-35l15-15l55 25l35-50l55 10l35-25l55 10l35-35l115 25zM5925 11160l20 10l-15 30l-15-10zM5930 11095l20-10l10 20l-20 10zM5875 11040l30 25l-20 35l-25-20l0-25zM5955 11020l15-10l10 15l-15 10zM5895 10965l25 15l0 25l-20 15l-20-25zM2715 9315l175 320l100 95l25-5l20-25l70 0l15-40l60 5l20-40l65 5l25-20l60 5l15-35l25-15l25 0l55 30l5-15l-20-30l15-25l35 0l50 45l10-10l-10-65l15-10l65 50l30-5l15 40l20 10l10-25l-40-40l0-15l20-10l40 5l115 100l15-20l-35-60l10-10l40 5l130 100l45 50l75 30l50 45l40 5l10 30l20 15l40 5l20-10l15 35l330-325l150-175zM445 9315l-10 10l0 1450l10-10l75 0l30 25l105 45l35 45l45 10l25 35l20 5l25-65l0-55l-30 5l-5 40l-15 15l-15-10l10-110l25-40l0-25l15-10l25 35l-25 35l5 35l15 10l15-15l-5-55l25-30l5-35l15-15l20 15l10 35l-25 30l5 40l-25 35l5 30l15 15l15-5l0-70l20-30l25-105l15-15l40 15l10-10l-10-30l10-20l50-5l15-35l65-10l25-40l55 10l20-40l60 0l10-35l-345-1090l10-10z"/><path fill="#f9fb15" fill-rule="evenodd" d="M6290 10390l-295 550l10 30l15 10l30-5l25 45l100 50l35 35l80-20zM435 9395l0 1300l70 5l45-10l20-30l60 10l25-30l55 0l20-50l15 10l45-5l10-35zM3350 9315l140 145l20 0l20-35l25 15l35 0l25-40l65 0l20-40l75 0l20 45l40 10l20 35l30 15l20 0l135-150z"/></g></g><path class="ax" d="M45.1 1457.4L45.0 1066.4M297.8 1636.0L45.1 1457.4M297.8 1636.0L627.5 1499.0M45.0 1421.8L37.3 1416.3M45.0 1386.1L37.3 1380.7M45.0 1350.5L37.3 1345.0M45.0 1314.9L37.3 1309.4M45.0 1279.2L37.3 1273.7M45.0 1243.6L37.2 1238.1M45.0 1207.9L37.2 1202.5M45.0 1172.3L37.2 1166.8M45.0 1136.7L37.2 1131.2M45.0 1101.0L37.2 1095.5M297.8 1636.0L289.0 1639.7M266.2 1613.7L257.4 1617.3M234.6 1591.4L225.8 1595.0M203.0 1569.0L194.2 1572.7M171.4 1546.7L162.6 1550.4M139.8 1524.4L131.0 1528.0M108.2 1502.1L99.5 1505.7M76.6 1479.7L67.9 1483.4M45.1 1457.4L36.3 1461.1M297.8 1636.0L305.5 1641.5M339.0 1618.9L346.7 1624.4M380.2 1601.8L388.0 1607.2M421.4 1584.6L429.2 1590.1M462.7 1567.5L470.4 1573.0M503.9 1550.4L511.6 1555.9M545.1 1533.2L552.9 1538.7M586.3 1516.1L594.1 1521.6M627.5 1499.0L635.3 1504.5"/><text x="32.0" y="1419.5" text-anchor="end">2</text><text x="32.0" y="1383.8" text-anchor="end">4</text><text x="32.0" y="1348.2" text-anchor="end">6</text><text x="32.0" y="1312.6" text-anchor="end">8</text><text x="32.0" y="1276.9" text-anchor="end">10</text><text x="32.0" y="1241.3" text-anchor="end">12</text><text x="32.0" y="1205.6" text-anchor="end">14</text><text x="32.0" y="1170.0" text-anchor="end">16</text><text x="32.0" y="1134.4" text-anchor="end">18</text><text x="32.0" y="1098.7" text-anchor="end">20</text><text x="283.0" y="1654.4" text-anchor="end">−20</text><text x="251.4" y="1632.1" text-anchor="end">−15</text><text x="219.8" y="1609.8" text-anchor="end">−10</text><text x="188.2" y="1587.4" text-anchor="end">−5</text><text x="156.6" y="1565.1" text-anchor="end">0</text><text x="125.0" y="1542.8" text-anchor="end">5</text><text x="93.4" y="1520.5" text-anchor="end">10</text><text x="61.8" y="1498.1" text-anchor="end">15</text><text x="30.3" y="1475.8" text-anchor="end">20</text><text x="316.2" y="1656.0" text-anchor="middle">−20</text><text x="357.4" y="1638.9" text-anchor="middle">−15</text><text x="398.6" y="1621.8" text-anchor="middle">−10</text><text x="437.4" y="1604.6" text-anchor="middle">−5</text><text x="477.7" y="1587.5" text-anchor="middle">0</text><text x="518.9" y="1570.4" text-anchor="middle">5</text><text x="560.1" y="1553.2" text-anchor="middle">10</text><text x="601.3" y="1536.1" text-anchor="middle">15</text><text x="642.5" y="1519.0" text-anchor="middle">20</text><g fill="none" stroke-width="46" stroke-linejoin="round" transform="scale(.1)"><path stroke="#ff0000" d="M8127 1485l20 152l6 263l9 1100l7 1100l27 3125"/><path stroke="#ffd700" d="M8127 1425l2173 40l50 36l1576 4l21 65l313 0l24 14l946 0l44 21l273 0l21 21l397 0"/><path stroke="#000080" d="M8127 1460l33 40l44 70l5 330l14 2200l37 2007l27 912l9 206"/><path stroke="#008000" d="M8127 1460l65 81l287 34l182 21l267 14l393 5l449 23l7 14l323 28l500 30l3365 7"/><path stroke="#ff6600" d="M8127 1460l212 44l126 28l126 14l534 14l168 36l42 35l112 21l267 14l386 42l55 2l165 22l446 42l234 69l274 47l358 25l273 10l611 2l1449 0"/><path stroke="#9933cc" d="M8127 1430l310 60l1663 14l210 0l35 39l655 1l2210 13l755 6"/><path stroke="#1e90ff" d="M8127 1460l113 94l141 91l70 63l210 14l29 28l13 150l0 179l63 61l0 60l49 84l42 70l21 155l28 112l7 211l63 56l7 154l49 70l8 70l105 71l28 112l70 42l70 84l63 28l14 127l64 42l56 42l84 28l42 126l28 98l42 43l23 75l54 109l46 55l27 292l37 201l45 45l55 156l46 237l64 127l36 146l9 256l46 55l45 145l28 128l45 37l19 237l36 128l37 273l18 498"/><path stroke="#00b3b3" d="M8127 1415l155 19l1818 21l757 6l43 16l1616 2l63 21l484 6l147 26l755 10"/><path stroke="#ff3399" d="M8128 1490l56 113l84 0l28 147l20 150l36 300l14 168l63 7l35 57l49 7l56 56l85 21l14 91l42 14l14 99l28 27l7 78l751 0l14 119l154 0l22 63l41 14l14 70l281 1l14 147l133 0l17 31l57 13l15 83l235 0l24 197l212 0l15 109l295 0l44 92l73 6l30 67l118 6l15 35l73 2l15 125l295 0l14 109l266 0l14 136l177 6l15 88l206 0l30 20l132 4l15 50l74 6l15 150l117 0l30 109l44 15l30 206l206 0l59 44l15 98l147 0l44 35l89 15l73 44l15 212l192 0l14 201l216 0"/><path stroke="#4d4d4d" d="M8127 1430l29 46l225 99l140 42l140 14l57 35l364 28l422 28l596 21l55 20l42 37l803-1l210 0l50 11l98 6l32 27l494 0l21 72l590 6l42 36l379 4l42 19l189 4l43 11l189 4l41 13l127 0l43 14l105 15l270 2"/><path stroke="#99004d" d="M8136 1429l6-23l50 29l56 45l57 33l76 76l42 161l22 89l47 93l35 268l7 168l28 253l42 56l28 155l36 84l14 266l56 225l21 309l21 238l35 71l28 126l10 22l27 292l46 255l36 402l37 292l36 127l46 128l27 128l9 237l28 91l27 329l28 36l27 237l45 92l37 164l9 242"/></g><path fill="none" stroke="#262626" stroke-width="1.1" d="M812.7 16.4H1396.5V722.5H812.7ZM812.7 722.5v-6M812.7 16.4v6M871.1 722.5v-6M871.1 16.4v6M929.5 722.5v-6M929.5 16.4v6M987.8 722.5v-6M987.8 16.4v6M1046.2 722.5v-6M1046.2 16.4v6M1104.6 722.5v-6M1104.6 16.4v6M1163.0 722.5v-6M1163.0 16.4v6M1221.4 722.5v-6M1221.4 16.4v6M1279.7 722.5v-6M1279.7 16.4v6M1338.1 722.5v-6M1338.1 16.4v6M1396.5 722.5v-6M1396.5 16.4v6M812.7 57.8h6.5M1396.5 57.8h-6.5M812.7 234.5h6.5M1396.5 234.5h-6.5M812.7 411.2h6.5M1396.5 411.2h-6.5M812.7 588.0h6.5M1396.5 588.0h-6.5M812.7 694.0h3.2M1396.5 694.0h-3.2M812.7 658.7h3.2M1396.5 658.7h-3.2M812.7 623.4h3.2M1396.5 623.4h-3.2M812.7 552.7h3.2M1396.5 552.7h-3.2M812.7 517.3h3.2M1396.5 517.3h-3.2M812.7 482.0h3.2M1396.5 482.0h-3.2M812.7 446.6h3.2M1396.5 446.6h-3.2M812.7 375.9h3.2M1396.5 375.9h-3.2M812.7 340.6h3.2M1396.5 340.6h-3.2M812.7 305.2h3.2M1396.5 305.2h-3.2M812.7 269.9h3.2M1396.5 269.9h-3.2M812.7 199.2h3.2M1396.5 199.2h-3.2M812.7 163.8h3.2M1396.5 163.8h-3.2M812.7 128.4h3.2M1396.5 128.4h-3.2M812.7 93.1h3.2M1396.5 93.1h-3.2M812.7 22.4h3.2M1396.5 22.4h-3.2"/><text x="812.7" y="740.7" text-anchor="middle" class="tk">0</text><text x="871.1" y="740.7" text-anchor="middle" class="tk">50</text><text x="929.5" y="740.7" text-anchor="middle" class="tk">100</text><text x="987.8" y="740.7" text-anchor="middle" class="tk">150</text><text x="1046.2" y="740.7" text-anchor="middle" class="tk">200</text><text x="1104.6" y="740.7" text-anchor="middle" class="tk">250</text><text x="1163.0" y="740.7" text-anchor="middle" class="tk">300</text><text x="1221.4" y="740.7" text-anchor="middle" class="tk">350</text><text x="1279.7" y="740.7" text-anchor="middle" class="tk">400</text><text x="1338.1" y="740.7" text-anchor="middle" class="tk">450</text><text x="1396.5" y="740.7" text-anchor="middle" class="tk">500</text><text class="tk" x="807.5" y="64.0" text-anchor="end">10<tspan class="sp" dy="-7">5</tspan></text><text class="tk" x="807.5" y="240.8" text-anchor="end">10<tspan class="sp" dy="-7">0</tspan></text><text class="tk" x="807.5" y="417.6" text-anchor="end">10<tspan class="sp" dy="-7">−5</tspan></text><text class="tk" x="807.5" y="594.3" text-anchor="end">10<tspan class="sp" dy="-7">−10</tspan></text><text class="al" transform="translate(771.3 371.8) rotate(-90)" text-anchor="middle">Average Fitness Value</text><text class="al" x="958" y="767.7">Function Evaluations</text><text class="al" x="1199.5" y="767.7" style="font-size:23px">/30</text><path fill="none" stroke="#262626" stroke-width="1.5" d="M1196.3 751.0Q1183.3 759.4 1196.3 767.9M1234.2 751.0Q1248 759.4 1234.2 767.9"/><rect x="1126.6" y="448.8" width="125.8" height="217.5" fill="#fff" stroke="#555" stroke-width="1.1"/><path stroke="#ff0000" stroke-width="4.5" d="M1131.1 459.6h35.6"/><text x="1169.5" y="465.4" class="lg">AP-IVYPSO</text><path stroke="#ffd700" stroke-width="4.5" d="M1131.1 479.2h35.6"/><text x="1169.5" y="485.0" class="lg">PSO</text><path stroke="#000080" stroke-width="4.5" d="M1131.1 498.7h35.6"/><text x="1169.5" y="504.5" class="lg">IVY</text><path stroke="#008000" stroke-width="4.5" d="M1131.1 518.3h35.6"/><text x="1169.5" y="524.1" class="lg">HFPSO</text><path stroke="#ff6600" stroke-width="4.5" d="M1131.1 537.9h35.6"/><text x="1169.5" y="543.7" class="lg">HJSPSO</text><path stroke="#9933cc" stroke-width="4.5" d="M1131.1 557.5h35.6"/><text x="1169.5" y="563.2" class="lg">BOA</text><path stroke="#1e90ff" stroke-width="4.5" d="M1131.1 577.0h35.6"/><text x="1169.5" y="582.8" class="lg">WOA</text><path stroke="#00b3b3" stroke-width="4.5" d="M1131.1 596.6h35.6"/><text x="1169.5" y="602.4" class="lg">GOOSE</text><path stroke="#ff3399" stroke-width="4.5" d="M1131.1 616.2h35.6"/><text x="1169.5" y="622.0" class="lg">PSOBOA</text><path stroke="#4d4d4d" stroke-width="4.5" d="M1131.1 635.7h35.6"/><text x="1169.5" y="641.5" class="lg">NSM-BO</text><path stroke="#99004d" stroke-width="4.5" d="M1131.1 655.3h35.6"/><text x="1169.5" y="661.1" class="lg">FDB-AGSK</text><g fill="none" stroke-width="46" stroke-linejoin="round" transform="scale(.1)"><path stroke="#ff0000" d="M8129 9580l5 30l21 632l21 758l42 2300l53 2805l42 8"/><path stroke="#ffd700" d="M8129 9580l171 50l171 44l421 31l842 32l632 21l634 17l842 25l632 21l631 32l860 65"/><path stroke="#000080" d="M8129 9580l47 73l42 589l42 758l15 602l10 1598l18 1053l42 1852l15 8l2600 0"/><path stroke="#008000" d="M8129 9580l131 104l210 53l212 10l105 11l316 32l421 42l421 42l525 42l212 42l210 116l108 42l210 84l253 84l84 74l85 10l84 64l274 73l63 53l421 137l316 95l210 84l172 68l196 28l141 56l140 56l140 57l176 56"/><path stroke="#ff6600" d="M8129 9580l91 60l83 118l105 63l63 53l63 10l42 106l106 105l42 42l42 210l63 32l63 74l42 252l63 21l64 64l21 105l77 47l28 98l84 71l28 112l70 56l42 42l28 98l85 113l84 56l42 112l70 70l56 126l56 85l29 280l84 7l98 106l97 56l85 154l84 225l56 196l84 113l42 168l1 82l84 85l85 189l21 211l63 168l63 21l42 126l84 169l63 126l28 137l16 202l62 11l67 90l34 191l45 45l11 112l45 11l45 68l34 168l45 34l28 90l73 11l11 101"/><path stroke="#9933cc" d="M8129 9580l47 20l190 10l316 137l210 95l168 116l169 189l168 179l127 148l210 189l169 127l231 200l6 22l281 197l337 252l224 127l225 140l365 225l112 42l225 154l337 140l196 99l365 168l281 112l280 141l281 112l316 87"/><path stroke="#1e90ff" d="M8129 9580l131 94l106 126l63 168l84 64l84 168l85 84l84 84l42 106l42 63l42 168l63 85l63 105l28 33l29 112l168 42l70 8l84 49l43 70l28 112l0 183l70 70l42 84l98 56l126 126l57 85l70 154l56 168l28 155l41 126l112 337l113 253l56 182l71 174l42 358l84 189l84 232l43 189l42 295l84 147l58 143l11 168l34 34l45 135l33 123l23 135l22 112"/><path stroke="#00b3b3" d="M8129 9570l2871 13l2965 11"/><path stroke="#ff3399" d="M8129 9600l111 284l84 569l84 294l35 293l42 141l56 84l14 98l56 98l57 183l42 56l28 182l56 71l70 182l28 56l84 42l56 141l29 140l56 112l56 113l42 112l42 112l56 28l56 183l71 152l84 148l84 84l42 231l84 43l42 126l85 42l42 253l105 21l42 168l84 21l42 169l64 147l42 21l42 168l63 43l63 63l84 294l63 21l21 127l85 42l31 84l11 92l212 0l0 379l3008 0"/><path stroke="#4d4d4d" d="M8129 9580l5 10l126 52l422 74l210 42l168 53l253 10l84 32l169 52l274 32l315 21l421 32l211 20l550 1l147 42l548 0l63 84l389 0l11 358l31 221l621 21l32 42l786 0"/><path stroke="#99004d" d="M8129 9580l5-1l106 95l20 63l32 884l74 42l84 126l63 169l14 26l14 112l56 85l43 126l56 154l14 99l56 84l42 154l42 84l70 253l28 239l42 70l99 393l70 168l49 195l63 211l42 84l63 316l64 189l63 42l63 253l42 210l63 106l63 336l63 106l43 231l42 105l63 232l10 113l4010 0"/></g><path fill="none" stroke="#262626" stroke-width="1.1" d="M812.7 930.0H1396.5V1636.2H812.7ZM812.7 1636.2v-6M812.7 930.0v6M871.1 1636.2v-6M871.1 930.0v6M929.5 1636.2v-6M929.5 930.0v6M987.8 1636.2v-6M987.8 930.0v6M1046.2 1636.2v-6M1046.2 930.0v6M1104.6 1636.2v-6M1104.6 930.0v6M1163.0 1636.2v-6M1163.0 930.0v6M1221.4 1636.2v-6M1221.4 930.0v6M1279.7 1636.2v-6M1279.7 930.0v6M1338.1 1636.2v-6M1338.1 930.0v6M1396.5 1636.2v-6M1396.5 930.0v6M812.7 930.0h6.5M1396.5 930.0h-6.5M812.7 1008.5h6.5M1396.5 1008.5h-6.5M812.7 1087.0h6.5M1396.5 1087.0h-6.5M812.7 1165.4h6.5M1396.5 1165.4h-6.5M812.7 1243.9h6.5M1396.5 1243.9h-6.5M812.7 1322.4h6.5M1396.5 1322.4h-6.5M812.7 1400.8h6.5M1396.5 1400.8h-6.5M812.7 1479.3h6.5M1396.5 1479.3h-6.5M812.7 1557.8h6.5M1396.5 1557.8h-6.5M812.7 1636.2h6.5M1396.5 1636.2h-6.5M812.7 1624.4h3.2M1396.5 1624.4h-3.2M812.7 1617.5h3.2M1396.5 1617.5h-3.2M812.7 1612.6h3.2M1396.5 1612.6h-3.2M812.7 1608.8h3.2M1396.5 1608.8h-3.2M812.7 1605.7h3.2M1396.5 1605.7h-3.2M812.7 1603.1h3.2M1396.5 1603.1h-3.2M812.7 1600.8h3.2M1396.5 1600.8h-3.2M812.7 1598.8h3.2M1396.5 1598.8h-3.2M812.7 1597.0h3.2M1396.5 1597.0h-3.2M812.7 1585.2h3.2M1396.5 1585.2h-3.2M812.7 1578.3h3.2M1396.5 1578.3h-3.2M812.7 1573.4h3.2M1396.5 1573.4h-3.2M812.7 1569.6h3.2M1396.5 1569.6h-3.2M812.7 1566.5h3.2M1396.5 1566.5h-3.2M812.7 1563.8h3.2M1396.5 1563.8h-3.2M812.7 1561.6h3.2M1396.5 1561.6h-3.2M812.7 1559.6h3.2M1396.5 1559.6h-3.2M812.7 1546.0h3.2M1396.5 1546.0h-3.2M812.7 1539.0h3.2M1396.5 1539.0h-3.2M812.7 1534.1h3.2M1396.5 1534.1h-3.2M812.7 1530.3h3.2M1396.5 1530.3h-3.2M812.7 1527.2h3.2M1396.5 1527.2h-3.2M812.7 1524.6h3.2M1396.5 1524.6h-3.2M812.7 1522.3h3.2M1396.5 1522.3h-3.2M812.7 1520.3h3.2M1396.5 1520.3h-3.2M812.7 1518.5h3.2M1396.5 1518.5h-3.2M812.7 1506.7h3.2M1396.5 1506.7h-3.2M812.7 1499.8h3.2M1396.5 1499.8h-3.2M812.7 1494.9h3.2M1396.5 1494.9h-3.2M812.7 1491.1h3.2M1396.5 1491.1h-3.2M812.7 1488.0h3.2M1396.5 1488.0h-3.2M812.7 1485.4h3.2M1396.5 1485.4h-3.2M812.7 1483.1h3.2M1396.5 1483.1h-3.2M812.7 1481.1h3.2M1396.5 1481.1h-3.2M812.7 1467.5h3.2M1396.5 1467.5h-3.2M812.7 1460.6h3.2M1396.5 1460.6h-3.2M812.7 1455.7h3.2M1396.5 1455.7h-3.2M812.7 1451.9h3.2M1396.5 1451.9h-3.2M812.7 1448.8h3.2M1396.5 1448.8h-3.2M812.7 1446.1h3.2M1396.5 1446.1h-3.2M812.7 1443.9h3.2M1396.5 1443.9h-3.2M812.7 1441.9h3.2M1396.5 1441.9h-3.2M812.7 1440.1h3.2M1396.5 1440.1h-3.2M812.7 1428.3h3.2M1396.5 1428.3h-3.2M812.7 1421.3h3.2M1396.5 1421.3h-3.2M812.7 1416.4h3.2M1396.5 1416.4h-3.2M812.7 1412.6h3.2M1396.5 1412.6h-3.2M812.7 1409.5h3.2M1396.5 1409.5h-3.2M812.7 1406.9h3.2M1396.5 1406.9h-3.2M812.7 1404.6h3.2M1396.5 1404.6h-3.2M812.7 1402.6h3.2M1396.5 1402.6h-3.2M812.7 1389.0h3.2M1396.5 1389.0h-3.2M812.7 1382.1h3.2M1396.5 1382.1h-3.2M812.7 1377.2h3.2M1396.5 1377.2h-3.2M812.7 1373.4h3.2M1396.5 1373.4h-3.2M812.7 1370.3h3.2M1396.5 1370.3h-3.2M812.7 1367.7h3.2M1396.5 1367.7h-3.2M812.7 1365.4h3.2M1396.5 1365.4h-3.2M812.7 1363.4h3.2M1396.5 1363.4h-3.2M812.7 1361.6h3.2M1396.5 1361.6h-3.2M812.7 1349.8h3.2M1396.5 1349.8h-3.2M812.7 1342.9h3.2M1396.5 1342.9h-3.2M812.7 1338.0h3.2M1396.5 1338.0h-3.2M812.7 1334.2h3.2M1396.5 1334.2h-3.2M812.7 1331.1h3.2M1396.5 1331.1h-3.2M812.7 1328.4h3.2M1396.5 1328.4h-3.2M812.7 1326.2h3.2M1396.5 1326.2h-3.2M812.7 1324.2h3.2M1396.5 1324.2h-3.2M812.7 1310.6h3.2M1396.5 1310.6h-3.2M812.7 1303.6h3.2M1396.5 1303.6h-3.2M812.7 1298.7h3.2M1396.5 1298.7h-3.2M812.7 1294.9h3.2M1396.5 1294.9h-3.2M812.7 1291.8h3.2M1396.5 1291.8h-3.2M812.7 1289.2h3.2M1396.5 1289.2h-3.2M812.7 1286.9h3.2M1396.5 1286.9h-3.2M812.7 1284.9h3.2M1396.5 1284.9h-3.2M812.7 1283.1h3.2M1396.5 1283.1h-3.2M812.7 1271.3h3.2M1396.5 1271.3h-3.2M812.7 1264.4h3.2M1396.5 1264.4h-3.2M812.7 1259.5h3.2M1396.5 1259.5h-3.2M812.7 1255.7h3.2M1396.5 1255.7h-3.2M812.7 1252.6h3.2M1396.5 1252.6h-3.2M812.7 1250.0h3.2M1396.5 1250.0h-3.2M812.7 1247.7h3.2M1396.5 1247.7h-3.2M812.7 1245.7h3.2M1396.5 1245.7h-3.2M812.7 1232.1h3.2M1396.5 1232.1h-3.2M812.7 1225.2h3.2M1396.5 1225.2h-3.2M812.7 1220.3h3.2M1396.5 1220.3h-3.2M812.7 1216.5h3.2M1396.5 1216.5h-3.2M812.7 1213.4h3.2M1396.5 1213.4h-3.2M812.7 1210.7h3.2M1396.5 1210.7h-3.2M812.7 1208.5h3.2M1396.5 1208.5h-3.2M812.7 1206.5h3.2M1396.5 1206.5h-3.2M812.7 1204.7h3.2M1396.5 1204.7h-3.2M812.7 1192.9h3.2M1396.5 1192.9h-3.2M812.7 1185.9h3.2M1396.5 1185.9h-3.2M812.7 1181.0h3.2M1396.5 1181.0h-3.2M812.7 1177.2h3.2M1396.5 1177.2h-3.2M812.7 1174.1h3.2M1396.5 1174.1h-3.2M812.7 1171.5h3.2M1396.5 1171.5h-3.2M812.7 1169.2h3.2M1396.5 1169.2h-3.2M812.7 1167.2h3.2M1396.5 1167.2h-3.2M812.7 1153.6h3.2M1396.5 1153.6h-3.2M812.7 1146.7h3.2M1396.5 1146.7h-3.2M812.7 1141.8h3.2M1396.5 1141.8h-3.2M812.7 1138.0h3.2M1396.5 1138.0h-3.2M812.7 1134.9h3.2M1396.5 1134.9h-3.2M812.7 1132.3h3.2M1396.5 1132.3h-3.2M812.7 1130.0h3.2M1396.5 1130.0h-3.2M812.7 1128.0h3.2M1396.5 1128.0h-3.2M812.7 1126.2h3.2M1396.5 1126.2h-3.2M812.7 1114.4h3.2M1396.5 1114.4h-3.2M812.7 1107.5h3.2M1396.5 1107.5h-3.2M812.7 1102.6h3.2M1396.5 1102.6h-3.2M812.7 1098.8h3.2M1396.5 1098.8h-3.2M812.7 1095.7h3.2M1396.5 1095.7h-3.2M812.7 1093.0h3.2M1396.5 1093.0h-3.2M812.7 1090.8h3.2M1396.5 1090.8h-3.2M812.7 1088.8h3.2M1396.5 1088.8h-3.2M812.7 1075.2h3.2M1396.5 1075.2h-3.2M812.7 1068.2h3.2M1396.5 1068.2h-3.2M812.7 1063.3h3.2M1396.5 1063.3h-3.2M812.7 1059.5h3.2M1396.5 1059.5h-3.2M812.7 1056.4h3.2M1396.5 1056.4h-3.2M812.7 1053.8h3.2M1396.5 1053.8h-3.2M812.7 1051.5h3.2M1396.5 1051.5h-3.2M812.7 1049.5h3.2M1396.5 1049.5h-3.2M812.7 1047.7h3.2M1396.5 1047.7h-3.2M812.7 1035.9h3.2M1396.5 1035.9h-3.2M812.7 1029.0h3.2M1396.5 1029.0h-3.2M812.7 1024.1h3.2M1396.5 1024.1h-3.2M812.7 1020.3h3.2M1396.5 1020.3h-3.2M812.7 1017.2h3.2M1396.5 1017.2h-3.2M812.7 1014.6h3.2M1396.5 1014.6h-3.2M812.7 1012.3h3.2M1396.5 1012.3h-3.2M812.7 1010.3h3.2M1396.5 1010.3h-3.2M812.7 996.7h3.2M1396.5 996.7h-3.2M812.7 989.8h3.2M1396.5 989.8h-3.2M812.7 984.9h3.2M1396.5 984.9h-3.2M812.7 981.1h3.2M1396.5 981.1h-3.2M812.7 978.0h3.2M1396.5 978.0h-3.2M812.7 975.3h3.2M1396.5 975.3h-3.2M812.7 973.1h3.2M1396.5 973.1h-3.2M812.7 971.1h3.2M1396.5 971.1h-3.2M812.7 969.3h3.2M1396.5 969.3h-3.2M812.7 957.5h3.2M1396.5 957.5h-3.2M812.7 950.5h3.2M1396.5 950.5h-3.2M812.7 945.6h3.2M1396.5 945.6h-3.2M812.7 941.8h3.2M1396.5 941.8h-3.2M812.7 938.7h3.2M1396.5 938.7h-3.2M812.7 936.1h3.2M1396.5 936.1h-3.2M812.7 933.8h3.2M1396.5 933.8h-3.2M812.7 931.8h3.2M1396.5 931.8h-3.2"/><text x="812.7" y="1654.4" text-anchor="middle" class="tk">0</text><text x="871.1" y="1654.4" text-anchor="middle" class="tk">50</text><text x="929.5" y="1654.4" text-anchor="middle" class="tk">100</text><text x="987.8" y="1654.4" text-anchor="middle" class="tk">150</text><text x="1046.2" y="1654.4" text-anchor="middle" class="tk">200</text><text x="1104.6" y="1654.4" text-anchor="middle" class="tk">250</text><text x="1163.0" y="1654.4" text-anchor="middle" class="tk">300</text><text x="1221.4" y="1654.4" text-anchor="middle" class="tk">350</text><text x="1279.7" y="1654.4" text-anchor="middle" class="tk">400</text><text x="1338.1" y="1654.4" text-anchor="middle" class="tk">450</text><text x="1396.5" y="1654.4" text-anchor="middle" class="tk">500</text><text class="tk" x="807.5" y="936.3" text-anchor="end">10<tspan class="sp" dy="-7">2</tspan></text><text class="tk" x="807.5" y="1014.8" text-anchor="end">10<tspan class="sp" dy="-7">0</tspan></text><text class="tk" x="807.5" y="1093.3" text-anchor="end">10<tspan class="sp" dy="-7">−2</tspan></text><text class="tk" x="807.5" y="1171.7" text-anchor="end">10<tspan class="sp" dy="-7">−4</tspan></text><text class="tk" x="807.5" y="1250.2" text-anchor="end">10<tspan class="sp" dy="-7">−6</tspan></text><text class="tk" x="807.5" y="1328.7" text-anchor="end">10<tspan class="sp" dy="-7">−8</tspan></text><text class="tk" x="807.5" y="1407.1" text-anchor="end">10<tspan class="sp" dy="-7">−10</tspan></text><text class="tk" x="807.5" y="1485.6" text-anchor="end">10<tspan class="sp" dy="-7">−12</tspan></text><text class="tk" x="807.5" y="1564.1" text-anchor="end">10<tspan class="sp" dy="-7">−14</tspan></text><text class="tk" x="807.5" y="1642.5" text-anchor="end">10<tspan class="sp" dy="-7">−16</tspan></text><text class="al" transform="translate(771.3 1285.5) rotate(-90)" text-anchor="middle">Average Fitness Value</text><text class="al" x="958" y="1681.4">Function Evaluations</text><text class="al" x="1199.5" y="1681.4" style="font-size:23px">/30</text><path fill="none" stroke="#262626" stroke-width="1.5" d="M1196.3 1664.7Q1183.3 1673.1 1196.3 1681.6M1234.2 1664.7Q1248 1673.1 1234.2 1681.6"/><rect x="1180.4" y="1273.0" width="125.8" height="217.5" fill="#fff" stroke="#555" stroke-width="1.1"/><path stroke="#ff0000" stroke-width="4.5" d="M1184.9 1283.8h35.6"/><text x="1223.3" y="1289.6" class="lg">AP-IVYPSO</text><path stroke="#ffd700" stroke-width="4.5" d="M1184.9 1303.4h35.6"/><text x="1223.3" y="1309.2" class="lg">PSO</text><path stroke="#000080" stroke-width="4.5" d="M1184.9 1322.9h35.6"/><text x="1223.3" y="1328.7" class="lg">IVY</text><path stroke="#008000" stroke-width="4.5" d="M1184.9 1342.5h35.6"/><text x="1223.3" y="1348.3" class="lg">HFPSO</text><path stroke="#ff6600" stroke-width="4.5" d="M1184.9 1362.1h35.6"/><text x="1223.3" y="1367.9" class="lg">HJSPSO</text><path stroke="#9933cc" stroke-width="4.5" d="M1184.9 1381.6h35.6"/><text x="1223.3" y="1387.4" class="lg">BOA</text><path stroke="#1e90ff" stroke-width="4.5" d="M1184.9 1401.2h35.6"/><text x="1223.3" y="1407.0" class="lg">WOA</text><path stroke="#00b3b3" stroke-width="4.5" d="M1184.9 1420.8h35.6"/><text x="1223.3" y="1426.6" class="lg">GOOSE</text><path stroke="#ff3399" stroke-width="4.5" d="M1184.9 1440.4h35.6"/><text x="1223.3" y="1446.2" class="lg">PSOBOA</text><path stroke="#4d4d4d" stroke-width="4.5" d="M1184.9 1459.9h35.6"/><text x="1223.3" y="1465.7" class="lg">NSM-BO</text><path stroke="#99004d" stroke-width="4.5" d="M1184.9 1479.5h35.6"/><text x="1223.3" y="1485.3" class="lg">FDB-AGSK</text><text class="cap" x="639" y="853.8">(<tspan font-weight="bold">q</tspan>) f17.</text><text class="cap" x="643" y="1767.2">(<tspan font-weight="bold">r</tspan>) f18.</text></svg></body></html>
